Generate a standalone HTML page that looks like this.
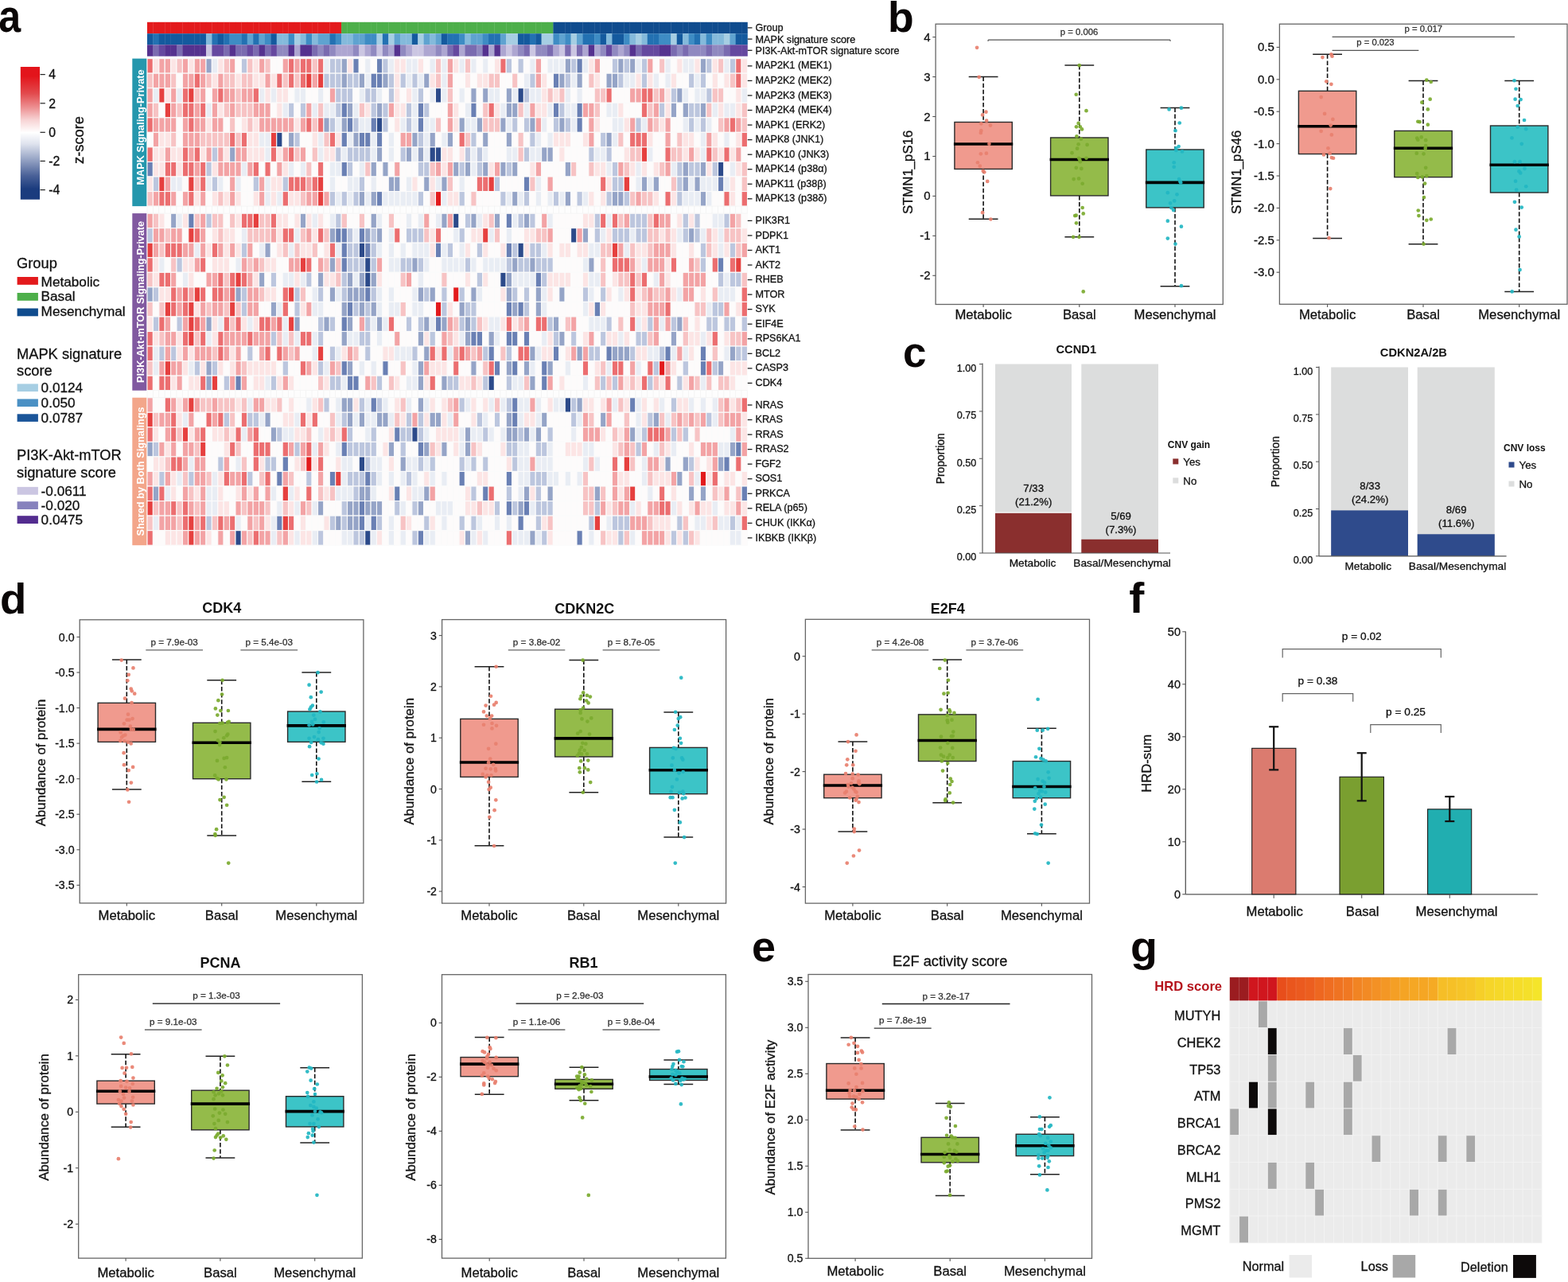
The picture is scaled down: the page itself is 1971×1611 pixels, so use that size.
<!DOCTYPE html>
<html><head><meta charset="utf-8"><title>Figure</title>
<style>html,body{margin:0;padding:0;background:#fff;width:1971px;height:1611px;overflow:hidden}
svg{display:block;font-family:'Liberation Sans', Arial, sans-serif}
.hm rect{width:7.4px;height:18.55px;stroke:#fbfbfb;stroke-width:1.1px}
.hg rect{width:7.4px;height:9px;fill:#fdfdfd;stroke:#f3f3f3;stroke-width:0.7px}</style></head>
<body><svg width="1971" height="1611" viewBox="0 0 1971 1611">
<rect x="0" y="0" width="1971" height="1611" fill="#ffffff"/>
<text x="0" y="0" font-size="57" font-weight="bold" fill="#0a0606" transform="translate(-1.8 40.2) scale(0.88 1)">a</text>
<text x="1116" y="40.2" font-size="53.5" text-anchor="start" font-weight="bold" fill="#0a0606">b</text>
<text x="1135" y="461.2" font-size="53" text-anchor="start" font-weight="bold" fill="#0a0606">c</text>
<text x="0" y="0" font-size="53" font-weight="bold" fill="#0a0606" transform="translate(0 770.6) scale(1.03 1)">d</text>
<text x="945" y="1208.2" font-size="54" text-anchor="start" font-weight="bold" fill="#0a0606">e</text>
<text x="0" y="0" font-size="53" font-weight="bold" fill="#0a0606" transform="translate(1419.2 770) scale(1.08 1)">f</text>
<text x="0" y="0" font-size="54" font-weight="bold" fill="#0a0606" transform="translate(1421 1208) scale(1.03 1)">g</text>
<rect x="185" y="27.8" width="7.7" height="14.4" fill="#e31a1c"/>
<rect x="192.4" y="27.8" width="7.7" height="14.4" fill="#e31a1c"/>
<rect x="199.79" y="27.8" width="7.7" height="14.4" fill="#e31a1c"/>
<rect x="207.19" y="27.8" width="7.7" height="14.4" fill="#e31a1c"/>
<rect x="214.59" y="27.8" width="7.7" height="14.4" fill="#e31a1c"/>
<rect x="221.99" y="27.8" width="7.7" height="14.4" fill="#e31a1c"/>
<rect x="229.38" y="27.8" width="7.7" height="14.4" fill="#e31a1c"/>
<rect x="236.78" y="27.8" width="7.7" height="14.4" fill="#e31a1c"/>
<rect x="244.18" y="27.8" width="7.7" height="14.4" fill="#e31a1c"/>
<rect x="251.57" y="27.8" width="7.7" height="14.4" fill="#e31a1c"/>
<rect x="258.97" y="27.8" width="7.7" height="14.4" fill="#e31a1c"/>
<rect x="266.37" y="27.8" width="7.7" height="14.4" fill="#e31a1c"/>
<rect x="273.76" y="27.8" width="7.7" height="14.4" fill="#e31a1c"/>
<rect x="281.16" y="27.8" width="7.7" height="14.4" fill="#e31a1c"/>
<rect x="288.56" y="27.8" width="7.7" height="14.4" fill="#e31a1c"/>
<rect x="295.96" y="27.8" width="7.7" height="14.4" fill="#e31a1c"/>
<rect x="303.35" y="27.8" width="7.7" height="14.4" fill="#e31a1c"/>
<rect x="310.75" y="27.8" width="7.7" height="14.4" fill="#e31a1c"/>
<rect x="318.15" y="27.8" width="7.7" height="14.4" fill="#e31a1c"/>
<rect x="325.54" y="27.8" width="7.7" height="14.4" fill="#e31a1c"/>
<rect x="332.94" y="27.8" width="7.7" height="14.4" fill="#e31a1c"/>
<rect x="340.34" y="27.8" width="7.7" height="14.4" fill="#e31a1c"/>
<rect x="347.74" y="27.8" width="7.7" height="14.4" fill="#e31a1c"/>
<rect x="355.13" y="27.8" width="7.7" height="14.4" fill="#e31a1c"/>
<rect x="362.53" y="27.8" width="7.7" height="14.4" fill="#e31a1c"/>
<rect x="369.93" y="27.8" width="7.7" height="14.4" fill="#e31a1c"/>
<rect x="377.32" y="27.8" width="7.7" height="14.4" fill="#e31a1c"/>
<rect x="384.72" y="27.8" width="7.7" height="14.4" fill="#e31a1c"/>
<rect x="392.12" y="27.8" width="7.7" height="14.4" fill="#e31a1c"/>
<rect x="399.51" y="27.8" width="7.7" height="14.4" fill="#e31a1c"/>
<rect x="406.91" y="27.8" width="7.7" height="14.4" fill="#e31a1c"/>
<rect x="414.31" y="27.8" width="7.7" height="14.4" fill="#e31a1c"/>
<rect x="421.71" y="27.8" width="7.7" height="14.4" fill="#e31a1c"/>
<rect x="429.1" y="27.8" width="7.7" height="14.4" fill="#4daf4a"/>
<rect x="436.5" y="27.8" width="7.7" height="14.4" fill="#4daf4a"/>
<rect x="443.9" y="27.8" width="7.7" height="14.4" fill="#4daf4a"/>
<rect x="451.29" y="27.8" width="7.7" height="14.4" fill="#4daf4a"/>
<rect x="458.69" y="27.8" width="7.7" height="14.4" fill="#4daf4a"/>
<rect x="466.09" y="27.8" width="7.7" height="14.4" fill="#4daf4a"/>
<rect x="473.49" y="27.8" width="7.7" height="14.4" fill="#4daf4a"/>
<rect x="480.88" y="27.8" width="7.7" height="14.4" fill="#4daf4a"/>
<rect x="488.28" y="27.8" width="7.7" height="14.4" fill="#4daf4a"/>
<rect x="495.68" y="27.8" width="7.7" height="14.4" fill="#4daf4a"/>
<rect x="503.07" y="27.8" width="7.7" height="14.4" fill="#4daf4a"/>
<rect x="510.47" y="27.8" width="7.7" height="14.4" fill="#4daf4a"/>
<rect x="517.87" y="27.8" width="7.7" height="14.4" fill="#4daf4a"/>
<rect x="525.26" y="27.8" width="7.7" height="14.4" fill="#4daf4a"/>
<rect x="532.66" y="27.8" width="7.7" height="14.4" fill="#4daf4a"/>
<rect x="540.06" y="27.8" width="7.7" height="14.4" fill="#4daf4a"/>
<rect x="547.46" y="27.8" width="7.7" height="14.4" fill="#4daf4a"/>
<rect x="554.85" y="27.8" width="7.7" height="14.4" fill="#4daf4a"/>
<rect x="562.25" y="27.8" width="7.7" height="14.4" fill="#4daf4a"/>
<rect x="569.65" y="27.8" width="7.7" height="14.4" fill="#4daf4a"/>
<rect x="577.04" y="27.8" width="7.7" height="14.4" fill="#4daf4a"/>
<rect x="584.44" y="27.8" width="7.7" height="14.4" fill="#4daf4a"/>
<rect x="591.84" y="27.8" width="7.7" height="14.4" fill="#4daf4a"/>
<rect x="599.24" y="27.8" width="7.7" height="14.4" fill="#4daf4a"/>
<rect x="606.63" y="27.8" width="7.7" height="14.4" fill="#4daf4a"/>
<rect x="614.03" y="27.8" width="7.7" height="14.4" fill="#4daf4a"/>
<rect x="621.43" y="27.8" width="7.7" height="14.4" fill="#4daf4a"/>
<rect x="628.82" y="27.8" width="7.7" height="14.4" fill="#4daf4a"/>
<rect x="636.22" y="27.8" width="7.7" height="14.4" fill="#4daf4a"/>
<rect x="643.62" y="27.8" width="7.7" height="14.4" fill="#4daf4a"/>
<rect x="651.01" y="27.8" width="7.7" height="14.4" fill="#4daf4a"/>
<rect x="658.41" y="27.8" width="7.7" height="14.4" fill="#4daf4a"/>
<rect x="665.81" y="27.8" width="7.7" height="14.4" fill="#4daf4a"/>
<rect x="673.21" y="27.8" width="7.7" height="14.4" fill="#4daf4a"/>
<rect x="680.6" y="27.8" width="7.7" height="14.4" fill="#4daf4a"/>
<rect x="688" y="27.8" width="7.7" height="14.4" fill="#4daf4a"/>
<rect x="695.4" y="27.8" width="7.7" height="14.4" fill="#104c8e"/>
<rect x="702.79" y="27.8" width="7.7" height="14.4" fill="#104c8e"/>
<rect x="710.19" y="27.8" width="7.7" height="14.4" fill="#104c8e"/>
<rect x="717.59" y="27.8" width="7.7" height="14.4" fill="#104c8e"/>
<rect x="724.99" y="27.8" width="7.7" height="14.4" fill="#104c8e"/>
<rect x="732.38" y="27.8" width="7.7" height="14.4" fill="#104c8e"/>
<rect x="739.78" y="27.8" width="7.7" height="14.4" fill="#104c8e"/>
<rect x="747.18" y="27.8" width="7.7" height="14.4" fill="#104c8e"/>
<rect x="754.57" y="27.8" width="7.7" height="14.4" fill="#104c8e"/>
<rect x="761.97" y="27.8" width="7.7" height="14.4" fill="#104c8e"/>
<rect x="769.37" y="27.8" width="7.7" height="14.4" fill="#104c8e"/>
<rect x="776.76" y="27.8" width="7.7" height="14.4" fill="#104c8e"/>
<rect x="784.16" y="27.8" width="7.7" height="14.4" fill="#104c8e"/>
<rect x="791.56" y="27.8" width="7.7" height="14.4" fill="#104c8e"/>
<rect x="798.96" y="27.8" width="7.7" height="14.4" fill="#104c8e"/>
<rect x="806.35" y="27.8" width="7.7" height="14.4" fill="#104c8e"/>
<rect x="813.75" y="27.8" width="7.7" height="14.4" fill="#104c8e"/>
<rect x="821.15" y="27.8" width="7.7" height="14.4" fill="#104c8e"/>
<rect x="828.54" y="27.8" width="7.7" height="14.4" fill="#104c8e"/>
<rect x="835.94" y="27.8" width="7.7" height="14.4" fill="#104c8e"/>
<rect x="843.34" y="27.8" width="7.7" height="14.4" fill="#104c8e"/>
<rect x="850.74" y="27.8" width="7.7" height="14.4" fill="#104c8e"/>
<rect x="858.13" y="27.8" width="7.7" height="14.4" fill="#104c8e"/>
<rect x="865.53" y="27.8" width="7.7" height="14.4" fill="#104c8e"/>
<rect x="872.93" y="27.8" width="7.7" height="14.4" fill="#104c8e"/>
<rect x="880.32" y="27.8" width="7.7" height="14.4" fill="#104c8e"/>
<rect x="887.72" y="27.8" width="7.7" height="14.4" fill="#104c8e"/>
<rect x="895.12" y="27.8" width="7.7" height="14.4" fill="#104c8e"/>
<rect x="902.51" y="27.8" width="7.7" height="14.4" fill="#104c8e"/>
<rect x="909.91" y="27.8" width="7.7" height="14.4" fill="#104c8e"/>
<rect x="917.31" y="27.8" width="7.7" height="14.4" fill="#104c8e"/>
<rect x="924.71" y="27.8" width="7.7" height="14.4" fill="#104c8e"/>
<rect x="932.1" y="27.8" width="7.7" height="14.4" fill="#104c8e"/>
<rect x="185" y="42.2" width="7.7" height="14.1" fill="#145a9e"/>
<rect x="192.4" y="42.2" width="7.7" height="14.1" fill="#2371b2"/>
<rect x="199.79" y="42.2" width="7.7" height="14.1" fill="#145a9e"/>
<rect x="207.19" y="42.2" width="7.7" height="14.1" fill="#145a9e"/>
<rect x="214.59" y="42.2" width="7.7" height="14.1" fill="#145a9e"/>
<rect x="221.99" y="42.2" width="7.7" height="14.1" fill="#145a9e"/>
<rect x="229.38" y="42.2" width="7.7" height="14.1" fill="#145a9e"/>
<rect x="236.78" y="42.2" width="7.7" height="14.1" fill="#145a9e"/>
<rect x="244.18" y="42.2" width="7.7" height="14.1" fill="#145a9e"/>
<rect x="251.57" y="42.2" width="7.7" height="14.1" fill="#145a9e"/>
<rect x="258.97" y="42.2" width="7.7" height="14.1" fill="#84badb"/>
<rect x="266.37" y="42.2" width="7.7" height="14.1" fill="#2371b2"/>
<rect x="273.76" y="42.2" width="7.7" height="14.1" fill="#145a9e"/>
<rect x="281.16" y="42.2" width="7.7" height="14.1" fill="#2371b2"/>
<rect x="288.56" y="42.2" width="7.7" height="14.1" fill="#3e8cc4"/>
<rect x="295.96" y="42.2" width="7.7" height="14.1" fill="#3e8cc4"/>
<rect x="303.35" y="42.2" width="7.7" height="14.1" fill="#2371b2"/>
<rect x="310.75" y="42.2" width="7.7" height="14.1" fill="#5fa3d0"/>
<rect x="318.15" y="42.2" width="7.7" height="14.1" fill="#2371b2"/>
<rect x="325.54" y="42.2" width="7.7" height="14.1" fill="#5fa3d0"/>
<rect x="332.94" y="42.2" width="7.7" height="14.1" fill="#3e8cc4"/>
<rect x="340.34" y="42.2" width="7.7" height="14.1" fill="#145a9e"/>
<rect x="347.74" y="42.2" width="7.7" height="14.1" fill="#84badb"/>
<rect x="355.13" y="42.2" width="7.7" height="14.1" fill="#84badb"/>
<rect x="362.53" y="42.2" width="7.7" height="14.1" fill="#3e8cc4"/>
<rect x="369.93" y="42.2" width="7.7" height="14.1" fill="#a6cee3"/>
<rect x="377.32" y="42.2" width="7.7" height="14.1" fill="#84badb"/>
<rect x="384.72" y="42.2" width="7.7" height="14.1" fill="#3e8cc4"/>
<rect x="392.12" y="42.2" width="7.7" height="14.1" fill="#84badb"/>
<rect x="399.51" y="42.2" width="7.7" height="14.1" fill="#5fa3d0"/>
<rect x="406.91" y="42.2" width="7.7" height="14.1" fill="#5fa3d0"/>
<rect x="414.31" y="42.2" width="7.7" height="14.1" fill="#2371b2"/>
<rect x="421.71" y="42.2" width="7.7" height="14.1" fill="#3e8cc4"/>
<rect x="429.1" y="42.2" width="7.7" height="14.1" fill="#84badb"/>
<rect x="436.5" y="42.2" width="7.7" height="14.1" fill="#84badb"/>
<rect x="443.9" y="42.2" width="7.7" height="14.1" fill="#5fa3d0"/>
<rect x="451.29" y="42.2" width="7.7" height="14.1" fill="#5fa3d0"/>
<rect x="458.69" y="42.2" width="7.7" height="14.1" fill="#3e8cc4"/>
<rect x="466.09" y="42.2" width="7.7" height="14.1" fill="#3e8cc4"/>
<rect x="473.49" y="42.2" width="7.7" height="14.1" fill="#a6cee3"/>
<rect x="480.88" y="42.2" width="7.7" height="14.1" fill="#2371b2"/>
<rect x="488.28" y="42.2" width="7.7" height="14.1" fill="#a6cee3"/>
<rect x="495.68" y="42.2" width="7.7" height="14.1" fill="#5fa3d0"/>
<rect x="503.07" y="42.2" width="7.7" height="14.1" fill="#84badb"/>
<rect x="510.47" y="42.2" width="7.7" height="14.1" fill="#84badb"/>
<rect x="517.87" y="42.2" width="7.7" height="14.1" fill="#145a9e"/>
<rect x="525.26" y="42.2" width="7.7" height="14.1" fill="#a6cee3"/>
<rect x="532.66" y="42.2" width="7.7" height="14.1" fill="#5fa3d0"/>
<rect x="540.06" y="42.2" width="7.7" height="14.1" fill="#84badb"/>
<rect x="547.46" y="42.2" width="7.7" height="14.1" fill="#5fa3d0"/>
<rect x="554.85" y="42.2" width="7.7" height="14.1" fill="#145a9e"/>
<rect x="562.25" y="42.2" width="7.7" height="14.1" fill="#2371b2"/>
<rect x="569.65" y="42.2" width="7.7" height="14.1" fill="#2371b2"/>
<rect x="577.04" y="42.2" width="7.7" height="14.1" fill="#3e8cc4"/>
<rect x="584.44" y="42.2" width="7.7" height="14.1" fill="#84badb"/>
<rect x="591.84" y="42.2" width="7.7" height="14.1" fill="#5fa3d0"/>
<rect x="599.24" y="42.2" width="7.7" height="14.1" fill="#5fa3d0"/>
<rect x="606.63" y="42.2" width="7.7" height="14.1" fill="#3e8cc4"/>
<rect x="614.03" y="42.2" width="7.7" height="14.1" fill="#2371b2"/>
<rect x="621.43" y="42.2" width="7.7" height="14.1" fill="#2371b2"/>
<rect x="628.82" y="42.2" width="7.7" height="14.1" fill="#5fa3d0"/>
<rect x="636.22" y="42.2" width="7.7" height="14.1" fill="#a6cee3"/>
<rect x="643.62" y="42.2" width="7.7" height="14.1" fill="#a6cee3"/>
<rect x="651.01" y="42.2" width="7.7" height="14.1" fill="#145a9e"/>
<rect x="658.41" y="42.2" width="7.7" height="14.1" fill="#145a9e"/>
<rect x="665.81" y="42.2" width="7.7" height="14.1" fill="#2371b2"/>
<rect x="673.21" y="42.2" width="7.7" height="14.1" fill="#145a9e"/>
<rect x="680.6" y="42.2" width="7.7" height="14.1" fill="#a6cee3"/>
<rect x="688" y="42.2" width="7.7" height="14.1" fill="#a6cee3"/>
<rect x="695.4" y="42.2" width="7.7" height="14.1" fill="#3e8cc4"/>
<rect x="702.79" y="42.2" width="7.7" height="14.1" fill="#5fa3d0"/>
<rect x="710.19" y="42.2" width="7.7" height="14.1" fill="#3e8cc4"/>
<rect x="717.59" y="42.2" width="7.7" height="14.1" fill="#a6cee3"/>
<rect x="724.99" y="42.2" width="7.7" height="14.1" fill="#5fa3d0"/>
<rect x="732.38" y="42.2" width="7.7" height="14.1" fill="#2371b2"/>
<rect x="739.78" y="42.2" width="7.7" height="14.1" fill="#2371b2"/>
<rect x="747.18" y="42.2" width="7.7" height="14.1" fill="#3e8cc4"/>
<rect x="754.57" y="42.2" width="7.7" height="14.1" fill="#145a9e"/>
<rect x="761.97" y="42.2" width="7.7" height="14.1" fill="#84badb"/>
<rect x="769.37" y="42.2" width="7.7" height="14.1" fill="#145a9e"/>
<rect x="776.76" y="42.2" width="7.7" height="14.1" fill="#145a9e"/>
<rect x="784.16" y="42.2" width="7.7" height="14.1" fill="#3e8cc4"/>
<rect x="791.56" y="42.2" width="7.7" height="14.1" fill="#84badb"/>
<rect x="798.96" y="42.2" width="7.7" height="14.1" fill="#a6cee3"/>
<rect x="806.35" y="42.2" width="7.7" height="14.1" fill="#84badb"/>
<rect x="813.75" y="42.2" width="7.7" height="14.1" fill="#2371b2"/>
<rect x="821.15" y="42.2" width="7.7" height="14.1" fill="#2371b2"/>
<rect x="828.54" y="42.2" width="7.7" height="14.1" fill="#3e8cc4"/>
<rect x="835.94" y="42.2" width="7.7" height="14.1" fill="#3e8cc4"/>
<rect x="843.34" y="42.2" width="7.7" height="14.1" fill="#a6cee3"/>
<rect x="850.74" y="42.2" width="7.7" height="14.1" fill="#145a9e"/>
<rect x="858.13" y="42.2" width="7.7" height="14.1" fill="#84badb"/>
<rect x="865.53" y="42.2" width="7.7" height="14.1" fill="#3e8cc4"/>
<rect x="872.93" y="42.2" width="7.7" height="14.1" fill="#2371b2"/>
<rect x="880.32" y="42.2" width="7.7" height="14.1" fill="#84badb"/>
<rect x="887.72" y="42.2" width="7.7" height="14.1" fill="#3e8cc4"/>
<rect x="895.12" y="42.2" width="7.7" height="14.1" fill="#84badb"/>
<rect x="902.51" y="42.2" width="7.7" height="14.1" fill="#84badb"/>
<rect x="909.91" y="42.2" width="7.7" height="14.1" fill="#a6cee3"/>
<rect x="917.31" y="42.2" width="7.7" height="14.1" fill="#5fa3d0"/>
<rect x="924.71" y="42.2" width="7.7" height="14.1" fill="#145a9e"/>
<rect x="932.1" y="42.2" width="7.7" height="14.1" fill="#145a9e"/>
<rect x="185" y="56.3" width="7.7" height="14.4" fill="#55328f"/>
<rect x="192.4" y="56.3" width="7.7" height="14.4" fill="#7a6bb0"/>
<rect x="199.79" y="56.3" width="7.7" height="14.4" fill="#65489f"/>
<rect x="207.19" y="56.3" width="7.7" height="14.4" fill="#55328f"/>
<rect x="214.59" y="56.3" width="7.7" height="14.4" fill="#55328f"/>
<rect x="221.99" y="56.3" width="7.7" height="14.4" fill="#7a6bb0"/>
<rect x="229.38" y="56.3" width="7.7" height="14.4" fill="#55328f"/>
<rect x="236.78" y="56.3" width="7.7" height="14.4" fill="#55328f"/>
<rect x="244.18" y="56.3" width="7.7" height="14.4" fill="#55328f"/>
<rect x="251.57" y="56.3" width="7.7" height="14.4" fill="#55328f"/>
<rect x="258.97" y="56.3" width="7.7" height="14.4" fill="#cbc6e2"/>
<rect x="266.37" y="56.3" width="7.7" height="14.4" fill="#65489f"/>
<rect x="273.76" y="56.3" width="7.7" height="14.4" fill="#65489f"/>
<rect x="281.16" y="56.3" width="7.7" height="14.4" fill="#7a6bb0"/>
<rect x="288.56" y="56.3" width="7.7" height="14.4" fill="#55328f"/>
<rect x="295.96" y="56.3" width="7.7" height="14.4" fill="#7a6bb0"/>
<rect x="303.35" y="56.3" width="7.7" height="14.4" fill="#7a6bb0"/>
<rect x="310.75" y="56.3" width="7.7" height="14.4" fill="#65489f"/>
<rect x="318.15" y="56.3" width="7.7" height="14.4" fill="#7a6bb0"/>
<rect x="325.54" y="56.3" width="7.7" height="14.4" fill="#55328f"/>
<rect x="332.94" y="56.3" width="7.7" height="14.4" fill="#7a6bb0"/>
<rect x="340.34" y="56.3" width="7.7" height="14.4" fill="#65489f"/>
<rect x="347.74" y="56.3" width="7.7" height="14.4" fill="#9089c0"/>
<rect x="355.13" y="56.3" width="7.7" height="14.4" fill="#9089c0"/>
<rect x="362.53" y="56.3" width="7.7" height="14.4" fill="#55328f"/>
<rect x="369.93" y="56.3" width="7.7" height="14.4" fill="#ada6d1"/>
<rect x="377.32" y="56.3" width="7.7" height="14.4" fill="#55328f"/>
<rect x="384.72" y="56.3" width="7.7" height="14.4" fill="#55328f"/>
<rect x="392.12" y="56.3" width="7.7" height="14.4" fill="#7a6bb0"/>
<rect x="399.51" y="56.3" width="7.7" height="14.4" fill="#9089c0"/>
<rect x="406.91" y="56.3" width="7.7" height="14.4" fill="#7a6bb0"/>
<rect x="414.31" y="56.3" width="7.7" height="14.4" fill="#9089c0"/>
<rect x="421.71" y="56.3" width="7.7" height="14.4" fill="#ada6d1"/>
<rect x="429.1" y="56.3" width="7.7" height="14.4" fill="#ada6d1"/>
<rect x="436.5" y="56.3" width="7.7" height="14.4" fill="#ada6d1"/>
<rect x="443.9" y="56.3" width="7.7" height="14.4" fill="#9089c0"/>
<rect x="451.29" y="56.3" width="7.7" height="14.4" fill="#cbc6e2"/>
<rect x="458.69" y="56.3" width="7.7" height="14.4" fill="#ada6d1"/>
<rect x="466.09" y="56.3" width="7.7" height="14.4" fill="#9089c0"/>
<rect x="473.49" y="56.3" width="7.7" height="14.4" fill="#cbc6e2"/>
<rect x="480.88" y="56.3" width="7.7" height="14.4" fill="#9089c0"/>
<rect x="488.28" y="56.3" width="7.7" height="14.4" fill="#ada6d1"/>
<rect x="495.68" y="56.3" width="7.7" height="14.4" fill="#55328f"/>
<rect x="503.07" y="56.3" width="7.7" height="14.4" fill="#9089c0"/>
<rect x="510.47" y="56.3" width="7.7" height="14.4" fill="#ada6d1"/>
<rect x="517.87" y="56.3" width="7.7" height="14.4" fill="#cbc6e2"/>
<rect x="525.26" y="56.3" width="7.7" height="14.4" fill="#cbc6e2"/>
<rect x="532.66" y="56.3" width="7.7" height="14.4" fill="#ada6d1"/>
<rect x="540.06" y="56.3" width="7.7" height="14.4" fill="#ada6d1"/>
<rect x="547.46" y="56.3" width="7.7" height="14.4" fill="#9089c0"/>
<rect x="554.85" y="56.3" width="7.7" height="14.4" fill="#ada6d1"/>
<rect x="562.25" y="56.3" width="7.7" height="14.4" fill="#7a6bb0"/>
<rect x="569.65" y="56.3" width="7.7" height="14.4" fill="#65489f"/>
<rect x="577.04" y="56.3" width="7.7" height="14.4" fill="#ada6d1"/>
<rect x="584.44" y="56.3" width="7.7" height="14.4" fill="#7a6bb0"/>
<rect x="591.84" y="56.3" width="7.7" height="14.4" fill="#7a6bb0"/>
<rect x="599.24" y="56.3" width="7.7" height="14.4" fill="#9089c0"/>
<rect x="606.63" y="56.3" width="7.7" height="14.4" fill="#55328f"/>
<rect x="614.03" y="56.3" width="7.7" height="14.4" fill="#ada6d1"/>
<rect x="621.43" y="56.3" width="7.7" height="14.4" fill="#55328f"/>
<rect x="628.82" y="56.3" width="7.7" height="14.4" fill="#ada6d1"/>
<rect x="636.22" y="56.3" width="7.7" height="14.4" fill="#cbc6e2"/>
<rect x="643.62" y="56.3" width="7.7" height="14.4" fill="#ada6d1"/>
<rect x="651.01" y="56.3" width="7.7" height="14.4" fill="#9089c0"/>
<rect x="658.41" y="56.3" width="7.7" height="14.4" fill="#7a6bb0"/>
<rect x="665.81" y="56.3" width="7.7" height="14.4" fill="#cbc6e2"/>
<rect x="673.21" y="56.3" width="7.7" height="14.4" fill="#9089c0"/>
<rect x="680.6" y="56.3" width="7.7" height="14.4" fill="#9089c0"/>
<rect x="688" y="56.3" width="7.7" height="14.4" fill="#7a6bb0"/>
<rect x="695.4" y="56.3" width="7.7" height="14.4" fill="#ada6d1"/>
<rect x="702.79" y="56.3" width="7.7" height="14.4" fill="#cbc6e2"/>
<rect x="710.19" y="56.3" width="7.7" height="14.4" fill="#7a6bb0"/>
<rect x="717.59" y="56.3" width="7.7" height="14.4" fill="#cbc6e2"/>
<rect x="724.99" y="56.3" width="7.7" height="14.4" fill="#7a6bb0"/>
<rect x="732.38" y="56.3" width="7.7" height="14.4" fill="#ada6d1"/>
<rect x="739.78" y="56.3" width="7.7" height="14.4" fill="#55328f"/>
<rect x="747.18" y="56.3" width="7.7" height="14.4" fill="#ada6d1"/>
<rect x="754.57" y="56.3" width="7.7" height="14.4" fill="#9089c0"/>
<rect x="761.97" y="56.3" width="7.7" height="14.4" fill="#65489f"/>
<rect x="769.37" y="56.3" width="7.7" height="14.4" fill="#9089c0"/>
<rect x="776.76" y="56.3" width="7.7" height="14.4" fill="#ada6d1"/>
<rect x="784.16" y="56.3" width="7.7" height="14.4" fill="#9089c0"/>
<rect x="791.56" y="56.3" width="7.7" height="14.4" fill="#55328f"/>
<rect x="798.96" y="56.3" width="7.7" height="14.4" fill="#7a6bb0"/>
<rect x="806.35" y="56.3" width="7.7" height="14.4" fill="#65489f"/>
<rect x="813.75" y="56.3" width="7.7" height="14.4" fill="#65489f"/>
<rect x="821.15" y="56.3" width="7.7" height="14.4" fill="#65489f"/>
<rect x="828.54" y="56.3" width="7.7" height="14.4" fill="#55328f"/>
<rect x="835.94" y="56.3" width="7.7" height="14.4" fill="#55328f"/>
<rect x="843.34" y="56.3" width="7.7" height="14.4" fill="#7a6bb0"/>
<rect x="850.74" y="56.3" width="7.7" height="14.4" fill="#9089c0"/>
<rect x="858.13" y="56.3" width="7.7" height="14.4" fill="#7a6bb0"/>
<rect x="865.53" y="56.3" width="7.7" height="14.4" fill="#9089c0"/>
<rect x="872.93" y="56.3" width="7.7" height="14.4" fill="#9089c0"/>
<rect x="880.32" y="56.3" width="7.7" height="14.4" fill="#9089c0"/>
<rect x="887.72" y="56.3" width="7.7" height="14.4" fill="#7a6bb0"/>
<rect x="895.12" y="56.3" width="7.7" height="14.4" fill="#9089c0"/>
<rect x="902.51" y="56.3" width="7.7" height="14.4" fill="#9089c0"/>
<rect x="909.91" y="56.3" width="7.7" height="14.4" fill="#7a6bb0"/>
<rect x="917.31" y="56.3" width="7.7" height="14.4" fill="#65489f"/>
<rect x="924.71" y="56.3" width="7.7" height="14.4" fill="#65489f"/>
<rect x="932.1" y="56.3" width="7.7" height="14.4" fill="#65489f"/>
<g class="hm">
<g transform="translate(0 73.6)">
<rect x="185" fill="#ec6e70"/><rect x="192.4" fill="#fce5e5"/><rect x="199.79" fill="#f3a3a5"/><rect x="207.19" fill="#f3a3a5"/><rect x="214.59" fill="#fce5e5"/><rect x="221.99" fill="#f7c3c4"/><rect x="229.38" fill="#f3a3a5"/><rect x="236.78" fill="#fce5e5"/><rect x="244.18" fill="#f3a3a5"/><rect x="251.57" fill="#f3a3a5"/><rect x="258.97" fill="#95a4c7"/><rect x="266.37" fill="#e9edf4"/><rect x="273.76" fill="#fce5e5"/><rect x="281.16" fill="#f7c3c4"/><rect x="288.56" fill="#f3a3a5"/><rect x="295.96" fill="#fdfbfb"/><rect x="303.35" fill="#bcc6de"/><rect x="310.75" fill="#f7c3c4"/><rect x="318.15" fill="#fce5e5"/><rect x="325.54" fill="#f3a3a5"/><rect x="332.94" fill="#f7c3c4"/><rect x="340.34" fill="#fdfbfb"/><rect x="347.74" fill="#fdfbfb"/><rect x="355.13" fill="#f3a3a5"/><rect x="362.53" fill="#ec6e70"/><rect x="369.93" fill="#f3a3a5"/><rect x="377.32" fill="#ec6e70"/><rect x="384.72" fill="#ec6e70"/><rect x="392.12" fill="#f7c3c4"/><rect x="399.51" fill="#ec6e70"/><rect x="406.91" fill="#e9edf4"/><rect x="414.31" fill="#bcc6de"/><rect x="421.71" fill="#bcc6de"/><rect x="429.1" fill="#95a4c7"/><rect x="436.5" fill="#fce5e5"/><rect x="443.9" fill="#6a80b4"/><rect x="451.29" fill="#fdfbfb"/><rect x="458.69" fill="#e9edf4"/><rect x="466.09" fill="#fdfbfb"/><rect x="473.49" fill="#6a80b4"/><rect x="480.88" fill="#bcc6de"/><rect x="488.28" fill="#e9edf4"/><rect x="495.68" fill="#fce5e5"/><rect x="503.07" fill="#fce5e5"/><rect x="510.47" fill="#e9edf4"/><rect x="517.87" fill="#e9edf4"/><rect x="525.26" fill="#fce5e5"/><rect x="532.66" fill="#fdfbfb"/><rect x="540.06" fill="#e9edf4"/><rect x="547.46" fill="#f7c3c4"/><rect x="554.85" fill="#e9edf4"/><rect x="562.25" fill="#f3a3a5"/><rect x="569.65" fill="#fce5e5"/><rect x="577.04" fill="#e9edf4"/><rect x="584.44" fill="#f7c3c4"/><rect x="591.84" fill="#e9edf4"/><rect x="599.24" fill="#fdfbfb"/><rect x="606.63" fill="#e9edf4"/><rect x="614.03" fill="#fdfbfb"/><rect x="621.43" fill="#fce5e5"/><rect x="628.82" fill="#ec6e70"/><rect x="636.22" fill="#bcc6de"/><rect x="643.62" fill="#fdfbfb"/><rect x="651.01" fill="#bcc6de"/><rect x="658.41" fill="#fdfbfb"/><rect x="665.81" fill="#e9edf4"/><rect x="673.21" fill="#f3a3a5"/><rect x="680.6" fill="#fdfbfb"/><rect x="688" fill="#e9edf4"/><rect x="695.4" fill="#e9edf4"/><rect x="702.79" fill="#e9edf4"/><rect x="710.19" fill="#95a4c7"/><rect x="717.59" fill="#bcc6de"/><rect x="724.99" fill="#6a80b4"/><rect x="732.38" fill="#e9edf4"/><rect x="739.78" fill="#fce5e5"/><rect x="747.18" fill="#f3a3a5"/><rect x="754.57" fill="#fdfbfb"/><rect x="761.97" fill="#fdfbfb"/><rect x="769.37" fill="#bcc6de"/><rect x="776.76" fill="#95a4c7"/><rect x="784.16" fill="#bcc6de"/><rect x="791.56" fill="#95a4c7"/><rect x="798.96" fill="#e9edf4"/><rect x="806.35" fill="#bcc6de"/><rect x="813.75" fill="#f3a3a5"/><rect x="821.15" fill="#fdfbfb"/><rect x="828.54" fill="#f7c3c4"/><rect x="835.94" fill="#e9edf4"/><rect x="843.34" fill="#fdfbfb"/><rect x="850.74" fill="#fce5e5"/><rect x="858.13" fill="#e9edf4"/><rect x="865.53" fill="#e9edf4"/><rect x="872.93" fill="#fce5e5"/><rect x="880.32" fill="#95a4c7"/><rect x="887.72" fill="#bcc6de"/><rect x="895.12" fill="#fce5e5"/><rect x="902.51" fill="#f7c3c4"/><rect x="909.91" fill="#e9edf4"/><rect x="917.31" fill="#bcc6de"/><rect x="924.71" fill="#ec6e70"/><rect x="932.1" fill="#fce5e5"/>
</g>
<g transform="translate(0 92.15)">
<rect x="185" fill="#f7c3c4"/><rect x="192.4" fill="#f3a3a5"/><rect x="199.79" fill="#f3a3a5"/><rect x="207.19" fill="#f3a3a5"/><rect x="214.59" fill="#f7c3c4"/><rect x="221.99" fill="#fdfbfb"/><rect x="229.38" fill="#f3a3a5"/><rect x="236.78" fill="#f3a3a5"/><rect x="244.18" fill="#ec6e70"/><rect x="251.57" fill="#f3a3a5"/><rect x="258.97" fill="#f7c3c4"/><rect x="266.37" fill="#fce5e5"/><rect x="273.76" fill="#f3a3a5"/><rect x="281.16" fill="#f7c3c4"/><rect x="288.56" fill="#f7c3c4"/><rect x="295.96" fill="#fce5e5"/><rect x="303.35" fill="#f7c3c4"/><rect x="310.75" fill="#f7c3c4"/><rect x="318.15" fill="#fce5e5"/><rect x="325.54" fill="#fce5e5"/><rect x="332.94" fill="#f3a3a5"/><rect x="340.34" fill="#fce5e5"/><rect x="347.74" fill="#ec6e70"/><rect x="355.13" fill="#f7c3c4"/><rect x="362.53" fill="#ec6e70"/><rect x="369.93" fill="#f7c3c4"/><rect x="377.32" fill="#ec6e70"/><rect x="384.72" fill="#e6403f"/><rect x="392.12" fill="#f3a3a5"/><rect x="399.51" fill="#e6403f"/><rect x="406.91" fill="#bcc6de"/><rect x="414.31" fill="#bcc6de"/><rect x="421.71" fill="#bcc6de"/><rect x="429.1" fill="#95a4c7"/><rect x="436.5" fill="#bcc6de"/><rect x="443.9" fill="#bcc6de"/><rect x="451.29" fill="#95a4c7"/><rect x="458.69" fill="#e9edf4"/><rect x="466.09" fill="#6a80b4"/><rect x="473.49" fill="#6a80b4"/><rect x="480.88" fill="#95a4c7"/><rect x="488.28" fill="#bcc6de"/><rect x="495.68" fill="#fce5e5"/><rect x="503.07" fill="#bcc6de"/><rect x="510.47" fill="#e9edf4"/><rect x="517.87" fill="#bcc6de"/><rect x="525.26" fill="#e9edf4"/><rect x="532.66" fill="#95a4c7"/><rect x="540.06" fill="#fce5e5"/><rect x="547.46" fill="#f7c3c4"/><rect x="554.85" fill="#e9edf4"/><rect x="562.25" fill="#f3a3a5"/><rect x="569.65" fill="#fdfbfb"/><rect x="577.04" fill="#fdfbfb"/><rect x="584.44" fill="#fce5e5"/><rect x="591.84" fill="#fdfbfb"/><rect x="599.24" fill="#fce5e5"/><rect x="606.63" fill="#fce5e5"/><rect x="614.03" fill="#f7c3c4"/><rect x="621.43" fill="#f7c3c4"/><rect x="628.82" fill="#fdfbfb"/><rect x="636.22" fill="#fdfbfb"/><rect x="643.62" fill="#f7c3c4"/><rect x="651.01" fill="#fdfbfb"/><rect x="658.41" fill="#e9edf4"/><rect x="665.81" fill="#bcc6de"/><rect x="673.21" fill="#f3a3a5"/><rect x="680.6" fill="#fce5e5"/><rect x="688" fill="#fdfbfb"/><rect x="695.4" fill="#6a80b4"/><rect x="702.79" fill="#95a4c7"/><rect x="710.19" fill="#bcc6de"/><rect x="717.59" fill="#e9edf4"/><rect x="724.99" fill="#95a4c7"/><rect x="732.38" fill="#fdfbfb"/><rect x="739.78" fill="#f7c3c4"/><rect x="747.18" fill="#fce5e5"/><rect x="754.57" fill="#fdfbfb"/><rect x="761.97" fill="#95a4c7"/><rect x="769.37" fill="#95a4c7"/><rect x="776.76" fill="#bcc6de"/><rect x="784.16" fill="#e9edf4"/><rect x="791.56" fill="#e9edf4"/><rect x="798.96" fill="#fce5e5"/><rect x="806.35" fill="#bcc6de"/><rect x="813.75" fill="#fce5e5"/><rect x="821.15" fill="#e9edf4"/><rect x="828.54" fill="#fdfbfb"/><rect x="835.94" fill="#e9edf4"/><rect x="843.34" fill="#fce5e5"/><rect x="850.74" fill="#fdfbfb"/><rect x="858.13" fill="#fdfbfb"/><rect x="865.53" fill="#bcc6de"/><rect x="872.93" fill="#e9edf4"/><rect x="880.32" fill="#bcc6de"/><rect x="887.72" fill="#fdfbfb"/><rect x="895.12" fill="#fce5e5"/><rect x="902.51" fill="#fdfbfb"/><rect x="909.91" fill="#fce5e5"/><rect x="917.31" fill="#f7c3c4"/><rect x="924.71" fill="#ec6e70"/><rect x="932.1" fill="#fce5e5"/>
</g>
<g transform="translate(0 110.7)">
<rect x="185" fill="#f3a3a5"/><rect x="192.4" fill="#e9edf4"/><rect x="199.79" fill="#e6403f"/><rect x="207.19" fill="#fce5e5"/><rect x="214.59" fill="#f3a3a5"/><rect x="221.99" fill="#e9edf4"/><rect x="229.38" fill="#ec6e70"/><rect x="236.78" fill="#e6403f"/><rect x="244.18" fill="#f7c3c4"/><rect x="251.57" fill="#f3a3a5"/><rect x="258.97" fill="#fdfbfb"/><rect x="266.37" fill="#f3a3a5"/><rect x="273.76" fill="#ec6e70"/><rect x="281.16" fill="#f3a3a5"/><rect x="288.56" fill="#f3a3a5"/><rect x="295.96" fill="#f7c3c4"/><rect x="303.35" fill="#f3a3a5"/><rect x="310.75" fill="#f3a3a5"/><rect x="318.15" fill="#ec6e70"/><rect x="325.54" fill="#e9edf4"/><rect x="332.94" fill="#fce5e5"/><rect x="340.34" fill="#e9edf4"/><rect x="347.74" fill="#fce5e5"/><rect x="355.13" fill="#fce5e5"/><rect x="362.53" fill="#fdfbfb"/><rect x="369.93" fill="#e9edf4"/><rect x="377.32" fill="#e9edf4"/><rect x="384.72" fill="#fdfbfb"/><rect x="392.12" fill="#fdfbfb"/><rect x="399.51" fill="#e9edf4"/><rect x="406.91" fill="#fdfbfb"/><rect x="414.31" fill="#f3a3a5"/><rect x="421.71" fill="#bcc6de"/><rect x="429.1" fill="#bcc6de"/><rect x="436.5" fill="#bcc6de"/><rect x="443.9" fill="#fdfbfb"/><rect x="451.29" fill="#e9edf4"/><rect x="458.69" fill="#bcc6de"/><rect x="466.09" fill="#bcc6de"/><rect x="473.49" fill="#e9edf4"/><rect x="480.88" fill="#fdfbfb"/><rect x="488.28" fill="#bcc6de"/><rect x="495.68" fill="#fce5e5"/><rect x="503.07" fill="#fdfbfb"/><rect x="510.47" fill="#fce5e5"/><rect x="517.87" fill="#e9edf4"/><rect x="525.26" fill="#bcc6de"/><rect x="532.66" fill="#fdfbfb"/><rect x="540.06" fill="#e9edf4"/><rect x="547.46" fill="#2c4a8a"/><rect x="554.85" fill="#e9edf4"/><rect x="562.25" fill="#f7c3c4"/><rect x="569.65" fill="#fdfbfb"/><rect x="577.04" fill="#e9edf4"/><rect x="584.44" fill="#fdfbfb"/><rect x="591.84" fill="#95a4c7"/><rect x="599.24" fill="#fdfbfb"/><rect x="606.63" fill="#95a4c7"/><rect x="614.03" fill="#e9edf4"/><rect x="621.43" fill="#e9edf4"/><rect x="628.82" fill="#fdfbfb"/><rect x="636.22" fill="#95a4c7"/><rect x="643.62" fill="#e9edf4"/><rect x="651.01" fill="#2c4a8a"/><rect x="658.41" fill="#bcc6de"/><rect x="665.81" fill="#e9edf4"/><rect x="673.21" fill="#e9edf4"/><rect x="680.6" fill="#fce5e5"/><rect x="688" fill="#f7c3c4"/><rect x="695.4" fill="#fce5e5"/><rect x="702.79" fill="#f7c3c4"/><rect x="710.19" fill="#e9edf4"/><rect x="717.59" fill="#fdfbfb"/><rect x="724.99" fill="#e9edf4"/><rect x="732.38" fill="#fdfbfb"/><rect x="739.78" fill="#fdfbfb"/><rect x="747.18" fill="#f7c3c4"/><rect x="754.57" fill="#f7c3c4"/><rect x="761.97" fill="#ec6e70"/><rect x="769.37" fill="#fdfbfb"/><rect x="776.76" fill="#fdfbfb"/><rect x="784.16" fill="#fdfbfb"/><rect x="791.56" fill="#f3a3a5"/><rect x="798.96" fill="#f3a3a5"/><rect x="806.35" fill="#ec6e70"/><rect x="813.75" fill="#ec6e70"/><rect x="821.15" fill="#f7c3c4"/><rect x="828.54" fill="#f3a3a5"/><rect x="835.94" fill="#fce5e5"/><rect x="843.34" fill="#bcc6de"/><rect x="850.74" fill="#95a4c7"/><rect x="858.13" fill="#e9edf4"/><rect x="865.53" fill="#fdfbfb"/><rect x="872.93" fill="#e9edf4"/><rect x="880.32" fill="#e9edf4"/><rect x="887.72" fill="#bcc6de"/><rect x="895.12" fill="#f7c3c4"/><rect x="902.51" fill="#f7c3c4"/><rect x="909.91" fill="#fdfbfb"/><rect x="917.31" fill="#fdfbfb"/><rect x="924.71" fill="#fce5e5"/><rect x="932.1" fill="#e9edf4"/>
</g>
<g transform="translate(0 129.25)">
<rect x="185" fill="#f3a3a5"/><rect x="192.4" fill="#f7c3c4"/><rect x="199.79" fill="#fdfbfb"/><rect x="207.19" fill="#e6403f"/><rect x="214.59" fill="#f3a3a5"/><rect x="221.99" fill="#f7c3c4"/><rect x="229.38" fill="#ec6e70"/><rect x="236.78" fill="#ec6e70"/><rect x="244.18" fill="#f3a3a5"/><rect x="251.57" fill="#ec6e70"/><rect x="258.97" fill="#e9edf4"/><rect x="266.37" fill="#f3a3a5"/><rect x="273.76" fill="#fce5e5"/><rect x="281.16" fill="#f7c3c4"/><rect x="288.56" fill="#f3a3a5"/><rect x="295.96" fill="#f7c3c4"/><rect x="303.35" fill="#f7c3c4"/><rect x="310.75" fill="#f7c3c4"/><rect x="318.15" fill="#f3a3a5"/><rect x="325.54" fill="#f3a3a5"/><rect x="332.94" fill="#f3a3a5"/><rect x="340.34" fill="#fdfbfb"/><rect x="347.74" fill="#fce5e5"/><rect x="355.13" fill="#e9edf4"/><rect x="362.53" fill="#bcc6de"/><rect x="369.93" fill="#fdfbfb"/><rect x="377.32" fill="#bcc6de"/><rect x="384.72" fill="#f3a3a5"/><rect x="392.12" fill="#e9edf4"/><rect x="399.51" fill="#f7c3c4"/><rect x="406.91" fill="#e9edf4"/><rect x="414.31" fill="#e9edf4"/><rect x="421.71" fill="#bcc6de"/><rect x="429.1" fill="#6a80b4"/><rect x="436.5" fill="#95a4c7"/><rect x="443.9" fill="#e9edf4"/><rect x="451.29" fill="#f7c3c4"/><rect x="458.69" fill="#fce5e5"/><rect x="466.09" fill="#bcc6de"/><rect x="473.49" fill="#95a4c7"/><rect x="480.88" fill="#bcc6de"/><rect x="488.28" fill="#f3a3a5"/><rect x="495.68" fill="#fce5e5"/><rect x="503.07" fill="#fce5e5"/><rect x="510.47" fill="#bcc6de"/><rect x="517.87" fill="#e9edf4"/><rect x="525.26" fill="#6a80b4"/><rect x="532.66" fill="#bcc6de"/><rect x="540.06" fill="#fdfbfb"/><rect x="547.46" fill="#fdfbfb"/><rect x="554.85" fill="#fdfbfb"/><rect x="562.25" fill="#f3a3a5"/><rect x="569.65" fill="#fce5e5"/><rect x="577.04" fill="#fdfbfb"/><rect x="584.44" fill="#e9edf4"/><rect x="591.84" fill="#6a80b4"/><rect x="599.24" fill="#fdfbfb"/><rect x="606.63" fill="#f7c3c4"/><rect x="614.03" fill="#ec6e70"/><rect x="621.43" fill="#fce5e5"/><rect x="628.82" fill="#e9edf4"/><rect x="636.22" fill="#95a4c7"/><rect x="643.62" fill="#95a4c7"/><rect x="651.01" fill="#f7c3c4"/><rect x="658.41" fill="#e9edf4"/><rect x="665.81" fill="#f3a3a5"/><rect x="673.21" fill="#fce5e5"/><rect x="680.6" fill="#fce5e5"/><rect x="688" fill="#e9edf4"/><rect x="695.4" fill="#6a80b4"/><rect x="702.79" fill="#bcc6de"/><rect x="710.19" fill="#e9edf4"/><rect x="717.59" fill="#e9edf4"/><rect x="724.99" fill="#6a80b4"/><rect x="732.38" fill="#f3a3a5"/><rect x="739.78" fill="#f3a3a5"/><rect x="747.18" fill="#f7c3c4"/><rect x="754.57" fill="#fdfbfb"/><rect x="761.97" fill="#e9edf4"/><rect x="769.37" fill="#e9edf4"/><rect x="776.76" fill="#fce5e5"/><rect x="784.16" fill="#fdfbfb"/><rect x="791.56" fill="#fdfbfb"/><rect x="798.96" fill="#fdfbfb"/><rect x="806.35" fill="#ec6e70"/><rect x="813.75" fill="#f7c3c4"/><rect x="821.15" fill="#f3a3a5"/><rect x="828.54" fill="#bcc6de"/><rect x="835.94" fill="#fce5e5"/><rect x="843.34" fill="#95a4c7"/><rect x="850.74" fill="#fdfbfb"/><rect x="858.13" fill="#95a4c7"/><rect x="865.53" fill="#bcc6de"/><rect x="872.93" fill="#bcc6de"/><rect x="880.32" fill="#95a4c7"/><rect x="887.72" fill="#f7c3c4"/><rect x="895.12" fill="#e9edf4"/><rect x="902.51" fill="#fce5e5"/><rect x="909.91" fill="#e9edf4"/><rect x="917.31" fill="#e9edf4"/><rect x="924.71" fill="#fce5e5"/><rect x="932.1" fill="#f7c3c4"/>
</g>
<g transform="translate(0 147.8)">
<rect x="185" fill="#ec6e70"/><rect x="192.4" fill="#f3a3a5"/><rect x="199.79" fill="#f3a3a5"/><rect x="207.19" fill="#f3a3a5"/><rect x="214.59" fill="#f3a3a5"/><rect x="221.99" fill="#fdfbfb"/><rect x="229.38" fill="#f3a3a5"/><rect x="236.78" fill="#ec6e70"/><rect x="244.18" fill="#f3a3a5"/><rect x="251.57" fill="#f3a3a5"/><rect x="258.97" fill="#fce5e5"/><rect x="266.37" fill="#f3a3a5"/><rect x="273.76" fill="#f3a3a5"/><rect x="281.16" fill="#fdfbfb"/><rect x="288.56" fill="#f7c3c4"/><rect x="295.96" fill="#fdfbfb"/><rect x="303.35" fill="#fce5e5"/><rect x="310.75" fill="#f7c3c4"/><rect x="318.15" fill="#fce5e5"/><rect x="325.54" fill="#f3a3a5"/><rect x="332.94" fill="#f3a3a5"/><rect x="340.34" fill="#f3a3a5"/><rect x="347.74" fill="#f3a3a5"/><rect x="355.13" fill="#f3a3a5"/><rect x="362.53" fill="#f3a3a5"/><rect x="369.93" fill="#fce5e5"/><rect x="377.32" fill="#f3a3a5"/><rect x="384.72" fill="#ec6e70"/><rect x="392.12" fill="#f7c3c4"/><rect x="399.51" fill="#ec6e70"/><rect x="406.91" fill="#95a4c7"/><rect x="414.31" fill="#bcc6de"/><rect x="421.71" fill="#e9edf4"/><rect x="429.1" fill="#95a4c7"/><rect x="436.5" fill="#6a80b4"/><rect x="443.9" fill="#bcc6de"/><rect x="451.29" fill="#e9edf4"/><rect x="458.69" fill="#e9edf4"/><rect x="466.09" fill="#6a80b4"/><rect x="473.49" fill="#2c4a8a"/><rect x="480.88" fill="#bcc6de"/><rect x="488.28" fill="#fdfbfb"/><rect x="495.68" fill="#fce5e5"/><rect x="503.07" fill="#e9edf4"/><rect x="510.47" fill="#bcc6de"/><rect x="517.87" fill="#e9edf4"/><rect x="525.26" fill="#6a80b4"/><rect x="532.66" fill="#e9edf4"/><rect x="540.06" fill="#e9edf4"/><rect x="547.46" fill="#f7c3c4"/><rect x="554.85" fill="#fdfbfb"/><rect x="562.25" fill="#f3a3a5"/><rect x="569.65" fill="#fce5e5"/><rect x="577.04" fill="#95a4c7"/><rect x="584.44" fill="#e9edf4"/><rect x="591.84" fill="#e9edf4"/><rect x="599.24" fill="#95a4c7"/><rect x="606.63" fill="#f7c3c4"/><rect x="614.03" fill="#f7c3c4"/><rect x="621.43" fill="#f7c3c4"/><rect x="628.82" fill="#95a4c7"/><rect x="636.22" fill="#e9edf4"/><rect x="643.62" fill="#bcc6de"/><rect x="651.01" fill="#fdfbfb"/><rect x="658.41" fill="#bcc6de"/><rect x="665.81" fill="#95a4c7"/><rect x="673.21" fill="#f3a3a5"/><rect x="680.6" fill="#e9edf4"/><rect x="688" fill="#fdfbfb"/><rect x="695.4" fill="#bcc6de"/><rect x="702.79" fill="#95a4c7"/><rect x="710.19" fill="#bcc6de"/><rect x="717.59" fill="#e9edf4"/><rect x="724.99" fill="#6a80b4"/><rect x="732.38" fill="#fdfbfb"/><rect x="739.78" fill="#f3a3a5"/><rect x="747.18" fill="#fce5e5"/><rect x="754.57" fill="#fdfbfb"/><rect x="761.97" fill="#fdfbfb"/><rect x="769.37" fill="#e9edf4"/><rect x="776.76" fill="#e9edf4"/><rect x="784.16" fill="#fce5e5"/><rect x="791.56" fill="#f3a3a5"/><rect x="798.96" fill="#bcc6de"/><rect x="806.35" fill="#e9edf4"/><rect x="813.75" fill="#f3a3a5"/><rect x="821.15" fill="#f7c3c4"/><rect x="828.54" fill="#fce5e5"/><rect x="835.94" fill="#f3a3a5"/><rect x="843.34" fill="#fdfbfb"/><rect x="850.74" fill="#fdfbfb"/><rect x="858.13" fill="#e9edf4"/><rect x="865.53" fill="#bcc6de"/><rect x="872.93" fill="#e9edf4"/><rect x="880.32" fill="#bcc6de"/><rect x="887.72" fill="#e9edf4"/><rect x="895.12" fill="#fdfbfb"/><rect x="902.51" fill="#f7c3c4"/><rect x="909.91" fill="#f3a3a5"/><rect x="917.31" fill="#ec6e70"/><rect x="924.71" fill="#f3a3a5"/><rect x="932.1" fill="#f7c3c4"/>
</g>
<g transform="translate(0 166.35)">
<rect x="185" fill="#fdfbfb"/><rect x="192.4" fill="#f3a3a5"/><rect x="199.79" fill="#fce5e5"/><rect x="207.19" fill="#fce5e5"/><rect x="214.59" fill="#f7c3c4"/><rect x="221.99" fill="#fdfbfb"/><rect x="229.38" fill="#f3a3a5"/><rect x="236.78" fill="#f3a3a5"/><rect x="244.18" fill="#f3a3a5"/><rect x="251.57" fill="#f7c3c4"/><rect x="258.97" fill="#f7c3c4"/><rect x="266.37" fill="#f7c3c4"/><rect x="273.76" fill="#f7c3c4"/><rect x="281.16" fill="#f7c3c4"/><rect x="288.56" fill="#ec6e70"/><rect x="295.96" fill="#f7c3c4"/><rect x="303.35" fill="#ec6e70"/><rect x="310.75" fill="#fce5e5"/><rect x="318.15" fill="#fce5e5"/><rect x="325.54" fill="#e9edf4"/><rect x="332.94" fill="#e9edf4"/><rect x="340.34" fill="#e6403f"/><rect x="347.74" fill="#2c4a8a"/><rect x="355.13" fill="#fdfbfb"/><rect x="362.53" fill="#95a4c7"/><rect x="369.93" fill="#bcc6de"/><rect x="377.32" fill="#fdfbfb"/><rect x="384.72" fill="#fdfbfb"/><rect x="392.12" fill="#fce5e5"/><rect x="399.51" fill="#e9edf4"/><rect x="406.91" fill="#f7c3c4"/><rect x="414.31" fill="#ec6e70"/><rect x="421.71" fill="#fce5e5"/><rect x="429.1" fill="#6a80b4"/><rect x="436.5" fill="#e9edf4"/><rect x="443.9" fill="#95a4c7"/><rect x="451.29" fill="#6a80b4"/><rect x="458.69" fill="#6a80b4"/><rect x="466.09" fill="#e9edf4"/><rect x="473.49" fill="#6a80b4"/><rect x="480.88" fill="#fdfbfb"/><rect x="488.28" fill="#e9edf4"/><rect x="495.68" fill="#fdfbfb"/><rect x="503.07" fill="#f3a3a5"/><rect x="510.47" fill="#f3a3a5"/><rect x="517.87" fill="#95a4c7"/><rect x="525.26" fill="#bcc6de"/><rect x="532.66" fill="#e9edf4"/><rect x="540.06" fill="#95a4c7"/><rect x="547.46" fill="#fdfbfb"/><rect x="554.85" fill="#e9edf4"/><rect x="562.25" fill="#95a4c7"/><rect x="569.65" fill="#fdfbfb"/><rect x="577.04" fill="#ec6e70"/><rect x="584.44" fill="#f7c3c4"/><rect x="591.84" fill="#bcc6de"/><rect x="599.24" fill="#fdfbfb"/><rect x="606.63" fill="#95a4c7"/><rect x="614.03" fill="#fdfbfb"/><rect x="621.43" fill="#fdfbfb"/><rect x="628.82" fill="#fdfbfb"/><rect x="636.22" fill="#95a4c7"/><rect x="643.62" fill="#fdfbfb"/><rect x="651.01" fill="#f7c3c4"/><rect x="658.41" fill="#fdfbfb"/><rect x="665.81" fill="#bcc6de"/><rect x="673.21" fill="#e9edf4"/><rect x="680.6" fill="#fdfbfb"/><rect x="688" fill="#e9edf4"/><rect x="695.4" fill="#fce5e5"/><rect x="702.79" fill="#fce5e5"/><rect x="710.19" fill="#fce5e5"/><rect x="717.59" fill="#fdfbfb"/><rect x="724.99" fill="#fdfbfb"/><rect x="732.38" fill="#fce5e5"/><rect x="739.78" fill="#f3a3a5"/><rect x="747.18" fill="#fdfbfb"/><rect x="754.57" fill="#bcc6de"/><rect x="761.97" fill="#95a4c7"/><rect x="769.37" fill="#e9edf4"/><rect x="776.76" fill="#f7c3c4"/><rect x="784.16" fill="#fdfbfb"/><rect x="791.56" fill="#ec6e70"/><rect x="798.96" fill="#ec6e70"/><rect x="806.35" fill="#ec6e70"/><rect x="813.75" fill="#fce5e5"/><rect x="821.15" fill="#fdfbfb"/><rect x="828.54" fill="#fdfbfb"/><rect x="835.94" fill="#f3a3a5"/><rect x="843.34" fill="#fdfbfb"/><rect x="850.74" fill="#f7c3c4"/><rect x="858.13" fill="#fce5e5"/><rect x="865.53" fill="#fce5e5"/><rect x="872.93" fill="#fdfbfb"/><rect x="880.32" fill="#e9edf4"/><rect x="887.72" fill="#f3a3a5"/><rect x="895.12" fill="#fce5e5"/><rect x="902.51" fill="#fdfbfb"/><rect x="909.91" fill="#e9edf4"/><rect x="917.31" fill="#fdfbfb"/><rect x="924.71" fill="#fce5e5"/><rect x="932.1" fill="#ec6e70"/>
</g>
<g transform="translate(0 184.9)">
<rect x="185" fill="#ec6e70"/><rect x="192.4" fill="#fce5e5"/><rect x="199.79" fill="#fce5e5"/><rect x="207.19" fill="#f3a3a5"/><rect x="214.59" fill="#fce5e5"/><rect x="221.99" fill="#fce5e5"/><rect x="229.38" fill="#ec6e70"/><rect x="236.78" fill="#f3a3a5"/><rect x="244.18" fill="#ec6e70"/><rect x="251.57" fill="#fce5e5"/><rect x="258.97" fill="#f3a3a5"/><rect x="266.37" fill="#bcc6de"/><rect x="273.76" fill="#f3a3a5"/><rect x="281.16" fill="#fce5e5"/><rect x="288.56" fill="#95a4c7"/><rect x="295.96" fill="#f3a3a5"/><rect x="303.35" fill="#f3a3a5"/><rect x="310.75" fill="#fce5e5"/><rect x="318.15" fill="#fce5e5"/><rect x="325.54" fill="#fce5e5"/><rect x="332.94" fill="#e9edf4"/><rect x="340.34" fill="#ec6e70"/><rect x="347.74" fill="#fce5e5"/><rect x="355.13" fill="#f3a3a5"/><rect x="362.53" fill="#ec6e70"/><rect x="369.93" fill="#f7c3c4"/><rect x="377.32" fill="#f3a3a5"/><rect x="384.72" fill="#fdfbfb"/><rect x="392.12" fill="#f7c3c4"/><rect x="399.51" fill="#e9edf4"/><rect x="406.91" fill="#fce5e5"/><rect x="414.31" fill="#fce5e5"/><rect x="421.71" fill="#bcc6de"/><rect x="429.1" fill="#e9edf4"/><rect x="436.5" fill="#bcc6de"/><rect x="443.9" fill="#bcc6de"/><rect x="451.29" fill="#bcc6de"/><rect x="458.69" fill="#bcc6de"/><rect x="466.09" fill="#e9edf4"/><rect x="473.49" fill="#95a4c7"/><rect x="480.88" fill="#fdfbfb"/><rect x="488.28" fill="#e9edf4"/><rect x="495.68" fill="#fdfbfb"/><rect x="503.07" fill="#bcc6de"/><rect x="510.47" fill="#95a4c7"/><rect x="517.87" fill="#e9edf4"/><rect x="525.26" fill="#95a4c7"/><rect x="532.66" fill="#e9edf4"/><rect x="540.06" fill="#2c4a8a"/><rect x="547.46" fill="#2c4a8a"/><rect x="554.85" fill="#fce5e5"/><rect x="562.25" fill="#fce5e5"/><rect x="569.65" fill="#fdfbfb"/><rect x="577.04" fill="#fce5e5"/><rect x="584.44" fill="#bcc6de"/><rect x="591.84" fill="#e9edf4"/><rect x="599.24" fill="#bcc6de"/><rect x="606.63" fill="#e9edf4"/><rect x="614.03" fill="#fdfbfb"/><rect x="621.43" fill="#fdfbfb"/><rect x="628.82" fill="#fdfbfb"/><rect x="636.22" fill="#e9edf4"/><rect x="643.62" fill="#e9edf4"/><rect x="651.01" fill="#f7c3c4"/><rect x="658.41" fill="#bcc6de"/><rect x="665.81" fill="#e9edf4"/><rect x="673.21" fill="#e9edf4"/><rect x="680.6" fill="#95a4c7"/><rect x="688" fill="#95a4c7"/><rect x="695.4" fill="#fdfbfb"/><rect x="702.79" fill="#fce5e5"/><rect x="710.19" fill="#fdfbfb"/><rect x="717.59" fill="#fdfbfb"/><rect x="724.99" fill="#fdfbfb"/><rect x="732.38" fill="#fdfbfb"/><rect x="739.78" fill="#bcc6de"/><rect x="747.18" fill="#e9edf4"/><rect x="754.57" fill="#e9edf4"/><rect x="761.97" fill="#bcc6de"/><rect x="769.37" fill="#fdfbfb"/><rect x="776.76" fill="#fdfbfb"/><rect x="784.16" fill="#fce5e5"/><rect x="791.56" fill="#f7c3c4"/><rect x="798.96" fill="#f7c3c4"/><rect x="806.35" fill="#e6403f"/><rect x="813.75" fill="#e9edf4"/><rect x="821.15" fill="#fdfbfb"/><rect x="828.54" fill="#fdfbfb"/><rect x="835.94" fill="#ec6e70"/><rect x="843.34" fill="#f7c3c4"/><rect x="850.74" fill="#f7c3c4"/><rect x="858.13" fill="#fce5e5"/><rect x="865.53" fill="#f3a3a5"/><rect x="872.93" fill="#fce5e5"/><rect x="880.32" fill="#e9edf4"/><rect x="887.72" fill="#ec6e70"/><rect x="895.12" fill="#f7c3c4"/><rect x="902.51" fill="#fce5e5"/><rect x="909.91" fill="#ec6e70"/><rect x="917.31" fill="#fce5e5"/><rect x="924.71" fill="#f3a3a5"/><rect x="932.1" fill="#fdfbfb"/>
</g>
<g transform="translate(0 203.45)">
<rect x="185" fill="#6a80b4"/><rect x="192.4" fill="#fce5e5"/><rect x="199.79" fill="#fce5e5"/><rect x="207.19" fill="#ec6e70"/><rect x="214.59" fill="#ec6e70"/><rect x="221.99" fill="#fce5e5"/><rect x="229.38" fill="#ec6e70"/><rect x="236.78" fill="#ec6e70"/><rect x="244.18" fill="#f3a3a5"/><rect x="251.57" fill="#ec6e70"/><rect x="258.97" fill="#bcc6de"/><rect x="266.37" fill="#fce5e5"/><rect x="273.76" fill="#f3a3a5"/><rect x="281.16" fill="#f3a3a5"/><rect x="288.56" fill="#f3a3a5"/><rect x="295.96" fill="#f3a3a5"/><rect x="303.35" fill="#e9edf4"/><rect x="310.75" fill="#f3a3a5"/><rect x="318.15" fill="#ec6e70"/><rect x="325.54" fill="#fdfbfb"/><rect x="332.94" fill="#ec6e70"/><rect x="340.34" fill="#fdfbfb"/><rect x="347.74" fill="#f3a3a5"/><rect x="355.13" fill="#fce5e5"/><rect x="362.53" fill="#e9edf4"/><rect x="369.93" fill="#fdfbfb"/><rect x="377.32" fill="#e9edf4"/><rect x="384.72" fill="#f7c3c4"/><rect x="392.12" fill="#fdfbfb"/><rect x="399.51" fill="#ec6e70"/><rect x="406.91" fill="#fdfbfb"/><rect x="414.31" fill="#e9edf4"/><rect x="421.71" fill="#e9edf4"/><rect x="429.1" fill="#6a80b4"/><rect x="436.5" fill="#bcc6de"/><rect x="443.9" fill="#fdfbfb"/><rect x="451.29" fill="#e9edf4"/><rect x="458.69" fill="#f7c3c4"/><rect x="466.09" fill="#95a4c7"/><rect x="473.49" fill="#fdfbfb"/><rect x="480.88" fill="#95a4c7"/><rect x="488.28" fill="#fdfbfb"/><rect x="495.68" fill="#f3a3a5"/><rect x="503.07" fill="#fdfbfb"/><rect x="510.47" fill="#fdfbfb"/><rect x="517.87" fill="#fdfbfb"/><rect x="525.26" fill="#bcc6de"/><rect x="532.66" fill="#bcc6de"/><rect x="540.06" fill="#f7c3c4"/><rect x="547.46" fill="#f3a3a5"/><rect x="554.85" fill="#fce5e5"/><rect x="562.25" fill="#f3a3a5"/><rect x="569.65" fill="#95a4c7"/><rect x="577.04" fill="#bcc6de"/><rect x="584.44" fill="#95a4c7"/><rect x="591.84" fill="#e9edf4"/><rect x="599.24" fill="#bcc6de"/><rect x="606.63" fill="#95a4c7"/><rect x="614.03" fill="#fce5e5"/><rect x="621.43" fill="#f3a3a5"/><rect x="628.82" fill="#95a4c7"/><rect x="636.22" fill="#bcc6de"/><rect x="643.62" fill="#95a4c7"/><rect x="651.01" fill="#fdfbfb"/><rect x="658.41" fill="#fdfbfb"/><rect x="665.81" fill="#fce5e5"/><rect x="673.21" fill="#f3a3a5"/><rect x="680.6" fill="#fdfbfb"/><rect x="688" fill="#fdfbfb"/><rect x="695.4" fill="#fdfbfb"/><rect x="702.79" fill="#fdfbfb"/><rect x="710.19" fill="#95a4c7"/><rect x="717.59" fill="#f7c3c4"/><rect x="724.99" fill="#fdfbfb"/><rect x="732.38" fill="#fdfbfb"/><rect x="739.78" fill="#f7c3c4"/><rect x="747.18" fill="#fce5e5"/><rect x="754.57" fill="#fce5e5"/><rect x="761.97" fill="#e9edf4"/><rect x="769.37" fill="#bcc6de"/><rect x="776.76" fill="#f3a3a5"/><rect x="784.16" fill="#f7c3c4"/><rect x="791.56" fill="#fce5e5"/><rect x="798.96" fill="#e9edf4"/><rect x="806.35" fill="#fce5e5"/><rect x="813.75" fill="#fdfbfb"/><rect x="821.15" fill="#fce5e5"/><rect x="828.54" fill="#f7c3c4"/><rect x="835.94" fill="#f3a3a5"/><rect x="843.34" fill="#e9edf4"/><rect x="850.74" fill="#bcc6de"/><rect x="858.13" fill="#95a4c7"/><rect x="865.53" fill="#bcc6de"/><rect x="872.93" fill="#bcc6de"/><rect x="880.32" fill="#95a4c7"/><rect x="887.72" fill="#fce5e5"/><rect x="895.12" fill="#bcc6de"/><rect x="902.51" fill="#2c4a8a"/><rect x="909.91" fill="#fdfbfb"/><rect x="917.31" fill="#e9edf4"/><rect x="924.71" fill="#fce5e5"/><rect x="932.1" fill="#f7c3c4"/>
</g>
<g transform="translate(0 222)">
<rect x="185" fill="#fce5e5"/><rect x="192.4" fill="#bcc6de"/><rect x="199.79" fill="#e6403f"/><rect x="207.19" fill="#f3a3a5"/><rect x="214.59" fill="#e9edf4"/><rect x="221.99" fill="#e9edf4"/><rect x="229.38" fill="#fdfbfb"/><rect x="236.78" fill="#e6403f"/><rect x="244.18" fill="#f7c3c4"/><rect x="251.57" fill="#ec6e70"/><rect x="258.97" fill="#e9edf4"/><rect x="266.37" fill="#bcc6de"/><rect x="273.76" fill="#e9edf4"/><rect x="281.16" fill="#fdfbfb"/><rect x="288.56" fill="#f3a3a5"/><rect x="295.96" fill="#e9edf4"/><rect x="303.35" fill="#fdfbfb"/><rect x="310.75" fill="#fdfbfb"/><rect x="318.15" fill="#bcc6de"/><rect x="325.54" fill="#f3a3a5"/><rect x="332.94" fill="#e9edf4"/><rect x="340.34" fill="#fce5e5"/><rect x="347.74" fill="#fce5e5"/><rect x="355.13" fill="#bcc6de"/><rect x="362.53" fill="#ec6e70"/><rect x="369.93" fill="#ec6e70"/><rect x="377.32" fill="#ec6e70"/><rect x="384.72" fill="#f3a3a5"/><rect x="392.12" fill="#ec6e70"/><rect x="399.51" fill="#e6403f"/><rect x="406.91" fill="#fdfbfb"/><rect x="414.31" fill="#e9edf4"/><rect x="421.71" fill="#fdfbfb"/><rect x="429.1" fill="#fdfbfb"/><rect x="436.5" fill="#e9edf4"/><rect x="443.9" fill="#e9edf4"/><rect x="451.29" fill="#bcc6de"/><rect x="458.69" fill="#fdfbfb"/><rect x="466.09" fill="#e9edf4"/><rect x="473.49" fill="#fdfbfb"/><rect x="480.88" fill="#fdfbfb"/><rect x="488.28" fill="#95a4c7"/><rect x="495.68" fill="#95a4c7"/><rect x="503.07" fill="#fdfbfb"/><rect x="510.47" fill="#e9edf4"/><rect x="517.87" fill="#fce5e5"/><rect x="525.26" fill="#fdfbfb"/><rect x="532.66" fill="#95a4c7"/><rect x="540.06" fill="#fce5e5"/><rect x="547.46" fill="#e9edf4"/><rect x="554.85" fill="#95a4c7"/><rect x="562.25" fill="#f7c3c4"/><rect x="569.65" fill="#fdfbfb"/><rect x="577.04" fill="#e9edf4"/><rect x="584.44" fill="#fdfbfb"/><rect x="591.84" fill="#fdfbfb"/><rect x="599.24" fill="#ec6e70"/><rect x="606.63" fill="#ec6e70"/><rect x="614.03" fill="#e6403f"/><rect x="621.43" fill="#bcc6de"/><rect x="628.82" fill="#fdfbfb"/><rect x="636.22" fill="#fdfbfb"/><rect x="643.62" fill="#fdfbfb"/><rect x="651.01" fill="#fdfbfb"/><rect x="658.41" fill="#6a80b4"/><rect x="665.81" fill="#f7c3c4"/><rect x="673.21" fill="#e9edf4"/><rect x="680.6" fill="#fdfbfb"/><rect x="688" fill="#f3a3a5"/><rect x="695.4" fill="#fdfbfb"/><rect x="702.79" fill="#fdfbfb"/><rect x="710.19" fill="#fdfbfb"/><rect x="717.59" fill="#fdfbfb"/><rect x="724.99" fill="#fdfbfb"/><rect x="732.38" fill="#fdfbfb"/><rect x="739.78" fill="#fdfbfb"/><rect x="747.18" fill="#fdfbfb"/><rect x="754.57" fill="#ec6e70"/><rect x="761.97" fill="#fce5e5"/><rect x="769.37" fill="#bcc6de"/><rect x="776.76" fill="#bcc6de"/><rect x="784.16" fill="#e6403f"/><rect x="791.56" fill="#fdfbfb"/><rect x="798.96" fill="#e9edf4"/><rect x="806.35" fill="#95a4c7"/><rect x="813.75" fill="#e9edf4"/><rect x="821.15" fill="#95a4c7"/><rect x="828.54" fill="#fdfbfb"/><rect x="835.94" fill="#fdfbfb"/><rect x="843.34" fill="#f7c3c4"/><rect x="850.74" fill="#bcc6de"/><rect x="858.13" fill="#95a4c7"/><rect x="865.53" fill="#e9edf4"/><rect x="872.93" fill="#95a4c7"/><rect x="880.32" fill="#e9edf4"/><rect x="887.72" fill="#e9edf4"/><rect x="895.12" fill="#e9edf4"/><rect x="902.51" fill="#6a80b4"/><rect x="909.91" fill="#e9edf4"/><rect x="917.31" fill="#fce5e5"/><rect x="924.71" fill="#fdfbfb"/><rect x="932.1" fill="#f7c3c4"/>
</g>
<g transform="translate(0 240.55)">
<rect x="185" fill="#f7c3c4"/><rect x="192.4" fill="#f3a3a5"/><rect x="199.79" fill="#ec6e70"/><rect x="207.19" fill="#ec6e70"/><rect x="214.59" fill="#f3a3a5"/><rect x="221.99" fill="#fdfbfb"/><rect x="229.38" fill="#f3a3a5"/><rect x="236.78" fill="#ec6e70"/><rect x="244.18" fill="#fce5e5"/><rect x="251.57" fill="#f3a3a5"/><rect x="258.97" fill="#fdfbfb"/><rect x="266.37" fill="#fce5e5"/><rect x="273.76" fill="#f7c3c4"/><rect x="281.16" fill="#fce5e5"/><rect x="288.56" fill="#f3a3a5"/><rect x="295.96" fill="#fce5e5"/><rect x="303.35" fill="#fdfbfb"/><rect x="310.75" fill="#fdfbfb"/><rect x="318.15" fill="#fce5e5"/><rect x="325.54" fill="#f3a3a5"/><rect x="332.94" fill="#e9edf4"/><rect x="340.34" fill="#fce5e5"/><rect x="347.74" fill="#e9edf4"/><rect x="355.13" fill="#ec6e70"/><rect x="362.53" fill="#fce5e5"/><rect x="369.93" fill="#fce5e5"/><rect x="377.32" fill="#f7c3c4"/><rect x="384.72" fill="#f3a3a5"/><rect x="392.12" fill="#f3a3a5"/><rect x="399.51" fill="#e6403f"/><rect x="406.91" fill="#f3a3a5"/><rect x="414.31" fill="#bcc6de"/><rect x="421.71" fill="#e9edf4"/><rect x="429.1" fill="#bcc6de"/><rect x="436.5" fill="#e9edf4"/><rect x="443.9" fill="#bcc6de"/><rect x="451.29" fill="#95a4c7"/><rect x="458.69" fill="#e9edf4"/><rect x="466.09" fill="#95a4c7"/><rect x="473.49" fill="#6a80b4"/><rect x="480.88" fill="#e9edf4"/><rect x="488.28" fill="#e9edf4"/><rect x="495.68" fill="#e9edf4"/><rect x="503.07" fill="#e9edf4"/><rect x="510.47" fill="#e9edf4"/><rect x="517.87" fill="#e9edf4"/><rect x="525.26" fill="#bcc6de"/><rect x="532.66" fill="#fdfbfb"/><rect x="540.06" fill="#f7c3c4"/><rect x="547.46" fill="#e31a1c"/><rect x="554.85" fill="#e9edf4"/><rect x="562.25" fill="#fce5e5"/><rect x="569.65" fill="#fce5e5"/><rect x="577.04" fill="#bcc6de"/><rect x="584.44" fill="#fdfbfb"/><rect x="591.84" fill="#f7c3c4"/><rect x="599.24" fill="#fdfbfb"/><rect x="606.63" fill="#fdfbfb"/><rect x="614.03" fill="#fdfbfb"/><rect x="621.43" fill="#fdfbfb"/><rect x="628.82" fill="#bcc6de"/><rect x="636.22" fill="#e9edf4"/><rect x="643.62" fill="#95a4c7"/><rect x="651.01" fill="#e9edf4"/><rect x="658.41" fill="#bcc6de"/><rect x="665.81" fill="#fdfbfb"/><rect x="673.21" fill="#e9edf4"/><rect x="680.6" fill="#fdfbfb"/><rect x="688" fill="#e9edf4"/><rect x="695.4" fill="#bcc6de"/><rect x="702.79" fill="#e9edf4"/><rect x="710.19" fill="#95a4c7"/><rect x="717.59" fill="#fdfbfb"/><rect x="724.99" fill="#bcc6de"/><rect x="732.38" fill="#e9edf4"/><rect x="739.78" fill="#fce5e5"/><rect x="747.18" fill="#fdfbfb"/><rect x="754.57" fill="#fce5e5"/><rect x="761.97" fill="#bcc6de"/><rect x="769.37" fill="#95a4c7"/><rect x="776.76" fill="#95a4c7"/><rect x="784.16" fill="#bcc6de"/><rect x="791.56" fill="#f7c3c4"/><rect x="798.96" fill="#f3a3a5"/><rect x="806.35" fill="#f7c3c4"/><rect x="813.75" fill="#f7c3c4"/><rect x="821.15" fill="#fce5e5"/><rect x="828.54" fill="#fdfbfb"/><rect x="835.94" fill="#ec6e70"/><rect x="843.34" fill="#fce5e5"/><rect x="850.74" fill="#bcc6de"/><rect x="858.13" fill="#e9edf4"/><rect x="865.53" fill="#e9edf4"/><rect x="872.93" fill="#e9edf4"/><rect x="880.32" fill="#95a4c7"/><rect x="887.72" fill="#e9edf4"/><rect x="895.12" fill="#fdfbfb"/><rect x="902.51" fill="#fdfbfb"/><rect x="909.91" fill="#ec6e70"/><rect x="917.31" fill="#fce5e5"/><rect x="924.71" fill="#fdfbfb"/><rect x="932.1" fill="#ec6e70"/>
</g>
<g transform="translate(0 268.1)">
<rect x="185" fill="#f3a3a5"/><rect x="192.4" fill="#f7c3c4"/><rect x="199.79" fill="#fce5e5"/><rect x="207.19" fill="#fdfbfb"/><rect x="214.59" fill="#95a4c7"/><rect x="221.99" fill="#e9edf4"/><rect x="229.38" fill="#fce5e5"/><rect x="236.78" fill="#6a80b4"/><rect x="244.18" fill="#f7c3c4"/><rect x="251.57" fill="#f3a3a5"/><rect x="258.97" fill="#bcc6de"/><rect x="266.37" fill="#f7c3c4"/><rect x="273.76" fill="#f7c3c4"/><rect x="281.16" fill="#fdfbfb"/><rect x="288.56" fill="#f7c3c4"/><rect x="295.96" fill="#fce5e5"/><rect x="303.35" fill="#ec6e70"/><rect x="310.75" fill="#ec6e70"/><rect x="318.15" fill="#e6403f"/><rect x="325.54" fill="#f7c3c4"/><rect x="332.94" fill="#f7c3c4"/><rect x="340.34" fill="#ec6e70"/><rect x="347.74" fill="#fce5e5"/><rect x="355.13" fill="#fce5e5"/><rect x="362.53" fill="#fdfbfb"/><rect x="369.93" fill="#fce5e5"/><rect x="377.32" fill="#95a4c7"/><rect x="384.72" fill="#fce5e5"/><rect x="392.12" fill="#e9edf4"/><rect x="399.51" fill="#fce5e5"/><rect x="406.91" fill="#fdfbfb"/><rect x="414.31" fill="#e9edf4"/><rect x="421.71" fill="#bcc6de"/><rect x="429.1" fill="#f7c3c4"/><rect x="436.5" fill="#fdfbfb"/><rect x="443.9" fill="#fdfbfb"/><rect x="451.29" fill="#f7c3c4"/><rect x="458.69" fill="#fdfbfb"/><rect x="466.09" fill="#95a4c7"/><rect x="473.49" fill="#e9edf4"/><rect x="480.88" fill="#fdfbfb"/><rect x="488.28" fill="#f7c3c4"/><rect x="495.68" fill="#fdfbfb"/><rect x="503.07" fill="#fdfbfb"/><rect x="510.47" fill="#e9edf4"/><rect x="517.87" fill="#fdfbfb"/><rect x="525.26" fill="#e9edf4"/><rect x="532.66" fill="#f3a3a5"/><rect x="540.06" fill="#fdfbfb"/><rect x="547.46" fill="#e9edf4"/><rect x="554.85" fill="#95a4c7"/><rect x="562.25" fill="#f3a3a5"/><rect x="569.65" fill="#2c4a8a"/><rect x="577.04" fill="#fdfbfb"/><rect x="584.44" fill="#bcc6de"/><rect x="591.84" fill="#95a4c7"/><rect x="599.24" fill="#e9edf4"/><rect x="606.63" fill="#fce5e5"/><rect x="614.03" fill="#f7c3c4"/><rect x="621.43" fill="#95a4c7"/><rect x="628.82" fill="#fdfbfb"/><rect x="636.22" fill="#6a80b4"/><rect x="643.62" fill="#e9edf4"/><rect x="651.01" fill="#bcc6de"/><rect x="658.41" fill="#95a4c7"/><rect x="665.81" fill="#bcc6de"/><rect x="673.21" fill="#fdfbfb"/><rect x="680.6" fill="#f3a3a5"/><rect x="688" fill="#e9edf4"/><rect x="695.4" fill="#fdfbfb"/><rect x="702.79" fill="#fdfbfb"/><rect x="710.19" fill="#fdfbfb"/><rect x="717.59" fill="#fdfbfb"/><rect x="724.99" fill="#fdfbfb"/><rect x="732.38" fill="#fce5e5"/><rect x="739.78" fill="#fce5e5"/><rect x="747.18" fill="#bcc6de"/><rect x="754.57" fill="#ec6e70"/><rect x="761.97" fill="#e9edf4"/><rect x="769.37" fill="#ec6e70"/><rect x="776.76" fill="#f7c3c4"/><rect x="784.16" fill="#f3a3a5"/><rect x="791.56" fill="#bcc6de"/><rect x="798.96" fill="#bcc6de"/><rect x="806.35" fill="#bcc6de"/><rect x="813.75" fill="#f7c3c4"/><rect x="821.15" fill="#ec6e70"/><rect x="828.54" fill="#f3a3a5"/><rect x="835.94" fill="#f3a3a5"/><rect x="843.34" fill="#fdfbfb"/><rect x="850.74" fill="#fce5e5"/><rect x="858.13" fill="#bcc6de"/><rect x="865.53" fill="#fce5e5"/><rect x="872.93" fill="#bcc6de"/><rect x="880.32" fill="#fdfbfb"/><rect x="887.72" fill="#fdfbfb"/><rect x="895.12" fill="#e9edf4"/><rect x="902.51" fill="#e9edf4"/><rect x="909.91" fill="#bcc6de"/><rect x="917.31" fill="#f3a3a5"/><rect x="924.71" fill="#f7c3c4"/><rect x="932.1" fill="#fdfbfb"/>
</g>
<g transform="translate(0 286.65)">
<rect x="185" fill="#bcc6de"/><rect x="192.4" fill="#f3a3a5"/><rect x="199.79" fill="#f3a3a5"/><rect x="207.19" fill="#f7c3c4"/><rect x="214.59" fill="#f3a3a5"/><rect x="221.99" fill="#f3a3a5"/><rect x="229.38" fill="#fdfbfb"/><rect x="236.78" fill="#e6403f"/><rect x="244.18" fill="#ec6e70"/><rect x="251.57" fill="#f3a3a5"/><rect x="258.97" fill="#fdfbfb"/><rect x="266.37" fill="#fce5e5"/><rect x="273.76" fill="#f7c3c4"/><rect x="281.16" fill="#fce5e5"/><rect x="288.56" fill="#fce5e5"/><rect x="295.96" fill="#fdfbfb"/><rect x="303.35" fill="#e9edf4"/><rect x="310.75" fill="#f7c3c4"/><rect x="318.15" fill="#f7c3c4"/><rect x="325.54" fill="#f7c3c4"/><rect x="332.94" fill="#f7c3c4"/><rect x="340.34" fill="#f3a3a5"/><rect x="347.74" fill="#fce5e5"/><rect x="355.13" fill="#ec6e70"/><rect x="362.53" fill="#ec6e70"/><rect x="369.93" fill="#e9edf4"/><rect x="377.32" fill="#f7c3c4"/><rect x="384.72" fill="#f3a3a5"/><rect x="392.12" fill="#fce5e5"/><rect x="399.51" fill="#ec6e70"/><rect x="406.91" fill="#f7c3c4"/><rect x="414.31" fill="#95a4c7"/><rect x="421.71" fill="#6a80b4"/><rect x="429.1" fill="#6a80b4"/><rect x="436.5" fill="#bcc6de"/><rect x="443.9" fill="#e9edf4"/><rect x="451.29" fill="#6a80b4"/><rect x="458.69" fill="#95a4c7"/><rect x="466.09" fill="#bcc6de"/><rect x="473.49" fill="#95a4c7"/><rect x="480.88" fill="#fdfbfb"/><rect x="488.28" fill="#e9edf4"/><rect x="495.68" fill="#ec6e70"/><rect x="503.07" fill="#fdfbfb"/><rect x="510.47" fill="#bcc6de"/><rect x="517.87" fill="#bcc6de"/><rect x="525.26" fill="#bcc6de"/><rect x="532.66" fill="#f7c3c4"/><rect x="540.06" fill="#fce5e5"/><rect x="547.46" fill="#ec6e70"/><rect x="554.85" fill="#fdfbfb"/><rect x="562.25" fill="#fdfbfb"/><rect x="569.65" fill="#e9edf4"/><rect x="577.04" fill="#bcc6de"/><rect x="584.44" fill="#fdfbfb"/><rect x="591.84" fill="#fce5e5"/><rect x="599.24" fill="#fce5e5"/><rect x="606.63" fill="#e6403f"/><rect x="614.03" fill="#e9edf4"/><rect x="621.43" fill="#f7c3c4"/><rect x="628.82" fill="#fdfbfb"/><rect x="636.22" fill="#e9edf4"/><rect x="643.62" fill="#fdfbfb"/><rect x="651.01" fill="#fdfbfb"/><rect x="658.41" fill="#fce5e5"/><rect x="665.81" fill="#fce5e5"/><rect x="673.21" fill="#f7c3c4"/><rect x="680.6" fill="#f7c3c4"/><rect x="688" fill="#f3a3a5"/><rect x="695.4" fill="#fdfbfb"/><rect x="702.79" fill="#fdfbfb"/><rect x="710.19" fill="#fdfbfb"/><rect x="717.59" fill="#2c4a8a"/><rect x="724.99" fill="#f3a3a5"/><rect x="732.38" fill="#95a4c7"/><rect x="739.78" fill="#fdfbfb"/><rect x="747.18" fill="#bcc6de"/><rect x="754.57" fill="#e9edf4"/><rect x="761.97" fill="#fce5e5"/><rect x="769.37" fill="#bcc6de"/><rect x="776.76" fill="#bcc6de"/><rect x="784.16" fill="#bcc6de"/><rect x="791.56" fill="#e9edf4"/><rect x="798.96" fill="#bcc6de"/><rect x="806.35" fill="#bcc6de"/><rect x="813.75" fill="#f7c3c4"/><rect x="821.15" fill="#f7c3c4"/><rect x="828.54" fill="#fce5e5"/><rect x="835.94" fill="#f7c3c4"/><rect x="843.34" fill="#fce5e5"/><rect x="850.74" fill="#e9edf4"/><rect x="858.13" fill="#bcc6de"/><rect x="865.53" fill="#95a4c7"/><rect x="872.93" fill="#bcc6de"/><rect x="880.32" fill="#e9edf4"/><rect x="887.72" fill="#f7c3c4"/><rect x="895.12" fill="#fce5e5"/><rect x="902.51" fill="#e9edf4"/><rect x="909.91" fill="#f7c3c4"/><rect x="917.31" fill="#f7c3c4"/><rect x="924.71" fill="#f7c3c4"/><rect x="932.1" fill="#fce5e5"/>
</g>
<g transform="translate(0 305.2)">
<rect x="185" fill="#e6403f"/><rect x="192.4" fill="#f3a3a5"/><rect x="199.79" fill="#f7c3c4"/><rect x="207.19" fill="#ec6e70"/><rect x="214.59" fill="#ec6e70"/><rect x="221.99" fill="#ec6e70"/><rect x="229.38" fill="#f3a3a5"/><rect x="236.78" fill="#f3a3a5"/><rect x="244.18" fill="#e9edf4"/><rect x="251.57" fill="#f3a3a5"/><rect x="258.97" fill="#fce5e5"/><rect x="266.37" fill="#ec6e70"/><rect x="273.76" fill="#f3a3a5"/><rect x="281.16" fill="#fce5e5"/><rect x="288.56" fill="#f3a3a5"/><rect x="295.96" fill="#fce5e5"/><rect x="303.35" fill="#bcc6de"/><rect x="310.75" fill="#f3a3a5"/><rect x="318.15" fill="#fdfbfb"/><rect x="325.54" fill="#e9edf4"/><rect x="332.94" fill="#95a4c7"/><rect x="340.34" fill="#fdfbfb"/><rect x="347.74" fill="#fce5e5"/><rect x="355.13" fill="#f7c3c4"/><rect x="362.53" fill="#e9edf4"/><rect x="369.93" fill="#f7c3c4"/><rect x="377.32" fill="#fce5e5"/><rect x="384.72" fill="#fce5e5"/><rect x="392.12" fill="#f7c3c4"/><rect x="399.51" fill="#fdfbfb"/><rect x="406.91" fill="#fce5e5"/><rect x="414.31" fill="#ec6e70"/><rect x="421.71" fill="#e9edf4"/><rect x="429.1" fill="#6a80b4"/><rect x="436.5" fill="#bcc6de"/><rect x="443.9" fill="#bcc6de"/><rect x="451.29" fill="#2c4a8a"/><rect x="458.69" fill="#6a80b4"/><rect x="466.09" fill="#bcc6de"/><rect x="473.49" fill="#e9edf4"/><rect x="480.88" fill="#fdfbfb"/><rect x="488.28" fill="#e9edf4"/><rect x="495.68" fill="#fdfbfb"/><rect x="503.07" fill="#e9edf4"/><rect x="510.47" fill="#fdfbfb"/><rect x="517.87" fill="#e9edf4"/><rect x="525.26" fill="#e9edf4"/><rect x="532.66" fill="#e9edf4"/><rect x="540.06" fill="#fce5e5"/><rect x="547.46" fill="#6a80b4"/><rect x="554.85" fill="#e9edf4"/><rect x="562.25" fill="#bcc6de"/><rect x="569.65" fill="#fdfbfb"/><rect x="577.04" fill="#e9edf4"/><rect x="584.44" fill="#fce5e5"/><rect x="591.84" fill="#fdfbfb"/><rect x="599.24" fill="#bcc6de"/><rect x="606.63" fill="#fce5e5"/><rect x="614.03" fill="#fdfbfb"/><rect x="621.43" fill="#fdfbfb"/><rect x="628.82" fill="#fce5e5"/><rect x="636.22" fill="#6a80b4"/><rect x="643.62" fill="#bcc6de"/><rect x="651.01" fill="#2c4a8a"/><rect x="658.41" fill="#fce5e5"/><rect x="665.81" fill="#bcc6de"/><rect x="673.21" fill="#bcc6de"/><rect x="680.6" fill="#e9edf4"/><rect x="688" fill="#fce5e5"/><rect x="695.4" fill="#fdfbfb"/><rect x="702.79" fill="#fce5e5"/><rect x="710.19" fill="#fce5e5"/><rect x="717.59" fill="#fdfbfb"/><rect x="724.99" fill="#fce5e5"/><rect x="732.38" fill="#fce5e5"/><rect x="739.78" fill="#e9edf4"/><rect x="747.18" fill="#e9edf4"/><rect x="754.57" fill="#f7c3c4"/><rect x="761.97" fill="#f7c3c4"/><rect x="769.37" fill="#e6403f"/><rect x="776.76" fill="#f3a3a5"/><rect x="784.16" fill="#e9edf4"/><rect x="791.56" fill="#f7c3c4"/><rect x="798.96" fill="#fce5e5"/><rect x="806.35" fill="#fce5e5"/><rect x="813.75" fill="#f7c3c4"/><rect x="821.15" fill="#f3a3a5"/><rect x="828.54" fill="#f3a3a5"/><rect x="835.94" fill="#f3a3a5"/><rect x="843.34" fill="#fce5e5"/><rect x="850.74" fill="#fdfbfb"/><rect x="858.13" fill="#fdfbfb"/><rect x="865.53" fill="#fce5e5"/><rect x="872.93" fill="#fdfbfb"/><rect x="880.32" fill="#bcc6de"/><rect x="887.72" fill="#f7c3c4"/><rect x="895.12" fill="#fce5e5"/><rect x="902.51" fill="#e9edf4"/><rect x="909.91" fill="#fce5e5"/><rect x="917.31" fill="#bcc6de"/><rect x="924.71" fill="#f7c3c4"/><rect x="932.1" fill="#f3a3a5"/>
</g>
<g transform="translate(0 323.75)">
<rect x="185" fill="#ec6e70"/><rect x="192.4" fill="#fce5e5"/><rect x="199.79" fill="#e9edf4"/><rect x="207.19" fill="#fdfbfb"/><rect x="214.59" fill="#f7c3c4"/><rect x="221.99" fill="#bcc6de"/><rect x="229.38" fill="#fce5e5"/><rect x="236.78" fill="#fce5e5"/><rect x="244.18" fill="#f3a3a5"/><rect x="251.57" fill="#ec6e70"/><rect x="258.97" fill="#fdfbfb"/><rect x="266.37" fill="#fce5e5"/><rect x="273.76" fill="#fce5e5"/><rect x="281.16" fill="#fce5e5"/><rect x="288.56" fill="#fdfbfb"/><rect x="295.96" fill="#e9edf4"/><rect x="303.35" fill="#f3a3a5"/><rect x="310.75" fill="#f7c3c4"/><rect x="318.15" fill="#f3a3a5"/><rect x="325.54" fill="#f7c3c4"/><rect x="332.94" fill="#fce5e5"/><rect x="340.34" fill="#fce5e5"/><rect x="347.74" fill="#fdfbfb"/><rect x="355.13" fill="#fdfbfb"/><rect x="362.53" fill="#f3a3a5"/><rect x="369.93" fill="#f3a3a5"/><rect x="377.32" fill="#e6403f"/><rect x="384.72" fill="#ec6e70"/><rect x="392.12" fill="#fdfbfb"/><rect x="399.51" fill="#f3a3a5"/><rect x="406.91" fill="#f7c3c4"/><rect x="414.31" fill="#95a4c7"/><rect x="421.71" fill="#f7c3c4"/><rect x="429.1" fill="#6a80b4"/><rect x="436.5" fill="#bcc6de"/><rect x="443.9" fill="#bcc6de"/><rect x="451.29" fill="#bcc6de"/><rect x="458.69" fill="#2c4a8a"/><rect x="466.09" fill="#bcc6de"/><rect x="473.49" fill="#f3a3a5"/><rect x="480.88" fill="#fdfbfb"/><rect x="488.28" fill="#e9edf4"/><rect x="495.68" fill="#e9edf4"/><rect x="503.07" fill="#bcc6de"/><rect x="510.47" fill="#bcc6de"/><rect x="517.87" fill="#95a4c7"/><rect x="525.26" fill="#bcc6de"/><rect x="532.66" fill="#e9edf4"/><rect x="540.06" fill="#fdfbfb"/><rect x="547.46" fill="#fdfbfb"/><rect x="554.85" fill="#e9edf4"/><rect x="562.25" fill="#e9edf4"/><rect x="569.65" fill="#e9edf4"/><rect x="577.04" fill="#e9edf4"/><rect x="584.44" fill="#bcc6de"/><rect x="591.84" fill="#e9edf4"/><rect x="599.24" fill="#fdfbfb"/><rect x="606.63" fill="#e9edf4"/><rect x="614.03" fill="#e9edf4"/><rect x="621.43" fill="#e9edf4"/><rect x="628.82" fill="#e9edf4"/><rect x="636.22" fill="#bcc6de"/><rect x="643.62" fill="#95a4c7"/><rect x="651.01" fill="#bcc6de"/><rect x="658.41" fill="#bcc6de"/><rect x="665.81" fill="#95a4c7"/><rect x="673.21" fill="#bcc6de"/><rect x="680.6" fill="#bcc6de"/><rect x="688" fill="#bcc6de"/><rect x="695.4" fill="#fdfbfb"/><rect x="702.79" fill="#fdfbfb"/><rect x="710.19" fill="#fdfbfb"/><rect x="717.59" fill="#fdfbfb"/><rect x="724.99" fill="#fdfbfb"/><rect x="732.38" fill="#e9edf4"/><rect x="739.78" fill="#95a4c7"/><rect x="747.18" fill="#fdfbfb"/><rect x="754.57" fill="#f7c3c4"/><rect x="761.97" fill="#fdfbfb"/><rect x="769.37" fill="#ec6e70"/><rect x="776.76" fill="#ec6e70"/><rect x="784.16" fill="#ec6e70"/><rect x="791.56" fill="#f3a3a5"/><rect x="798.96" fill="#fce5e5"/><rect x="806.35" fill="#e9edf4"/><rect x="813.75" fill="#f3a3a5"/><rect x="821.15" fill="#f3a3a5"/><rect x="828.54" fill="#f3a3a5"/><rect x="835.94" fill="#fce5e5"/><rect x="843.34" fill="#ec6e70"/><rect x="850.74" fill="#fdfbfb"/><rect x="858.13" fill="#fdfbfb"/><rect x="865.53" fill="#f3a3a5"/><rect x="872.93" fill="#f7c3c4"/><rect x="880.32" fill="#bcc6de"/><rect x="887.72" fill="#fdfbfb"/><rect x="895.12" fill="#ec6e70"/><rect x="902.51" fill="#6a80b4"/><rect x="909.91" fill="#fdfbfb"/><rect x="917.31" fill="#ec6e70"/><rect x="924.71" fill="#e6403f"/><rect x="932.1" fill="#fdfbfb"/>
</g>
<g transform="translate(0 342.3)">
<rect x="185" fill="#f7c3c4"/><rect x="192.4" fill="#fce5e5"/><rect x="199.79" fill="#ec6e70"/><rect x="207.19" fill="#ec6e70"/><rect x="214.59" fill="#f3a3a5"/><rect x="221.99" fill="#fdfbfb"/><rect x="229.38" fill="#e9edf4"/><rect x="236.78" fill="#fce5e5"/><rect x="244.18" fill="#fdfbfb"/><rect x="251.57" fill="#fdfbfb"/><rect x="258.97" fill="#f3a3a5"/><rect x="266.37" fill="#f3a3a5"/><rect x="273.76" fill="#ec6e70"/><rect x="281.16" fill="#f7c3c4"/><rect x="288.56" fill="#ec6e70"/><rect x="295.96" fill="#e6403f"/><rect x="303.35" fill="#ec6e70"/><rect x="310.75" fill="#f3a3a5"/><rect x="318.15" fill="#fce5e5"/><rect x="325.54" fill="#95a4c7"/><rect x="332.94" fill="#fdfbfb"/><rect x="340.34" fill="#bcc6de"/><rect x="347.74" fill="#fdfbfb"/><rect x="355.13" fill="#e9edf4"/><rect x="362.53" fill="#e9edf4"/><rect x="369.93" fill="#fce5e5"/><rect x="377.32" fill="#e9edf4"/><rect x="384.72" fill="#bcc6de"/><rect x="392.12" fill="#fdfbfb"/><rect x="399.51" fill="#95a4c7"/><rect x="406.91" fill="#fce5e5"/><rect x="414.31" fill="#fce5e5"/><rect x="421.71" fill="#f7c3c4"/><rect x="429.1" fill="#bcc6de"/><rect x="436.5" fill="#95a4c7"/><rect x="443.9" fill="#e9edf4"/><rect x="451.29" fill="#95a4c7"/><rect x="458.69" fill="#2c4a8a"/><rect x="466.09" fill="#95a4c7"/><rect x="473.49" fill="#fce5e5"/><rect x="480.88" fill="#fdfbfb"/><rect x="488.28" fill="#fdfbfb"/><rect x="495.68" fill="#fdfbfb"/><rect x="503.07" fill="#f7c3c4"/><rect x="510.47" fill="#f3a3a5"/><rect x="517.87" fill="#fdfbfb"/><rect x="525.26" fill="#e9edf4"/><rect x="532.66" fill="#fdfbfb"/><rect x="540.06" fill="#fdfbfb"/><rect x="547.46" fill="#fdfbfb"/><rect x="554.85" fill="#f7c3c4"/><rect x="562.25" fill="#fdfbfb"/><rect x="569.65" fill="#fdfbfb"/><rect x="577.04" fill="#fdfbfb"/><rect x="584.44" fill="#fce5e5"/><rect x="591.84" fill="#fdfbfb"/><rect x="599.24" fill="#bcc6de"/><rect x="606.63" fill="#fce5e5"/><rect x="614.03" fill="#fdfbfb"/><rect x="621.43" fill="#fdfbfb"/><rect x="628.82" fill="#2c4a8a"/><rect x="636.22" fill="#95a4c7"/><rect x="643.62" fill="#e9edf4"/><rect x="651.01" fill="#e9edf4"/><rect x="658.41" fill="#e9edf4"/><rect x="665.81" fill="#e9edf4"/><rect x="673.21" fill="#6a80b4"/><rect x="680.6" fill="#bcc6de"/><rect x="688" fill="#fce5e5"/><rect x="695.4" fill="#fce5e5"/><rect x="702.79" fill="#fce5e5"/><rect x="710.19" fill="#fce5e5"/><rect x="717.59" fill="#fdfbfb"/><rect x="724.99" fill="#fdfbfb"/><rect x="732.38" fill="#fce5e5"/><rect x="739.78" fill="#e9edf4"/><rect x="747.18" fill="#e9edf4"/><rect x="754.57" fill="#f7c3c4"/><rect x="761.97" fill="#fdfbfb"/><rect x="769.37" fill="#fce5e5"/><rect x="776.76" fill="#f7c3c4"/><rect x="784.16" fill="#f7c3c4"/><rect x="791.56" fill="#ec6e70"/><rect x="798.96" fill="#f7c3c4"/><rect x="806.35" fill="#ec6e70"/><rect x="813.75" fill="#fdfbfb"/><rect x="821.15" fill="#e9edf4"/><rect x="828.54" fill="#f3a3a5"/><rect x="835.94" fill="#fce5e5"/><rect x="843.34" fill="#fdfbfb"/><rect x="850.74" fill="#fdfbfb"/><rect x="858.13" fill="#f3a3a5"/><rect x="865.53" fill="#f3a3a5"/><rect x="872.93" fill="#f3a3a5"/><rect x="880.32" fill="#f3a3a5"/><rect x="887.72" fill="#fdfbfb"/><rect x="895.12" fill="#fdfbfb"/><rect x="902.51" fill="#bcc6de"/><rect x="909.91" fill="#e9edf4"/><rect x="917.31" fill="#bcc6de"/><rect x="924.71" fill="#bcc6de"/><rect x="932.1" fill="#f7c3c4"/>
</g>
<g transform="translate(0 360.85)">
<rect x="185" fill="#95a4c7"/><rect x="192.4" fill="#bcc6de"/><rect x="199.79" fill="#fce5e5"/><rect x="207.19" fill="#fce5e5"/><rect x="214.59" fill="#ec6e70"/><rect x="221.99" fill="#f3a3a5"/><rect x="229.38" fill="#ec6e70"/><rect x="236.78" fill="#f3a3a5"/><rect x="244.18" fill="#e6403f"/><rect x="251.57" fill="#ec6e70"/><rect x="258.97" fill="#fdfbfb"/><rect x="266.37" fill="#ec6e70"/><rect x="273.76" fill="#ec6e70"/><rect x="281.16" fill="#f3a3a5"/><rect x="288.56" fill="#ec6e70"/><rect x="295.96" fill="#95a4c7"/><rect x="303.35" fill="#bcc6de"/><rect x="310.75" fill="#f3a3a5"/><rect x="318.15" fill="#f3a3a5"/><rect x="325.54" fill="#f7c3c4"/><rect x="332.94" fill="#fce5e5"/><rect x="340.34" fill="#fce5e5"/><rect x="347.74" fill="#fdfbfb"/><rect x="355.13" fill="#ec6e70"/><rect x="362.53" fill="#e6403f"/><rect x="369.93" fill="#bcc6de"/><rect x="377.32" fill="#f7c3c4"/><rect x="384.72" fill="#fdfbfb"/><rect x="392.12" fill="#e9edf4"/><rect x="399.51" fill="#bcc6de"/><rect x="406.91" fill="#fdfbfb"/><rect x="414.31" fill="#95a4c7"/><rect x="421.71" fill="#e9edf4"/><rect x="429.1" fill="#bcc6de"/><rect x="436.5" fill="#95a4c7"/><rect x="443.9" fill="#95a4c7"/><rect x="451.29" fill="#95a4c7"/><rect x="458.69" fill="#6a80b4"/><rect x="466.09" fill="#bcc6de"/><rect x="473.49" fill="#e9edf4"/><rect x="480.88" fill="#fdfbfb"/><rect x="488.28" fill="#e9edf4"/><rect x="495.68" fill="#fdfbfb"/><rect x="503.07" fill="#fdfbfb"/><rect x="510.47" fill="#fdfbfb"/><rect x="517.87" fill="#e9edf4"/><rect x="525.26" fill="#95a4c7"/><rect x="532.66" fill="#bcc6de"/><rect x="540.06" fill="#95a4c7"/><rect x="547.46" fill="#fdfbfb"/><rect x="554.85" fill="#bcc6de"/><rect x="562.25" fill="#fdfbfb"/><rect x="569.65" fill="#e31a1c"/><rect x="577.04" fill="#bcc6de"/><rect x="584.44" fill="#fdfbfb"/><rect x="591.84" fill="#95a4c7"/><rect x="599.24" fill="#e9edf4"/><rect x="606.63" fill="#fdfbfb"/><rect x="614.03" fill="#fdfbfb"/><rect x="621.43" fill="#fdfbfb"/><rect x="628.82" fill="#fce5e5"/><rect x="636.22" fill="#95a4c7"/><rect x="643.62" fill="#bcc6de"/><rect x="651.01" fill="#fdfbfb"/><rect x="658.41" fill="#bcc6de"/><rect x="665.81" fill="#fdfbfb"/><rect x="673.21" fill="#95a4c7"/><rect x="680.6" fill="#e9edf4"/><rect x="688" fill="#fce5e5"/><rect x="695.4" fill="#fdfbfb"/><rect x="702.79" fill="#95a4c7"/><rect x="710.19" fill="#fdfbfb"/><rect x="717.59" fill="#fdfbfb"/><rect x="724.99" fill="#fdfbfb"/><rect x="732.38" fill="#bcc6de"/><rect x="739.78" fill="#e9edf4"/><rect x="747.18" fill="#fdfbfb"/><rect x="754.57" fill="#bcc6de"/><rect x="761.97" fill="#fce5e5"/><rect x="769.37" fill="#fdfbfb"/><rect x="776.76" fill="#e9edf4"/><rect x="784.16" fill="#fce5e5"/><rect x="791.56" fill="#ec6e70"/><rect x="798.96" fill="#fce5e5"/><rect x="806.35" fill="#f7c3c4"/><rect x="813.75" fill="#f3a3a5"/><rect x="821.15" fill="#f7c3c4"/><rect x="828.54" fill="#f7c3c4"/><rect x="835.94" fill="#f3a3a5"/><rect x="843.34" fill="#fce5e5"/><rect x="850.74" fill="#e9edf4"/><rect x="858.13" fill="#f3a3a5"/><rect x="865.53" fill="#f3a3a5"/><rect x="872.93" fill="#fdfbfb"/><rect x="880.32" fill="#fce5e5"/><rect x="887.72" fill="#fdfbfb"/><rect x="895.12" fill="#f7c3c4"/><rect x="902.51" fill="#e9edf4"/><rect x="909.91" fill="#e9edf4"/><rect x="917.31" fill="#e9edf4"/><rect x="924.71" fill="#fdfbfb"/><rect x="932.1" fill="#ec6e70"/>
</g>
<g transform="translate(0 379.4)">
<rect x="185" fill="#f7c3c4"/><rect x="192.4" fill="#fdfbfb"/><rect x="199.79" fill="#f7c3c4"/><rect x="207.19" fill="#e6403f"/><rect x="214.59" fill="#ec6e70"/><rect x="221.99" fill="#f3a3a5"/><rect x="229.38" fill="#ec6e70"/><rect x="236.78" fill="#e6403f"/><rect x="244.18" fill="#fce5e5"/><rect x="251.57" fill="#f3a3a5"/><rect x="258.97" fill="#f7c3c4"/><rect x="266.37" fill="#f3a3a5"/><rect x="273.76" fill="#f3a3a5"/><rect x="281.16" fill="#f7c3c4"/><rect x="288.56" fill="#e6403f"/><rect x="295.96" fill="#f7c3c4"/><rect x="303.35" fill="#bcc6de"/><rect x="310.75" fill="#f3a3a5"/><rect x="318.15" fill="#f3a3a5"/><rect x="325.54" fill="#fdfbfb"/><rect x="332.94" fill="#fdfbfb"/><rect x="340.34" fill="#95a4c7"/><rect x="347.74" fill="#e9edf4"/><rect x="355.13" fill="#ec6e70"/><rect x="362.53" fill="#fdfbfb"/><rect x="369.93" fill="#bcc6de"/><rect x="377.32" fill="#fce5e5"/><rect x="384.72" fill="#f3a3a5"/><rect x="392.12" fill="#e9edf4"/><rect x="399.51" fill="#e9edf4"/><rect x="406.91" fill="#fdfbfb"/><rect x="414.31" fill="#fdfbfb"/><rect x="421.71" fill="#fdfbfb"/><rect x="429.1" fill="#95a4c7"/><rect x="436.5" fill="#6a80b4"/><rect x="443.9" fill="#bcc6de"/><rect x="451.29" fill="#95a4c7"/><rect x="458.69" fill="#bcc6de"/><rect x="466.09" fill="#95a4c7"/><rect x="473.49" fill="#e9edf4"/><rect x="480.88" fill="#fdfbfb"/><rect x="488.28" fill="#e9edf4"/><rect x="495.68" fill="#e9edf4"/><rect x="503.07" fill="#f7c3c4"/><rect x="510.47" fill="#fdfbfb"/><rect x="517.87" fill="#e9edf4"/><rect x="525.26" fill="#e9edf4"/><rect x="532.66" fill="#fdfbfb"/><rect x="540.06" fill="#fdfbfb"/><rect x="547.46" fill="#e31a1c"/><rect x="554.85" fill="#bcc6de"/><rect x="562.25" fill="#fce5e5"/><rect x="569.65" fill="#fdfbfb"/><rect x="577.04" fill="#95a4c7"/><rect x="584.44" fill="#bcc6de"/><rect x="591.84" fill="#bcc6de"/><rect x="599.24" fill="#fdfbfb"/><rect x="606.63" fill="#fdfbfb"/><rect x="614.03" fill="#fdfbfb"/><rect x="621.43" fill="#fdfbfb"/><rect x="628.82" fill="#fdfbfb"/><rect x="636.22" fill="#6a80b4"/><rect x="643.62" fill="#95a4c7"/><rect x="651.01" fill="#6a80b4"/><rect x="658.41" fill="#bcc6de"/><rect x="665.81" fill="#fdfbfb"/><rect x="673.21" fill="#95a4c7"/><rect x="680.6" fill="#e9edf4"/><rect x="688" fill="#fdfbfb"/><rect x="695.4" fill="#fdfbfb"/><rect x="702.79" fill="#fdfbfb"/><rect x="710.19" fill="#fdfbfb"/><rect x="717.59" fill="#fdfbfb"/><rect x="724.99" fill="#fdfbfb"/><rect x="732.38" fill="#e9edf4"/><rect x="739.78" fill="#fce5e5"/><rect x="747.18" fill="#6a80b4"/><rect x="754.57" fill="#fce5e5"/><rect x="761.97" fill="#fdfbfb"/><rect x="769.37" fill="#fdfbfb"/><rect x="776.76" fill="#fdfbfb"/><rect x="784.16" fill="#fdfbfb"/><rect x="791.56" fill="#f7c3c4"/><rect x="798.96" fill="#fce5e5"/><rect x="806.35" fill="#fce5e5"/><rect x="813.75" fill="#f3a3a5"/><rect x="821.15" fill="#f3a3a5"/><rect x="828.54" fill="#f3a3a5"/><rect x="835.94" fill="#ec6e70"/><rect x="843.34" fill="#fdfbfb"/><rect x="850.74" fill="#fdfbfb"/><rect x="858.13" fill="#fdfbfb"/><rect x="865.53" fill="#fdfbfb"/><rect x="872.93" fill="#f7c3c4"/><rect x="880.32" fill="#f7c3c4"/><rect x="887.72" fill="#e9edf4"/><rect x="895.12" fill="#bcc6de"/><rect x="902.51" fill="#bcc6de"/><rect x="909.91" fill="#f3a3a5"/><rect x="917.31" fill="#fdfbfb"/><rect x="924.71" fill="#fce5e5"/><rect x="932.1" fill="#ec6e70"/>
</g>
<g transform="translate(0 397.95)">
<rect x="185" fill="#fce5e5"/><rect x="192.4" fill="#bcc6de"/><rect x="199.79" fill="#ec6e70"/><rect x="207.19" fill="#f3a3a5"/><rect x="214.59" fill="#fdfbfb"/><rect x="221.99" fill="#bcc6de"/><rect x="229.38" fill="#f3a3a5"/><rect x="236.78" fill="#e6403f"/><rect x="244.18" fill="#ec6e70"/><rect x="251.57" fill="#f3a3a5"/><rect x="258.97" fill="#95a4c7"/><rect x="266.37" fill="#fce5e5"/><rect x="273.76" fill="#e9edf4"/><rect x="281.16" fill="#ec6e70"/><rect x="288.56" fill="#f7c3c4"/><rect x="295.96" fill="#ec6e70"/><rect x="303.35" fill="#fce5e5"/><rect x="310.75" fill="#e9edf4"/><rect x="318.15" fill="#fce5e5"/><rect x="325.54" fill="#ec6e70"/><rect x="332.94" fill="#ec6e70"/><rect x="340.34" fill="#f3a3a5"/><rect x="347.74" fill="#ec6e70"/><rect x="355.13" fill="#e9edf4"/><rect x="362.53" fill="#e6403f"/><rect x="369.93" fill="#95a4c7"/><rect x="377.32" fill="#fdfbfb"/><rect x="384.72" fill="#fdfbfb"/><rect x="392.12" fill="#fdfbfb"/><rect x="399.51" fill="#bcc6de"/><rect x="406.91" fill="#95a4c7"/><rect x="414.31" fill="#bcc6de"/><rect x="421.71" fill="#fdfbfb"/><rect x="429.1" fill="#6a80b4"/><rect x="436.5" fill="#95a4c7"/><rect x="443.9" fill="#fdfbfb"/><rect x="451.29" fill="#f3a3a5"/><rect x="458.69" fill="#bcc6de"/><rect x="466.09" fill="#e9edf4"/><rect x="473.49" fill="#95a4c7"/><rect x="480.88" fill="#e9edf4"/><rect x="488.28" fill="#ec6e70"/><rect x="495.68" fill="#fdfbfb"/><rect x="503.07" fill="#fdfbfb"/><rect x="510.47" fill="#bcc6de"/><rect x="517.87" fill="#fdfbfb"/><rect x="525.26" fill="#bcc6de"/><rect x="532.66" fill="#95a4c7"/><rect x="540.06" fill="#e9edf4"/><rect x="547.46" fill="#6a80b4"/><rect x="554.85" fill="#95a4c7"/><rect x="562.25" fill="#f3a3a5"/><rect x="569.65" fill="#f7c3c4"/><rect x="577.04" fill="#bcc6de"/><rect x="584.44" fill="#95a4c7"/><rect x="591.84" fill="#bcc6de"/><rect x="599.24" fill="#f7c3c4"/><rect x="606.63" fill="#fce5e5"/><rect x="614.03" fill="#e9edf4"/><rect x="621.43" fill="#e9edf4"/><rect x="628.82" fill="#fce5e5"/><rect x="636.22" fill="#ec6e70"/><rect x="643.62" fill="#fce5e5"/><rect x="651.01" fill="#f7c3c4"/><rect x="658.41" fill="#f3a3a5"/><rect x="665.81" fill="#fdfbfb"/><rect x="673.21" fill="#ec6e70"/><rect x="680.6" fill="#ec6e70"/><rect x="688" fill="#bcc6de"/><rect x="695.4" fill="#95a4c7"/><rect x="702.79" fill="#fdfbfb"/><rect x="710.19" fill="#f7c3c4"/><rect x="717.59" fill="#f3a3a5"/><rect x="724.99" fill="#fdfbfb"/><rect x="732.38" fill="#fdfbfb"/><rect x="739.78" fill="#e9edf4"/><rect x="747.18" fill="#e9edf4"/><rect x="754.57" fill="#e9edf4"/><rect x="761.97" fill="#bcc6de"/><rect x="769.37" fill="#fdfbfb"/><rect x="776.76" fill="#f7c3c4"/><rect x="784.16" fill="#fdfbfb"/><rect x="791.56" fill="#ec6e70"/><rect x="798.96" fill="#e9edf4"/><rect x="806.35" fill="#fce5e5"/><rect x="813.75" fill="#bcc6de"/><rect x="821.15" fill="#f3a3a5"/><rect x="828.54" fill="#e9edf4"/><rect x="835.94" fill="#f3a3a5"/><rect x="843.34" fill="#bcc6de"/><rect x="850.74" fill="#95a4c7"/><rect x="858.13" fill="#f7c3c4"/><rect x="865.53" fill="#fdfbfb"/><rect x="872.93" fill="#fce5e5"/><rect x="880.32" fill="#fdfbfb"/><rect x="887.72" fill="#bcc6de"/><rect x="895.12" fill="#bcc6de"/><rect x="902.51" fill="#fdfbfb"/><rect x="909.91" fill="#bcc6de"/><rect x="917.31" fill="#bcc6de"/><rect x="924.71" fill="#fdfbfb"/><rect x="932.1" fill="#bcc6de"/>
</g>
<g transform="translate(0 416.5)">
<rect x="185" fill="#ec6e70"/><rect x="192.4" fill="#fce5e5"/><rect x="199.79" fill="#f7c3c4"/><rect x="207.19" fill="#f3a3a5"/><rect x="214.59" fill="#f3a3a5"/><rect x="221.99" fill="#fce5e5"/><rect x="229.38" fill="#ec6e70"/><rect x="236.78" fill="#e6403f"/><rect x="244.18" fill="#f7c3c4"/><rect x="251.57" fill="#ec6e70"/><rect x="258.97" fill="#e9edf4"/><rect x="266.37" fill="#fce5e5"/><rect x="273.76" fill="#ec6e70"/><rect x="281.16" fill="#f3a3a5"/><rect x="288.56" fill="#f3a3a5"/><rect x="295.96" fill="#f3a3a5"/><rect x="303.35" fill="#f3a3a5"/><rect x="310.75" fill="#ec6e70"/><rect x="318.15" fill="#f3a3a5"/><rect x="325.54" fill="#f3a3a5"/><rect x="332.94" fill="#f3a3a5"/><rect x="340.34" fill="#bcc6de"/><rect x="347.74" fill="#f7c3c4"/><rect x="355.13" fill="#e9edf4"/><rect x="362.53" fill="#f7c3c4"/><rect x="369.93" fill="#e9edf4"/><rect x="377.32" fill="#ec6e70"/><rect x="384.72" fill="#ec6e70"/><rect x="392.12" fill="#e9edf4"/><rect x="399.51" fill="#bcc6de"/><rect x="406.91" fill="#fdfbfb"/><rect x="414.31" fill="#fdfbfb"/><rect x="421.71" fill="#fdfbfb"/><rect x="429.1" fill="#95a4c7"/><rect x="436.5" fill="#e9edf4"/><rect x="443.9" fill="#e9edf4"/><rect x="451.29" fill="#bcc6de"/><rect x="458.69" fill="#bcc6de"/><rect x="466.09" fill="#fdfbfb"/><rect x="473.49" fill="#e9edf4"/><rect x="480.88" fill="#fdfbfb"/><rect x="488.28" fill="#fdfbfb"/><rect x="495.68" fill="#f3a3a5"/><rect x="503.07" fill="#fdfbfb"/><rect x="510.47" fill="#fdfbfb"/><rect x="517.87" fill="#fdfbfb"/><rect x="525.26" fill="#95a4c7"/><rect x="532.66" fill="#fce5e5"/><rect x="540.06" fill="#bcc6de"/><rect x="547.46" fill="#fdfbfb"/><rect x="554.85" fill="#f3a3a5"/><rect x="562.25" fill="#f7c3c4"/><rect x="569.65" fill="#fce5e5"/><rect x="577.04" fill="#e9edf4"/><rect x="584.44" fill="#95a4c7"/><rect x="591.84" fill="#6a80b4"/><rect x="599.24" fill="#6a80b4"/><rect x="606.63" fill="#fdfbfb"/><rect x="614.03" fill="#95a4c7"/><rect x="621.43" fill="#e9edf4"/><rect x="628.82" fill="#fdfbfb"/><rect x="636.22" fill="#6a80b4"/><rect x="643.62" fill="#6a80b4"/><rect x="651.01" fill="#fdfbfb"/><rect x="658.41" fill="#6a80b4"/><rect x="665.81" fill="#fdfbfb"/><rect x="673.21" fill="#fdfbfb"/><rect x="680.6" fill="#e9edf4"/><rect x="688" fill="#fce5e5"/><rect x="695.4" fill="#bcc6de"/><rect x="702.79" fill="#95a4c7"/><rect x="710.19" fill="#fdfbfb"/><rect x="717.59" fill="#bcc6de"/><rect x="724.99" fill="#fdfbfb"/><rect x="732.38" fill="#fce5e5"/><rect x="739.78" fill="#f3a3a5"/><rect x="747.18" fill="#fdfbfb"/><rect x="754.57" fill="#bcc6de"/><rect x="761.97" fill="#fce5e5"/><rect x="769.37" fill="#fce5e5"/><rect x="776.76" fill="#e9edf4"/><rect x="784.16" fill="#fce5e5"/><rect x="791.56" fill="#fdfbfb"/><rect x="798.96" fill="#bcc6de"/><rect x="806.35" fill="#bcc6de"/><rect x="813.75" fill="#f7c3c4"/><rect x="821.15" fill="#f3a3a5"/><rect x="828.54" fill="#fdfbfb"/><rect x="835.94" fill="#fdfbfb"/><rect x="843.34" fill="#95a4c7"/><rect x="850.74" fill="#fdfbfb"/><rect x="858.13" fill="#f7c3c4"/><rect x="865.53" fill="#fce5e5"/><rect x="872.93" fill="#fce5e5"/><rect x="880.32" fill="#e9edf4"/><rect x="887.72" fill="#fce5e5"/><rect x="895.12" fill="#ec6e70"/><rect x="902.51" fill="#fdfbfb"/><rect x="909.91" fill="#fce5e5"/><rect x="917.31" fill="#f7c3c4"/><rect x="924.71" fill="#f7c3c4"/><rect x="932.1" fill="#f3a3a5"/>
</g>
<g transform="translate(0 435.05)">
<rect x="185" fill="#ec6e70"/><rect x="192.4" fill="#e9edf4"/><rect x="199.79" fill="#bcc6de"/><rect x="207.19" fill="#f3a3a5"/><rect x="214.59" fill="#bcc6de"/><rect x="221.99" fill="#fce5e5"/><rect x="229.38" fill="#f3a3a5"/><rect x="236.78" fill="#fce5e5"/><rect x="244.18" fill="#f3a3a5"/><rect x="251.57" fill="#f3a3a5"/><rect x="258.97" fill="#f3a3a5"/><rect x="266.37" fill="#f7c3c4"/><rect x="273.76" fill="#ec6e70"/><rect x="281.16" fill="#f3a3a5"/><rect x="288.56" fill="#fce5e5"/><rect x="295.96" fill="#f3a3a5"/><rect x="303.35" fill="#fdfbfb"/><rect x="310.75" fill="#bcc6de"/><rect x="318.15" fill="#fdfbfb"/><rect x="325.54" fill="#f3a3a5"/><rect x="332.94" fill="#ec6e70"/><rect x="340.34" fill="#fdfbfb"/><rect x="347.74" fill="#ec6e70"/><rect x="355.13" fill="#f3a3a5"/><rect x="362.53" fill="#f7c3c4"/><rect x="369.93" fill="#f3a3a5"/><rect x="377.32" fill="#fdfbfb"/><rect x="384.72" fill="#fdfbfb"/><rect x="392.12" fill="#e9edf4"/><rect x="399.51" fill="#e6403f"/><rect x="406.91" fill="#fdfbfb"/><rect x="414.31" fill="#bcc6de"/><rect x="421.71" fill="#e9edf4"/><rect x="429.1" fill="#fce5e5"/><rect x="436.5" fill="#f3a3a5"/><rect x="443.9" fill="#f7c3c4"/><rect x="451.29" fill="#fdfbfb"/><rect x="458.69" fill="#bcc6de"/><rect x="466.09" fill="#fdfbfb"/><rect x="473.49" fill="#fdfbfb"/><rect x="480.88" fill="#fce5e5"/><rect x="488.28" fill="#fce5e5"/><rect x="495.68" fill="#e9edf4"/><rect x="503.07" fill="#e9edf4"/><rect x="510.47" fill="#e9edf4"/><rect x="517.87" fill="#bcc6de"/><rect x="525.26" fill="#fdfbfb"/><rect x="532.66" fill="#95a4c7"/><rect x="540.06" fill="#ec6e70"/><rect x="547.46" fill="#fce5e5"/><rect x="554.85" fill="#ec6e70"/><rect x="562.25" fill="#e9edf4"/><rect x="569.65" fill="#f3a3a5"/><rect x="577.04" fill="#ec6e70"/><rect x="584.44" fill="#f3a3a5"/><rect x="591.84" fill="#f7c3c4"/><rect x="599.24" fill="#f3a3a5"/><rect x="606.63" fill="#bcc6de"/><rect x="614.03" fill="#6a80b4"/><rect x="621.43" fill="#fdfbfb"/><rect x="628.82" fill="#f7c3c4"/><rect x="636.22" fill="#bcc6de"/><rect x="643.62" fill="#fdfbfb"/><rect x="651.01" fill="#ec6e70"/><rect x="658.41" fill="#ec6e70"/><rect x="665.81" fill="#95a4c7"/><rect x="673.21" fill="#e9edf4"/><rect x="680.6" fill="#fce5e5"/><rect x="688" fill="#fce5e5"/><rect x="695.4" fill="#6a80b4"/><rect x="702.79" fill="#fdfbfb"/><rect x="710.19" fill="#fce5e5"/><rect x="717.59" fill="#f3a3a5"/><rect x="724.99" fill="#95a4c7"/><rect x="732.38" fill="#f3a3a5"/><rect x="739.78" fill="#bcc6de"/><rect x="747.18" fill="#bcc6de"/><rect x="754.57" fill="#fdfbfb"/><rect x="761.97" fill="#6a80b4"/><rect x="769.37" fill="#95a4c7"/><rect x="776.76" fill="#95a4c7"/><rect x="784.16" fill="#95a4c7"/><rect x="791.56" fill="#bcc6de"/><rect x="798.96" fill="#fce5e5"/><rect x="806.35" fill="#fce5e5"/><rect x="813.75" fill="#e9edf4"/><rect x="821.15" fill="#e9edf4"/><rect x="828.54" fill="#bcc6de"/><rect x="835.94" fill="#6a80b4"/><rect x="843.34" fill="#e9edf4"/><rect x="850.74" fill="#f3a3a5"/><rect x="858.13" fill="#e9edf4"/><rect x="865.53" fill="#fce5e5"/><rect x="872.93" fill="#fdfbfb"/><rect x="880.32" fill="#6a80b4"/><rect x="887.72" fill="#fdfbfb"/><rect x="895.12" fill="#f7c3c4"/><rect x="902.51" fill="#fdfbfb"/><rect x="909.91" fill="#e9edf4"/><rect x="917.31" fill="#95a4c7"/><rect x="924.71" fill="#bcc6de"/><rect x="932.1" fill="#bcc6de"/>
</g>
<g transform="translate(0 453.6)">
<rect x="185" fill="#f7c3c4"/><rect x="192.4" fill="#e9edf4"/><rect x="199.79" fill="#f3a3a5"/><rect x="207.19" fill="#e6403f"/><rect x="214.59" fill="#f3a3a5"/><rect x="221.99" fill="#f3a3a5"/><rect x="229.38" fill="#fce5e5"/><rect x="236.78" fill="#e9edf4"/><rect x="244.18" fill="#bcc6de"/><rect x="251.57" fill="#fce5e5"/><rect x="258.97" fill="#95a4c7"/><rect x="266.37" fill="#bcc6de"/><rect x="273.76" fill="#fce5e5"/><rect x="281.16" fill="#fdfbfb"/><rect x="288.56" fill="#fce5e5"/><rect x="295.96" fill="#f3a3a5"/><rect x="303.35" fill="#f7c3c4"/><rect x="310.75" fill="#fce5e5"/><rect x="318.15" fill="#fce5e5"/><rect x="325.54" fill="#fce5e5"/><rect x="332.94" fill="#fce5e5"/><rect x="340.34" fill="#fce5e5"/><rect x="347.74" fill="#fdfbfb"/><rect x="355.13" fill="#bcc6de"/><rect x="362.53" fill="#fdfbfb"/><rect x="369.93" fill="#fdfbfb"/><rect x="377.32" fill="#ec6e70"/><rect x="384.72" fill="#f3a3a5"/><rect x="392.12" fill="#fce5e5"/><rect x="399.51" fill="#bcc6de"/><rect x="406.91" fill="#e9edf4"/><rect x="414.31" fill="#f3a3a5"/><rect x="421.71" fill="#f7c3c4"/><rect x="429.1" fill="#6a80b4"/><rect x="436.5" fill="#95a4c7"/><rect x="443.9" fill="#fdfbfb"/><rect x="451.29" fill="#e9edf4"/><rect x="458.69" fill="#fdfbfb"/><rect x="466.09" fill="#e9edf4"/><rect x="473.49" fill="#fdfbfb"/><rect x="480.88" fill="#6a80b4"/><rect x="488.28" fill="#fdfbfb"/><rect x="495.68" fill="#fdfbfb"/><rect x="503.07" fill="#f7c3c4"/><rect x="510.47" fill="#fdfbfb"/><rect x="517.87" fill="#e9edf4"/><rect x="525.26" fill="#95a4c7"/><rect x="532.66" fill="#f3a3a5"/><rect x="540.06" fill="#fce5e5"/><rect x="547.46" fill="#fce5e5"/><rect x="554.85" fill="#fce5e5"/><rect x="562.25" fill="#fdfbfb"/><rect x="569.65" fill="#ec6e70"/><rect x="577.04" fill="#fdfbfb"/><rect x="584.44" fill="#fdfbfb"/><rect x="591.84" fill="#95a4c7"/><rect x="599.24" fill="#fdfbfb"/><rect x="606.63" fill="#f7c3c4"/><rect x="614.03" fill="#ec6e70"/><rect x="621.43" fill="#6a80b4"/><rect x="628.82" fill="#fdfbfb"/><rect x="636.22" fill="#95a4c7"/><rect x="643.62" fill="#6a80b4"/><rect x="651.01" fill="#fdfbfb"/><rect x="658.41" fill="#95a4c7"/><rect x="665.81" fill="#e9edf4"/><rect x="673.21" fill="#fdfbfb"/><rect x="680.6" fill="#6a80b4"/><rect x="688" fill="#95a4c7"/><rect x="695.4" fill="#fdfbfb"/><rect x="702.79" fill="#fdfbfb"/><rect x="710.19" fill="#e9edf4"/><rect x="717.59" fill="#fdfbfb"/><rect x="724.99" fill="#fdfbfb"/><rect x="732.38" fill="#ec6e70"/><rect x="739.78" fill="#fdfbfb"/><rect x="747.18" fill="#fce5e5"/><rect x="754.57" fill="#f7c3c4"/><rect x="761.97" fill="#e9edf4"/><rect x="769.37" fill="#ec6e70"/><rect x="776.76" fill="#ec6e70"/><rect x="784.16" fill="#fdfbfb"/><rect x="791.56" fill="#f3a3a5"/><rect x="798.96" fill="#e9edf4"/><rect x="806.35" fill="#fdfbfb"/><rect x="813.75" fill="#ec6e70"/><rect x="821.15" fill="#bcc6de"/><rect x="828.54" fill="#e31a1c"/><rect x="835.94" fill="#f3a3a5"/><rect x="843.34" fill="#fce5e5"/><rect x="850.74" fill="#fdfbfb"/><rect x="858.13" fill="#bcc6de"/><rect x="865.53" fill="#fdfbfb"/><rect x="872.93" fill="#fdfbfb"/><rect x="880.32" fill="#6a80b4"/><rect x="887.72" fill="#ec6e70"/><rect x="895.12" fill="#bcc6de"/><rect x="902.51" fill="#95a4c7"/><rect x="909.91" fill="#fdfbfb"/><rect x="917.31" fill="#fce5e5"/><rect x="924.71" fill="#fce5e5"/><rect x="932.1" fill="#fce5e5"/>
</g>
<g transform="translate(0 472.15)">
<rect x="185" fill="#ec6e70"/><rect x="192.4" fill="#fdfbfb"/><rect x="199.79" fill="#ec6e70"/><rect x="207.19" fill="#ec6e70"/><rect x="214.59" fill="#fce5e5"/><rect x="221.99" fill="#f3a3a5"/><rect x="229.38" fill="#fdfbfb"/><rect x="236.78" fill="#fce5e5"/><rect x="244.18" fill="#fce5e5"/><rect x="251.57" fill="#ec6e70"/><rect x="258.97" fill="#95a4c7"/><rect x="266.37" fill="#e6403f"/><rect x="273.76" fill="#fdfbfb"/><rect x="281.16" fill="#bcc6de"/><rect x="288.56" fill="#f3a3a5"/><rect x="295.96" fill="#6a80b4"/><rect x="303.35" fill="#f3a3a5"/><rect x="310.75" fill="#fdfbfb"/><rect x="318.15" fill="#fce5e5"/><rect x="325.54" fill="#fce5e5"/><rect x="332.94" fill="#e9edf4"/><rect x="340.34" fill="#bcc6de"/><rect x="347.74" fill="#fce5e5"/><rect x="355.13" fill="#f3a3a5"/><rect x="362.53" fill="#fce5e5"/><rect x="369.93" fill="#fdfbfb"/><rect x="377.32" fill="#fdfbfb"/><rect x="384.72" fill="#fdfbfb"/><rect x="392.12" fill="#fdfbfb"/><rect x="399.51" fill="#f7c3c4"/><rect x="406.91" fill="#fce5e5"/><rect x="414.31" fill="#bcc6de"/><rect x="421.71" fill="#bcc6de"/><rect x="429.1" fill="#e9edf4"/><rect x="436.5" fill="#6a80b4"/><rect x="443.9" fill="#6a80b4"/><rect x="451.29" fill="#fdfbfb"/><rect x="458.69" fill="#f3a3a5"/><rect x="466.09" fill="#f7c3c4"/><rect x="473.49" fill="#bcc6de"/><rect x="480.88" fill="#fdfbfb"/><rect x="488.28" fill="#f7c3c4"/><rect x="495.68" fill="#fce5e5"/><rect x="503.07" fill="#fdfbfb"/><rect x="510.47" fill="#e9edf4"/><rect x="517.87" fill="#e9edf4"/><rect x="525.26" fill="#95a4c7"/><rect x="532.66" fill="#fce5e5"/><rect x="540.06" fill="#ec6e70"/><rect x="547.46" fill="#fdfbfb"/><rect x="554.85" fill="#95a4c7"/><rect x="562.25" fill="#bcc6de"/><rect x="569.65" fill="#bcc6de"/><rect x="577.04" fill="#fce5e5"/><rect x="584.44" fill="#fce5e5"/><rect x="591.84" fill="#f7c3c4"/><rect x="599.24" fill="#fce5e5"/><rect x="606.63" fill="#bcc6de"/><rect x="614.03" fill="#2c4a8a"/><rect x="621.43" fill="#fdfbfb"/><rect x="628.82" fill="#fdfbfb"/><rect x="636.22" fill="#bcc6de"/><rect x="643.62" fill="#e9edf4"/><rect x="651.01" fill="#e9edf4"/><rect x="658.41" fill="#f7c3c4"/><rect x="665.81" fill="#95a4c7"/><rect x="673.21" fill="#fdfbfb"/><rect x="680.6" fill="#6a80b4"/><rect x="688" fill="#f3a3a5"/><rect x="695.4" fill="#fdfbfb"/><rect x="702.79" fill="#fce5e5"/><rect x="710.19" fill="#fdfbfb"/><rect x="717.59" fill="#fdfbfb"/><rect x="724.99" fill="#fdfbfb"/><rect x="732.38" fill="#e9edf4"/><rect x="739.78" fill="#fdfbfb"/><rect x="747.18" fill="#f7c3c4"/><rect x="754.57" fill="#bcc6de"/><rect x="761.97" fill="#f7c3c4"/><rect x="769.37" fill="#bcc6de"/><rect x="776.76" fill="#f3a3a5"/><rect x="784.16" fill="#fce5e5"/><rect x="791.56" fill="#f7c3c4"/><rect x="798.96" fill="#fce5e5"/><rect x="806.35" fill="#ec6e70"/><rect x="813.75" fill="#bcc6de"/><rect x="821.15" fill="#f7c3c4"/><rect x="828.54" fill="#fce5e5"/><rect x="835.94" fill="#ec6e70"/><rect x="843.34" fill="#fdfbfb"/><rect x="850.74" fill="#bcc6de"/><rect x="858.13" fill="#fce5e5"/><rect x="865.53" fill="#f3a3a5"/><rect x="872.93" fill="#f7c3c4"/><rect x="880.32" fill="#e9edf4"/><rect x="887.72" fill="#f7c3c4"/><rect x="895.12" fill="#fdfbfb"/><rect x="902.51" fill="#f7c3c4"/><rect x="909.91" fill="#f7c3c4"/><rect x="917.31" fill="#fce5e5"/><rect x="924.71" fill="#fdfbfb"/><rect x="932.1" fill="#fdfbfb"/>
</g>
<g transform="translate(0 499.7)">
<rect x="185" fill="#f3a3a5"/><rect x="192.4" fill="#fdfbfb"/><rect x="199.79" fill="#fdfbfb"/><rect x="207.19" fill="#ec6e70"/><rect x="214.59" fill="#f3a3a5"/><rect x="221.99" fill="#fce5e5"/><rect x="229.38" fill="#f3a3a5"/><rect x="236.78" fill="#e6403f"/><rect x="244.18" fill="#f3a3a5"/><rect x="251.57" fill="#f7c3c4"/><rect x="258.97" fill="#f7c3c4"/><rect x="266.37" fill="#f3a3a5"/><rect x="273.76" fill="#f7c3c4"/><rect x="281.16" fill="#f7c3c4"/><rect x="288.56" fill="#f7c3c4"/><rect x="295.96" fill="#fce5e5"/><rect x="303.35" fill="#f7c3c4"/><rect x="310.75" fill="#e9edf4"/><rect x="318.15" fill="#f3a3a5"/><rect x="325.54" fill="#f3a3a5"/><rect x="332.94" fill="#fce5e5"/><rect x="340.34" fill="#fce5e5"/><rect x="347.74" fill="#f7c3c4"/><rect x="355.13" fill="#fdfbfb"/><rect x="362.53" fill="#fce5e5"/><rect x="369.93" fill="#fdfbfb"/><rect x="377.32" fill="#fdfbfb"/><rect x="384.72" fill="#e9edf4"/><rect x="392.12" fill="#fce5e5"/><rect x="399.51" fill="#f7c3c4"/><rect x="406.91" fill="#bcc6de"/><rect x="414.31" fill="#fdfbfb"/><rect x="421.71" fill="#e9edf4"/><rect x="429.1" fill="#95a4c7"/><rect x="436.5" fill="#95a4c7"/><rect x="443.9" fill="#fce5e5"/><rect x="451.29" fill="#bcc6de"/><rect x="458.69" fill="#e9edf4"/><rect x="466.09" fill="#6a80b4"/><rect x="473.49" fill="#bcc6de"/><rect x="480.88" fill="#e9edf4"/><rect x="488.28" fill="#fdfbfb"/><rect x="495.68" fill="#fce5e5"/><rect x="503.07" fill="#f7c3c4"/><rect x="510.47" fill="#e9edf4"/><rect x="517.87" fill="#fdfbfb"/><rect x="525.26" fill="#95a4c7"/><rect x="532.66" fill="#e9edf4"/><rect x="540.06" fill="#fce5e5"/><rect x="547.46" fill="#fdfbfb"/><rect x="554.85" fill="#fce5e5"/><rect x="562.25" fill="#f7c3c4"/><rect x="569.65" fill="#f3a3a5"/><rect x="577.04" fill="#bcc6de"/><rect x="584.44" fill="#e9edf4"/><rect x="591.84" fill="#fce5e5"/><rect x="599.24" fill="#fdfbfb"/><rect x="606.63" fill="#fce5e5"/><rect x="614.03" fill="#e9edf4"/><rect x="621.43" fill="#f7c3c4"/><rect x="628.82" fill="#e9edf4"/><rect x="636.22" fill="#bcc6de"/><rect x="643.62" fill="#6a80b4"/><rect x="651.01" fill="#e9edf4"/><rect x="658.41" fill="#e9edf4"/><rect x="665.81" fill="#f3a3a5"/><rect x="673.21" fill="#e9edf4"/><rect x="680.6" fill="#fdfbfb"/><rect x="688" fill="#fce5e5"/><rect x="695.4" fill="#e9edf4"/><rect x="702.79" fill="#e9edf4"/><rect x="710.19" fill="#2c4a8a"/><rect x="717.59" fill="#bcc6de"/><rect x="724.99" fill="#95a4c7"/><rect x="732.38" fill="#fce5e5"/><rect x="739.78" fill="#fce5e5"/><rect x="747.18" fill="#fdfbfb"/><rect x="754.57" fill="#fce5e5"/><rect x="761.97" fill="#f3a3a5"/><rect x="769.37" fill="#e9edf4"/><rect x="776.76" fill="#f7c3c4"/><rect x="784.16" fill="#fce5e5"/><rect x="791.56" fill="#6a80b4"/><rect x="798.96" fill="#e9edf4"/><rect x="806.35" fill="#fce5e5"/><rect x="813.75" fill="#fdfbfb"/><rect x="821.15" fill="#fce5e5"/><rect x="828.54" fill="#e9edf4"/><rect x="835.94" fill="#fdfbfb"/><rect x="843.34" fill="#bcc6de"/><rect x="850.74" fill="#fce5e5"/><rect x="858.13" fill="#fce5e5"/><rect x="865.53" fill="#e9edf4"/><rect x="872.93" fill="#fdfbfb"/><rect x="880.32" fill="#e9edf4"/><rect x="887.72" fill="#fdfbfb"/><rect x="895.12" fill="#e9edf4"/><rect x="902.51" fill="#f7c3c4"/><rect x="909.91" fill="#f3a3a5"/><rect x="917.31" fill="#fce5e5"/><rect x="924.71" fill="#f7c3c4"/><rect x="932.1" fill="#ec6e70"/>
</g>
<g transform="translate(0 518.25)">
<rect x="185" fill="#e6403f"/><rect x="192.4" fill="#f7c3c4"/><rect x="199.79" fill="#f3a3a5"/><rect x="207.19" fill="#f3a3a5"/><rect x="214.59" fill="#ec6e70"/><rect x="221.99" fill="#fce5e5"/><rect x="229.38" fill="#e9edf4"/><rect x="236.78" fill="#f3a3a5"/><rect x="244.18" fill="#fdfbfb"/><rect x="251.57" fill="#fdfbfb"/><rect x="258.97" fill="#ec6e70"/><rect x="266.37" fill="#f3a3a5"/><rect x="273.76" fill="#ec6e70"/><rect x="281.16" fill="#bcc6de"/><rect x="288.56" fill="#f7c3c4"/><rect x="295.96" fill="#fdfbfb"/><rect x="303.35" fill="#ec6e70"/><rect x="310.75" fill="#bcc6de"/><rect x="318.15" fill="#bcc6de"/><rect x="325.54" fill="#e9edf4"/><rect x="332.94" fill="#95a4c7"/><rect x="340.34" fill="#fdfbfb"/><rect x="347.74" fill="#fdfbfb"/><rect x="355.13" fill="#fce5e5"/><rect x="362.53" fill="#fce5e5"/><rect x="369.93" fill="#e9edf4"/><rect x="377.32" fill="#ec6e70"/><rect x="384.72" fill="#fce5e5"/><rect x="392.12" fill="#ec6e70"/><rect x="399.51" fill="#fdfbfb"/><rect x="406.91" fill="#fdfbfb"/><rect x="414.31" fill="#f7c3c4"/><rect x="421.71" fill="#e9edf4"/><rect x="429.1" fill="#bcc6de"/><rect x="436.5" fill="#95a4c7"/><rect x="443.9" fill="#e9edf4"/><rect x="451.29" fill="#95a4c7"/><rect x="458.69" fill="#e9edf4"/><rect x="466.09" fill="#e9edf4"/><rect x="473.49" fill="#95a4c7"/><rect x="480.88" fill="#95a4c7"/><rect x="488.28" fill="#e9edf4"/><rect x="495.68" fill="#f7c3c4"/><rect x="503.07" fill="#fce5e5"/><rect x="510.47" fill="#bcc6de"/><rect x="517.87" fill="#f3a3a5"/><rect x="525.26" fill="#bcc6de"/><rect x="532.66" fill="#fce5e5"/><rect x="540.06" fill="#95a4c7"/><rect x="547.46" fill="#95a4c7"/><rect x="554.85" fill="#fce5e5"/><rect x="562.25" fill="#e9edf4"/><rect x="569.65" fill="#f3a3a5"/><rect x="577.04" fill="#fdfbfb"/><rect x="584.44" fill="#fdfbfb"/><rect x="591.84" fill="#fce5e5"/><rect x="599.24" fill="#bcc6de"/><rect x="606.63" fill="#e9edf4"/><rect x="614.03" fill="#fdfbfb"/><rect x="621.43" fill="#bcc6de"/><rect x="628.82" fill="#fdfbfb"/><rect x="636.22" fill="#95a4c7"/><rect x="643.62" fill="#6a80b4"/><rect x="651.01" fill="#e9edf4"/><rect x="658.41" fill="#fce5e5"/><rect x="665.81" fill="#fce5e5"/><rect x="673.21" fill="#e9edf4"/><rect x="680.6" fill="#95a4c7"/><rect x="688" fill="#fdfbfb"/><rect x="695.4" fill="#fdfbfb"/><rect x="702.79" fill="#fdfbfb"/><rect x="710.19" fill="#fdfbfb"/><rect x="717.59" fill="#bcc6de"/><rect x="724.99" fill="#e9edf4"/><rect x="732.38" fill="#f3a3a5"/><rect x="739.78" fill="#f7c3c4"/><rect x="747.18" fill="#fdfbfb"/><rect x="754.57" fill="#95a4c7"/><rect x="761.97" fill="#f3a3a5"/><rect x="769.37" fill="#fdfbfb"/><rect x="776.76" fill="#fdfbfb"/><rect x="784.16" fill="#f7c3c4"/><rect x="791.56" fill="#fdfbfb"/><rect x="798.96" fill="#e9edf4"/><rect x="806.35" fill="#fce5e5"/><rect x="813.75" fill="#bcc6de"/><rect x="821.15" fill="#95a4c7"/><rect x="828.54" fill="#f7c3c4"/><rect x="835.94" fill="#e9edf4"/><rect x="843.34" fill="#f7c3c4"/><rect x="850.74" fill="#f3a3a5"/><rect x="858.13" fill="#f7c3c4"/><rect x="865.53" fill="#f3a3a5"/><rect x="872.93" fill="#f7c3c4"/><rect x="880.32" fill="#f3a3a5"/><rect x="887.72" fill="#bcc6de"/><rect x="895.12" fill="#e9edf4"/><rect x="902.51" fill="#f7c3c4"/><rect x="909.91" fill="#f3a3a5"/><rect x="917.31" fill="#f3a3a5"/><rect x="924.71" fill="#f3a3a5"/><rect x="932.1" fill="#fce5e5"/>
</g>
<g transform="translate(0 536.8)">
<rect x="185" fill="#ec6e70"/><rect x="192.4" fill="#fce5e5"/><rect x="199.79" fill="#fdfbfb"/><rect x="207.19" fill="#f3a3a5"/><rect x="214.59" fill="#ec6e70"/><rect x="221.99" fill="#f7c3c4"/><rect x="229.38" fill="#e6403f"/><rect x="236.78" fill="#fce5e5"/><rect x="244.18" fill="#f3a3a5"/><rect x="251.57" fill="#ec6e70"/><rect x="258.97" fill="#fdfbfb"/><rect x="266.37" fill="#fce5e5"/><rect x="273.76" fill="#fce5e5"/><rect x="281.16" fill="#f7c3c4"/><rect x="288.56" fill="#fce5e5"/><rect x="295.96" fill="#ec6e70"/><rect x="303.35" fill="#e9edf4"/><rect x="310.75" fill="#f3a3a5"/><rect x="318.15" fill="#ec6e70"/><rect x="325.54" fill="#fdfbfb"/><rect x="332.94" fill="#fdfbfb"/><rect x="340.34" fill="#95a4c7"/><rect x="347.74" fill="#bcc6de"/><rect x="355.13" fill="#e9edf4"/><rect x="362.53" fill="#e9edf4"/><rect x="369.93" fill="#fce5e5"/><rect x="377.32" fill="#fce5e5"/><rect x="384.72" fill="#f7c3c4"/><rect x="392.12" fill="#fdfbfb"/><rect x="399.51" fill="#e9edf4"/><rect x="406.91" fill="#fce5e5"/><rect x="414.31" fill="#f7c3c4"/><rect x="421.71" fill="#fce5e5"/><rect x="429.1" fill="#ec6e70"/><rect x="436.5" fill="#bcc6de"/><rect x="443.9" fill="#fdfbfb"/><rect x="451.29" fill="#fdfbfb"/><rect x="458.69" fill="#e9edf4"/><rect x="466.09" fill="#bcc6de"/><rect x="473.49" fill="#fdfbfb"/><rect x="480.88" fill="#fdfbfb"/><rect x="488.28" fill="#fce5e5"/><rect x="495.68" fill="#6a80b4"/><rect x="503.07" fill="#bcc6de"/><rect x="510.47" fill="#bcc6de"/><rect x="517.87" fill="#2c4a8a"/><rect x="525.26" fill="#bcc6de"/><rect x="532.66" fill="#e9edf4"/><rect x="540.06" fill="#fdfbfb"/><rect x="547.46" fill="#fce5e5"/><rect x="554.85" fill="#fce5e5"/><rect x="562.25" fill="#fce5e5"/><rect x="569.65" fill="#fce5e5"/><rect x="577.04" fill="#e9edf4"/><rect x="584.44" fill="#95a4c7"/><rect x="591.84" fill="#e9edf4"/><rect x="599.24" fill="#e9edf4"/><rect x="606.63" fill="#bcc6de"/><rect x="614.03" fill="#e9edf4"/><rect x="621.43" fill="#fdfbfb"/><rect x="628.82" fill="#e9edf4"/><rect x="636.22" fill="#95a4c7"/><rect x="643.62" fill="#95a4c7"/><rect x="651.01" fill="#bcc6de"/><rect x="658.41" fill="#95a4c7"/><rect x="665.81" fill="#e9edf4"/><rect x="673.21" fill="#95a4c7"/><rect x="680.6" fill="#fdfbfb"/><rect x="688" fill="#bcc6de"/><rect x="695.4" fill="#fdfbfb"/><rect x="702.79" fill="#fdfbfb"/><rect x="710.19" fill="#fdfbfb"/><rect x="717.59" fill="#e9edf4"/><rect x="724.99" fill="#fdfbfb"/><rect x="732.38" fill="#f3a3a5"/><rect x="739.78" fill="#f3a3a5"/><rect x="747.18" fill="#f3a3a5"/><rect x="754.57" fill="#fce5e5"/><rect x="761.97" fill="#fdfbfb"/><rect x="769.37" fill="#f7c3c4"/><rect x="776.76" fill="#fce5e5"/><rect x="784.16" fill="#f3a3a5"/><rect x="791.56" fill="#95a4c7"/><rect x="798.96" fill="#e9edf4"/><rect x="806.35" fill="#bcc6de"/><rect x="813.75" fill="#ec6e70"/><rect x="821.15" fill="#ec6e70"/><rect x="828.54" fill="#ec6e70"/><rect x="835.94" fill="#f3a3a5"/><rect x="843.34" fill="#bcc6de"/><rect x="850.74" fill="#f7c3c4"/><rect x="858.13" fill="#bcc6de"/><rect x="865.53" fill="#fdfbfb"/><rect x="872.93" fill="#f7c3c4"/><rect x="880.32" fill="#fdfbfb"/><rect x="887.72" fill="#fdfbfb"/><rect x="895.12" fill="#fdfbfb"/><rect x="902.51" fill="#fdfbfb"/><rect x="909.91" fill="#fdfbfb"/><rect x="917.31" fill="#e9edf4"/><rect x="924.71" fill="#f3a3a5"/><rect x="932.1" fill="#fce5e5"/>
</g>
<g transform="translate(0 555.35)">
<rect x="185" fill="#95a4c7"/><rect x="192.4" fill="#bcc6de"/><rect x="199.79" fill="#f3a3a5"/><rect x="207.19" fill="#fce5e5"/><rect x="214.59" fill="#f3a3a5"/><rect x="221.99" fill="#fdfbfb"/><rect x="229.38" fill="#f3a3a5"/><rect x="236.78" fill="#f3a3a5"/><rect x="244.18" fill="#f7c3c4"/><rect x="251.57" fill="#e6403f"/><rect x="258.97" fill="#fdfbfb"/><rect x="266.37" fill="#fdfbfb"/><rect x="273.76" fill="#fdfbfb"/><rect x="281.16" fill="#fce5e5"/><rect x="288.56" fill="#ec6e70"/><rect x="295.96" fill="#f7c3c4"/><rect x="303.35" fill="#fdfbfb"/><rect x="310.75" fill="#fdfbfb"/><rect x="318.15" fill="#ec6e70"/><rect x="325.54" fill="#ec6e70"/><rect x="332.94" fill="#ec6e70"/><rect x="340.34" fill="#fdfbfb"/><rect x="347.74" fill="#fdfbfb"/><rect x="355.13" fill="#ec6e70"/><rect x="362.53" fill="#f3a3a5"/><rect x="369.93" fill="#bcc6de"/><rect x="377.32" fill="#f3a3a5"/><rect x="384.72" fill="#ec6e70"/><rect x="392.12" fill="#e9edf4"/><rect x="399.51" fill="#f3a3a5"/><rect x="406.91" fill="#fce5e5"/><rect x="414.31" fill="#fdfbfb"/><rect x="421.71" fill="#e9edf4"/><rect x="429.1" fill="#6a80b4"/><rect x="436.5" fill="#bcc6de"/><rect x="443.9" fill="#bcc6de"/><rect x="451.29" fill="#bcc6de"/><rect x="458.69" fill="#bcc6de"/><rect x="466.09" fill="#bcc6de"/><rect x="473.49" fill="#fdfbfb"/><rect x="480.88" fill="#fce5e5"/><rect x="488.28" fill="#95a4c7"/><rect x="495.68" fill="#fdfbfb"/><rect x="503.07" fill="#bcc6de"/><rect x="510.47" fill="#fdfbfb"/><rect x="517.87" fill="#fdfbfb"/><rect x="525.26" fill="#6a80b4"/><rect x="532.66" fill="#95a4c7"/><rect x="540.06" fill="#f7c3c4"/><rect x="547.46" fill="#fce5e5"/><rect x="554.85" fill="#95a4c7"/><rect x="562.25" fill="#fdfbfb"/><rect x="569.65" fill="#fce5e5"/><rect x="577.04" fill="#e9edf4"/><rect x="584.44" fill="#95a4c7"/><rect x="591.84" fill="#f7c3c4"/><rect x="599.24" fill="#fce5e5"/><rect x="606.63" fill="#fdfbfb"/><rect x="614.03" fill="#fdfbfb"/><rect x="621.43" fill="#fdfbfb"/><rect x="628.82" fill="#fce5e5"/><rect x="636.22" fill="#bcc6de"/><rect x="643.62" fill="#bcc6de"/><rect x="651.01" fill="#e9edf4"/><rect x="658.41" fill="#e9edf4"/><rect x="665.81" fill="#fdfbfb"/><rect x="673.21" fill="#bcc6de"/><rect x="680.6" fill="#bcc6de"/><rect x="688" fill="#e9edf4"/><rect x="695.4" fill="#fdfbfb"/><rect x="702.79" fill="#fdfbfb"/><rect x="710.19" fill="#fce5e5"/><rect x="717.59" fill="#fce5e5"/><rect x="724.99" fill="#fce5e5"/><rect x="732.38" fill="#e9edf4"/><rect x="739.78" fill="#e9edf4"/><rect x="747.18" fill="#fdfbfb"/><rect x="754.57" fill="#fdfbfb"/><rect x="761.97" fill="#fdfbfb"/><rect x="769.37" fill="#fce5e5"/><rect x="776.76" fill="#f7c3c4"/><rect x="784.16" fill="#f3a3a5"/><rect x="791.56" fill="#f7c3c4"/><rect x="798.96" fill="#bcc6de"/><rect x="806.35" fill="#f3a3a5"/><rect x="813.75" fill="#fdfbfb"/><rect x="821.15" fill="#e9edf4"/><rect x="828.54" fill="#f7c3c4"/><rect x="835.94" fill="#fce5e5"/><rect x="843.34" fill="#e9edf4"/><rect x="850.74" fill="#fdfbfb"/><rect x="858.13" fill="#fdfbfb"/><rect x="865.53" fill="#fce5e5"/><rect x="872.93" fill="#fdfbfb"/><rect x="880.32" fill="#f3a3a5"/><rect x="887.72" fill="#f3a3a5"/><rect x="895.12" fill="#f3a3a5"/><rect x="902.51" fill="#e9edf4"/><rect x="909.91" fill="#e9edf4"/><rect x="917.31" fill="#95a4c7"/><rect x="924.71" fill="#6a80b4"/><rect x="932.1" fill="#f3a3a5"/>
</g>
<g transform="translate(0 573.9)">
<rect x="185" fill="#fdfbfb"/><rect x="192.4" fill="#fce5e5"/><rect x="199.79" fill="#fce5e5"/><rect x="207.19" fill="#f7c3c4"/><rect x="214.59" fill="#ec6e70"/><rect x="221.99" fill="#ec6e70"/><rect x="229.38" fill="#f3a3a5"/><rect x="236.78" fill="#e9edf4"/><rect x="244.18" fill="#f3a3a5"/><rect x="251.57" fill="#f3a3a5"/><rect x="258.97" fill="#fdfbfb"/><rect x="266.37" fill="#fdfbfb"/><rect x="273.76" fill="#bcc6de"/><rect x="281.16" fill="#f3a3a5"/><rect x="288.56" fill="#fdfbfb"/><rect x="295.96" fill="#e9edf4"/><rect x="303.35" fill="#f7c3c4"/><rect x="310.75" fill="#fdfbfb"/><rect x="318.15" fill="#ec6e70"/><rect x="325.54" fill="#fce5e5"/><rect x="332.94" fill="#bcc6de"/><rect x="340.34" fill="#bcc6de"/><rect x="347.74" fill="#fdfbfb"/><rect x="355.13" fill="#6a80b4"/><rect x="362.53" fill="#fdfbfb"/><rect x="369.93" fill="#fce5e5"/><rect x="377.32" fill="#f7c3c4"/><rect x="384.72" fill="#e31a1c"/><rect x="392.12" fill="#fce5e5"/><rect x="399.51" fill="#ec6e70"/><rect x="406.91" fill="#fdfbfb"/><rect x="414.31" fill="#fdfbfb"/><rect x="421.71" fill="#fce5e5"/><rect x="429.1" fill="#e9edf4"/><rect x="436.5" fill="#e9edf4"/><rect x="443.9" fill="#fdfbfb"/><rect x="451.29" fill="#2c4a8a"/><rect x="458.69" fill="#bcc6de"/><rect x="466.09" fill="#e9edf4"/><rect x="473.49" fill="#e9edf4"/><rect x="480.88" fill="#fdfbfb"/><rect x="488.28" fill="#fce5e5"/><rect x="495.68" fill="#fdfbfb"/><rect x="503.07" fill="#95a4c7"/><rect x="510.47" fill="#e9edf4"/><rect x="517.87" fill="#e9edf4"/><rect x="525.26" fill="#bcc6de"/><rect x="532.66" fill="#e9edf4"/><rect x="540.06" fill="#bcc6de"/><rect x="547.46" fill="#fdfbfb"/><rect x="554.85" fill="#fdfbfb"/><rect x="562.25" fill="#fdfbfb"/><rect x="569.65" fill="#fdfbfb"/><rect x="577.04" fill="#bcc6de"/><rect x="584.44" fill="#e9edf4"/><rect x="591.84" fill="#bcc6de"/><rect x="599.24" fill="#fdfbfb"/><rect x="606.63" fill="#bcc6de"/><rect x="614.03" fill="#fdfbfb"/><rect x="621.43" fill="#fdfbfb"/><rect x="628.82" fill="#fdfbfb"/><rect x="636.22" fill="#fce5e5"/><rect x="643.62" fill="#bcc6de"/><rect x="651.01" fill="#e9edf4"/><rect x="658.41" fill="#e9edf4"/><rect x="665.81" fill="#f3a3a5"/><rect x="673.21" fill="#e9edf4"/><rect x="680.6" fill="#e9edf4"/><rect x="688" fill="#e9edf4"/><rect x="695.4" fill="#fdfbfb"/><rect x="702.79" fill="#fdfbfb"/><rect x="710.19" fill="#fdfbfb"/><rect x="717.59" fill="#fdfbfb"/><rect x="724.99" fill="#fdfbfb"/><rect x="732.38" fill="#e9edf4"/><rect x="739.78" fill="#f7c3c4"/><rect x="747.18" fill="#e9edf4"/><rect x="754.57" fill="#fdfbfb"/><rect x="761.97" fill="#fdfbfb"/><rect x="769.37" fill="#ec6e70"/><rect x="776.76" fill="#fdfbfb"/><rect x="784.16" fill="#e6403f"/><rect x="791.56" fill="#f7c3c4"/><rect x="798.96" fill="#fdfbfb"/><rect x="806.35" fill="#e9edf4"/><rect x="813.75" fill="#f3a3a5"/><rect x="821.15" fill="#f3a3a5"/><rect x="828.54" fill="#fce5e5"/><rect x="835.94" fill="#95a4c7"/><rect x="843.34" fill="#fdfbfb"/><rect x="850.74" fill="#fdfbfb"/><rect x="858.13" fill="#95a4c7"/><rect x="865.53" fill="#bcc6de"/><rect x="872.93" fill="#fce5e5"/><rect x="880.32" fill="#fdfbfb"/><rect x="887.72" fill="#fce5e5"/><rect x="895.12" fill="#f3a3a5"/><rect x="902.51" fill="#95a4c7"/><rect x="909.91" fill="#6a80b4"/><rect x="917.31" fill="#fdfbfb"/><rect x="924.71" fill="#ec6e70"/><rect x="932.1" fill="#fdfbfb"/>
</g>
<g transform="translate(0 592.45)">
<rect x="185" fill="#f3a3a5"/><rect x="192.4" fill="#fce5e5"/><rect x="199.79" fill="#bcc6de"/><rect x="207.19" fill="#f3a3a5"/><rect x="214.59" fill="#fce5e5"/><rect x="221.99" fill="#e9edf4"/><rect x="229.38" fill="#f7c3c4"/><rect x="236.78" fill="#bcc6de"/><rect x="244.18" fill="#f3a3a5"/><rect x="251.57" fill="#f3a3a5"/><rect x="258.97" fill="#f7c3c4"/><rect x="266.37" fill="#e9edf4"/><rect x="273.76" fill="#fce5e5"/><rect x="281.16" fill="#ec6e70"/><rect x="288.56" fill="#f3a3a5"/><rect x="295.96" fill="#f3a3a5"/><rect x="303.35" fill="#ec6e70"/><rect x="310.75" fill="#bcc6de"/><rect x="318.15" fill="#fdfbfb"/><rect x="325.54" fill="#f7c3c4"/><rect x="332.94" fill="#ec6e70"/><rect x="340.34" fill="#fdfbfb"/><rect x="347.74" fill="#6a80b4"/><rect x="355.13" fill="#f3a3a5"/><rect x="362.53" fill="#f7c3c4"/><rect x="369.93" fill="#fdfbfb"/><rect x="377.32" fill="#fdfbfb"/><rect x="384.72" fill="#bcc6de"/><rect x="392.12" fill="#fdfbfb"/><rect x="399.51" fill="#f3a3a5"/><rect x="406.91" fill="#fdfbfb"/><rect x="414.31" fill="#6a80b4"/><rect x="421.71" fill="#e6403f"/><rect x="429.1" fill="#e9edf4"/><rect x="436.5" fill="#bcc6de"/><rect x="443.9" fill="#bcc6de"/><rect x="451.29" fill="#bcc6de"/><rect x="458.69" fill="#6a80b4"/><rect x="466.09" fill="#bcc6de"/><rect x="473.49" fill="#e9edf4"/><rect x="480.88" fill="#fdfbfb"/><rect x="488.28" fill="#e9edf4"/><rect x="495.68" fill="#fdfbfb"/><rect x="503.07" fill="#e9edf4"/><rect x="510.47" fill="#bcc6de"/><rect x="517.87" fill="#e9edf4"/><rect x="525.26" fill="#fdfbfb"/><rect x="532.66" fill="#fce5e5"/><rect x="540.06" fill="#e9edf4"/><rect x="547.46" fill="#fdfbfb"/><rect x="554.85" fill="#e9edf4"/><rect x="562.25" fill="#fdfbfb"/><rect x="569.65" fill="#fdfbfb"/><rect x="577.04" fill="#6a80b4"/><rect x="584.44" fill="#fdfbfb"/><rect x="591.84" fill="#fdfbfb"/><rect x="599.24" fill="#fce5e5"/><rect x="606.63" fill="#fce5e5"/><rect x="614.03" fill="#fdfbfb"/><rect x="621.43" fill="#fdfbfb"/><rect x="628.82" fill="#fdfbfb"/><rect x="636.22" fill="#6a80b4"/><rect x="643.62" fill="#fdfbfb"/><rect x="651.01" fill="#e9edf4"/><rect x="658.41" fill="#e9edf4"/><rect x="665.81" fill="#bcc6de"/><rect x="673.21" fill="#bcc6de"/><rect x="680.6" fill="#bcc6de"/><rect x="688" fill="#e9edf4"/><rect x="695.4" fill="#e9edf4"/><rect x="702.79" fill="#fdfbfb"/><rect x="710.19" fill="#e9edf4"/><rect x="717.59" fill="#fdfbfb"/><rect x="724.99" fill="#e9edf4"/><rect x="732.38" fill="#f7c3c4"/><rect x="739.78" fill="#fdfbfb"/><rect x="747.18" fill="#fdfbfb"/><rect x="754.57" fill="#fdfbfb"/><rect x="761.97" fill="#fdfbfb"/><rect x="769.37" fill="#f3a3a5"/><rect x="776.76" fill="#fce5e5"/><rect x="784.16" fill="#fce5e5"/><rect x="791.56" fill="#fdfbfb"/><rect x="798.96" fill="#fdfbfb"/><rect x="806.35" fill="#e9edf4"/><rect x="813.75" fill="#f7c3c4"/><rect x="821.15" fill="#fce5e5"/><rect x="828.54" fill="#fce5e5"/><rect x="835.94" fill="#fce5e5"/><rect x="843.34" fill="#f3a3a5"/><rect x="850.74" fill="#95a4c7"/><rect x="858.13" fill="#fdfbfb"/><rect x="865.53" fill="#f7c3c4"/><rect x="872.93" fill="#e9edf4"/><rect x="880.32" fill="#e31a1c"/><rect x="887.72" fill="#fce5e5"/><rect x="895.12" fill="#ec6e70"/><rect x="902.51" fill="#fdfbfb"/><rect x="909.91" fill="#fce5e5"/><rect x="917.31" fill="#fce5e5"/><rect x="924.71" fill="#fdfbfb"/><rect x="932.1" fill="#fce5e5"/>
</g>
<g transform="translate(0 611)">
<rect x="185" fill="#ec6e70"/><rect x="192.4" fill="#95a4c7"/><rect x="199.79" fill="#ec6e70"/><rect x="207.19" fill="#e9edf4"/><rect x="214.59" fill="#fce5e5"/><rect x="221.99" fill="#fdfbfb"/><rect x="229.38" fill="#f3a3a5"/><rect x="236.78" fill="#f7c3c4"/><rect x="244.18" fill="#fce5e5"/><rect x="251.57" fill="#f3a3a5"/><rect x="258.97" fill="#e9edf4"/><rect x="266.37" fill="#e9edf4"/><rect x="273.76" fill="#fce5e5"/><rect x="281.16" fill="#fdfbfb"/><rect x="288.56" fill="#fdfbfb"/><rect x="295.96" fill="#fce5e5"/><rect x="303.35" fill="#f3a3a5"/><rect x="310.75" fill="#fce5e5"/><rect x="318.15" fill="#f3a3a5"/><rect x="325.54" fill="#fdfbfb"/><rect x="332.94" fill="#f3a3a5"/><rect x="340.34" fill="#e9edf4"/><rect x="347.74" fill="#fdfbfb"/><rect x="355.13" fill="#e6403f"/><rect x="362.53" fill="#e9edf4"/><rect x="369.93" fill="#fce5e5"/><rect x="377.32" fill="#fdfbfb"/><rect x="384.72" fill="#ec6e70"/><rect x="392.12" fill="#fdfbfb"/><rect x="399.51" fill="#f7c3c4"/><rect x="406.91" fill="#fce5e5"/><rect x="414.31" fill="#f7c3c4"/><rect x="421.71" fill="#e9edf4"/><rect x="429.1" fill="#e9edf4"/><rect x="436.5" fill="#e9edf4"/><rect x="443.9" fill="#bcc6de"/><rect x="451.29" fill="#95a4c7"/><rect x="458.69" fill="#95a4c7"/><rect x="466.09" fill="#e9edf4"/><rect x="473.49" fill="#fdfbfb"/><rect x="480.88" fill="#fdfbfb"/><rect x="488.28" fill="#fce5e5"/><rect x="495.68" fill="#6a80b4"/><rect x="503.07" fill="#fdfbfb"/><rect x="510.47" fill="#fce5e5"/><rect x="517.87" fill="#e9edf4"/><rect x="525.26" fill="#e9edf4"/><rect x="532.66" fill="#95a4c7"/><rect x="540.06" fill="#f3a3a5"/><rect x="547.46" fill="#fdfbfb"/><rect x="554.85" fill="#fdfbfb"/><rect x="562.25" fill="#fdfbfb"/><rect x="569.65" fill="#fdfbfb"/><rect x="577.04" fill="#fdfbfb"/><rect x="584.44" fill="#fce5e5"/><rect x="591.84" fill="#bcc6de"/><rect x="599.24" fill="#fdfbfb"/><rect x="606.63" fill="#6a80b4"/><rect x="614.03" fill="#ec6e70"/><rect x="621.43" fill="#fdfbfb"/><rect x="628.82" fill="#fdfbfb"/><rect x="636.22" fill="#bcc6de"/><rect x="643.62" fill="#fdfbfb"/><rect x="651.01" fill="#e9edf4"/><rect x="658.41" fill="#95a4c7"/><rect x="665.81" fill="#fce5e5"/><rect x="673.21" fill="#bcc6de"/><rect x="680.6" fill="#fdfbfb"/><rect x="688" fill="#95a4c7"/><rect x="695.4" fill="#fdfbfb"/><rect x="702.79" fill="#fdfbfb"/><rect x="710.19" fill="#fdfbfb"/><rect x="717.59" fill="#fdfbfb"/><rect x="724.99" fill="#fdfbfb"/><rect x="732.38" fill="#f7c3c4"/><rect x="739.78" fill="#f7c3c4"/><rect x="747.18" fill="#95a4c7"/><rect x="754.57" fill="#f7c3c4"/><rect x="761.97" fill="#fdfbfb"/><rect x="769.37" fill="#f3a3a5"/><rect x="776.76" fill="#fce5e5"/><rect x="784.16" fill="#f3a3a5"/><rect x="791.56" fill="#e6403f"/><rect x="798.96" fill="#fdfbfb"/><rect x="806.35" fill="#fdfbfb"/><rect x="813.75" fill="#e9edf4"/><rect x="821.15" fill="#fdfbfb"/><rect x="828.54" fill="#ec6e70"/><rect x="835.94" fill="#fdfbfb"/><rect x="843.34" fill="#fce5e5"/><rect x="850.74" fill="#fdfbfb"/><rect x="858.13" fill="#fdfbfb"/><rect x="865.53" fill="#95a4c7"/><rect x="872.93" fill="#fdfbfb"/><rect x="880.32" fill="#95a4c7"/><rect x="887.72" fill="#fdfbfb"/><rect x="895.12" fill="#f7c3c4"/><rect x="902.51" fill="#fce5e5"/><rect x="909.91" fill="#f3a3a5"/><rect x="917.31" fill="#fdfbfb"/><rect x="924.71" fill="#f7c3c4"/><rect x="932.1" fill="#6a80b4"/>
</g>
<g transform="translate(0 629.55)">
<rect x="185" fill="#e6403f"/><rect x="192.4" fill="#f7c3c4"/><rect x="199.79" fill="#f3a3a5"/><rect x="207.19" fill="#f3a3a5"/><rect x="214.59" fill="#ec6e70"/><rect x="221.99" fill="#f7c3c4"/><rect x="229.38" fill="#ec6e70"/><rect x="236.78" fill="#f3a3a5"/><rect x="244.18" fill="#f7c3c4"/><rect x="251.57" fill="#f3a3a5"/><rect x="258.97" fill="#e9edf4"/><rect x="266.37" fill="#e9edf4"/><rect x="273.76" fill="#fce5e5"/><rect x="281.16" fill="#fce5e5"/><rect x="288.56" fill="#fdfbfb"/><rect x="295.96" fill="#f3a3a5"/><rect x="303.35" fill="#f7c3c4"/><rect x="310.75" fill="#f3a3a5"/><rect x="318.15" fill="#f3a3a5"/><rect x="325.54" fill="#f3a3a5"/><rect x="332.94" fill="#f7c3c4"/><rect x="340.34" fill="#fdfbfb"/><rect x="347.74" fill="#e9edf4"/><rect x="355.13" fill="#f7c3c4"/><rect x="362.53" fill="#fce5e5"/><rect x="369.93" fill="#e9edf4"/><rect x="377.32" fill="#f3a3a5"/><rect x="384.72" fill="#f7c3c4"/><rect x="392.12" fill="#e9edf4"/><rect x="399.51" fill="#95a4c7"/><rect x="406.91" fill="#fdfbfb"/><rect x="414.31" fill="#fdfbfb"/><rect x="421.71" fill="#fdfbfb"/><rect x="429.1" fill="#bcc6de"/><rect x="436.5" fill="#95a4c7"/><rect x="443.9" fill="#95a4c7"/><rect x="451.29" fill="#6a80b4"/><rect x="458.69" fill="#95a4c7"/><rect x="466.09" fill="#95a4c7"/><rect x="473.49" fill="#95a4c7"/><rect x="480.88" fill="#fdfbfb"/><rect x="488.28" fill="#fdfbfb"/><rect x="495.68" fill="#bcc6de"/><rect x="503.07" fill="#e9edf4"/><rect x="510.47" fill="#fdfbfb"/><rect x="517.87" fill="#bcc6de"/><rect x="525.26" fill="#95a4c7"/><rect x="532.66" fill="#fdfbfb"/><rect x="540.06" fill="#fdfbfb"/><rect x="547.46" fill="#e9edf4"/><rect x="554.85" fill="#e9edf4"/><rect x="562.25" fill="#e9edf4"/><rect x="569.65" fill="#fdfbfb"/><rect x="577.04" fill="#fdfbfb"/><rect x="584.44" fill="#fce5e5"/><rect x="591.84" fill="#fce5e5"/><rect x="599.24" fill="#f7c3c4"/><rect x="606.63" fill="#fce5e5"/><rect x="614.03" fill="#fce5e5"/><rect x="621.43" fill="#bcc6de"/><rect x="628.82" fill="#fdfbfb"/><rect x="636.22" fill="#6a80b4"/><rect x="643.62" fill="#bcc6de"/><rect x="651.01" fill="#95a4c7"/><rect x="658.41" fill="#6a80b4"/><rect x="665.81" fill="#e9edf4"/><rect x="673.21" fill="#bcc6de"/><rect x="680.6" fill="#bcc6de"/><rect x="688" fill="#bcc6de"/><rect x="695.4" fill="#fdfbfb"/><rect x="702.79" fill="#fdfbfb"/><rect x="710.19" fill="#fdfbfb"/><rect x="717.59" fill="#fdfbfb"/><rect x="724.99" fill="#fdfbfb"/><rect x="732.38" fill="#f7c3c4"/><rect x="739.78" fill="#f7c3c4"/><rect x="747.18" fill="#bcc6de"/><rect x="754.57" fill="#f3a3a5"/><rect x="761.97" fill="#fce5e5"/><rect x="769.37" fill="#f7c3c4"/><rect x="776.76" fill="#f3a3a5"/><rect x="784.16" fill="#f3a3a5"/><rect x="791.56" fill="#e9edf4"/><rect x="798.96" fill="#fce5e5"/><rect x="806.35" fill="#fdfbfb"/><rect x="813.75" fill="#f3a3a5"/><rect x="821.15" fill="#f3a3a5"/><rect x="828.54" fill="#ec6e70"/><rect x="835.94" fill="#ec6e70"/><rect x="843.34" fill="#e9edf4"/><rect x="850.74" fill="#fce5e5"/><rect x="858.13" fill="#fdfbfb"/><rect x="865.53" fill="#fce5e5"/><rect x="872.93" fill="#f3a3a5"/><rect x="880.32" fill="#fce5e5"/><rect x="887.72" fill="#fce5e5"/><rect x="895.12" fill="#e9edf4"/><rect x="902.51" fill="#fdfbfb"/><rect x="909.91" fill="#fce5e5"/><rect x="917.31" fill="#fce5e5"/><rect x="924.71" fill="#f3a3a5"/><rect x="932.1" fill="#fce5e5"/>
</g>
<g transform="translate(0 648.1)">
<rect x="185" fill="#f7c3c4"/><rect x="192.4" fill="#e9edf4"/><rect x="199.79" fill="#f3a3a5"/><rect x="207.19" fill="#f3a3a5"/><rect x="214.59" fill="#f3a3a5"/><rect x="221.99" fill="#f7c3c4"/><rect x="229.38" fill="#ec6e70"/><rect x="236.78" fill="#e6403f"/><rect x="244.18" fill="#f3a3a5"/><rect x="251.57" fill="#ec6e70"/><rect x="258.97" fill="#bcc6de"/><rect x="266.37" fill="#f7c3c4"/><rect x="273.76" fill="#ec6e70"/><rect x="281.16" fill="#f3a3a5"/><rect x="288.56" fill="#ec6e70"/><rect x="295.96" fill="#e9edf4"/><rect x="303.35" fill="#fdfbfb"/><rect x="310.75" fill="#f3a3a5"/><rect x="318.15" fill="#f7c3c4"/><rect x="325.54" fill="#f3a3a5"/><rect x="332.94" fill="#fce5e5"/><rect x="340.34" fill="#e9edf4"/><rect x="347.74" fill="#6a80b4"/><rect x="355.13" fill="#e6403f"/><rect x="362.53" fill="#ec6e70"/><rect x="369.93" fill="#fdfbfb"/><rect x="377.32" fill="#fce5e5"/><rect x="384.72" fill="#fdfbfb"/><rect x="392.12" fill="#fdfbfb"/><rect x="399.51" fill="#fdfbfb"/><rect x="406.91" fill="#fce5e5"/><rect x="414.31" fill="#bcc6de"/><rect x="421.71" fill="#95a4c7"/><rect x="429.1" fill="#bcc6de"/><rect x="436.5" fill="#95a4c7"/><rect x="443.9" fill="#95a4c7"/><rect x="451.29" fill="#6a80b4"/><rect x="458.69" fill="#e9edf4"/><rect x="466.09" fill="#6a80b4"/><rect x="473.49" fill="#bcc6de"/><rect x="480.88" fill="#fdfbfb"/><rect x="488.28" fill="#e9edf4"/><rect x="495.68" fill="#fdfbfb"/><rect x="503.07" fill="#f7c3c4"/><rect x="510.47" fill="#fce5e5"/><rect x="517.87" fill="#fdfbfb"/><rect x="525.26" fill="#fdfbfb"/><rect x="532.66" fill="#bcc6de"/><rect x="540.06" fill="#fce5e5"/><rect x="547.46" fill="#fdfbfb"/><rect x="554.85" fill="#e9edf4"/><rect x="562.25" fill="#fdfbfb"/><rect x="569.65" fill="#fdfbfb"/><rect x="577.04" fill="#bcc6de"/><rect x="584.44" fill="#fdfbfb"/><rect x="591.84" fill="#bcc6de"/><rect x="599.24" fill="#e9edf4"/><rect x="606.63" fill="#fdfbfb"/><rect x="614.03" fill="#fdfbfb"/><rect x="621.43" fill="#e9edf4"/><rect x="628.82" fill="#fdfbfb"/><rect x="636.22" fill="#e9edf4"/><rect x="643.62" fill="#fdfbfb"/><rect x="651.01" fill="#6a80b4"/><rect x="658.41" fill="#fdfbfb"/><rect x="665.81" fill="#fdfbfb"/><rect x="673.21" fill="#bcc6de"/><rect x="680.6" fill="#fce5e5"/><rect x="688" fill="#f7c3c4"/><rect x="695.4" fill="#fdfbfb"/><rect x="702.79" fill="#fdfbfb"/><rect x="710.19" fill="#fdfbfb"/><rect x="717.59" fill="#fdfbfb"/><rect x="724.99" fill="#fdfbfb"/><rect x="732.38" fill="#fdfbfb"/><rect x="739.78" fill="#bcc6de"/><rect x="747.18" fill="#e6403f"/><rect x="754.57" fill="#fdfbfb"/><rect x="761.97" fill="#e9edf4"/><rect x="769.37" fill="#bcc6de"/><rect x="776.76" fill="#bcc6de"/><rect x="784.16" fill="#bcc6de"/><rect x="791.56" fill="#f3a3a5"/><rect x="798.96" fill="#f3a3a5"/><rect x="806.35" fill="#f3a3a5"/><rect x="813.75" fill="#f7c3c4"/><rect x="821.15" fill="#fce5e5"/><rect x="828.54" fill="#fce5e5"/><rect x="835.94" fill="#fce5e5"/><rect x="843.34" fill="#fdfbfb"/><rect x="850.74" fill="#bcc6de"/><rect x="858.13" fill="#f7c3c4"/><rect x="865.53" fill="#fdfbfb"/><rect x="872.93" fill="#e9edf4"/><rect x="880.32" fill="#e9edf4"/><rect x="887.72" fill="#fce5e5"/><rect x="895.12" fill="#f7c3c4"/><rect x="902.51" fill="#e9edf4"/><rect x="909.91" fill="#e9edf4"/><rect x="917.31" fill="#bcc6de"/><rect x="924.71" fill="#e9edf4"/><rect x="932.1" fill="#ec6e70"/>
</g>
<g transform="translate(0 666.65)">
<rect x="185" fill="#ec6e70"/><rect x="192.4" fill="#fdfbfb"/><rect x="199.79" fill="#fdfbfb"/><rect x="207.19" fill="#fce5e5"/><rect x="214.59" fill="#fce5e5"/><rect x="221.99" fill="#fce5e5"/><rect x="229.38" fill="#f3a3a5"/><rect x="236.78" fill="#e6403f"/><rect x="244.18" fill="#f3a3a5"/><rect x="251.57" fill="#f3a3a5"/><rect x="258.97" fill="#fce5e5"/><rect x="266.37" fill="#fdfbfb"/><rect x="273.76" fill="#f3a3a5"/><rect x="281.16" fill="#fdfbfb"/><rect x="288.56" fill="#f3a3a5"/><rect x="295.96" fill="#2c4a8a"/><rect x="303.35" fill="#f3a3a5"/><rect x="310.75" fill="#f7c3c4"/><rect x="318.15" fill="#ec6e70"/><rect x="325.54" fill="#f3a3a5"/><rect x="332.94" fill="#f3a3a5"/><rect x="340.34" fill="#e9edf4"/><rect x="347.74" fill="#f7c3c4"/><rect x="355.13" fill="#f3a3a5"/><rect x="362.53" fill="#fce5e5"/><rect x="369.93" fill="#e9edf4"/><rect x="377.32" fill="#fce5e5"/><rect x="384.72" fill="#fce5e5"/><rect x="392.12" fill="#e9edf4"/><rect x="399.51" fill="#bcc6de"/><rect x="406.91" fill="#fdfbfb"/><rect x="414.31" fill="#fdfbfb"/><rect x="421.71" fill="#fdfbfb"/><rect x="429.1" fill="#e9edf4"/><rect x="436.5" fill="#e9edf4"/><rect x="443.9" fill="#bcc6de"/><rect x="451.29" fill="#bcc6de"/><rect x="458.69" fill="#2c4a8a"/><rect x="466.09" fill="#e9edf4"/><rect x="473.49" fill="#fce5e5"/><rect x="480.88" fill="#fdfbfb"/><rect x="488.28" fill="#e9edf4"/><rect x="495.68" fill="#fdfbfb"/><rect x="503.07" fill="#e9edf4"/><rect x="510.47" fill="#fdfbfb"/><rect x="517.87" fill="#bcc6de"/><rect x="525.26" fill="#6a80b4"/><rect x="532.66" fill="#e9edf4"/><rect x="540.06" fill="#e9edf4"/><rect x="547.46" fill="#fdfbfb"/><rect x="554.85" fill="#fdfbfb"/><rect x="562.25" fill="#fdfbfb"/><rect x="569.65" fill="#fdfbfb"/><rect x="577.04" fill="#fce5e5"/><rect x="584.44" fill="#95a4c7"/><rect x="591.84" fill="#e9edf4"/><rect x="599.24" fill="#fce5e5"/><rect x="606.63" fill="#e9edf4"/><rect x="614.03" fill="#fdfbfb"/><rect x="621.43" fill="#fdfbfb"/><rect x="628.82" fill="#fdfbfb"/><rect x="636.22" fill="#ec6e70"/><rect x="643.62" fill="#e9edf4"/><rect x="651.01" fill="#e9edf4"/><rect x="658.41" fill="#e9edf4"/><rect x="665.81" fill="#95a4c7"/><rect x="673.21" fill="#e9edf4"/><rect x="680.6" fill="#bcc6de"/><rect x="688" fill="#fce5e5"/><rect x="695.4" fill="#fdfbfb"/><rect x="702.79" fill="#fdfbfb"/><rect x="710.19" fill="#fdfbfb"/><rect x="717.59" fill="#fdfbfb"/><rect x="724.99" fill="#6a80b4"/><rect x="732.38" fill="#fdfbfb"/><rect x="739.78" fill="#e9edf4"/><rect x="747.18" fill="#fdfbfb"/><rect x="754.57" fill="#f7c3c4"/><rect x="761.97" fill="#fce5e5"/><rect x="769.37" fill="#fce5e5"/><rect x="776.76" fill="#bcc6de"/><rect x="784.16" fill="#f7c3c4"/><rect x="791.56" fill="#e9edf4"/><rect x="798.96" fill="#fdfbfb"/><rect x="806.35" fill="#f3a3a5"/><rect x="813.75" fill="#f3a3a5"/><rect x="821.15" fill="#f3a3a5"/><rect x="828.54" fill="#f3a3a5"/><rect x="835.94" fill="#fce5e5"/><rect x="843.34" fill="#bcc6de"/><rect x="850.74" fill="#fce5e5"/><rect x="858.13" fill="#bcc6de"/><rect x="865.53" fill="#f7c3c4"/><rect x="872.93" fill="#fce5e5"/><rect x="880.32" fill="#fdfbfb"/><rect x="887.72" fill="#fdfbfb"/><rect x="895.12" fill="#fdfbfb"/><rect x="902.51" fill="#fdfbfb"/><rect x="909.91" fill="#fdfbfb"/><rect x="917.31" fill="#e9edf4"/><rect x="924.71" fill="#e9edf4"/><rect x="932.1" fill="#fdfbfb"/>
</g>
</g>
<g class="hg">
<g transform="translate(0 259.1)">
<rect x="185"/><rect x="192.4"/><rect x="199.79"/><rect x="207.19"/><rect x="214.59"/><rect x="221.99"/><rect x="229.38"/><rect x="236.78"/><rect x="244.18"/><rect x="251.57"/><rect x="258.97"/><rect x="266.37"/><rect x="273.76"/><rect x="281.16"/><rect x="288.56"/><rect x="295.96"/><rect x="303.35"/><rect x="310.75"/><rect x="318.15"/><rect x="325.54"/><rect x="332.94"/><rect x="340.34"/><rect x="347.74"/><rect x="355.13"/><rect x="362.53"/><rect x="369.93"/><rect x="377.32"/><rect x="384.72"/><rect x="392.12"/><rect x="399.51"/><rect x="406.91"/><rect x="414.31"/><rect x="421.71"/><rect x="429.1"/><rect x="436.5"/><rect x="443.9"/><rect x="451.29"/><rect x="458.69"/><rect x="466.09"/><rect x="473.49"/><rect x="480.88"/><rect x="488.28"/><rect x="495.68"/><rect x="503.07"/><rect x="510.47"/><rect x="517.87"/><rect x="525.26"/><rect x="532.66"/><rect x="540.06"/><rect x="547.46"/><rect x="554.85"/><rect x="562.25"/><rect x="569.65"/><rect x="577.04"/><rect x="584.44"/><rect x="591.84"/><rect x="599.24"/><rect x="606.63"/><rect x="614.03"/><rect x="621.43"/><rect x="628.82"/><rect x="636.22"/><rect x="643.62"/><rect x="651.01"/><rect x="658.41"/><rect x="665.81"/><rect x="673.21"/><rect x="680.6"/><rect x="688"/><rect x="695.4"/><rect x="702.79"/><rect x="710.19"/><rect x="717.59"/><rect x="724.99"/><rect x="732.38"/><rect x="739.78"/><rect x="747.18"/><rect x="754.57"/><rect x="761.97"/><rect x="769.37"/><rect x="776.76"/><rect x="784.16"/><rect x="791.56"/><rect x="798.96"/><rect x="806.35"/><rect x="813.75"/><rect x="821.15"/><rect x="828.54"/><rect x="835.94"/><rect x="843.34"/><rect x="850.74"/><rect x="858.13"/><rect x="865.53"/><rect x="872.93"/><rect x="880.32"/><rect x="887.72"/><rect x="895.12"/><rect x="902.51"/><rect x="909.91"/><rect x="917.31"/><rect x="924.71"/><rect x="932.1"/>
</g>
<g transform="translate(0 490.7)">
<rect x="185"/><rect x="192.4"/><rect x="199.79"/><rect x="207.19"/><rect x="214.59"/><rect x="221.99"/><rect x="229.38"/><rect x="236.78"/><rect x="244.18"/><rect x="251.57"/><rect x="258.97"/><rect x="266.37"/><rect x="273.76"/><rect x="281.16"/><rect x="288.56"/><rect x="295.96"/><rect x="303.35"/><rect x="310.75"/><rect x="318.15"/><rect x="325.54"/><rect x="332.94"/><rect x="340.34"/><rect x="347.74"/><rect x="355.13"/><rect x="362.53"/><rect x="369.93"/><rect x="377.32"/><rect x="384.72"/><rect x="392.12"/><rect x="399.51"/><rect x="406.91"/><rect x="414.31"/><rect x="421.71"/><rect x="429.1"/><rect x="436.5"/><rect x="443.9"/><rect x="451.29"/><rect x="458.69"/><rect x="466.09"/><rect x="473.49"/><rect x="480.88"/><rect x="488.28"/><rect x="495.68"/><rect x="503.07"/><rect x="510.47"/><rect x="517.87"/><rect x="525.26"/><rect x="532.66"/><rect x="540.06"/><rect x="547.46"/><rect x="554.85"/><rect x="562.25"/><rect x="569.65"/><rect x="577.04"/><rect x="584.44"/><rect x="591.84"/><rect x="599.24"/><rect x="606.63"/><rect x="614.03"/><rect x="621.43"/><rect x="628.82"/><rect x="636.22"/><rect x="643.62"/><rect x="651.01"/><rect x="658.41"/><rect x="665.81"/><rect x="673.21"/><rect x="680.6"/><rect x="688"/><rect x="695.4"/><rect x="702.79"/><rect x="710.19"/><rect x="717.59"/><rect x="724.99"/><rect x="732.38"/><rect x="739.78"/><rect x="747.18"/><rect x="754.57"/><rect x="761.97"/><rect x="769.37"/><rect x="776.76"/><rect x="784.16"/><rect x="791.56"/><rect x="798.96"/><rect x="806.35"/><rect x="813.75"/><rect x="821.15"/><rect x="828.54"/><rect x="835.94"/><rect x="843.34"/><rect x="850.74"/><rect x="858.13"/><rect x="865.53"/><rect x="872.93"/><rect x="880.32"/><rect x="887.72"/><rect x="895.12"/><rect x="902.51"/><rect x="909.91"/><rect x="917.31"/><rect x="924.71"/><rect x="932.1"/>
</g>
</g>
<rect x="166.3" y="73.6" width="18" height="185.5" fill="#2597ad"/>
<rect x="166.3" y="268.1" width="18" height="222.6" fill="#8159a0"/>
<rect x="166.3" y="499.7" width="18" height="185.5" fill="#f3a68a"/>
<text x="181.2" y="160" font-size="12.75" text-anchor="middle" font-weight="bold" fill="#ffffff" transform="rotate(-90 181.2 160)">MAPK Signaling-Private</text>
<text x="181.2" y="379.4" font-size="12.75" text-anchor="middle" font-weight="bold" fill="#ffffff" transform="rotate(-90 181.2 379.4)">PI3K-Akt-mTOR Signaling-Private</text>
<text x="181.2" y="592.45" font-size="12.75" text-anchor="middle" font-weight="bold" fill="#ffffff" transform="rotate(-90 181.2 592.45)">Shared by Both Signalings</text>
<line x1="939.8" y1="82.88" x2="945.5" y2="82.88" stroke="#222" stroke-width="1.3"/>
<text x="949.5" y="86.47" font-size="12.65" text-anchor="start" fill="#111" stroke="#111" stroke-width="0.3">MAP2K1 (MEK1)</text>
<line x1="939.8" y1="101.42" x2="945.5" y2="101.42" stroke="#222" stroke-width="1.3"/>
<text x="949.5" y="105.02" font-size="12.65" text-anchor="start" fill="#111" stroke="#111" stroke-width="0.3">MAP2K2 (MEK2)</text>
<line x1="939.8" y1="119.97" x2="945.5" y2="119.97" stroke="#222" stroke-width="1.3"/>
<text x="949.5" y="123.57" font-size="12.65" text-anchor="start" fill="#111" stroke="#111" stroke-width="0.3">MAP2K3 (MEK3)</text>
<line x1="939.8" y1="138.52" x2="945.5" y2="138.52" stroke="#222" stroke-width="1.3"/>
<text x="949.5" y="142.12" font-size="12.65" text-anchor="start" fill="#111" stroke="#111" stroke-width="0.3">MAP2K4 (MEK4)</text>
<line x1="939.8" y1="157.07" x2="945.5" y2="157.07" stroke="#222" stroke-width="1.3"/>
<text x="949.5" y="160.67" font-size="12.65" text-anchor="start" fill="#111" stroke="#111" stroke-width="0.3">MAPK1 (ERK2)</text>
<line x1="939.8" y1="175.62" x2="945.5" y2="175.62" stroke="#222" stroke-width="1.3"/>
<text x="949.5" y="179.22" font-size="12.65" text-anchor="start" fill="#111" stroke="#111" stroke-width="0.3">MAPK8 (JNK1)</text>
<line x1="939.8" y1="194.18" x2="945.5" y2="194.18" stroke="#222" stroke-width="1.3"/>
<text x="949.5" y="197.78" font-size="12.65" text-anchor="start" fill="#111" stroke="#111" stroke-width="0.3">MAPK10 (JNK3)</text>
<line x1="939.8" y1="212.72" x2="945.5" y2="212.72" stroke="#222" stroke-width="1.3"/>
<text x="949.5" y="216.32" font-size="12.65" text-anchor="start" fill="#111" stroke="#111" stroke-width="0.3">MAPK14 (p38&#945;)</text>
<line x1="939.8" y1="231.28" x2="945.5" y2="231.28" stroke="#222" stroke-width="1.3"/>
<text x="949.5" y="234.88" font-size="12.65" text-anchor="start" fill="#111" stroke="#111" stroke-width="0.3">MAPK11 (p38&#946;)</text>
<line x1="939.8" y1="249.82" x2="945.5" y2="249.82" stroke="#222" stroke-width="1.3"/>
<text x="949.5" y="253.42" font-size="12.65" text-anchor="start" fill="#111" stroke="#111" stroke-width="0.3">MAPK13 (p38&#948;)</text>
<line x1="939.8" y1="277.38" x2="945.5" y2="277.38" stroke="#222" stroke-width="1.3"/>
<text x="949.5" y="280.98" font-size="12.65" text-anchor="start" fill="#111" stroke="#111" stroke-width="0.3">PIK3R1</text>
<line x1="939.8" y1="295.93" x2="945.5" y2="295.93" stroke="#222" stroke-width="1.3"/>
<text x="949.5" y="299.53" font-size="12.65" text-anchor="start" fill="#111" stroke="#111" stroke-width="0.3">PDPK1</text>
<line x1="939.8" y1="314.48" x2="945.5" y2="314.48" stroke="#222" stroke-width="1.3"/>
<text x="949.5" y="318.08" font-size="12.65" text-anchor="start" fill="#111" stroke="#111" stroke-width="0.3">AKT1</text>
<line x1="939.8" y1="333.03" x2="945.5" y2="333.03" stroke="#222" stroke-width="1.3"/>
<text x="949.5" y="336.63" font-size="12.65" text-anchor="start" fill="#111" stroke="#111" stroke-width="0.3">AKT2</text>
<line x1="939.8" y1="351.58" x2="945.5" y2="351.58" stroke="#222" stroke-width="1.3"/>
<text x="949.5" y="355.18" font-size="12.65" text-anchor="start" fill="#111" stroke="#111" stroke-width="0.3">RHEB</text>
<line x1="939.8" y1="370.12" x2="945.5" y2="370.12" stroke="#222" stroke-width="1.3"/>
<text x="949.5" y="373.73" font-size="12.65" text-anchor="start" fill="#111" stroke="#111" stroke-width="0.3">MTOR</text>
<line x1="939.8" y1="388.68" x2="945.5" y2="388.68" stroke="#222" stroke-width="1.3"/>
<text x="949.5" y="392.28" font-size="12.65" text-anchor="start" fill="#111" stroke="#111" stroke-width="0.3">SYK</text>
<line x1="939.8" y1="407.23" x2="945.5" y2="407.23" stroke="#222" stroke-width="1.3"/>
<text x="949.5" y="410.83" font-size="12.65" text-anchor="start" fill="#111" stroke="#111" stroke-width="0.3">EIF4E</text>
<line x1="939.8" y1="425.78" x2="945.5" y2="425.78" stroke="#222" stroke-width="1.3"/>
<text x="949.5" y="429.38" font-size="12.65" text-anchor="start" fill="#111" stroke="#111" stroke-width="0.3">RPS6KA1</text>
<line x1="939.8" y1="444.33" x2="945.5" y2="444.33" stroke="#222" stroke-width="1.3"/>
<text x="949.5" y="447.93" font-size="12.65" text-anchor="start" fill="#111" stroke="#111" stroke-width="0.3">BCL2</text>
<line x1="939.8" y1="462.88" x2="945.5" y2="462.88" stroke="#222" stroke-width="1.3"/>
<text x="949.5" y="466.48" font-size="12.65" text-anchor="start" fill="#111" stroke="#111" stroke-width="0.3">CASP3</text>
<line x1="939.8" y1="481.43" x2="945.5" y2="481.43" stroke="#222" stroke-width="1.3"/>
<text x="949.5" y="485.03" font-size="12.65" text-anchor="start" fill="#111" stroke="#111" stroke-width="0.3">CDK4</text>
<line x1="939.8" y1="508.97" x2="945.5" y2="508.97" stroke="#222" stroke-width="1.3"/>
<text x="949.5" y="512.57" font-size="12.65" text-anchor="start" fill="#111" stroke="#111" stroke-width="0.3">NRAS</text>
<line x1="939.8" y1="527.52" x2="945.5" y2="527.52" stroke="#222" stroke-width="1.3"/>
<text x="949.5" y="531.12" font-size="12.65" text-anchor="start" fill="#111" stroke="#111" stroke-width="0.3">KRAS</text>
<line x1="939.8" y1="546.08" x2="945.5" y2="546.08" stroke="#222" stroke-width="1.3"/>
<text x="949.5" y="549.68" font-size="12.65" text-anchor="start" fill="#111" stroke="#111" stroke-width="0.3">RRAS</text>
<line x1="939.8" y1="564.62" x2="945.5" y2="564.62" stroke="#222" stroke-width="1.3"/>
<text x="949.5" y="568.23" font-size="12.65" text-anchor="start" fill="#111" stroke="#111" stroke-width="0.3">RRAS2</text>
<line x1="939.8" y1="583.17" x2="945.5" y2="583.17" stroke="#222" stroke-width="1.3"/>
<text x="949.5" y="586.77" font-size="12.65" text-anchor="start" fill="#111" stroke="#111" stroke-width="0.3">FGF2</text>
<line x1="939.8" y1="601.73" x2="945.5" y2="601.73" stroke="#222" stroke-width="1.3"/>
<text x="949.5" y="605.33" font-size="12.65" text-anchor="start" fill="#111" stroke="#111" stroke-width="0.3">SOS1</text>
<line x1="939.8" y1="620.27" x2="945.5" y2="620.27" stroke="#222" stroke-width="1.3"/>
<text x="949.5" y="623.88" font-size="12.65" text-anchor="start" fill="#111" stroke="#111" stroke-width="0.3">PRKCA</text>
<line x1="939.8" y1="638.83" x2="945.5" y2="638.83" stroke="#222" stroke-width="1.3"/>
<text x="949.5" y="642.43" font-size="12.65" text-anchor="start" fill="#111" stroke="#111" stroke-width="0.3">RELA (p65)</text>
<line x1="939.8" y1="657.38" x2="945.5" y2="657.38" stroke="#222" stroke-width="1.3"/>
<text x="949.5" y="660.98" font-size="12.65" text-anchor="start" fill="#111" stroke="#111" stroke-width="0.3">CHUK (IKK&#945;)</text>
<line x1="939.8" y1="675.92" x2="945.5" y2="675.92" stroke="#222" stroke-width="1.3"/>
<text x="949.5" y="679.52" font-size="12.65" text-anchor="start" fill="#111" stroke="#111" stroke-width="0.3">IKBKB (IKK&#946;)</text>
<line x1="939.8" y1="34.9" x2="945.5" y2="34.9" stroke="#222" stroke-width="1.3"/>
<text x="949.5" y="39.4" font-size="12.65" text-anchor="start" fill="#111" stroke="#111" stroke-width="0.3">Group</text>
<line x1="939.8" y1="49.1" x2="945.5" y2="49.1" stroke="#222" stroke-width="1.3"/>
<text x="949.5" y="53.6" font-size="12.65" text-anchor="start" fill="#111" stroke="#111" stroke-width="0.3">MAPK signature score</text>
<line x1="939.8" y1="63.3" x2="945.5" y2="63.3" stroke="#222" stroke-width="1.3"/>
<text x="949.5" y="67.8" font-size="12.65" text-anchor="start" fill="#111" stroke="#111" stroke-width="0.3">PI3K-Akt-mTOR signature score</text>
<defs><linearGradient id="zg" x1="0" y1="0" x2="0" y2="1"><stop offset="0" stop-color="#e3141b"/><stop offset="0.07" stop-color="#e3141b"/><stop offset="0.2" stop-color="#e24a4d"/><stop offset="0.3" stop-color="#ec8c8e"/><stop offset="0.4" stop-color="#f7d3d4"/><stop offset="0.495" stop-color="#ffffff"/><stop offset="0.58" stop-color="#dfe3ee"/><stop offset="0.7" stop-color="#95a3c4"/><stop offset="0.82" stop-color="#4a6198"/><stop offset="0.92" stop-color="#1b3c7e"/><stop offset="1" stop-color="#1b3c7e"/></linearGradient></defs>
<rect x="25.8" y="84" width="24.2" height="166.7" fill="url(#zg)"/>
<line x1="50.5" y1="93.6" x2="56.8" y2="93.6" stroke="#222" stroke-width="1.2"/>
<text x="61.3" y="99.3" font-size="15.8" text-anchor="start" fill="#111" stroke="#111" stroke-width="0.3">4</text>
<line x1="50.5" y1="129.8" x2="56.8" y2="129.8" stroke="#222" stroke-width="1.2"/>
<text x="61.3" y="135.5" font-size="15.8" text-anchor="start" fill="#111" stroke="#111" stroke-width="0.3">2</text>
<line x1="50.5" y1="166.3" x2="56.8" y2="166.3" stroke="#222" stroke-width="1.2"/>
<text x="61.3" y="172" font-size="15.8" text-anchor="start" fill="#111" stroke="#111" stroke-width="0.3">0</text>
<line x1="50.5" y1="202.4" x2="56.8" y2="202.4" stroke="#222" stroke-width="1.2"/>
<text x="61.3" y="208.1" font-size="15.8" text-anchor="start" fill="#111" stroke="#111" stroke-width="0.3">-2</text>
<line x1="50.5" y1="238.6" x2="56.8" y2="238.6" stroke="#222" stroke-width="1.2"/>
<text x="61.3" y="244.3" font-size="15.8" text-anchor="start" fill="#111" stroke="#111" stroke-width="0.3">-4</text>
<text x="104.5" y="176" font-size="18.3" text-anchor="middle" fill="#111" stroke="#111" stroke-width="0.3" transform="rotate(-90 104.5 176)">z-score</text>
<text x="21" y="337.2" font-size="18.3" text-anchor="start" fill="#111" stroke="#111" stroke-width="0.3">Group</text>
<rect x="21.6" y="348" width="26.3" height="9.8" fill="#e31a1c"/>
<text x="51.6" y="359.6" font-size="17.2" text-anchor="start" fill="#111" stroke="#111" stroke-width="0.3">Metabolic</text>
<rect x="21.6" y="368" width="26.3" height="9.8" fill="#4daf4a"/>
<text x="51.6" y="377.9" font-size="17.2" text-anchor="start" fill="#111" stroke="#111" stroke-width="0.3">Basal</text>
<rect x="21.6" y="387.5" width="26.3" height="9.8" fill="#104c8e"/>
<text x="51.6" y="396.8" font-size="17.2" text-anchor="start" fill="#111" stroke="#111" stroke-width="0.3">Mesenchymal</text>
<text x="21" y="451.4" font-size="18.3" text-anchor="start" fill="#111" stroke="#111" stroke-width="0.3">MAPK signature</text>
<text x="21" y="472" font-size="18.3" text-anchor="start" fill="#111" stroke="#111" stroke-width="0.3">score</text>
<rect x="21.6" y="482.4" width="26.3" height="9.6" fill="#a6cee3"/>
<text x="51.6" y="492.6" font-size="17.2" text-anchor="start" fill="#111" stroke="#111" stroke-width="0.3">0.0124</text>
<rect x="21.6" y="501.4" width="26.3" height="9.6" fill="#4a90c4"/>
<text x="51.6" y="511.6" font-size="17.2" text-anchor="start" fill="#111" stroke="#111" stroke-width="0.3">0.050</text>
<rect x="21.6" y="520.3" width="26.3" height="9.6" fill="#1a5599"/>
<text x="51.6" y="530.5" font-size="17.2" text-anchor="start" fill="#111" stroke="#111" stroke-width="0.3">0.0787</text>
<text x="21" y="577.9" font-size="18.3" text-anchor="start" fill="#111" stroke="#111" stroke-width="0.3">PI3K-Akt-mTOR</text>
<text x="21" y="600.2" font-size="18.3" text-anchor="start" fill="#111" stroke="#111" stroke-width="0.3">signature score</text>
<rect x="21.6" y="611.9" width="26.3" height="9.8" fill="#cbc6e2"/>
<text x="51.6" y="622.5" font-size="17.2" text-anchor="start" fill="#111" stroke="#111" stroke-width="0.3">-0.0611</text>
<rect x="21.6" y="630.2" width="26.3" height="9.8" fill="#8782bd"/>
<text x="51.6" y="640.8" font-size="17.2" text-anchor="start" fill="#111" stroke="#111" stroke-width="0.3">-0.020</text>
<rect x="21.6" y="648.2" width="26.3" height="9.8" fill="#532c8f"/>
<text x="51.6" y="658.8" font-size="17.2" text-anchor="start" fill="#111" stroke="#111" stroke-width="0.3">0.0475</text>
<rect x="1176.1" y="30.2" width="361.2" height="352.3" fill="none" stroke="#666" stroke-width="1.3"/>
<line x1="1172.3" y1="46.6" x2="1176.1" y2="46.6" stroke="#555" stroke-width="1.1"/>
<text x="1169.5" y="51.6" font-size="15.0" text-anchor="end" fill="#111" stroke="#111" stroke-width="0.3">4</text>
<line x1="1172.3" y1="96.55" x2="1176.1" y2="96.55" stroke="#555" stroke-width="1.1"/>
<text x="1169.5" y="101.55" font-size="15.0" text-anchor="end" fill="#111" stroke="#111" stroke-width="0.3">3</text>
<line x1="1172.3" y1="146.5" x2="1176.1" y2="146.5" stroke="#555" stroke-width="1.1"/>
<text x="1169.5" y="151.5" font-size="15.0" text-anchor="end" fill="#111" stroke="#111" stroke-width="0.3">2</text>
<line x1="1172.3" y1="196.45" x2="1176.1" y2="196.45" stroke="#555" stroke-width="1.1"/>
<text x="1169.5" y="201.45" font-size="15.0" text-anchor="end" fill="#111" stroke="#111" stroke-width="0.3">1</text>
<line x1="1172.3" y1="246.4" x2="1176.1" y2="246.4" stroke="#555" stroke-width="1.1"/>
<text x="1169.5" y="251.4" font-size="15.0" text-anchor="end" fill="#111" stroke="#111" stroke-width="0.3">0</text>
<line x1="1172.3" y1="296.35" x2="1176.1" y2="296.35" stroke="#555" stroke-width="1.1"/>
<text x="1169.5" y="301.35" font-size="15.0" text-anchor="end" fill="#111" stroke="#111" stroke-width="0.3">-1</text>
<line x1="1172.3" y1="346.3" x2="1176.1" y2="346.3" stroke="#555" stroke-width="1.1"/>
<text x="1169.5" y="351.3" font-size="15.0" text-anchor="end" fill="#111" stroke="#111" stroke-width="0.3">-2</text>
<line x1="1236.1" y1="382.5" x2="1236.1" y2="386.1" stroke="#555" stroke-width="1.1"/>
<text x="1236.1" y="401" font-size="16.7" text-anchor="middle" fill="#111" stroke="#111" stroke-width="0.3">Metabolic</text>
<line x1="1236.1" y1="96.55" x2="1236.1" y2="153.49" stroke="#111" stroke-width="1.6" stroke-dasharray="5.5,2.6"/>
<line x1="1236.1" y1="212.43" x2="1236.1" y2="275.37" stroke="#111" stroke-width="1.6" stroke-dasharray="5.5,2.6"/>
<line x1="1217.7" y1="96.55" x2="1254.5" y2="96.55" stroke="#222" stroke-width="1.5"/>
<line x1="1217.7" y1="275.37" x2="1254.5" y2="275.37" stroke="#222" stroke-width="1.5"/>
<rect x="1199.9" y="153.49" width="72.4" height="58.94" fill="#f09a8e" stroke="#2b2b2b" stroke-width="1.4"/>
<line x1="1356.8" y1="382.5" x2="1356.8" y2="386.1" stroke="#555" stroke-width="1.1"/>
<text x="1356.8" y="401" font-size="16.7" text-anchor="middle" fill="#111" stroke="#111" stroke-width="0.3">Basal</text>
<line x1="1356.8" y1="82.06" x2="1356.8" y2="172.97" stroke="#111" stroke-width="1.6" stroke-dasharray="5.5,2.6"/>
<line x1="1356.8" y1="245.9" x2="1356.8" y2="297.85" stroke="#111" stroke-width="1.6" stroke-dasharray="5.5,2.6"/>
<line x1="1338.4" y1="82.06" x2="1375.2" y2="82.06" stroke="#222" stroke-width="1.5"/>
<line x1="1338.4" y1="297.85" x2="1375.2" y2="297.85" stroke="#222" stroke-width="1.5"/>
<rect x="1320.6" y="172.97" width="72.4" height="72.93" fill="#94bb4a" stroke="#2b2b2b" stroke-width="1.4"/>
<line x1="1477" y1="382.5" x2="1477" y2="386.1" stroke="#555" stroke-width="1.1"/>
<text x="1477" y="401" font-size="16.7" text-anchor="middle" fill="#111" stroke="#111" stroke-width="0.3">Mesenchymal</text>
<line x1="1477" y1="135.51" x2="1477" y2="187.96" stroke="#111" stroke-width="1.6" stroke-dasharray="5.5,2.6"/>
<line x1="1477" y1="260.89" x2="1477" y2="359.79" stroke="#111" stroke-width="1.6" stroke-dasharray="5.5,2.6"/>
<line x1="1458.6" y1="135.51" x2="1495.4" y2="135.51" stroke="#222" stroke-width="1.5"/>
<line x1="1458.6" y1="359.79" x2="1495.4" y2="359.79" stroke="#222" stroke-width="1.5"/>
<rect x="1440.8" y="187.96" width="72.4" height="72.93" fill="#3cc4c7" stroke="#2b2b2b" stroke-width="1.4"/>
<line x1="1198.9" y1="180.97" x2="1273.3" y2="180.97" stroke="#000" stroke-width="3.6"/>
<line x1="1319.6" y1="200.45" x2="1394" y2="200.45" stroke="#000" stroke-width="3.6"/>
<line x1="1439.8" y1="229.42" x2="1514.2" y2="229.42" stroke="#000" stroke-width="3.6"/>
<circle cx="1228.05" cy="59.81" r="2.35" fill="#e8806f" fill-opacity="0.92"/><circle cx="1230.68" cy="96.85" r="2.35" fill="#e8806f" fill-opacity="0.92"/><circle cx="1239.45" cy="140.68" r="2.35" fill="#e8806f" fill-opacity="0.92"/><circle cx="1235.07" cy="144.41" r="2.35" fill="#e8806f" fill-opacity="0.92"/><circle cx="1240.11" cy="151.64" r="2.35" fill="#e8806f" fill-opacity="0.92"/><circle cx="1233.32" cy="155.37" r="2.35" fill="#e8806f" fill-opacity="0.92"/><circle cx="1244.93" cy="157.56" r="2.35" fill="#e8806f" fill-opacity="0.92"/><circle cx="1233.32" cy="164.14" r="2.35" fill="#e8806f" fill-opacity="0.92"/><circle cx="1232.88" cy="166.99" r="2.35" fill="#e8806f" fill-opacity="0.92"/><circle cx="1243.4" cy="180.79" r="2.35" fill="#e8806f" fill-opacity="0.92"/><circle cx="1232.88" cy="193.29" r="2.35" fill="#e8806f" fill-opacity="0.92"/><circle cx="1239.89" cy="192.63" r="2.35" fill="#e8806f" fill-opacity="0.92"/><circle cx="1228.93" cy="204.25" r="2.35" fill="#e8806f" fill-opacity="0.92"/><circle cx="1231.78" cy="208.63" r="2.35" fill="#e8806f" fill-opacity="0.92"/><circle cx="1235.73" cy="214.77" r="2.35" fill="#e8806f" fill-opacity="0.92"/><circle cx="1237.26" cy="216.3" r="2.35" fill="#e8806f" fill-opacity="0.92"/><circle cx="1241.21" cy="227.92" r="2.35" fill="#e8806f" fill-opacity="0.92"/><circle cx="1235.07" cy="267.15" r="2.35" fill="#e8806f" fill-opacity="0.92"/><circle cx="1245.37" cy="275.48" r="2.35" fill="#e8806f" fill-opacity="0.92"/>
<circle cx="1356.71" cy="82.16" r="2.35" fill="#7baa2f" fill-opacity="0.92"/><circle cx="1352.77" cy="118.77" r="2.35" fill="#7baa2f" fill-opacity="0.92"/><circle cx="1365.48" cy="139.15" r="2.35" fill="#7baa2f" fill-opacity="0.92"/><circle cx="1355.62" cy="154.93" r="2.35" fill="#7baa2f" fill-opacity="0.92"/><circle cx="1352.99" cy="159.32" r="2.35" fill="#7baa2f" fill-opacity="0.92"/><circle cx="1357.81" cy="159.32" r="2.35" fill="#7baa2f" fill-opacity="0.92"/><circle cx="1360" cy="162.38" r="2.35" fill="#7baa2f" fill-opacity="0.92"/><circle cx="1353.42" cy="171.37" r="2.35" fill="#7baa2f" fill-opacity="0.92"/><circle cx="1358.9" cy="174.66" r="2.35" fill="#7baa2f" fill-opacity="0.92"/><circle cx="1355.62" cy="181.23" r="2.35" fill="#7baa2f" fill-opacity="0.92"/><circle cx="1366.58" cy="181.89" r="2.35" fill="#7baa2f" fill-opacity="0.92"/><circle cx="1354.08" cy="186.71" r="2.35" fill="#7baa2f" fill-opacity="0.92"/><circle cx="1347.51" cy="192.19" r="2.35" fill="#7baa2f" fill-opacity="0.92"/><circle cx="1356.05" cy="198.77" r="2.35" fill="#7baa2f" fill-opacity="0.92"/><circle cx="1357.37" cy="200.96" r="2.35" fill="#7baa2f" fill-opacity="0.92"/><circle cx="1365.48" cy="198.77" r="2.35" fill="#7baa2f" fill-opacity="0.92"/><circle cx="1357.81" cy="203.15" r="2.35" fill="#7baa2f" fill-opacity="0.92"/><circle cx="1352.77" cy="210.82" r="2.35" fill="#7baa2f" fill-opacity="0.92"/><circle cx="1359.34" cy="211.92" r="2.35" fill="#7baa2f" fill-opacity="0.92"/><circle cx="1349.7" cy="225.07" r="2.35" fill="#7baa2f" fill-opacity="0.92"/><circle cx="1356.05" cy="224.41" r="2.35" fill="#7baa2f" fill-opacity="0.92"/><circle cx="1360.66" cy="230.77" r="2.35" fill="#7baa2f" fill-opacity="0.92"/><circle cx="1360.66" cy="261.01" r="2.35" fill="#7baa2f" fill-opacity="0.92"/><circle cx="1351.23" cy="271.1" r="2.35" fill="#7baa2f" fill-opacity="0.92"/><circle cx="1352.77" cy="270.66" r="2.35" fill="#7baa2f" fill-opacity="0.92"/><circle cx="1361.75" cy="268.47" r="2.35" fill="#7baa2f" fill-opacity="0.92"/><circle cx="1352.99" cy="280.3" r="2.35" fill="#7baa2f" fill-opacity="0.92"/><circle cx="1349.04" cy="297.84" r="2.35" fill="#7baa2f" fill-opacity="0.92"/><circle cx="1356.49" cy="297.84" r="2.35" fill="#7baa2f" fill-opacity="0.92"/><circle cx="1361.75" cy="366.44" r="2.35" fill="#7baa2f" fill-opacity="0.92"/>
<circle cx="1469.59" cy="137.4" r="2.35" fill="#22b6c2" fill-opacity="0.92"/><circle cx="1484.93" cy="135.64" r="2.35" fill="#22b6c2" fill-opacity="0.92"/><circle cx="1482.74" cy="154.49" r="2.35" fill="#22b6c2" fill-opacity="0.92"/><circle cx="1477.48" cy="164.14" r="2.35" fill="#22b6c2" fill-opacity="0.92"/><circle cx="1481.64" cy="184.08" r="2.35" fill="#22b6c2" fill-opacity="0.92"/><circle cx="1478.36" cy="186.05" r="2.35" fill="#22b6c2" fill-opacity="0.92"/><circle cx="1478.36" cy="188.9" r="2.35" fill="#22b6c2" fill-opacity="0.92"/><circle cx="1486.03" cy="190.44" r="2.35" fill="#22b6c2" fill-opacity="0.92"/><circle cx="1475.73" cy="204.25" r="2.35" fill="#22b6c2" fill-opacity="0.92"/><circle cx="1475.73" cy="209.73" r="2.35" fill="#22b6c2" fill-opacity="0.92"/><circle cx="1482.08" cy="225.07" r="2.35" fill="#22b6c2" fill-opacity="0.92"/><circle cx="1484.27" cy="229.45" r="2.35" fill="#22b6c2" fill-opacity="0.92"/><circle cx="1483.4" cy="228.36" r="2.35" fill="#22b6c2" fill-opacity="0.92"/><circle cx="1467.84" cy="242.16" r="2.35" fill="#22b6c2" fill-opacity="0.92"/><circle cx="1479.45" cy="244.36" r="2.35" fill="#22b6c2" fill-opacity="0.92"/><circle cx="1476.16" cy="252.47" r="2.35" fill="#22b6c2" fill-opacity="0.92"/><circle cx="1471.12" cy="255.32" r="2.35" fill="#22b6c2" fill-opacity="0.92"/><circle cx="1472.44" cy="261.23" r="2.35" fill="#22b6c2" fill-opacity="0.92"/><circle cx="1475.07" cy="264.08" r="2.35" fill="#22b6c2" fill-opacity="0.92"/><circle cx="1467.84" cy="277.67" r="2.35" fill="#22b6c2" fill-opacity="0.92"/><circle cx="1484.93" cy="284.68" r="2.35" fill="#22b6c2" fill-opacity="0.92"/><circle cx="1467.84" cy="299.59" r="2.35" fill="#22b6c2" fill-opacity="0.92"/><circle cx="1477.48" cy="306.6" r="2.35" fill="#22b6c2" fill-opacity="0.92"/><circle cx="1484.93" cy="359.21" r="2.35" fill="#22b6c2" fill-opacity="0.92"/>
<line x1="1242.1" y1="50.1" x2="1471" y2="50.1" stroke="#555" stroke-width="1.3"/>
<line x1="1242.1" y1="50.1" x2="1242.1" y2="52.1" stroke="#555" stroke-width="1.1"/>
<line x1="1471" y1="50.1" x2="1471" y2="52.1" stroke="#555" stroke-width="1.1"/>
<text x="1356.55" y="44.1" font-size="11.3" text-anchor="middle" fill="#333" stroke="#333" stroke-width="0.3">p = 0.006</text>
<text x="1147.5" y="216.4" font-size="16.8" text-anchor="middle" fill="#111" stroke="#111" stroke-width="0.3" transform="rotate(-90 1147.5 216.4)">STMN1_pS16</text>
<rect x="1608.4" y="30.2" width="361.6" height="352.1" fill="none" stroke="#666" stroke-width="1.3"/>
<line x1="1604.6" y1="59.4" x2="1608.4" y2="59.4" stroke="#555" stroke-width="1.1"/>
<text x="1601.8" y="64.4" font-size="15.0" text-anchor="end" fill="#111" stroke="#111" stroke-width="0.3">0.5</text>
<line x1="1604.6" y1="99.8" x2="1608.4" y2="99.8" stroke="#555" stroke-width="1.1"/>
<text x="1601.8" y="104.8" font-size="15.0" text-anchor="end" fill="#111" stroke="#111" stroke-width="0.3">0.0</text>
<line x1="1604.6" y1="140.2" x2="1608.4" y2="140.2" stroke="#555" stroke-width="1.1"/>
<text x="1601.8" y="145.2" font-size="15.0" text-anchor="end" fill="#111" stroke="#111" stroke-width="0.3">-0.5</text>
<line x1="1604.6" y1="180.6" x2="1608.4" y2="180.6" stroke="#555" stroke-width="1.1"/>
<text x="1601.8" y="185.6" font-size="15.0" text-anchor="end" fill="#111" stroke="#111" stroke-width="0.3">-1.0</text>
<line x1="1604.6" y1="221" x2="1608.4" y2="221" stroke="#555" stroke-width="1.1"/>
<text x="1601.8" y="226" font-size="15.0" text-anchor="end" fill="#111" stroke="#111" stroke-width="0.3">-1.5</text>
<line x1="1604.6" y1="261.4" x2="1608.4" y2="261.4" stroke="#555" stroke-width="1.1"/>
<text x="1601.8" y="266.4" font-size="15.0" text-anchor="end" fill="#111" stroke="#111" stroke-width="0.3">-2.0</text>
<line x1="1604.6" y1="301.8" x2="1608.4" y2="301.8" stroke="#555" stroke-width="1.1"/>
<text x="1601.8" y="306.8" font-size="15.0" text-anchor="end" fill="#111" stroke="#111" stroke-width="0.3">-2.5</text>
<line x1="1604.6" y1="342.2" x2="1608.4" y2="342.2" stroke="#555" stroke-width="1.1"/>
<text x="1601.8" y="347.2" font-size="15.0" text-anchor="end" fill="#111" stroke="#111" stroke-width="0.3">-3.0</text>
<line x1="1668.6" y1="382.3" x2="1668.6" y2="385.9" stroke="#555" stroke-width="1.1"/>
<text x="1668.6" y="401" font-size="16.7" text-anchor="middle" fill="#111" stroke="#111" stroke-width="0.3">Metabolic</text>
<line x1="1668.6" y1="68.29" x2="1668.6" y2="114.34" stroke="#111" stroke-width="1.6" stroke-dasharray="5.5,2.6"/>
<line x1="1668.6" y1="193.53" x2="1668.6" y2="299.38" stroke="#111" stroke-width="1.6" stroke-dasharray="5.5,2.6"/>
<line x1="1650.2" y1="68.29" x2="1687" y2="68.29" stroke="#222" stroke-width="1.5"/>
<line x1="1650.2" y1="299.38" x2="1687" y2="299.38" stroke="#222" stroke-width="1.5"/>
<rect x="1632.4" y="114.34" width="72.4" height="79.18" fill="#f09a8e" stroke="#2b2b2b" stroke-width="1.4"/>
<line x1="1789" y1="382.3" x2="1789" y2="385.9" stroke="#555" stroke-width="1.1"/>
<text x="1789" y="401" font-size="16.7" text-anchor="middle" fill="#111" stroke="#111" stroke-width="0.3">Basal</text>
<line x1="1789" y1="101.42" x2="1789" y2="164.44" stroke="#111" stroke-width="1.6" stroke-dasharray="5.5,2.6"/>
<line x1="1789" y1="222.62" x2="1789" y2="306.65" stroke="#111" stroke-width="1.6" stroke-dasharray="5.5,2.6"/>
<line x1="1770.6" y1="101.42" x2="1807.4" y2="101.42" stroke="#222" stroke-width="1.5"/>
<line x1="1770.6" y1="306.65" x2="1807.4" y2="306.65" stroke="#222" stroke-width="1.5"/>
<rect x="1752.8" y="164.44" width="72.4" height="58.18" fill="#94bb4a" stroke="#2b2b2b" stroke-width="1.4"/>
<line x1="1909.7" y1="382.3" x2="1909.7" y2="385.9" stroke="#555" stroke-width="1.1"/>
<text x="1909.7" y="401" font-size="16.7" text-anchor="middle" fill="#111" stroke="#111" stroke-width="0.3">Mesenchymal</text>
<line x1="1909.7" y1="101.42" x2="1909.7" y2="157.98" stroke="#111" stroke-width="1.6" stroke-dasharray="5.5,2.6"/>
<line x1="1909.7" y1="242.01" x2="1909.7" y2="366.44" stroke="#111" stroke-width="1.6" stroke-dasharray="5.5,2.6"/>
<line x1="1891.3" y1="101.42" x2="1928.1" y2="101.42" stroke="#222" stroke-width="1.5"/>
<line x1="1891.3" y1="366.44" x2="1928.1" y2="366.44" stroke="#222" stroke-width="1.5"/>
<rect x="1873.5" y="157.98" width="72.4" height="84.03" fill="#3cc4c7" stroke="#2b2b2b" stroke-width="1.4"/>
<line x1="1631.4" y1="158.78" x2="1705.8" y2="158.78" stroke="#000" stroke-width="3.6"/>
<line x1="1751.8" y1="186.26" x2="1826.2" y2="186.26" stroke="#000" stroke-width="3.6"/>
<line x1="1872.5" y1="207.26" x2="1946.9" y2="207.26" stroke="#000" stroke-width="3.6"/>
<circle cx="1662.44" cy="72.08" r="2.35" fill="#e8806f" fill-opacity="0.92"/><circle cx="1673.4" cy="68.36" r="2.35" fill="#e8806f" fill-opacity="0.92"/><circle cx="1674.49" cy="70.77" r="2.35" fill="#e8806f" fill-opacity="0.92"/><circle cx="1667.26" cy="102.33" r="2.35" fill="#e8806f" fill-opacity="0.92"/><circle cx="1673.4" cy="105.84" r="2.35" fill="#e8806f" fill-opacity="0.92"/><circle cx="1660.68" cy="122.05" r="2.35" fill="#e8806f" fill-opacity="0.92"/><circle cx="1665.07" cy="142.88" r="2.35" fill="#e8806f" fill-opacity="0.92"/><circle cx="1675.37" cy="149.89" r="2.35" fill="#e8806f" fill-opacity="0.92"/><circle cx="1672.74" cy="157.56" r="2.35" fill="#e8806f" fill-opacity="0.92"/><circle cx="1660.68" cy="164.79" r="2.35" fill="#e8806f" fill-opacity="0.92"/><circle cx="1673.84" cy="169.4" r="2.35" fill="#e8806f" fill-opacity="0.92"/><circle cx="1669.45" cy="186.27" r="2.35" fill="#e8806f" fill-opacity="0.92"/><circle cx="1671.64" cy="192.63" r="2.35" fill="#e8806f" fill-opacity="0.92"/><circle cx="1663.97" cy="194.38" r="2.35" fill="#e8806f" fill-opacity="0.92"/><circle cx="1673.84" cy="198.11" r="2.35" fill="#e8806f" fill-opacity="0.92"/><circle cx="1676.03" cy="198.77" r="2.35" fill="#e8806f" fill-opacity="0.92"/><circle cx="1672.3" cy="237.12" r="2.35" fill="#e8806f" fill-opacity="0.92"/><circle cx="1670.55" cy="299.15" r="2.35" fill="#e8806f" fill-opacity="0.92"/>
<circle cx="1793.29" cy="100.58" r="2.35" fill="#7baa2f" fill-opacity="0.92"/><circle cx="1798.77" cy="102.99" r="2.35" fill="#7baa2f" fill-opacity="0.92"/><circle cx="1797.67" cy="124.68" r="2.35" fill="#7baa2f" fill-opacity="0.92"/><circle cx="1787.37" cy="128.63" r="2.35" fill="#7baa2f" fill-opacity="0.92"/><circle cx="1794.82" cy="137.4" r="2.35" fill="#7baa2f" fill-opacity="0.92"/><circle cx="1782.33" cy="152.74" r="2.35" fill="#7baa2f" fill-opacity="0.92"/><circle cx="1784.52" cy="153.18" r="2.35" fill="#7baa2f" fill-opacity="0.92"/><circle cx="1794.82" cy="156.68" r="2.35" fill="#7baa2f" fill-opacity="0.92"/><circle cx="1781.23" cy="173.56" r="2.35" fill="#7baa2f" fill-opacity="0.92"/><circle cx="1782.33" cy="175.75" r="2.35" fill="#7baa2f" fill-opacity="0.92"/><circle cx="1786.71" cy="172.47" r="2.35" fill="#7baa2f" fill-opacity="0.92"/><circle cx="1792.19" cy="176.19" r="2.35" fill="#7baa2f" fill-opacity="0.92"/><circle cx="1792.19" cy="182.99" r="2.35" fill="#7baa2f" fill-opacity="0.92"/><circle cx="1791.75" cy="186.27" r="2.35" fill="#7baa2f" fill-opacity="0.92"/><circle cx="1780.79" cy="192.63" r="2.35" fill="#7baa2f" fill-opacity="0.92"/><circle cx="1789.56" cy="193.29" r="2.35" fill="#7baa2f" fill-opacity="0.92"/><circle cx="1792.19" cy="210.82" r="2.35" fill="#7baa2f" fill-opacity="0.92"/><circle cx="1781.23" cy="218.05" r="2.35" fill="#7baa2f" fill-opacity="0.92"/><circle cx="1782.33" cy="222.88" r="2.35" fill="#7baa2f" fill-opacity="0.92"/><circle cx="1793.29" cy="221.12" r="2.35" fill="#7baa2f" fill-opacity="0.92"/><circle cx="1787.81" cy="222.44" r="2.35" fill="#7baa2f" fill-opacity="0.92"/><circle cx="1791.1" cy="230.55" r="2.35" fill="#7baa2f" fill-opacity="0.92"/><circle cx="1790" cy="248.08" r="2.35" fill="#7baa2f" fill-opacity="0.92"/><circle cx="1782.77" cy="264.52" r="2.35" fill="#7baa2f" fill-opacity="0.92"/><circle cx="1783.42" cy="271.1" r="2.35" fill="#7baa2f" fill-opacity="0.92"/><circle cx="1793.29" cy="276.79" r="2.35" fill="#7baa2f" fill-opacity="0.92"/><circle cx="1798.77" cy="275.48" r="2.35" fill="#7baa2f" fill-opacity="0.92"/><circle cx="1789.56" cy="306.6" r="2.35" fill="#7baa2f" fill-opacity="0.92"/>
<circle cx="1903.53" cy="101.23" r="2.35" fill="#22b6c2" fill-opacity="0.92"/><circle cx="1905.51" cy="111.75" r="2.35" fill="#22b6c2" fill-opacity="0.92"/><circle cx="1904.63" cy="124.68" r="2.35" fill="#22b6c2" fill-opacity="0.92"/><circle cx="1911.64" cy="125.12" r="2.35" fill="#22b6c2" fill-opacity="0.92"/><circle cx="1907.7" cy="133.01" r="2.35" fill="#22b6c2" fill-opacity="0.92"/><circle cx="1916.03" cy="150.99" r="2.35" fill="#22b6c2" fill-opacity="0.92"/><circle cx="1907.7" cy="159.75" r="2.35" fill="#22b6c2" fill-opacity="0.92"/><circle cx="1918.22" cy="162.16" r="2.35" fill="#22b6c2" fill-opacity="0.92"/><circle cx="1900.47" cy="173.34" r="2.35" fill="#22b6c2" fill-opacity="0.92"/><circle cx="1912.74" cy="180.79" r="2.35" fill="#22b6c2" fill-opacity="0.92"/><circle cx="1903.97" cy="203.15" r="2.35" fill="#22b6c2" fill-opacity="0.92"/><circle cx="1910.55" cy="203.15" r="2.35" fill="#22b6c2" fill-opacity="0.92"/><circle cx="1916.47" cy="211.92" r="2.35" fill="#22b6c2" fill-opacity="0.92"/><circle cx="1909.45" cy="215.21" r="2.35" fill="#22b6c2" fill-opacity="0.92"/><circle cx="1911.21" cy="217.4" r="2.35" fill="#22b6c2" fill-opacity="0.92"/><circle cx="1905.07" cy="227.7" r="2.35" fill="#22b6c2" fill-opacity="0.92"/><circle cx="1918.22" cy="234.27" r="2.35" fill="#22b6c2" fill-opacity="0.92"/><circle cx="1906.16" cy="238.66" r="2.35" fill="#22b6c2" fill-opacity="0.92"/><circle cx="1903.97" cy="253.78" r="2.35" fill="#22b6c2" fill-opacity="0.92"/><circle cx="1912.74" cy="260.58" r="2.35" fill="#22b6c2" fill-opacity="0.92"/><circle cx="1905.51" cy="288.63" r="2.35" fill="#22b6c2" fill-opacity="0.92"/><circle cx="1909.67" cy="297.4" r="2.35" fill="#22b6c2" fill-opacity="0.92"/><circle cx="1910.55" cy="339.04" r="2.35" fill="#22b6c2" fill-opacity="0.92"/><circle cx="1900.68" cy="366.44" r="2.35" fill="#22b6c2" fill-opacity="0.92"/>
<line x1="1674.6" y1="63.3" x2="1783.3" y2="63.3" stroke="#555" stroke-width="1.3"/>
<text x="1728.95" y="57.3" font-size="11.3" text-anchor="middle" fill="#333" stroke="#333" stroke-width="0.3">p = 0.023</text>
<line x1="1674.6" y1="46.4" x2="1904" y2="46.4" stroke="#555" stroke-width="1.3"/>
<text x="1789.3" y="40.4" font-size="11.3" text-anchor="middle" fill="#333" stroke="#333" stroke-width="0.3">p = 0.017</text>
<text x="1560.5" y="216.4" font-size="16.8" text-anchor="middle" fill="#111" stroke="#111" stroke-width="0.3" transform="rotate(-90 1560.5 216.4)">STMN1_pS46</text>
<rect x="100.2" y="778.8" width="356.7" height="356.1" fill="none" stroke="#666" stroke-width="1.3"/>
<line x1="96.4" y1="800.5" x2="100.2" y2="800.5" stroke="#555" stroke-width="1.1"/>
<text x="93.6" y="805.5" font-size="14.2" text-anchor="end" fill="#111" stroke="#111" stroke-width="0.3">0.0</text>
<line x1="96.4" y1="845.05" x2="100.2" y2="845.05" stroke="#555" stroke-width="1.1"/>
<text x="93.6" y="850.05" font-size="14.2" text-anchor="end" fill="#111" stroke="#111" stroke-width="0.3">-0.5</text>
<line x1="96.4" y1="889.6" x2="100.2" y2="889.6" stroke="#555" stroke-width="1.1"/>
<text x="93.6" y="894.6" font-size="14.2" text-anchor="end" fill="#111" stroke="#111" stroke-width="0.3">-1.0</text>
<line x1="96.4" y1="934.15" x2="100.2" y2="934.15" stroke="#555" stroke-width="1.1"/>
<text x="93.6" y="939.15" font-size="14.2" text-anchor="end" fill="#111" stroke="#111" stroke-width="0.3">-1.5</text>
<line x1="96.4" y1="978.7" x2="100.2" y2="978.7" stroke="#555" stroke-width="1.1"/>
<text x="93.6" y="983.7" font-size="14.2" text-anchor="end" fill="#111" stroke="#111" stroke-width="0.3">-2.0</text>
<line x1="96.4" y1="1023.25" x2="100.2" y2="1023.25" stroke="#555" stroke-width="1.1"/>
<text x="93.6" y="1028.25" font-size="14.2" text-anchor="end" fill="#111" stroke="#111" stroke-width="0.3">-2.5</text>
<line x1="96.4" y1="1067.8" x2="100.2" y2="1067.8" stroke="#555" stroke-width="1.1"/>
<text x="93.6" y="1072.8" font-size="14.2" text-anchor="end" fill="#111" stroke="#111" stroke-width="0.3">-3.0</text>
<line x1="96.4" y1="1112.35" x2="100.2" y2="1112.35" stroke="#555" stroke-width="1.1"/>
<text x="93.6" y="1117.35" font-size="14.2" text-anchor="end" fill="#111" stroke="#111" stroke-width="0.3">-3.5</text>
<line x1="159.3" y1="1134.9" x2="159.3" y2="1138.5" stroke="#555" stroke-width="1.1"/>
<text x="159.3" y="1155.5" font-size="16.7" text-anchor="middle" fill="#111" stroke="#111" stroke-width="0.3">Metabolic</text>
<line x1="159.3" y1="829.01" x2="159.3" y2="883.36" stroke="#111" stroke-width="1.6" stroke-dasharray="5.5,2.6"/>
<line x1="159.3" y1="932.37" x2="159.3" y2="992.06" stroke="#111" stroke-width="1.6" stroke-dasharray="5.5,2.6"/>
<line x1="140.9" y1="829.01" x2="177.7" y2="829.01" stroke="#222" stroke-width="1.5"/>
<line x1="140.9" y1="992.06" x2="177.7" y2="992.06" stroke="#222" stroke-width="1.5"/>
<rect x="123.1" y="883.36" width="72.4" height="49" fill="#f09a8e" stroke="#2b2b2b" stroke-width="1.4"/>
<line x1="278.7" y1="1134.9" x2="278.7" y2="1138.5" stroke="#555" stroke-width="1.1"/>
<text x="278.7" y="1155.5" font-size="16.7" text-anchor="middle" fill="#111" stroke="#111" stroke-width="0.3">Basal</text>
<line x1="278.7" y1="854.85" x2="278.7" y2="908.31" stroke="#111" stroke-width="1.6" stroke-dasharray="5.5,2.6"/>
<line x1="278.7" y1="978.7" x2="278.7" y2="1049.98" stroke="#111" stroke-width="1.6" stroke-dasharray="5.5,2.6"/>
<line x1="260.3" y1="854.85" x2="297.1" y2="854.85" stroke="#222" stroke-width="1.5"/>
<line x1="260.3" y1="1049.98" x2="297.1" y2="1049.98" stroke="#222" stroke-width="1.5"/>
<rect x="242.5" y="908.31" width="72.4" height="70.39" fill="#94bb4a" stroke="#2b2b2b" stroke-width="1.4"/>
<line x1="397.8" y1="1134.9" x2="397.8" y2="1138.5" stroke="#555" stroke-width="1.1"/>
<text x="397.8" y="1155.5" font-size="16.7" text-anchor="middle" fill="#111" stroke="#111" stroke-width="0.3">Mesenchymal</text>
<line x1="397.8" y1="845.05" x2="397.8" y2="894.05" stroke="#111" stroke-width="1.6" stroke-dasharray="5.5,2.6"/>
<line x1="397.8" y1="932.37" x2="397.8" y2="982.26" stroke="#111" stroke-width="1.6" stroke-dasharray="5.5,2.6"/>
<line x1="379.4" y1="845.05" x2="416.2" y2="845.05" stroke="#222" stroke-width="1.5"/>
<line x1="379.4" y1="982.26" x2="416.2" y2="982.26" stroke="#222" stroke-width="1.5"/>
<rect x="361.6" y="894.05" width="72.4" height="38.31" fill="#3cc4c7" stroke="#2b2b2b" stroke-width="1.4"/>
<line x1="122.1" y1="916.33" x2="196.5" y2="916.33" stroke="#000" stroke-width="3.6"/>
<line x1="241.5" y1="933.26" x2="315.9" y2="933.26" stroke="#000" stroke-width="3.6"/>
<line x1="360.6" y1="911.88" x2="435" y2="911.88" stroke="#000" stroke-width="3.6"/>
<circle cx="152.68" cy="829.56" r="2.35" fill="#e8806f" fill-opacity="0.92"/><circle cx="167.45" cy="839.47" r="2.35" fill="#e8806f" fill-opacity="0.92"/><circle cx="161.72" cy="847.81" r="2.35" fill="#e8806f" fill-opacity="0.92"/><circle cx="160.33" cy="855.29" r="2.35" fill="#e8806f" fill-opacity="0.92"/><circle cx="164.67" cy="865.54" r="2.35" fill="#e8806f" fill-opacity="0.92"/><circle cx="165.72" cy="868.32" r="2.35" fill="#e8806f" fill-opacity="0.92"/><circle cx="169.19" cy="871.63" r="2.35" fill="#e8806f" fill-opacity="0.92"/><circle cx="157.02" cy="877.71" r="2.35" fill="#e8806f" fill-opacity="0.92"/><circle cx="165.54" cy="883.1" r="2.35" fill="#e8806f" fill-opacity="0.92"/><circle cx="161.02" cy="897.7" r="2.35" fill="#e8806f" fill-opacity="0.92"/><circle cx="166.58" cy="903.09" r="2.35" fill="#e8806f" fill-opacity="0.92"/><circle cx="159.63" cy="904.65" r="2.35" fill="#e8806f" fill-opacity="0.92"/><circle cx="162.41" cy="904.65" r="2.35" fill="#e8806f" fill-opacity="0.92"/><circle cx="155.98" cy="909.34" r="2.35" fill="#e8806f" fill-opacity="0.92"/><circle cx="163.8" cy="912.65" r="2.35" fill="#e8806f" fill-opacity="0.92"/><circle cx="164.85" cy="916.65" r="2.35" fill="#e8806f" fill-opacity="0.92"/><circle cx="167.8" cy="916.65" r="2.35" fill="#e8806f" fill-opacity="0.92"/><circle cx="151.64" cy="920.47" r="2.35" fill="#e8806f" fill-opacity="0.92"/><circle cx="157.37" cy="923.6" r="2.35" fill="#e8806f" fill-opacity="0.92"/><circle cx="154.76" cy="924.64" r="2.35" fill="#e8806f" fill-opacity="0.92"/><circle cx="153.03" cy="926.38" r="2.35" fill="#e8806f" fill-opacity="0.92"/><circle cx="151.29" cy="930.9" r="2.35" fill="#e8806f" fill-opacity="0.92"/><circle cx="156.5" cy="931.25" r="2.35" fill="#e8806f" fill-opacity="0.92"/><circle cx="160.85" cy="932.64" r="2.35" fill="#e8806f" fill-opacity="0.92"/><circle cx="164.67" cy="934.38" r="2.35" fill="#e8806f" fill-opacity="0.92"/><circle cx="155.63" cy="946.2" r="2.35" fill="#e8806f" fill-opacity="0.92"/><circle cx="155.98" cy="961.14" r="2.35" fill="#e8806f" fill-opacity="0.92"/><circle cx="167.11" cy="963.92" r="2.35" fill="#e8806f" fill-opacity="0.92"/><circle cx="161.72" cy="968.1" r="2.35" fill="#e8806f" fill-opacity="0.92"/><circle cx="164.85" cy="983.57" r="2.35" fill="#e8806f" fill-opacity="0.92"/><circle cx="160.33" cy="992.43" r="2.35" fill="#e8806f" fill-opacity="0.92"/><circle cx="162.07" cy="1007.73" r="2.35" fill="#e8806f" fill-opacity="0.92"/>
<circle cx="279.57" cy="854.76" r="2.35" fill="#7baa2f" fill-opacity="0.92"/><circle cx="279.05" cy="872.49" r="2.35" fill="#7baa2f" fill-opacity="0.92"/><circle cx="274.35" cy="880.14" r="2.35" fill="#7baa2f" fill-opacity="0.92"/><circle cx="270.88" cy="890.4" r="2.35" fill="#7baa2f" fill-opacity="0.92"/><circle cx="277.31" cy="893.01" r="2.35" fill="#7baa2f" fill-opacity="0.92"/><circle cx="286.87" cy="893.01" r="2.35" fill="#7baa2f" fill-opacity="0.92"/><circle cx="273.31" cy="898.57" r="2.35" fill="#7baa2f" fill-opacity="0.92"/><circle cx="276.44" cy="909" r="2.35" fill="#7baa2f" fill-opacity="0.92"/><circle cx="279.57" cy="908.65" r="2.35" fill="#7baa2f" fill-opacity="0.92"/><circle cx="286" cy="907.78" r="2.35" fill="#7baa2f" fill-opacity="0.92"/><circle cx="287.74" cy="906.91" r="2.35" fill="#7baa2f" fill-opacity="0.92"/><circle cx="270.53" cy="919.08" r="2.35" fill="#7baa2f" fill-opacity="0.92"/><circle cx="286.35" cy="922.56" r="2.35" fill="#7baa2f" fill-opacity="0.92"/><circle cx="285.13" cy="924.29" r="2.35" fill="#7baa2f" fill-opacity="0.92"/><circle cx="281.31" cy="927.25" r="2.35" fill="#7baa2f" fill-opacity="0.92"/><circle cx="273.83" cy="930.38" r="2.35" fill="#7baa2f" fill-opacity="0.92"/><circle cx="276.44" cy="932.98" r="2.35" fill="#7baa2f" fill-opacity="0.92"/><circle cx="276.09" cy="936.11" r="2.35" fill="#7baa2f" fill-opacity="0.92"/><circle cx="281.65" cy="952.97" r="2.35" fill="#7baa2f" fill-opacity="0.92"/><circle cx="285.13" cy="952.1" r="2.35" fill="#7baa2f" fill-opacity="0.92"/><circle cx="272.96" cy="955.93" r="2.35" fill="#7baa2f" fill-opacity="0.92"/><circle cx="282.87" cy="964.27" r="2.35" fill="#7baa2f" fill-opacity="0.92"/><circle cx="270.18" cy="974.35" r="2.35" fill="#7baa2f" fill-opacity="0.92"/><circle cx="272.96" cy="978.18" r="2.35" fill="#7baa2f" fill-opacity="0.92"/><circle cx="274.7" cy="979.4" r="2.35" fill="#7baa2f" fill-opacity="0.92"/><circle cx="284.44" cy="979.4" r="2.35" fill="#7baa2f" fill-opacity="0.92"/><circle cx="281.65" cy="1001.82" r="2.35" fill="#7baa2f" fill-opacity="0.92"/><circle cx="276.44" cy="1005.12" r="2.35" fill="#7baa2f" fill-opacity="0.92"/><circle cx="285.13" cy="1011.73" r="2.35" fill="#7baa2f" fill-opacity="0.92"/><circle cx="272.09" cy="1042.14" r="2.35" fill="#7baa2f" fill-opacity="0.92"/><circle cx="270.36" cy="1048.05" r="2.35" fill="#7baa2f" fill-opacity="0.92"/><circle cx="270.7" cy="1049.79" r="2.35" fill="#7baa2f" fill-opacity="0.92"/><circle cx="287.22" cy="1084.56" r="2.35" fill="#7baa2f" fill-opacity="0.92"/>
<circle cx="399.51" cy="845.2" r="2.35" fill="#22b6c2" fill-opacity="0.92"/><circle cx="388.56" cy="860.67" r="2.35" fill="#22b6c2" fill-opacity="0.92"/><circle cx="403.68" cy="869.54" r="2.35" fill="#22b6c2" fill-opacity="0.92"/><circle cx="390.82" cy="876.14" r="2.35" fill="#22b6c2" fill-opacity="0.92"/><circle cx="392.9" cy="886.57" r="2.35" fill="#22b6c2" fill-opacity="0.92"/><circle cx="390.82" cy="888.66" r="2.35" fill="#22b6c2" fill-opacity="0.92"/><circle cx="389.42" cy="891.27" r="2.35" fill="#22b6c2" fill-opacity="0.92"/><circle cx="402.46" cy="894.4" r="2.35" fill="#22b6c2" fill-opacity="0.92"/><circle cx="394.29" cy="898.57" r="2.35" fill="#22b6c2" fill-opacity="0.92"/><circle cx="396.03" cy="903.96" r="2.35" fill="#22b6c2" fill-opacity="0.92"/><circle cx="392.03" cy="906.91" r="2.35" fill="#22b6c2" fill-opacity="0.92"/><circle cx="406.81" cy="907.26" r="2.35" fill="#22b6c2" fill-opacity="0.92"/><circle cx="388.56" cy="911.26" r="2.35" fill="#22b6c2" fill-opacity="0.92"/><circle cx="393.25" cy="910.39" r="2.35" fill="#22b6c2" fill-opacity="0.92"/><circle cx="401.59" cy="915.25" r="2.35" fill="#22b6c2" fill-opacity="0.92"/><circle cx="400.72" cy="920.12" r="2.35" fill="#22b6c2" fill-opacity="0.92"/><circle cx="394.99" cy="926.03" r="2.35" fill="#22b6c2" fill-opacity="0.92"/><circle cx="388.56" cy="927.77" r="2.35" fill="#22b6c2" fill-opacity="0.92"/><circle cx="399.85" cy="929.16" r="2.35" fill="#22b6c2" fill-opacity="0.92"/><circle cx="406.46" cy="927.77" r="2.35" fill="#22b6c2" fill-opacity="0.92"/><circle cx="391.16" cy="932.98" r="2.35" fill="#22b6c2" fill-opacity="0.92"/><circle cx="406.46" cy="934.72" r="2.35" fill="#22b6c2" fill-opacity="0.92"/><circle cx="403.68" cy="933.33" r="2.35" fill="#22b6c2" fill-opacity="0.92"/><circle cx="389.08" cy="938.2" r="2.35" fill="#22b6c2" fill-opacity="0.92"/><circle cx="400.55" cy="953.5" r="2.35" fill="#22b6c2" fill-opacity="0.92"/><circle cx="392.21" cy="974.01" r="2.35" fill="#22b6c2" fill-opacity="0.92"/><circle cx="398.46" cy="972.27" r="2.35" fill="#22b6c2" fill-opacity="0.92"/><circle cx="404.03" cy="979.92" r="2.35" fill="#22b6c2" fill-opacity="0.92"/><circle cx="398.12" cy="982.52" r="2.35" fill="#22b6c2" fill-opacity="0.92"/>
<line x1="183.3" y1="816.8" x2="255" y2="816.8" stroke="#666" stroke-width="1.3"/>
<text x="219.15" y="810.8" font-size="11.7" text-anchor="middle" fill="#333" stroke="#333" stroke-width="0.3">p = 7.9e-03</text>
<line x1="302.4" y1="816.8" x2="374.1" y2="816.8" stroke="#666" stroke-width="1.3"/>
<text x="338.25" y="810.8" font-size="11.7" text-anchor="middle" fill="#333" stroke="#333" stroke-width="0.3">p = 5.4e-03</text>
<text x="278.7" y="770" font-size="18" text-anchor="middle" font-weight="bold" fill="#111">CDK4</text>
<text x="57.2" y="958.4" font-size="16.8" text-anchor="middle" fill="#111" stroke="#111" stroke-width="0.3" transform="rotate(-90 57.2 958.4)">Abundance of protein</text>
<rect x="555.6" y="778.6" width="357" height="356.5" fill="none" stroke="#666" stroke-width="1.3"/>
<line x1="551.8" y1="798.6" x2="555.6" y2="798.6" stroke="#555" stroke-width="1.1"/>
<text x="549" y="803.6" font-size="14.2" text-anchor="end" fill="#111" stroke="#111" stroke-width="0.3">3</text>
<line x1="551.8" y1="862.9" x2="555.6" y2="862.9" stroke="#555" stroke-width="1.1"/>
<text x="549" y="867.9" font-size="14.2" text-anchor="end" fill="#111" stroke="#111" stroke-width="0.3">2</text>
<line x1="551.8" y1="927.2" x2="555.6" y2="927.2" stroke="#555" stroke-width="1.1"/>
<text x="549" y="932.2" font-size="14.2" text-anchor="end" fill="#111" stroke="#111" stroke-width="0.3">1</text>
<line x1="551.8" y1="991.5" x2="555.6" y2="991.5" stroke="#555" stroke-width="1.1"/>
<text x="549" y="996.5" font-size="14.2" text-anchor="end" fill="#111" stroke="#111" stroke-width="0.3">0</text>
<line x1="551.8" y1="1055.8" x2="555.6" y2="1055.8" stroke="#555" stroke-width="1.1"/>
<text x="549" y="1060.8" font-size="14.2" text-anchor="end" fill="#111" stroke="#111" stroke-width="0.3">-1</text>
<line x1="551.8" y1="1120.1" x2="555.6" y2="1120.1" stroke="#555" stroke-width="1.1"/>
<text x="549" y="1125.1" font-size="14.2" text-anchor="end" fill="#111" stroke="#111" stroke-width="0.3">-2</text>
<line x1="615" y1="1135.1" x2="615" y2="1138.7" stroke="#555" stroke-width="1.1"/>
<text x="615" y="1155.5" font-size="16.7" text-anchor="middle" fill="#111" stroke="#111" stroke-width="0.3">Metabolic</text>
<line x1="615" y1="837.82" x2="615" y2="903.41" stroke="#111" stroke-width="1.6" stroke-dasharray="5.5,2.6"/>
<line x1="615" y1="976.39" x2="615" y2="1062.87" stroke="#111" stroke-width="1.6" stroke-dasharray="5.5,2.6"/>
<line x1="596.6" y1="837.82" x2="633.4" y2="837.82" stroke="#222" stroke-width="1.5"/>
<line x1="596.6" y1="1062.87" x2="633.4" y2="1062.87" stroke="#222" stroke-width="1.5"/>
<rect x="578.8" y="903.41" width="72.4" height="72.98" fill="#f09a8e" stroke="#2b2b2b" stroke-width="1.4"/>
<line x1="733.8" y1="1135.1" x2="733.8" y2="1138.7" stroke="#555" stroke-width="1.1"/>
<text x="733.8" y="1155.5" font-size="16.7" text-anchor="middle" fill="#111" stroke="#111" stroke-width="0.3">Basal</text>
<line x1="733.8" y1="829.46" x2="733.8" y2="891.19" stroke="#111" stroke-width="1.6" stroke-dasharray="5.5,2.6"/>
<line x1="733.8" y1="950.99" x2="733.8" y2="995.68" stroke="#111" stroke-width="1.6" stroke-dasharray="5.5,2.6"/>
<line x1="715.4" y1="829.46" x2="752.2" y2="829.46" stroke="#222" stroke-width="1.5"/>
<line x1="715.4" y1="995.68" x2="752.2" y2="995.68" stroke="#222" stroke-width="1.5"/>
<rect x="697.6" y="891.19" width="72.4" height="59.8" fill="#94bb4a" stroke="#2b2b2b" stroke-width="1.4"/>
<line x1="852.8" y1="1135.1" x2="852.8" y2="1138.7" stroke="#555" stroke-width="1.1"/>
<text x="852.8" y="1155.5" font-size="16.7" text-anchor="middle" fill="#111" stroke="#111" stroke-width="0.3">Mesenchymal</text>
<line x1="852.8" y1="895.05" x2="852.8" y2="939.42" stroke="#111" stroke-width="1.6" stroke-dasharray="5.5,2.6"/>
<line x1="852.8" y1="997.67" x2="852.8" y2="1051.94" stroke="#111" stroke-width="1.6" stroke-dasharray="5.5,2.6"/>
<line x1="834.4" y1="895.05" x2="871.2" y2="895.05" stroke="#222" stroke-width="1.5"/>
<line x1="834.4" y1="1051.94" x2="871.2" y2="1051.94" stroke="#222" stroke-width="1.5"/>
<rect x="816.6" y="939.42" width="72.4" height="58.26" fill="#3cc4c7" stroke="#2b2b2b" stroke-width="1.4"/>
<line x1="577.8" y1="958.06" x2="652.2" y2="958.06" stroke="#000" stroke-width="3.6"/>
<line x1="696.6" y1="927.84" x2="771" y2="927.84" stroke="#000" stroke-width="3.6"/>
<line x1="815.6" y1="967.71" x2="890" y2="967.71" stroke="#000" stroke-width="3.6"/>
<circle cx="623.67" cy="837.73" r="2.35" fill="#e8806f" fill-opacity="0.92"/><circle cx="617.07" cy="874.75" r="2.35" fill="#e8806f" fill-opacity="0.92"/><circle cx="623.67" cy="882.92" r="2.35" fill="#e8806f" fill-opacity="0.92"/><circle cx="621.06" cy="885.7" r="2.35" fill="#e8806f" fill-opacity="0.92"/><circle cx="610.63" cy="886.57" r="2.35" fill="#e8806f" fill-opacity="0.92"/><circle cx="608.03" cy="894.4" r="2.35" fill="#e8806f" fill-opacity="0.92"/><circle cx="611.85" cy="899.61" r="2.35" fill="#e8806f" fill-opacity="0.92"/><circle cx="618.11" cy="899.61" r="2.35" fill="#e8806f" fill-opacity="0.92"/><circle cx="615.85" cy="902.57" r="2.35" fill="#e8806f" fill-opacity="0.92"/><circle cx="608.03" cy="910.74" r="2.35" fill="#e8806f" fill-opacity="0.92"/><circle cx="618.46" cy="909" r="2.35" fill="#e8806f" fill-opacity="0.92"/><circle cx="624.02" cy="911.78" r="2.35" fill="#e8806f" fill-opacity="0.92"/><circle cx="618.46" cy="915.43" r="2.35" fill="#e8806f" fill-opacity="0.92"/><circle cx="623.32" cy="934.72" r="2.35" fill="#e8806f" fill-opacity="0.92"/><circle cx="614.11" cy="940.81" r="2.35" fill="#e8806f" fill-opacity="0.92"/><circle cx="616.2" cy="953.5" r="2.35" fill="#e8806f" fill-opacity="0.92"/><circle cx="614.11" cy="958.19" r="2.35" fill="#e8806f" fill-opacity="0.92"/><circle cx="620.19" cy="960.8" r="2.35" fill="#e8806f" fill-opacity="0.92"/><circle cx="610.63" cy="965.66" r="2.35" fill="#e8806f" fill-opacity="0.92"/><circle cx="616.72" cy="966.36" r="2.35" fill="#e8806f" fill-opacity="0.92"/><circle cx="622.8" cy="966.01" r="2.35" fill="#e8806f" fill-opacity="0.92"/><circle cx="623.15" cy="968.62" r="2.35" fill="#e8806f" fill-opacity="0.92"/><circle cx="606.81" cy="972.96" r="2.35" fill="#e8806f" fill-opacity="0.92"/><circle cx="612.37" cy="974.35" r="2.35" fill="#e8806f" fill-opacity="0.92"/><circle cx="617.59" cy="974.35" r="2.35" fill="#e8806f" fill-opacity="0.92"/><circle cx="610.63" cy="976.44" r="2.35" fill="#e8806f" fill-opacity="0.92"/><circle cx="614.11" cy="982.7" r="2.35" fill="#e8806f" fill-opacity="0.92"/><circle cx="616.72" cy="989.65" r="2.35" fill="#e8806f" fill-opacity="0.92"/><circle cx="614.63" cy="992.08" r="2.35" fill="#e8806f" fill-opacity="0.92"/><circle cx="623.32" cy="1005.29" r="2.35" fill="#e8806f" fill-opacity="0.92"/><circle cx="621.58" cy="1018.16" r="2.35" fill="#e8806f" fill-opacity="0.92"/><circle cx="615.33" cy="1026.85" r="2.35" fill="#e8806f" fill-opacity="0.92"/><circle cx="621.06" cy="1063" r="2.35" fill="#e8806f" fill-opacity="0.92"/>
<circle cx="732.66" cy="829.56" r="2.35" fill="#7baa2f" fill-opacity="0.92"/><circle cx="733.18" cy="870.41" r="2.35" fill="#7baa2f" fill-opacity="0.92"/><circle cx="730.57" cy="874.75" r="2.35" fill="#7baa2f" fill-opacity="0.92"/><circle cx="737.87" cy="873.88" r="2.35" fill="#7baa2f" fill-opacity="0.92"/><circle cx="741.87" cy="875.62" r="2.35" fill="#7baa2f" fill-opacity="0.92"/><circle cx="729.35" cy="878.23" r="2.35" fill="#7baa2f" fill-opacity="0.92"/><circle cx="737.18" cy="880.49" r="2.35" fill="#7baa2f" fill-opacity="0.92"/><circle cx="739.61" cy="883.45" r="2.35" fill="#7baa2f" fill-opacity="0.92"/><circle cx="733.18" cy="889.53" r="2.35" fill="#7baa2f" fill-opacity="0.92"/><circle cx="729.7" cy="892.14" r="2.35" fill="#7baa2f" fill-opacity="0.92"/><circle cx="729.7" cy="895.96" r="2.35" fill="#7baa2f" fill-opacity="0.92"/><circle cx="731.44" cy="903.43" r="2.35" fill="#7baa2f" fill-opacity="0.92"/><circle cx="743.26" cy="902.39" r="2.35" fill="#7baa2f" fill-opacity="0.92"/><circle cx="738.39" cy="906.56" r="2.35" fill="#7baa2f" fill-opacity="0.92"/><circle cx="729.7" cy="919.08" r="2.35" fill="#7baa2f" fill-opacity="0.92"/><circle cx="726.23" cy="921.69" r="2.35" fill="#7baa2f" fill-opacity="0.92"/><circle cx="741" cy="922.56" r="2.35" fill="#7baa2f" fill-opacity="0.92"/><circle cx="732.31" cy="933.85" r="2.35" fill="#7baa2f" fill-opacity="0.92"/><circle cx="736.31" cy="934.72" r="2.35" fill="#7baa2f" fill-opacity="0.92"/><circle cx="730.92" cy="939.07" r="2.35" fill="#7baa2f" fill-opacity="0.92"/><circle cx="728.83" cy="942.54" r="2.35" fill="#7baa2f" fill-opacity="0.92"/><circle cx="734.57" cy="942.89" r="2.35" fill="#7baa2f" fill-opacity="0.92"/><circle cx="727.96" cy="946.54" r="2.35" fill="#7baa2f" fill-opacity="0.92"/><circle cx="731.09" cy="947.41" r="2.35" fill="#7baa2f" fill-opacity="0.92"/><circle cx="737.87" cy="947.24" r="2.35" fill="#7baa2f" fill-opacity="0.92"/><circle cx="725.88" cy="949.5" r="2.35" fill="#7baa2f" fill-opacity="0.92"/><circle cx="730.22" cy="956.45" r="2.35" fill="#7baa2f" fill-opacity="0.92"/><circle cx="739.26" cy="955.58" r="2.35" fill="#7baa2f" fill-opacity="0.92"/><circle cx="728.31" cy="965.14" r="2.35" fill="#7baa2f" fill-opacity="0.92"/><circle cx="734.92" cy="965.14" r="2.35" fill="#7baa2f" fill-opacity="0.92"/><circle cx="739.26" cy="967.4" r="2.35" fill="#7baa2f" fill-opacity="0.92"/><circle cx="728.83" cy="970.36" r="2.35" fill="#7baa2f" fill-opacity="0.92"/><circle cx="742.22" cy="983.05" r="2.35" fill="#7baa2f" fill-opacity="0.92"/><circle cx="732.83" cy="995.73" r="2.35" fill="#7baa2f" fill-opacity="0.92"/>
<circle cx="856.24" cy="851.64" r="2.35" fill="#22b6c2" fill-opacity="0.92"/><circle cx="849.12" cy="894.74" r="2.35" fill="#22b6c2" fill-opacity="0.92"/><circle cx="855.2" cy="901.18" r="2.35" fill="#22b6c2" fill-opacity="0.92"/><circle cx="852.77" cy="903.09" r="2.35" fill="#22b6c2" fill-opacity="0.92"/><circle cx="851.73" cy="911.6" r="2.35" fill="#22b6c2" fill-opacity="0.92"/><circle cx="847.9" cy="916.99" r="2.35" fill="#22b6c2" fill-opacity="0.92"/><circle cx="854.85" cy="927.77" r="2.35" fill="#22b6c2" fill-opacity="0.92"/><circle cx="856.07" cy="933.85" r="2.35" fill="#22b6c2" fill-opacity="0.92"/><circle cx="847.03" cy="939.94" r="2.35" fill="#22b6c2" fill-opacity="0.92"/><circle cx="849.64" cy="940.81" r="2.35" fill="#22b6c2" fill-opacity="0.92"/><circle cx="845.82" cy="952.45" r="2.35" fill="#22b6c2" fill-opacity="0.92"/><circle cx="857.11" cy="952.45" r="2.35" fill="#22b6c2" fill-opacity="0.92"/><circle cx="858.33" cy="954.71" r="2.35" fill="#22b6c2" fill-opacity="0.92"/><circle cx="844.42" cy="961.67" r="2.35" fill="#22b6c2" fill-opacity="0.92"/><circle cx="847.9" cy="967.75" r="2.35" fill="#22b6c2" fill-opacity="0.92"/><circle cx="858.68" cy="969.83" r="2.35" fill="#22b6c2" fill-opacity="0.92"/><circle cx="853.46" cy="971.57" r="2.35" fill="#22b6c2" fill-opacity="0.92"/><circle cx="850.86" cy="979.4" r="2.35" fill="#22b6c2" fill-opacity="0.92"/><circle cx="844.95" cy="988.96" r="2.35" fill="#22b6c2" fill-opacity="0.92"/><circle cx="843.56" cy="994.69" r="2.35" fill="#22b6c2" fill-opacity="0.92"/><circle cx="858.33" cy="994.69" r="2.35" fill="#22b6c2" fill-opacity="0.92"/><circle cx="853.98" cy="995.91" r="2.35" fill="#22b6c2" fill-opacity="0.92"/><circle cx="859.2" cy="997.3" r="2.35" fill="#22b6c2" fill-opacity="0.92"/><circle cx="842.69" cy="1002.17" r="2.35" fill="#22b6c2" fill-opacity="0.92"/><circle cx="845.47" cy="1002.17" r="2.35" fill="#22b6c2" fill-opacity="0.92"/><circle cx="857.64" cy="1003.38" r="2.35" fill="#22b6c2" fill-opacity="0.92"/><circle cx="861.46" cy="1002.51" r="2.35" fill="#22b6c2" fill-opacity="0.92"/><circle cx="847.9" cy="1017.81" r="2.35" fill="#22b6c2" fill-opacity="0.92"/><circle cx="854.85" cy="1033.45" r="2.35" fill="#22b6c2" fill-opacity="0.92"/><circle cx="860.07" cy="1052.05" r="2.35" fill="#22b6c2" fill-opacity="0.92"/><circle cx="848.77" cy="1084.56" r="2.35" fill="#22b6c2" fill-opacity="0.92"/>
<line x1="638.8" y1="816.9" x2="710.3" y2="816.9" stroke="#666" stroke-width="1.3"/>
<text x="674.55" y="810.9" font-size="11.7" text-anchor="middle" fill="#333" stroke="#333" stroke-width="0.3">p = 3.8e-02</text>
<line x1="757.6" y1="816.9" x2="829.4" y2="816.9" stroke="#666" stroke-width="1.3"/>
<text x="793.5" y="810.9" font-size="11.7" text-anchor="middle" fill="#333" stroke="#333" stroke-width="0.3">p = 8.7e-05</text>
<text x="734.7" y="770.5" font-size="18" text-anchor="middle" font-weight="bold" fill="#111">CDKN2C</text>
<text x="520.3" y="956.8" font-size="16.8" text-anchor="middle" fill="#111" stroke="#111" stroke-width="0.3" transform="rotate(-90 520.3 956.8)">Abundance of protein</text>
<rect x="1012.4" y="778.3" width="357.1" height="356.8" fill="none" stroke="#666" stroke-width="1.3"/>
<line x1="1008.6" y1="824.7" x2="1012.4" y2="824.7" stroke="#555" stroke-width="1.1"/>
<text x="1005.8" y="829.7" font-size="14.2" text-anchor="end" fill="#111" stroke="#111" stroke-width="0.3">0</text>
<line x1="1008.6" y1="897.15" x2="1012.4" y2="897.15" stroke="#555" stroke-width="1.1"/>
<text x="1005.8" y="902.15" font-size="14.2" text-anchor="end" fill="#111" stroke="#111" stroke-width="0.3">-1</text>
<line x1="1008.6" y1="969.6" x2="1012.4" y2="969.6" stroke="#555" stroke-width="1.1"/>
<text x="1005.8" y="974.6" font-size="14.2" text-anchor="end" fill="#111" stroke="#111" stroke-width="0.3">-2</text>
<line x1="1008.6" y1="1042.05" x2="1012.4" y2="1042.05" stroke="#555" stroke-width="1.1"/>
<text x="1005.8" y="1047.05" font-size="14.2" text-anchor="end" fill="#111" stroke="#111" stroke-width="0.3">-3</text>
<line x1="1008.6" y1="1114.5" x2="1012.4" y2="1114.5" stroke="#555" stroke-width="1.1"/>
<text x="1005.8" y="1119.5" font-size="14.2" text-anchor="end" fill="#111" stroke="#111" stroke-width="0.3">-4</text>
<line x1="1071.9" y1="1135.1" x2="1071.9" y2="1138.7" stroke="#555" stroke-width="1.1"/>
<text x="1071.9" y="1155.5" font-size="16.7" text-anchor="middle" fill="#111" stroke="#111" stroke-width="0.3">Metabolic</text>
<line x1="1071.9" y1="931.93" x2="1071.9" y2="973.22" stroke="#111" stroke-width="1.6" stroke-dasharray="5.5,2.6"/>
<line x1="1071.9" y1="1002.71" x2="1071.9" y2="1044.95" stroke="#111" stroke-width="1.6" stroke-dasharray="5.5,2.6"/>
<line x1="1053.5" y1="931.93" x2="1090.3" y2="931.93" stroke="#222" stroke-width="1.5"/>
<line x1="1053.5" y1="1044.95" x2="1090.3" y2="1044.95" stroke="#222" stroke-width="1.5"/>
<rect x="1035.7" y="973.22" width="72.4" height="29.49" fill="#f09a8e" stroke="#2b2b2b" stroke-width="1.4"/>
<line x1="1190.7" y1="1135.1" x2="1190.7" y2="1138.7" stroke="#555" stroke-width="1.1"/>
<text x="1190.7" y="1155.5" font-size="16.7" text-anchor="middle" fill="#111" stroke="#111" stroke-width="0.3">Basal</text>
<line x1="1190.7" y1="829.05" x2="1190.7" y2="897.87" stroke="#111" stroke-width="1.6" stroke-dasharray="5.5,2.6"/>
<line x1="1190.7" y1="956.56" x2="1190.7" y2="1008.72" stroke="#111" stroke-width="1.6" stroke-dasharray="5.5,2.6"/>
<line x1="1172.3" y1="829.05" x2="1209.1" y2="829.05" stroke="#222" stroke-width="1.5"/>
<line x1="1172.3" y1="1008.72" x2="1209.1" y2="1008.72" stroke="#222" stroke-width="1.5"/>
<rect x="1154.5" y="897.87" width="72.4" height="58.68" fill="#94bb4a" stroke="#2b2b2b" stroke-width="1.4"/>
<line x1="1309.4" y1="1135.1" x2="1309.4" y2="1138.7" stroke="#555" stroke-width="1.1"/>
<text x="1309.4" y="1155.5" font-size="16.7" text-anchor="middle" fill="#111" stroke="#111" stroke-width="0.3">Mesenchymal</text>
<line x1="1309.4" y1="915.26" x2="1309.4" y2="956.56" stroke="#111" stroke-width="1.6" stroke-dasharray="5.5,2.6"/>
<line x1="1309.4" y1="1002.71" x2="1309.4" y2="1047.85" stroke="#111" stroke-width="1.6" stroke-dasharray="5.5,2.6"/>
<line x1="1291" y1="915.26" x2="1327.8" y2="915.26" stroke="#222" stroke-width="1.5"/>
<line x1="1291" y1="1047.85" x2="1327.8" y2="1047.85" stroke="#222" stroke-width="1.5"/>
<rect x="1273.2" y="956.56" width="72.4" height="46.15" fill="#3cc4c7" stroke="#2b2b2b" stroke-width="1.4"/>
<line x1="1034.7" y1="986.99" x2="1109.1" y2="986.99" stroke="#000" stroke-width="3.6"/>
<line x1="1153.5" y1="930.48" x2="1227.9" y2="930.48" stroke="#000" stroke-width="3.6"/>
<line x1="1272.2" y1="988.44" x2="1346.6" y2="988.44" stroke="#000" stroke-width="3.6"/>
<circle cx="1076.58" cy="923.42" r="2.35" fill="#e8806f" fill-opacity="0.92"/><circle cx="1065.98" cy="932.12" r="2.35" fill="#e8806f" fill-opacity="0.92"/><circle cx="1075.54" cy="943.76" r="2.35" fill="#e8806f" fill-opacity="0.92"/><circle cx="1065.29" cy="954.36" r="2.35" fill="#e8806f" fill-opacity="0.92"/><circle cx="1064.24" cy="961.32" r="2.35" fill="#e8806f" fill-opacity="0.92"/><circle cx="1072.24" cy="961.32" r="2.35" fill="#e8806f" fill-opacity="0.92"/><circle cx="1063.03" cy="972.09" r="2.35" fill="#e8806f" fill-opacity="0.92"/><circle cx="1071.72" cy="972.62" r="2.35" fill="#e8806f" fill-opacity="0.92"/><circle cx="1078.67" cy="973.49" r="2.35" fill="#e8806f" fill-opacity="0.92"/><circle cx="1071.72" cy="978.18" r="2.35" fill="#e8806f" fill-opacity="0.92"/><circle cx="1079.54" cy="981.31" r="2.35" fill="#e8806f" fill-opacity="0.92"/><circle cx="1079.19" cy="983.39" r="2.35" fill="#e8806f" fill-opacity="0.92"/><circle cx="1065.98" cy="986" r="2.35" fill="#e8806f" fill-opacity="0.92"/><circle cx="1069.98" cy="984.26" r="2.35" fill="#e8806f" fill-opacity="0.92"/><circle cx="1080.41" cy="985.13" r="2.35" fill="#e8806f" fill-opacity="0.92"/><circle cx="1066.5" cy="988.61" r="2.35" fill="#e8806f" fill-opacity="0.92"/><circle cx="1071.37" cy="989.48" r="2.35" fill="#e8806f" fill-opacity="0.92"/><circle cx="1073.46" cy="991.74" r="2.35" fill="#e8806f" fill-opacity="0.92"/><circle cx="1063.9" cy="994.69" r="2.35" fill="#e8806f" fill-opacity="0.92"/><circle cx="1062.16" cy="996.43" r="2.35" fill="#e8806f" fill-opacity="0.92"/><circle cx="1075.19" cy="994.69" r="2.35" fill="#e8806f" fill-opacity="0.92"/><circle cx="1076.58" cy="995.56" r="2.35" fill="#e8806f" fill-opacity="0.92"/><circle cx="1077.8" cy="1000.78" r="2.35" fill="#e8806f" fill-opacity="0.92"/><circle cx="1068.24" cy="1002.51" r="2.35" fill="#e8806f" fill-opacity="0.92"/><circle cx="1076.58" cy="1004.25" r="2.35" fill="#e8806f" fill-opacity="0.92"/><circle cx="1075.54" cy="1005.64" r="2.35" fill="#e8806f" fill-opacity="0.92"/><circle cx="1079.54" cy="1008.08" r="2.35" fill="#e8806f" fill-opacity="0.92"/><circle cx="1073.8" cy="1041.62" r="2.35" fill="#e8806f" fill-opacity="0.92"/><circle cx="1073.8" cy="1045.1" r="2.35" fill="#e8806f" fill-opacity="0.92"/><circle cx="1080.06" cy="1068.57" r="2.35" fill="#e8806f" fill-opacity="0.92"/><circle cx="1072.93" cy="1075.52" r="2.35" fill="#e8806f" fill-opacity="0.92"/><circle cx="1064.76" cy="1084.56" r="2.35" fill="#e8806f" fill-opacity="0.92"/>
<circle cx="1187.83" cy="829.56" r="2.35" fill="#7baa2f" fill-opacity="0.92"/><circle cx="1181.23" cy="839.99" r="2.35" fill="#7baa2f" fill-opacity="0.92"/><circle cx="1192" cy="854.76" r="2.35" fill="#7baa2f" fill-opacity="0.92"/><circle cx="1186.44" cy="871.63" r="2.35" fill="#7baa2f" fill-opacity="0.92"/><circle cx="1191.65" cy="870.76" r="2.35" fill="#7baa2f" fill-opacity="0.92"/><circle cx="1182.62" cy="891.79" r="2.35" fill="#7baa2f" fill-opacity="0.92"/><circle cx="1193.39" cy="892.14" r="2.35" fill="#7baa2f" fill-opacity="0.92"/><circle cx="1194.26" cy="894.4" r="2.35" fill="#7baa2f" fill-opacity="0.92"/><circle cx="1199.48" cy="895.96" r="2.35" fill="#7baa2f" fill-opacity="0.92"/><circle cx="1190.79" cy="899.09" r="2.35" fill="#7baa2f" fill-opacity="0.92"/><circle cx="1190.79" cy="905.17" r="2.35" fill="#7baa2f" fill-opacity="0.92"/><circle cx="1191.31" cy="907.78" r="2.35" fill="#7baa2f" fill-opacity="0.92"/><circle cx="1196.52" cy="904.65" r="2.35" fill="#7baa2f" fill-opacity="0.92"/><circle cx="1198.26" cy="919.6" r="2.35" fill="#7baa2f" fill-opacity="0.92"/><circle cx="1182.96" cy="925.68" r="2.35" fill="#7baa2f" fill-opacity="0.92"/><circle cx="1196" cy="925.16" r="2.35" fill="#7baa2f" fill-opacity="0.92"/><circle cx="1197.74" cy="924.81" r="2.35" fill="#7baa2f" fill-opacity="0.92"/><circle cx="1191.31" cy="933.85" r="2.35" fill="#7baa2f" fill-opacity="0.92"/><circle cx="1182.09" cy="939.59" r="2.35" fill="#7baa2f" fill-opacity="0.92"/><circle cx="1197.22" cy="939.94" r="2.35" fill="#7baa2f" fill-opacity="0.92"/><circle cx="1182.96" cy="948.63" r="2.35" fill="#7baa2f" fill-opacity="0.92"/><circle cx="1186.09" cy="950.71" r="2.35" fill="#7baa2f" fill-opacity="0.92"/><circle cx="1193.74" cy="948.63" r="2.35" fill="#7baa2f" fill-opacity="0.92"/><circle cx="1191.31" cy="952.1" r="2.35" fill="#7baa2f" fill-opacity="0.92"/><circle cx="1197.74" cy="952.1" r="2.35" fill="#7baa2f" fill-opacity="0.92"/><circle cx="1183.83" cy="956.45" r="2.35" fill="#7baa2f" fill-opacity="0.92"/><circle cx="1191.31" cy="959.06" r="2.35" fill="#7baa2f" fill-opacity="0.92"/><circle cx="1185.05" cy="968.62" r="2.35" fill="#7baa2f" fill-opacity="0.92"/><circle cx="1194.78" cy="978.53" r="2.35" fill="#7baa2f" fill-opacity="0.92"/><circle cx="1196.52" cy="982" r="2.35" fill="#7baa2f" fill-opacity="0.92"/><circle cx="1194.26" cy="986" r="2.35" fill="#7baa2f" fill-opacity="0.92"/><circle cx="1193.74" cy="996.43" r="2.35" fill="#7baa2f" fill-opacity="0.92"/><circle cx="1188.53" cy="1004.25" r="2.35" fill="#7baa2f" fill-opacity="0.92"/><circle cx="1188.18" cy="1005.99" r="2.35" fill="#7baa2f" fill-opacity="0.92"/><circle cx="1198.09" cy="1008.6" r="2.35" fill="#7baa2f" fill-opacity="0.92"/>
<circle cx="1304.64" cy="878.75" r="2.35" fill="#22b6c2" fill-opacity="0.92"/><circle cx="1303.77" cy="917.69" r="2.35" fill="#22b6c2" fill-opacity="0.92"/><circle cx="1310.72" cy="917.69" r="2.35" fill="#22b6c2" fill-opacity="0.92"/><circle cx="1317.15" cy="915.78" r="2.35" fill="#22b6c2" fill-opacity="0.92"/><circle cx="1306.38" cy="940.81" r="2.35" fill="#22b6c2" fill-opacity="0.92"/><circle cx="1302.03" cy="951.24" r="2.35" fill="#22b6c2" fill-opacity="0.92"/><circle cx="1308.46" cy="953.15" r="2.35" fill="#22b6c2" fill-opacity="0.92"/><circle cx="1311.59" cy="954.71" r="2.35" fill="#22b6c2" fill-opacity="0.92"/><circle cx="1314.72" cy="956.45" r="2.35" fill="#22b6c2" fill-opacity="0.92"/><circle cx="1317.68" cy="970.36" r="2.35" fill="#22b6c2" fill-opacity="0.92"/><circle cx="1318.55" cy="977.83" r="2.35" fill="#22b6c2" fill-opacity="0.92"/><circle cx="1304.64" cy="979.05" r="2.35" fill="#22b6c2" fill-opacity="0.92"/><circle cx="1310.72" cy="981.65" r="2.35" fill="#22b6c2" fill-opacity="0.92"/><circle cx="1312.98" cy="983.39" r="2.35" fill="#22b6c2" fill-opacity="0.92"/><circle cx="1301.16" cy="990" r="2.35" fill="#22b6c2" fill-opacity="0.92"/><circle cx="1312.46" cy="988.61" r="2.35" fill="#22b6c2" fill-opacity="0.92"/><circle cx="1307.25" cy="993.82" r="2.35" fill="#22b6c2" fill-opacity="0.92"/><circle cx="1309.85" cy="994.34" r="2.35" fill="#22b6c2" fill-opacity="0.92"/><circle cx="1314.2" cy="995.56" r="2.35" fill="#22b6c2" fill-opacity="0.92"/><circle cx="1305.51" cy="997.3" r="2.35" fill="#22b6c2" fill-opacity="0.92"/><circle cx="1308.12" cy="1001.64" r="2.35" fill="#22b6c2" fill-opacity="0.92"/><circle cx="1302.9" cy="1003.38" r="2.35" fill="#22b6c2" fill-opacity="0.92"/><circle cx="1300.82" cy="1006.86" r="2.35" fill="#22b6c2" fill-opacity="0.92"/><circle cx="1313.68" cy="1010.68" r="2.35" fill="#22b6c2" fill-opacity="0.92"/><circle cx="1300.29" cy="1016.59" r="2.35" fill="#22b6c2" fill-opacity="0.92"/><circle cx="1308.98" cy="1036.58" r="2.35" fill="#22b6c2" fill-opacity="0.92"/><circle cx="1301.16" cy="1047.36" r="2.35" fill="#22b6c2" fill-opacity="0.92"/><circle cx="1303.77" cy="1048.05" r="2.35" fill="#22b6c2" fill-opacity="0.92"/><circle cx="1317.68" cy="1084.56" r="2.35" fill="#22b6c2" fill-opacity="0.92"/>
<line x1="1095.7" y1="816.9" x2="1167.2" y2="816.9" stroke="#666" stroke-width="1.3"/>
<text x="1131.45" y="810.9" font-size="11.7" text-anchor="middle" fill="#333" stroke="#333" stroke-width="0.3">p = 4.2e-08</text>
<line x1="1214.4" y1="816.9" x2="1286.2" y2="816.9" stroke="#666" stroke-width="1.3"/>
<text x="1250.3" y="810.9" font-size="11.7" text-anchor="middle" fill="#333" stroke="#333" stroke-width="0.3">p = 3.7e-06</text>
<text x="1191.2" y="770.5" font-size="18" text-anchor="middle" font-weight="bold" fill="#111">E2F4</text>
<text x="972.1" y="956.8" font-size="16.8" text-anchor="middle" fill="#111" stroke="#111" stroke-width="0.3" transform="rotate(-90 972.1 956.8)">Abundance of protein</text>
<rect x="98.7" y="1224.7" width="356.7" height="356.4" fill="none" stroke="#666" stroke-width="1.3"/>
<line x1="94.9" y1="1256.4" x2="98.7" y2="1256.4" stroke="#555" stroke-width="1.1"/>
<text x="92.1" y="1261.4" font-size="14.2" text-anchor="end" fill="#111" stroke="#111" stroke-width="0.3">2</text>
<line x1="94.9" y1="1326.85" x2="98.7" y2="1326.85" stroke="#555" stroke-width="1.1"/>
<text x="92.1" y="1331.85" font-size="14.2" text-anchor="end" fill="#111" stroke="#111" stroke-width="0.3">1</text>
<line x1="94.9" y1="1397.3" x2="98.7" y2="1397.3" stroke="#555" stroke-width="1.1"/>
<text x="92.1" y="1402.3" font-size="14.2" text-anchor="end" fill="#111" stroke="#111" stroke-width="0.3">0</text>
<line x1="94.9" y1="1467.75" x2="98.7" y2="1467.75" stroke="#555" stroke-width="1.1"/>
<text x="92.1" y="1472.75" font-size="14.2" text-anchor="end" fill="#111" stroke="#111" stroke-width="0.3">-1</text>
<line x1="94.9" y1="1538.2" x2="98.7" y2="1538.2" stroke="#555" stroke-width="1.1"/>
<text x="92.1" y="1543.2" font-size="14.2" text-anchor="end" fill="#111" stroke="#111" stroke-width="0.3">-2</text>
<line x1="158.1" y1="1581.1" x2="158.1" y2="1584.7" stroke="#555" stroke-width="1.1"/>
<text x="158.1" y="1605.4" font-size="16.7" text-anchor="middle" fill="#111" stroke="#111" stroke-width="0.3">Metabolic</text>
<line x1="158.1" y1="1324.74" x2="158.1" y2="1358.2" stroke="#111" stroke-width="1.6" stroke-dasharray="5.5,2.6"/>
<line x1="158.1" y1="1387.08" x2="158.1" y2="1416.32" stroke="#111" stroke-width="1.6" stroke-dasharray="5.5,2.6"/>
<line x1="139.7" y1="1324.74" x2="176.5" y2="1324.74" stroke="#222" stroke-width="1.5"/>
<line x1="139.7" y1="1416.32" x2="176.5" y2="1416.32" stroke="#222" stroke-width="1.5"/>
<rect x="121.9" y="1358.2" width="72.4" height="28.88" fill="#f09a8e" stroke="#2b2b2b" stroke-width="1.4"/>
<line x1="276.9" y1="1581.1" x2="276.9" y2="1584.7" stroke="#555" stroke-width="1.1"/>
<text x="276.9" y="1605.4" font-size="16.7" text-anchor="middle" fill="#111" stroke="#111" stroke-width="0.3">Basal</text>
<line x1="276.9" y1="1327.2" x2="276.9" y2="1370.18" stroke="#111" stroke-width="1.6" stroke-dasharray="5.5,2.6"/>
<line x1="276.9" y1="1419.84" x2="276.9" y2="1455.07" stroke="#111" stroke-width="1.6" stroke-dasharray="5.5,2.6"/>
<line x1="258.5" y1="1327.2" x2="295.3" y2="1327.2" stroke="#222" stroke-width="1.5"/>
<line x1="258.5" y1="1455.07" x2="295.3" y2="1455.07" stroke="#222" stroke-width="1.5"/>
<rect x="240.7" y="1370.18" width="72.4" height="49.67" fill="#94bb4a" stroke="#2b2b2b" stroke-width="1.4"/>
<line x1="395.7" y1="1581.1" x2="395.7" y2="1584.7" stroke="#555" stroke-width="1.1"/>
<text x="395.7" y="1605.4" font-size="16.7" text-anchor="middle" fill="#111" stroke="#111" stroke-width="0.3">Mesenchymal</text>
<line x1="395.7" y1="1341.64" x2="395.7" y2="1377.71" stroke="#111" stroke-width="1.6" stroke-dasharray="5.5,2.6"/>
<line x1="395.7" y1="1415.97" x2="395.7" y2="1436.05" stroke="#111" stroke-width="1.6" stroke-dasharray="5.5,2.6"/>
<line x1="377.3" y1="1341.64" x2="414.1" y2="1341.64" stroke="#222" stroke-width="1.5"/>
<line x1="377.3" y1="1436.05" x2="414.1" y2="1436.05" stroke="#222" stroke-width="1.5"/>
<rect x="359.5" y="1377.71" width="72.4" height="38.25" fill="#3cc4c7" stroke="#2b2b2b" stroke-width="1.4"/>
<line x1="120.9" y1="1371.23" x2="195.3" y2="1371.23" stroke="#000" stroke-width="3.6"/>
<line x1="239.7" y1="1387.08" x2="314.1" y2="1387.08" stroke="#000" stroke-width="3.6"/>
<line x1="358.5" y1="1396.6" x2="432.9" y2="1396.6" stroke="#000" stroke-width="3.6"/>
<circle cx="152.15" cy="1303.57" r="2.35" fill="#e8806f" fill-opacity="0.92"/><circle cx="155.72" cy="1310.88" r="2.35" fill="#e8806f" fill-opacity="0.92"/><circle cx="164.97" cy="1324.35" r="2.35" fill="#e8806f" fill-opacity="0.92"/><circle cx="153.61" cy="1341.89" r="2.35" fill="#e8806f" fill-opacity="0.92"/><circle cx="158.97" cy="1341.73" r="2.35" fill="#e8806f" fill-opacity="0.92"/><circle cx="166.27" cy="1340.92" r="2.35" fill="#e8806f" fill-opacity="0.92"/><circle cx="156.53" cy="1348.71" r="2.35" fill="#e8806f" fill-opacity="0.92"/><circle cx="167.41" cy="1354.55" r="2.35" fill="#e8806f" fill-opacity="0.92"/><circle cx="151.66" cy="1358.13" r="2.35" fill="#e8806f" fill-opacity="0.92"/><circle cx="159.45" cy="1358.78" r="2.35" fill="#e8806f" fill-opacity="0.92"/><circle cx="166.76" cy="1362.02" r="2.35" fill="#e8806f" fill-opacity="0.92"/><circle cx="152.15" cy="1364.95" r="2.35" fill="#e8806f" fill-opacity="0.92"/><circle cx="158.16" cy="1366.57" r="2.35" fill="#e8806f" fill-opacity="0.92"/><circle cx="163.03" cy="1367.38" r="2.35" fill="#e8806f" fill-opacity="0.92"/><circle cx="150.85" cy="1371.44" r="2.35" fill="#e8806f" fill-opacity="0.92"/><circle cx="162.54" cy="1371.44" r="2.35" fill="#e8806f" fill-opacity="0.92"/><circle cx="154.91" cy="1375.01" r="2.35" fill="#e8806f" fill-opacity="0.92"/><circle cx="156.04" cy="1379.56" r="2.35" fill="#e8806f" fill-opacity="0.92"/><circle cx="167.09" cy="1378.75" r="2.35" fill="#e8806f" fill-opacity="0.92"/><circle cx="148.9" cy="1381.99" r="2.35" fill="#e8806f" fill-opacity="0.92"/><circle cx="152.47" cy="1383.62" r="2.35" fill="#e8806f" fill-opacity="0.92"/><circle cx="165.95" cy="1383.62" r="2.35" fill="#e8806f" fill-opacity="0.92"/><circle cx="150.04" cy="1386.86" r="2.35" fill="#e8806f" fill-opacity="0.92"/><circle cx="152.47" cy="1390.11" r="2.35" fill="#e8806f" fill-opacity="0.92"/><circle cx="167.41" cy="1388.49" r="2.35" fill="#e8806f" fill-opacity="0.92"/><circle cx="155.72" cy="1393.85" r="2.35" fill="#e8806f" fill-opacity="0.92"/><circle cx="158.16" cy="1399.85" r="2.35" fill="#e8806f" fill-opacity="0.92"/><circle cx="164.65" cy="1410.08" r="2.35" fill="#e8806f" fill-opacity="0.92"/><circle cx="164.16" cy="1416.58" r="2.35" fill="#e8806f" fill-opacity="0.92"/><circle cx="148.9" cy="1456.19" r="2.35" fill="#e8806f" fill-opacity="0.92"/>
<circle cx="282.36" cy="1327.28" r="2.35" fill="#7baa2f" fill-opacity="0.92"/><circle cx="285.94" cy="1338.48" r="2.35" fill="#7baa2f" fill-opacity="0.92"/><circle cx="274.25" cy="1347.9" r="2.35" fill="#7baa2f" fill-opacity="0.92"/><circle cx="279.6" cy="1351.31" r="2.35" fill="#7baa2f" fill-opacity="0.92"/><circle cx="278.3" cy="1358.45" r="2.35" fill="#7baa2f" fill-opacity="0.92"/><circle cx="283.18" cy="1361.21" r="2.35" fill="#7baa2f" fill-opacity="0.92"/><circle cx="279.93" cy="1366.24" r="2.35" fill="#7baa2f" fill-opacity="0.92"/><circle cx="272.62" cy="1367.87" r="2.35" fill="#7baa2f" fill-opacity="0.92"/><circle cx="278.3" cy="1371.44" r="2.35" fill="#7baa2f" fill-opacity="0.92"/><circle cx="268.56" cy="1372.25" r="2.35" fill="#7baa2f" fill-opacity="0.92"/><circle cx="275.06" cy="1374.36" r="2.35" fill="#7baa2f" fill-opacity="0.92"/><circle cx="270.67" cy="1376.31" r="2.35" fill="#7baa2f" fill-opacity="0.92"/><circle cx="279.93" cy="1376.31" r="2.35" fill="#7baa2f" fill-opacity="0.92"/><circle cx="268.56" cy="1381.18" r="2.35" fill="#7baa2f" fill-opacity="0.92"/><circle cx="270.19" cy="1393.52" r="2.35" fill="#7baa2f" fill-opacity="0.92"/><circle cx="280.42" cy="1394.5" r="2.35" fill="#7baa2f" fill-opacity="0.92"/><circle cx="275.87" cy="1398.55" r="2.35" fill="#7baa2f" fill-opacity="0.92"/><circle cx="283.18" cy="1399.85" r="2.35" fill="#7baa2f" fill-opacity="0.92"/><circle cx="267.75" cy="1402.29" r="2.35" fill="#7baa2f" fill-opacity="0.92"/><circle cx="274.73" cy="1407.97" r="2.35" fill="#7baa2f" fill-opacity="0.92"/><circle cx="285.94" cy="1410.08" r="2.35" fill="#7baa2f" fill-opacity="0.92"/><circle cx="269.37" cy="1412.03" r="2.35" fill="#7baa2f" fill-opacity="0.92"/><circle cx="271" cy="1418.2" r="2.35" fill="#7baa2f" fill-opacity="0.92"/><circle cx="274.25" cy="1424.7" r="2.35" fill="#7baa2f" fill-opacity="0.92"/><circle cx="272.62" cy="1426.64" r="2.35" fill="#7baa2f" fill-opacity="0.92"/><circle cx="271" cy="1429.08" r="2.35" fill="#7baa2f" fill-opacity="0.92"/><circle cx="277.17" cy="1429.57" r="2.35" fill="#7baa2f" fill-opacity="0.92"/><circle cx="280.74" cy="1427.46" r="2.35" fill="#7baa2f" fill-opacity="0.92"/><circle cx="284.31" cy="1431.84" r="2.35" fill="#7baa2f" fill-opacity="0.92"/><circle cx="269.7" cy="1445.48" r="2.35" fill="#7baa2f" fill-opacity="0.92"/><circle cx="268.56" cy="1455.54" r="2.35" fill="#7baa2f" fill-opacity="0.92"/>
<circle cx="388.71" cy="1341.57" r="2.35" fill="#22b6c2" fill-opacity="0.92"/><circle cx="391.15" cy="1342.54" r="2.35" fill="#22b6c2" fill-opacity="0.92"/><circle cx="386.28" cy="1346.6" r="2.35" fill="#22b6c2" fill-opacity="0.92"/><circle cx="390.66" cy="1357.64" r="2.35" fill="#22b6c2" fill-opacity="0.92"/><circle cx="398.78" cy="1362.51" r="2.35" fill="#22b6c2" fill-opacity="0.92"/><circle cx="395.21" cy="1368.19" r="2.35" fill="#22b6c2" fill-opacity="0.92"/><circle cx="386.28" cy="1373.06" r="2.35" fill="#22b6c2" fill-opacity="0.92"/><circle cx="396.02" cy="1375.01" r="2.35" fill="#22b6c2" fill-opacity="0.92"/><circle cx="387.09" cy="1377.93" r="2.35" fill="#22b6c2" fill-opacity="0.92"/><circle cx="394.4" cy="1384.43" r="2.35" fill="#22b6c2" fill-opacity="0.92"/><circle cx="390.34" cy="1388.98" r="2.35" fill="#22b6c2" fill-opacity="0.92"/><circle cx="394.4" cy="1390.92" r="2.35" fill="#22b6c2" fill-opacity="0.92"/><circle cx="397.64" cy="1392.55" r="2.35" fill="#22b6c2" fill-opacity="0.92"/><circle cx="396.02" cy="1396.61" r="2.35" fill="#22b6c2" fill-opacity="0.92"/><circle cx="402.51" cy="1397.42" r="2.35" fill="#22b6c2" fill-opacity="0.92"/><circle cx="404.14" cy="1398.23" r="2.35" fill="#22b6c2" fill-opacity="0.92"/><circle cx="392.45" cy="1401.48" r="2.35" fill="#22b6c2" fill-opacity="0.92"/><circle cx="399.59" cy="1406.35" r="2.35" fill="#22b6c2" fill-opacity="0.92"/><circle cx="389.52" cy="1412.03" r="2.35" fill="#22b6c2" fill-opacity="0.92"/><circle cx="394.4" cy="1412.03" r="2.35" fill="#22b6c2" fill-opacity="0.92"/><circle cx="400.89" cy="1416.09" r="2.35" fill="#22b6c2" fill-opacity="0.92"/><circle cx="393.1" cy="1418.53" r="2.35" fill="#22b6c2" fill-opacity="0.92"/><circle cx="393.58" cy="1421.45" r="2.35" fill="#22b6c2" fill-opacity="0.92"/><circle cx="387.9" cy="1424.21" r="2.35" fill="#22b6c2" fill-opacity="0.92"/><circle cx="392.77" cy="1426.64" r="2.35" fill="#22b6c2" fill-opacity="0.92"/><circle cx="386.76" cy="1429.08" r="2.35" fill="#22b6c2" fill-opacity="0.92"/><circle cx="394.4" cy="1435.57" r="2.35" fill="#22b6c2" fill-opacity="0.92"/><circle cx="398.45" cy="1501.82" r="2.35" fill="#22b6c2" fill-opacity="0.92"/>
<line x1="191.8" y1="1261.1" x2="352.1" y2="1261.1" stroke="#111" stroke-width="1.3"/>
<text x="271.95" y="1255.1" font-size="11.7" text-anchor="middle" fill="#333" stroke="#333" stroke-width="0.3">p = 1.3e-03</text>
<line x1="181.9" y1="1294" x2="253.6" y2="1294" stroke="#666" stroke-width="1.3"/>
<text x="217.75" y="1288" font-size="11.7" text-anchor="middle" fill="#333" stroke="#333" stroke-width="0.3">p = 9.1e-03</text>
<text x="276.9" y="1215.6" font-size="18" text-anchor="middle" font-weight="bold" fill="#111">PCNA</text>
<text x="60.6" y="1404" font-size="16.8" text-anchor="middle" fill="#111" stroke="#111" stroke-width="0.3" transform="rotate(-90 60.6 1404)">Abundance of protein</text>
<rect x="555.5" y="1224.7" width="356.9" height="356.4" fill="none" stroke="#666" stroke-width="1.3"/>
<line x1="551.7" y1="1285.4" x2="555.5" y2="1285.4" stroke="#555" stroke-width="1.1"/>
<text x="548.9" y="1290.4" font-size="14.2" text-anchor="end" fill="#111" stroke="#111" stroke-width="0.3">0</text>
<line x1="551.7" y1="1353.4" x2="555.5" y2="1353.4" stroke="#555" stroke-width="1.1"/>
<text x="548.9" y="1358.4" font-size="14.2" text-anchor="end" fill="#111" stroke="#111" stroke-width="0.3">-2</text>
<line x1="551.7" y1="1421.4" x2="555.5" y2="1421.4" stroke="#555" stroke-width="1.1"/>
<text x="548.9" y="1426.4" font-size="14.2" text-anchor="end" fill="#111" stroke="#111" stroke-width="0.3">-4</text>
<line x1="551.7" y1="1489.4" x2="555.5" y2="1489.4" stroke="#555" stroke-width="1.1"/>
<text x="548.9" y="1494.4" font-size="14.2" text-anchor="end" fill="#111" stroke="#111" stroke-width="0.3">-6</text>
<line x1="551.7" y1="1557.4" x2="555.5" y2="1557.4" stroke="#555" stroke-width="1.1"/>
<text x="548.9" y="1562.4" font-size="14.2" text-anchor="end" fill="#111" stroke="#111" stroke-width="0.3">-8</text>
<line x1="615.2" y1="1581.1" x2="615.2" y2="1584.7" stroke="#555" stroke-width="1.1"/>
<text x="615.2" y="1605.4" font-size="16.7" text-anchor="middle" fill="#111" stroke="#111" stroke-width="0.3">Metabolic</text>
<line x1="615.2" y1="1303.59" x2="615.2" y2="1328.58" stroke="#111" stroke-width="1.6" stroke-dasharray="5.5,2.6"/>
<line x1="615.2" y1="1352.72" x2="615.2" y2="1375.16" stroke="#111" stroke-width="1.6" stroke-dasharray="5.5,2.6"/>
<line x1="596.8" y1="1303.59" x2="633.6" y2="1303.59" stroke="#222" stroke-width="1.5"/>
<line x1="596.8" y1="1375.16" x2="633.6" y2="1375.16" stroke="#222" stroke-width="1.5"/>
<rect x="579" y="1328.58" width="72.4" height="24.14" fill="#f09a8e" stroke="#2b2b2b" stroke-width="1.4"/>
<line x1="734" y1="1581.1" x2="734" y2="1584.7" stroke="#555" stroke-width="1.1"/>
<text x="734" y="1605.4" font-size="16.7" text-anchor="middle" fill="#111" stroke="#111" stroke-width="0.3">Basal</text>
<line x1="734" y1="1341.16" x2="734" y2="1356.46" stroke="#111" stroke-width="1.6" stroke-dasharray="5.5,2.6"/>
<line x1="734" y1="1368.36" x2="734" y2="1382.64" stroke="#111" stroke-width="1.6" stroke-dasharray="5.5,2.6"/>
<line x1="715.6" y1="1341.16" x2="752.4" y2="1341.16" stroke="#222" stroke-width="1.5"/>
<line x1="715.6" y1="1382.64" x2="752.4" y2="1382.64" stroke="#222" stroke-width="1.5"/>
<rect x="697.8" y="1356.46" width="72.4" height="11.9" fill="#94bb4a" stroke="#2b2b2b" stroke-width="1.4"/>
<line x1="852.8" y1="1581.1" x2="852.8" y2="1584.7" stroke="#555" stroke-width="1.1"/>
<text x="852.8" y="1605.4" font-size="16.7" text-anchor="middle" fill="#111" stroke="#111" stroke-width="0.3">Mesenchymal</text>
<line x1="852.8" y1="1331.98" x2="852.8" y2="1343.54" stroke="#111" stroke-width="1.6" stroke-dasharray="5.5,2.6"/>
<line x1="852.8" y1="1357.48" x2="852.8" y2="1362.58" stroke="#111" stroke-width="1.6" stroke-dasharray="5.5,2.6"/>
<line x1="834.4" y1="1331.98" x2="871.2" y2="1331.98" stroke="#222" stroke-width="1.5"/>
<line x1="834.4" y1="1362.58" x2="871.2" y2="1362.58" stroke="#222" stroke-width="1.5"/>
<rect x="816.6" y="1343.54" width="72.4" height="13.94" fill="#3cc4c7" stroke="#2b2b2b" stroke-width="1.4"/>
<line x1="578" y1="1337.08" x2="652.4" y2="1337.08" stroke="#000" stroke-width="3.6"/>
<line x1="696.8" y1="1362.24" x2="771.2" y2="1362.24" stroke="#000" stroke-width="3.6"/>
<line x1="815.6" y1="1353.06" x2="890" y2="1353.06" stroke="#000" stroke-width="3.6"/>
<circle cx="612.34" cy="1303.8" r="2.35" fill="#e8806f" fill-opacity="0.92"/><circle cx="623.38" cy="1304.13" r="2.35" fill="#e8806f" fill-opacity="0.92"/><circle cx="615.59" cy="1315.98" r="2.35" fill="#e8806f" fill-opacity="0.92"/><circle cx="616.4" cy="1317.93" r="2.35" fill="#e8806f" fill-opacity="0.92"/><circle cx="606.66" cy="1321.17" r="2.35" fill="#e8806f" fill-opacity="0.92"/><circle cx="609.1" cy="1322.47" r="2.35" fill="#e8806f" fill-opacity="0.92"/><circle cx="613.97" cy="1324.91" r="2.35" fill="#e8806f" fill-opacity="0.92"/><circle cx="612.34" cy="1327.67" r="2.35" fill="#e8806f" fill-opacity="0.92"/><circle cx="612.02" cy="1329.78" r="2.35" fill="#e8806f" fill-opacity="0.92"/><circle cx="623.71" cy="1328.97" r="2.35" fill="#e8806f" fill-opacity="0.92"/><circle cx="606.66" cy="1333.03" r="2.35" fill="#e8806f" fill-opacity="0.92"/><circle cx="609.1" cy="1334.65" r="2.35" fill="#e8806f" fill-opacity="0.92"/><circle cx="615.59" cy="1334.65" r="2.35" fill="#e8806f" fill-opacity="0.92"/><circle cx="611.53" cy="1337.09" r="2.35" fill="#e8806f" fill-opacity="0.92"/><circle cx="613.97" cy="1338.71" r="2.35" fill="#e8806f" fill-opacity="0.92"/><circle cx="618.03" cy="1338.71" r="2.35" fill="#e8806f" fill-opacity="0.92"/><circle cx="613.16" cy="1341.63" r="2.35" fill="#e8806f" fill-opacity="0.92"/><circle cx="620.46" cy="1342.77" r="2.35" fill="#e8806f" fill-opacity="0.92"/><circle cx="623.71" cy="1345.2" r="2.35" fill="#e8806f" fill-opacity="0.92"/><circle cx="608.28" cy="1348.45" r="2.35" fill="#e8806f" fill-opacity="0.92"/><circle cx="605.85" cy="1351.7" r="2.35" fill="#e8806f" fill-opacity="0.92"/><circle cx="613.16" cy="1352.51" r="2.35" fill="#e8806f" fill-opacity="0.92"/><circle cx="614.78" cy="1354.95" r="2.35" fill="#e8806f" fill-opacity="0.92"/><circle cx="618.84" cy="1356.24" r="2.35" fill="#e8806f" fill-opacity="0.92"/><circle cx="622.9" cy="1359" r="2.35" fill="#e8806f" fill-opacity="0.92"/><circle cx="622.09" cy="1361.12" r="2.35" fill="#e8806f" fill-opacity="0.92"/><circle cx="608.28" cy="1361.44" r="2.35" fill="#e8806f" fill-opacity="0.92"/><circle cx="608.28" cy="1363.39" r="2.35" fill="#e8806f" fill-opacity="0.92"/><circle cx="605.85" cy="1374.92" r="2.35" fill="#e8806f" fill-opacity="0.92"/>
<circle cx="731.36" cy="1341.14" r="2.35" fill="#7baa2f" fill-opacity="0.92"/><circle cx="728.76" cy="1347.64" r="2.35" fill="#7baa2f" fill-opacity="0.92"/><circle cx="734.93" cy="1350.4" r="2.35" fill="#7baa2f" fill-opacity="0.92"/><circle cx="725.19" cy="1352.51" r="2.35" fill="#7baa2f" fill-opacity="0.92"/><circle cx="727.62" cy="1352.51" r="2.35" fill="#7baa2f" fill-opacity="0.92"/><circle cx="726.81" cy="1354.95" r="2.35" fill="#7baa2f" fill-opacity="0.92"/><circle cx="725.67" cy="1356.57" r="2.35" fill="#7baa2f" fill-opacity="0.92"/><circle cx="728.43" cy="1357.38" r="2.35" fill="#7baa2f" fill-opacity="0.92"/><circle cx="737.36" cy="1355.76" r="2.35" fill="#7baa2f" fill-opacity="0.92"/><circle cx="743.86" cy="1357.38" r="2.35" fill="#7baa2f" fill-opacity="0.92"/><circle cx="730.87" cy="1359" r="2.35" fill="#7baa2f" fill-opacity="0.92"/><circle cx="733.3" cy="1360.63" r="2.35" fill="#7baa2f" fill-opacity="0.92"/><circle cx="735.74" cy="1361.44" r="2.35" fill="#7baa2f" fill-opacity="0.92"/><circle cx="730.87" cy="1363.06" r="2.35" fill="#7baa2f" fill-opacity="0.92"/><circle cx="728.43" cy="1364.69" r="2.35" fill="#7baa2f" fill-opacity="0.92"/><circle cx="737.36" cy="1363.88" r="2.35" fill="#7baa2f" fill-opacity="0.92"/><circle cx="742.23" cy="1365.01" r="2.35" fill="#7baa2f" fill-opacity="0.92"/><circle cx="725.19" cy="1367.12" r="2.35" fill="#7baa2f" fill-opacity="0.92"/><circle cx="727.62" cy="1369.23" r="2.35" fill="#7baa2f" fill-opacity="0.92"/><circle cx="730.06" cy="1367.93" r="2.35" fill="#7baa2f" fill-opacity="0.92"/><circle cx="743.37" cy="1371.99" r="2.35" fill="#7baa2f" fill-opacity="0.92"/><circle cx="728.43" cy="1379.3" r="2.35" fill="#7baa2f" fill-opacity="0.92"/><circle cx="730.06" cy="1382.87" r="2.35" fill="#7baa2f" fill-opacity="0.92"/><circle cx="735.25" cy="1386.77" r="2.35" fill="#7baa2f" fill-opacity="0.92"/><circle cx="732.17" cy="1404.47" r="2.35" fill="#7baa2f" fill-opacity="0.92"/><circle cx="739.8" cy="1501.89" r="2.35" fill="#7baa2f" fill-opacity="0.92"/>
<circle cx="851.02" cy="1321.66" r="2.35" fill="#22b6c2" fill-opacity="0.92"/><circle cx="852.97" cy="1321.17" r="2.35" fill="#22b6c2" fill-opacity="0.92"/><circle cx="853.94" cy="1331.89" r="2.35" fill="#22b6c2" fill-opacity="0.92"/><circle cx="859.46" cy="1334.16" r="2.35" fill="#22b6c2" fill-opacity="0.92"/><circle cx="846.47" cy="1337.09" r="2.35" fill="#22b6c2" fill-opacity="0.92"/><circle cx="845.34" cy="1340.01" r="2.35" fill="#22b6c2" fill-opacity="0.92"/><circle cx="856.7" cy="1340.01" r="2.35" fill="#22b6c2" fill-opacity="0.92"/><circle cx="858.33" cy="1340.33" r="2.35" fill="#22b6c2" fill-opacity="0.92"/><circle cx="844.52" cy="1343.58" r="2.35" fill="#22b6c2" fill-opacity="0.92"/><circle cx="849.4" cy="1345.2" r="2.35" fill="#22b6c2" fill-opacity="0.92"/><circle cx="851.02" cy="1346.83" r="2.35" fill="#22b6c2" fill-opacity="0.92"/><circle cx="845.34" cy="1350.07" r="2.35" fill="#22b6c2" fill-opacity="0.92"/><circle cx="849.4" cy="1350.89" r="2.35" fill="#22b6c2" fill-opacity="0.92"/><circle cx="854.27" cy="1348.45" r="2.35" fill="#22b6c2" fill-opacity="0.92"/><circle cx="843.71" cy="1354.95" r="2.35" fill="#22b6c2" fill-opacity="0.92"/><circle cx="857.51" cy="1354.95" r="2.35" fill="#22b6c2" fill-opacity="0.92"/><circle cx="860.76" cy="1355.76" r="2.35" fill="#22b6c2" fill-opacity="0.92"/><circle cx="846.15" cy="1357.38" r="2.35" fill="#22b6c2" fill-opacity="0.92"/><circle cx="855.08" cy="1358.19" r="2.35" fill="#22b6c2" fill-opacity="0.92"/><circle cx="859.14" cy="1356.57" r="2.35" fill="#22b6c2" fill-opacity="0.92"/><circle cx="849.4" cy="1361.93" r="2.35" fill="#22b6c2" fill-opacity="0.92"/><circle cx="856.7" cy="1363.06" r="2.35" fill="#22b6c2" fill-opacity="0.92"/><circle cx="855.89" cy="1387.42" r="2.35" fill="#22b6c2" fill-opacity="0.92"/>
<line x1="648.6" y1="1261.1" x2="809.2" y2="1261.1" stroke="#111" stroke-width="1.3"/>
<text x="728.9" y="1255.1" font-size="11.7" text-anchor="middle" fill="#333" stroke="#333" stroke-width="0.3">p = 2.9e-03</text>
<line x1="638.7" y1="1294" x2="710.4" y2="1294" stroke="#666" stroke-width="1.3"/>
<text x="674.55" y="1288" font-size="11.7" text-anchor="middle" fill="#333" stroke="#333" stroke-width="0.3">p = 1.1e-06</text>
<line x1="757.5" y1="1294" x2="829.5" y2="1294" stroke="#666" stroke-width="1.3"/>
<text x="793.5" y="1288" font-size="11.7" text-anchor="middle" fill="#333" stroke="#333" stroke-width="0.3">p = 9.8e-04</text>
<text x="733.4" y="1215.6" font-size="18" text-anchor="middle" font-weight="bold" fill="#111">RB1</text>
<text x="522" y="1404" font-size="16.8" text-anchor="middle" fill="#111" stroke="#111" stroke-width="0.3" transform="rotate(-90 522 1404)">Abundance of protein</text>
<rect x="1016" y="1224.5" width="356.5" height="356.8" fill="none" stroke="#666" stroke-width="1.3"/>
<line x1="1012.2" y1="1233.3" x2="1016" y2="1233.3" stroke="#555" stroke-width="1.1"/>
<text x="1009.4" y="1238.3" font-size="14.2" text-anchor="end" fill="#111" stroke="#111" stroke-width="0.3">3.5</text>
<line x1="1012.2" y1="1291.3" x2="1016" y2="1291.3" stroke="#555" stroke-width="1.1"/>
<text x="1009.4" y="1296.3" font-size="14.2" text-anchor="end" fill="#111" stroke="#111" stroke-width="0.3">3.0</text>
<line x1="1012.2" y1="1349.3" x2="1016" y2="1349.3" stroke="#555" stroke-width="1.1"/>
<text x="1009.4" y="1354.3" font-size="14.2" text-anchor="end" fill="#111" stroke="#111" stroke-width="0.3">2.5</text>
<line x1="1012.2" y1="1407.3" x2="1016" y2="1407.3" stroke="#555" stroke-width="1.1"/>
<text x="1009.4" y="1412.3" font-size="14.2" text-anchor="end" fill="#111" stroke="#111" stroke-width="0.3">2.0</text>
<line x1="1012.2" y1="1465.3" x2="1016" y2="1465.3" stroke="#555" stroke-width="1.1"/>
<text x="1009.4" y="1470.3" font-size="14.2" text-anchor="end" fill="#111" stroke="#111" stroke-width="0.3">1.5</text>
<line x1="1012.2" y1="1523.3" x2="1016" y2="1523.3" stroke="#555" stroke-width="1.1"/>
<text x="1009.4" y="1528.3" font-size="14.2" text-anchor="end" fill="#111" stroke="#111" stroke-width="0.3">1.0</text>
<line x1="1012.2" y1="1581.3" x2="1016" y2="1581.3" stroke="#555" stroke-width="1.1"/>
<text x="1009.4" y="1586.3" font-size="14.2" text-anchor="end" fill="#111" stroke="#111" stroke-width="0.3">0.5</text>
<line x1="1075.1" y1="1581.3" x2="1075.1" y2="1584.9" stroke="#555" stroke-width="1.1"/>
<text x="1075.1" y="1602.6" font-size="16.7" text-anchor="middle" fill="#111" stroke="#111" stroke-width="0.3">Metabolic</text>
<line x1="1075.1" y1="1304.06" x2="1075.1" y2="1336.54" stroke="#111" stroke-width="1.6" stroke-dasharray="5.5,2.6"/>
<line x1="1075.1" y1="1381.08" x2="1075.1" y2="1420.06" stroke="#111" stroke-width="1.6" stroke-dasharray="5.5,2.6"/>
<line x1="1056.7" y1="1304.06" x2="1093.5" y2="1304.06" stroke="#222" stroke-width="1.5"/>
<line x1="1056.7" y1="1420.06" x2="1093.5" y2="1420.06" stroke="#222" stroke-width="1.5"/>
<rect x="1038.9" y="1336.54" width="72.4" height="44.54" fill="#f09a8e" stroke="#2b2b2b" stroke-width="1.4"/>
<line x1="1194.2" y1="1581.3" x2="1194.2" y2="1584.9" stroke="#555" stroke-width="1.1"/>
<text x="1194.2" y="1602.6" font-size="16.7" text-anchor="middle" fill="#111" stroke="#111" stroke-width="0.3">Basal</text>
<line x1="1194.2" y1="1386.42" x2="1194.2" y2="1429.34" stroke="#111" stroke-width="1.6" stroke-dasharray="5.5,2.6"/>
<line x1="1194.2" y1="1460.78" x2="1194.2" y2="1502.42" stroke="#111" stroke-width="1.6" stroke-dasharray="5.5,2.6"/>
<line x1="1175.8" y1="1386.42" x2="1212.6" y2="1386.42" stroke="#222" stroke-width="1.5"/>
<line x1="1175.8" y1="1502.42" x2="1212.6" y2="1502.42" stroke="#222" stroke-width="1.5"/>
<rect x="1158" y="1429.34" width="72.4" height="31.44" fill="#94bb4a" stroke="#2b2b2b" stroke-width="1.4"/>
<line x1="1313.4" y1="1581.3" x2="1313.4" y2="1584.9" stroke="#555" stroke-width="1.1"/>
<text x="1313.4" y="1602.6" font-size="16.7" text-anchor="middle" fill="#111" stroke="#111" stroke-width="0.3">Mesenchymal</text>
<line x1="1313.4" y1="1403.82" x2="1313.4" y2="1425.28" stroke="#111" stroke-width="1.6" stroke-dasharray="5.5,2.6"/>
<line x1="1313.4" y1="1452.54" x2="1313.4" y2="1475.74" stroke="#111" stroke-width="1.6" stroke-dasharray="5.5,2.6"/>
<line x1="1295" y1="1403.82" x2="1331.8" y2="1403.82" stroke="#222" stroke-width="1.5"/>
<line x1="1295" y1="1475.74" x2="1331.8" y2="1475.74" stroke="#222" stroke-width="1.5"/>
<rect x="1277.2" y="1425.28" width="72.4" height="27.26" fill="#3cc4c7" stroke="#2b2b2b" stroke-width="1.4"/>
<line x1="1037.9" y1="1370.18" x2="1112.3" y2="1370.18" stroke="#000" stroke-width="3.6"/>
<line x1="1157" y1="1450.45" x2="1231.4" y2="1450.45" stroke="#000" stroke-width="3.6"/>
<line x1="1276.2" y1="1439.78" x2="1350.6" y2="1439.78" stroke="#000" stroke-width="3.6"/>
<circle cx="1069.91" cy="1303.8" r="2.35" fill="#e8806f" fill-opacity="0.92"/><circle cx="1066.66" cy="1312.73" r="2.35" fill="#e8806f" fill-opacity="0.92"/><circle cx="1073.48" cy="1310.78" r="2.35" fill="#e8806f" fill-opacity="0.92"/><circle cx="1078.03" cy="1314.84" r="2.35" fill="#e8806f" fill-opacity="0.92"/><circle cx="1082.9" cy="1320.52" r="2.35" fill="#e8806f" fill-opacity="0.92"/><circle cx="1084.03" cy="1322.47" r="2.35" fill="#e8806f" fill-opacity="0.92"/><circle cx="1078.03" cy="1322.96" r="2.35" fill="#e8806f" fill-opacity="0.92"/><circle cx="1079.65" cy="1331.89" r="2.35" fill="#e8806f" fill-opacity="0.92"/><circle cx="1082.41" cy="1337.09" r="2.35" fill="#e8806f" fill-opacity="0.92"/><circle cx="1074.29" cy="1342.44" r="2.35" fill="#e8806f" fill-opacity="0.92"/><circle cx="1082.57" cy="1342.44" r="2.35" fill="#e8806f" fill-opacity="0.92"/><circle cx="1076.4" cy="1349.75" r="2.35" fill="#e8806f" fill-opacity="0.92"/><circle cx="1066.66" cy="1361.44" r="2.35" fill="#e8806f" fill-opacity="0.92"/><circle cx="1084.03" cy="1360.95" r="2.35" fill="#e8806f" fill-opacity="0.92"/><circle cx="1076.4" cy="1365.99" r="2.35" fill="#e8806f" fill-opacity="0.92"/><circle cx="1068.61" cy="1369.88" r="2.35" fill="#e8806f" fill-opacity="0.92"/><circle cx="1073.97" cy="1370.37" r="2.35" fill="#e8806f" fill-opacity="0.92"/><circle cx="1084.52" cy="1371.18" r="2.35" fill="#e8806f" fill-opacity="0.92"/><circle cx="1067.47" cy="1373.62" r="2.35" fill="#e8806f" fill-opacity="0.92"/><circle cx="1080.46" cy="1374.92" r="2.35" fill="#e8806f" fill-opacity="0.92"/><circle cx="1068.28" cy="1377.68" r="2.35" fill="#e8806f" fill-opacity="0.92"/><circle cx="1073.16" cy="1377.68" r="2.35" fill="#e8806f" fill-opacity="0.92"/><circle cx="1076.4" cy="1378.49" r="2.35" fill="#e8806f" fill-opacity="0.92"/><circle cx="1079.65" cy="1381.25" r="2.35" fill="#e8806f" fill-opacity="0.92"/><circle cx="1071.53" cy="1386.61" r="2.35" fill="#e8806f" fill-opacity="0.92"/><circle cx="1084.03" cy="1385.31" r="2.35" fill="#e8806f" fill-opacity="0.92"/><circle cx="1070.72" cy="1391.48" r="2.35" fill="#e8806f" fill-opacity="0.92"/><circle cx="1072.67" cy="1393.91" r="2.35" fill="#e8806f" fill-opacity="0.92"/><circle cx="1075.92" cy="1394.4" r="2.35" fill="#e8806f" fill-opacity="0.92"/><circle cx="1074.29" cy="1415.51" r="2.35" fill="#e8806f" fill-opacity="0.92"/><circle cx="1084.52" cy="1419.57" r="2.35" fill="#e8806f" fill-opacity="0.92"/>
<circle cx="1192.82" cy="1385.47" r="2.35" fill="#7baa2f" fill-opacity="0.92"/><circle cx="1192.17" cy="1389.85" r="2.35" fill="#7baa2f" fill-opacity="0.92"/><circle cx="1194.93" cy="1390.67" r="2.35" fill="#7baa2f" fill-opacity="0.92"/><circle cx="1189.57" cy="1404.79" r="2.35" fill="#7baa2f" fill-opacity="0.92"/><circle cx="1200.94" cy="1415.02" r="2.35" fill="#7baa2f" fill-opacity="0.92"/><circle cx="1190.06" cy="1426.87" r="2.35" fill="#7baa2f" fill-opacity="0.92"/><circle cx="1195.74" cy="1427.68" r="2.35" fill="#7baa2f" fill-opacity="0.92"/><circle cx="1197.36" cy="1429.31" r="2.35" fill="#7baa2f" fill-opacity="0.92"/><circle cx="1200.61" cy="1429.96" r="2.35" fill="#7baa2f" fill-opacity="0.92"/><circle cx="1192.01" cy="1437.43" r="2.35" fill="#7baa2f" fill-opacity="0.92"/><circle cx="1203.37" cy="1437.43" r="2.35" fill="#7baa2f" fill-opacity="0.92"/><circle cx="1193.79" cy="1444.73" r="2.35" fill="#7baa2f" fill-opacity="0.92"/><circle cx="1199.8" cy="1445.87" r="2.35" fill="#7baa2f" fill-opacity="0.92"/><circle cx="1202.23" cy="1447.49" r="2.35" fill="#7baa2f" fill-opacity="0.92"/><circle cx="1187.62" cy="1448.3" r="2.35" fill="#7baa2f" fill-opacity="0.92"/><circle cx="1193.3" cy="1452.04" r="2.35" fill="#7baa2f" fill-opacity="0.92"/><circle cx="1186.81" cy="1453.99" r="2.35" fill="#7baa2f" fill-opacity="0.92"/><circle cx="1194.12" cy="1454.8" r="2.35" fill="#7baa2f" fill-opacity="0.92"/><circle cx="1201.42" cy="1456.42" r="2.35" fill="#7baa2f" fill-opacity="0.92"/><circle cx="1203.86" cy="1458.86" r="2.35" fill="#7baa2f" fill-opacity="0.92"/><circle cx="1197.36" cy="1459.67" r="2.35" fill="#7baa2f" fill-opacity="0.92"/><circle cx="1186.81" cy="1461.29" r="2.35" fill="#7baa2f" fill-opacity="0.92"/><circle cx="1191.68" cy="1465.68" r="2.35" fill="#7baa2f" fill-opacity="0.92"/><circle cx="1194.12" cy="1464.54" r="2.35" fill="#7baa2f" fill-opacity="0.92"/><circle cx="1189.25" cy="1472.17" r="2.35" fill="#7baa2f" fill-opacity="0.92"/><circle cx="1190.87" cy="1471.52" r="2.35" fill="#7baa2f" fill-opacity="0.92"/><circle cx="1194.12" cy="1501.89" r="2.35" fill="#7baa2f" fill-opacity="0.92"/>
<circle cx="1319.46" cy="1379.3" r="2.35" fill="#22b6c2" fill-opacity="0.92"/><circle cx="1306.96" cy="1403.33" r="2.35" fill="#22b6c2" fill-opacity="0.92"/><circle cx="1320.76" cy="1414.21" r="2.35" fill="#22b6c2" fill-opacity="0.92"/><circle cx="1319.14" cy="1415.83" r="2.35" fill="#22b6c2" fill-opacity="0.92"/><circle cx="1309.4" cy="1419.08" r="2.35" fill="#22b6c2" fill-opacity="0.92"/><circle cx="1306.96" cy="1419.08" r="2.35" fill="#22b6c2" fill-opacity="0.92"/><circle cx="1306.15" cy="1425.09" r="2.35" fill="#22b6c2" fill-opacity="0.92"/><circle cx="1307.77" cy="1427.2" r="2.35" fill="#22b6c2" fill-opacity="0.92"/><circle cx="1317.19" cy="1429.96" r="2.35" fill="#22b6c2" fill-opacity="0.92"/><circle cx="1320.76" cy="1434.5" r="2.35" fill="#22b6c2" fill-opacity="0.92"/><circle cx="1314.27" cy="1436.94" r="2.35" fill="#22b6c2" fill-opacity="0.92"/><circle cx="1318.33" cy="1439.37" r="2.35" fill="#22b6c2" fill-opacity="0.92"/><circle cx="1320.76" cy="1442.3" r="2.35" fill="#22b6c2" fill-opacity="0.92"/><circle cx="1311.02" cy="1443.43" r="2.35" fill="#22b6c2" fill-opacity="0.92"/><circle cx="1315.08" cy="1445.87" r="2.35" fill="#22b6c2" fill-opacity="0.92"/><circle cx="1317.51" cy="1445.87" r="2.35" fill="#22b6c2" fill-opacity="0.92"/><circle cx="1312.64" cy="1448.3" r="2.35" fill="#22b6c2" fill-opacity="0.92"/><circle cx="1305.34" cy="1451.55" r="2.35" fill="#22b6c2" fill-opacity="0.92"/><circle cx="1317.19" cy="1452.36" r="2.35" fill="#22b6c2" fill-opacity="0.92"/><circle cx="1305.34" cy="1455.61" r="2.35" fill="#22b6c2" fill-opacity="0.92"/><circle cx="1310.21" cy="1455.61" r="2.35" fill="#22b6c2" fill-opacity="0.92"/><circle cx="1316.7" cy="1454.8" r="2.35" fill="#22b6c2" fill-opacity="0.92"/><circle cx="1318.81" cy="1459.35" r="2.35" fill="#22b6c2" fill-opacity="0.92"/><circle cx="1306.15" cy="1465.35" r="2.35" fill="#22b6c2" fill-opacity="0.92"/><circle cx="1317.51" cy="1466.98" r="2.35" fill="#22b6c2" fill-opacity="0.92"/><circle cx="1306.96" cy="1476.39" r="2.35" fill="#22b6c2" fill-opacity="0.92"/><circle cx="1316.38" cy="1495.39" r="2.35" fill="#22b6c2" fill-opacity="0.92"/>
<line x1="1108.8" y1="1261.5" x2="1269.5" y2="1261.5" stroke="#222" stroke-width="1.3"/>
<text x="1189.15" y="1255.5" font-size="11.7" text-anchor="middle" fill="#333" stroke="#333" stroke-width="0.3">p = 3.2e-17</text>
<line x1="1098.7" y1="1292.1" x2="1170.7" y2="1292.1" stroke="#333" stroke-width="1.3"/>
<text x="1134.7" y="1286.1" font-size="11.7" text-anchor="middle" fill="#333" stroke="#333" stroke-width="0.3">p = 7.8e-19</text>
<text x="1194.2" y="1214" font-size="18.3" text-anchor="middle" fill="#111" stroke="#111" stroke-width="0.3">E2F activity score</text>
<text x="974" y="1404" font-size="16.8" text-anchor="middle" fill="#111" stroke="#111" stroke-width="0.3" transform="rotate(-90 974 1404)">Abundance of E2F activity</text>
<rect x="1251" y="457.5" width="96" height="237.5" fill="#dcdddd"/>
<rect x="1251" y="644.65" width="96" height="50.35" fill="#8a2f2e"/>
<line x1="1251" y1="644.05" x2="1347" y2="644.05" stroke="#ffffff" stroke-width="1.0"/>
<text x="1299.2" y="618" font-size="13.2" text-anchor="middle" fill="#111" stroke="#111" stroke-width="0.3">7/33</text>
<text x="1299.2" y="635.2" font-size="13.2" text-anchor="middle" fill="#111" stroke="#111" stroke-width="0.3">(21.2%)</text>
<rect x="1359.3" y="457.5" width="96.7" height="237.5" fill="#dcdddd"/>
<rect x="1359.3" y="677.78" width="96.7" height="17.22" fill="#8a2f2e"/>
<text x="1409" y="653" font-size="13.2" text-anchor="middle" fill="#111" stroke="#111" stroke-width="0.3">5/69</text>
<text x="1409" y="670.2" font-size="13.2" text-anchor="middle" fill="#111" stroke="#111" stroke-width="0.3">(7.3%)</text>
<line x1="1235" y1="456.5" x2="1235" y2="695" stroke="#555" stroke-width="1.2"/>
<line x1="1235" y1="695" x2="1471" y2="695" stroke="#555" stroke-width="1.2"/>
<line x1="1231" y1="457.5" x2="1235" y2="457.5" stroke="#555" stroke-width="1"/>
<text x="1227.2" y="466.8" font-size="12.6" text-anchor="end" fill="#111" stroke="#111" stroke-width="0.3">1.00</text>
<line x1="1231" y1="516.88" x2="1235" y2="516.88" stroke="#555" stroke-width="1"/>
<text x="1227.2" y="526.17" font-size="12.6" text-anchor="end" fill="#111" stroke="#111" stroke-width="0.3">0.75</text>
<line x1="1231" y1="576.25" x2="1235" y2="576.25" stroke="#555" stroke-width="1"/>
<text x="1227.2" y="585.55" font-size="12.6" text-anchor="end" fill="#111" stroke="#111" stroke-width="0.3">0.50</text>
<line x1="1231" y1="635.62" x2="1235" y2="635.62" stroke="#555" stroke-width="1"/>
<text x="1227.2" y="644.92" font-size="12.6" text-anchor="end" fill="#111" stroke="#111" stroke-width="0.3">0.25</text>
<line x1="1231" y1="695" x2="1235" y2="695" stroke="#555" stroke-width="1"/>
<text x="1227.2" y="704.3" font-size="12.6" text-anchor="end" fill="#111" stroke="#111" stroke-width="0.3">0.00</text>
<text x="1352.8" y="444" font-size="14.7" text-anchor="middle" font-weight="bold" fill="#111">CCND1</text>
<text x="1186.5" y="576.25" font-size="13.9" text-anchor="middle" fill="#111" stroke="#111" stroke-width="0.3" transform="rotate(-90 1186.5 576.25)">Proportion</text>
<text x="1467.8" y="562.9" font-size="12.0" text-anchor="start" font-weight="bold" fill="#111">CNV gain</text>
<rect x="1474.3" y="576.4" width="7" height="7" fill="#8a2f2e"/>
<text x="1487.3" y="585.2" font-size="13.3" text-anchor="start" fill="#111" stroke="#111" stroke-width="0.3">Yes</text>
<rect x="1474.3" y="600.4" width="7" height="7" fill="#dcdddd"/>
<text x="1487.3" y="609.2" font-size="13.3" text-anchor="start" fill="#111" stroke="#111" stroke-width="0.3">No</text>
<text x="1298" y="712.4" font-size="13.7" text-anchor="middle" fill="#111" stroke="#111" stroke-width="0.3">Metabolic</text>
<text x="1410.6" y="712.4" font-size="13.7" text-anchor="middle" fill="#111" stroke="#111" stroke-width="0.3">Basal/Mesenchymal</text>
<rect x="1673.2" y="461.5" width="96.8" height="237.3" fill="#dcdddd"/>
<rect x="1673.2" y="641.37" width="96.8" height="57.43" fill="#2f4b8c"/>
<text x="1722.2" y="614.6" font-size="13.2" text-anchor="middle" fill="#111" stroke="#111" stroke-width="0.3">8/33</text>
<text x="1722.2" y="631.8" font-size="13.2" text-anchor="middle" fill="#111" stroke="#111" stroke-width="0.3">(24.2%)</text>
<rect x="1781.7" y="461.5" width="97.1" height="237.3" fill="#dcdddd"/>
<rect x="1781.7" y="671.27" width="97.1" height="27.53" fill="#2f4b8c"/>
<text x="1830.7" y="645.2" font-size="13.2" text-anchor="middle" fill="#111" stroke="#111" stroke-width="0.3">8/69</text>
<text x="1830.7" y="662.4" font-size="13.2" text-anchor="middle" fill="#111" stroke="#111" stroke-width="0.3">(11.6%)</text>
<line x1="1658" y1="460.5" x2="1658" y2="698.8" stroke="#555" stroke-width="1.2"/>
<line x1="1658" y1="698.8" x2="1893.6" y2="698.8" stroke="#555" stroke-width="1.2"/>
<line x1="1654" y1="461.5" x2="1658" y2="461.5" stroke="#555" stroke-width="1"/>
<text x="1650.2" y="470.8" font-size="12.6" text-anchor="end" fill="#111" stroke="#111" stroke-width="0.3">1.00</text>
<line x1="1654" y1="520.83" x2="1658" y2="520.83" stroke="#555" stroke-width="1"/>
<text x="1650.2" y="530.12" font-size="12.6" text-anchor="end" fill="#111" stroke="#111" stroke-width="0.3">0.75</text>
<line x1="1654" y1="580.15" x2="1658" y2="580.15" stroke="#555" stroke-width="1"/>
<text x="1650.2" y="589.45" font-size="12.6" text-anchor="end" fill="#111" stroke="#111" stroke-width="0.3">0.50</text>
<line x1="1654" y1="639.47" x2="1658" y2="639.47" stroke="#555" stroke-width="1"/>
<text x="1650.2" y="648.77" font-size="12.6" text-anchor="end" fill="#111" stroke="#111" stroke-width="0.3">0.25</text>
<line x1="1654" y1="698.8" x2="1658" y2="698.8" stroke="#555" stroke-width="1"/>
<text x="1650.2" y="708.1" font-size="12.6" text-anchor="end" fill="#111" stroke="#111" stroke-width="0.3">0.00</text>
<text x="1776.9" y="448" font-size="14.7" text-anchor="middle" font-weight="bold" fill="#111">CDKN2A/2B</text>
<text x="1608" y="580.15" font-size="13.9" text-anchor="middle" fill="#111" stroke="#111" stroke-width="0.3" transform="rotate(-90 1608 580.15)">Proportion</text>
<text x="1890" y="567" font-size="12.0" text-anchor="start" font-weight="bold" fill="#111">CNV loss</text>
<rect x="1896.5" y="580.5" width="7" height="7" fill="#2f4b8c"/>
<text x="1909.5" y="589.3" font-size="13.3" text-anchor="start" fill="#111" stroke="#111" stroke-width="0.3">Yes</text>
<rect x="1896.5" y="604.5" width="7" height="7" fill="#dcdddd"/>
<text x="1909.5" y="613.3" font-size="13.3" text-anchor="start" fill="#111" stroke="#111" stroke-width="0.3">No</text>
<text x="1719.7" y="716" font-size="13.7" text-anchor="middle" fill="#111" stroke="#111" stroke-width="0.3">Metabolic</text>
<text x="1832" y="716" font-size="13.7" text-anchor="middle" fill="#111" stroke="#111" stroke-width="0.3">Basal/Mesenchymal</text>
<line x1="1490.3" y1="793.5" x2="1490.3" y2="1123.8" stroke="#555" stroke-width="1.3"/>
<line x1="1490.3" y1="1123.8" x2="1932.9" y2="1123.8" stroke="#555" stroke-width="1.3"/>
<line x1="1486.3" y1="1123.8" x2="1490.3" y2="1123.8" stroke="#555" stroke-width="1.1"/>
<text x="1484" y="1129" font-size="14.5" text-anchor="end" fill="#111" stroke="#111" stroke-width="0.3">0</text>
<line x1="1486.3" y1="1057.8" x2="1490.3" y2="1057.8" stroke="#555" stroke-width="1.1"/>
<text x="1484" y="1063" font-size="14.5" text-anchor="end" fill="#111" stroke="#111" stroke-width="0.3">10</text>
<line x1="1486.3" y1="991.8" x2="1490.3" y2="991.8" stroke="#555" stroke-width="1.1"/>
<text x="1484" y="997" font-size="14.5" text-anchor="end" fill="#111" stroke="#111" stroke-width="0.3">20</text>
<line x1="1486.3" y1="925.8" x2="1490.3" y2="925.8" stroke="#555" stroke-width="1.1"/>
<text x="1484" y="931" font-size="14.5" text-anchor="end" fill="#111" stroke="#111" stroke-width="0.3">30</text>
<line x1="1486.3" y1="859.8" x2="1490.3" y2="859.8" stroke="#555" stroke-width="1.1"/>
<text x="1484" y="865" font-size="14.5" text-anchor="end" fill="#111" stroke="#111" stroke-width="0.3">40</text>
<line x1="1486.3" y1="793.8" x2="1490.3" y2="793.8" stroke="#555" stroke-width="1.1"/>
<text x="1484" y="799" font-size="14.5" text-anchor="end" fill="#111" stroke="#111" stroke-width="0.3">50</text>
<rect x="1573.7" y="940.32" width="55.2" height="183.48" fill="#db7b6f" stroke="#1a1a1a" stroke-width="1.1"/>
<line x1="1601.2" y1="913.26" x2="1601.2" y2="967.38" stroke="#111" stroke-width="2.2"/>
<line x1="1595.2" y1="913.26" x2="1607.2" y2="913.26" stroke="#111" stroke-width="2.2"/>
<line x1="1595.2" y1="967.38" x2="1607.2" y2="967.38" stroke="#111" stroke-width="2.2"/>
<line x1="1601.2" y1="1123.8" x2="1601.2" y2="1128.8" stroke="#555" stroke-width="1.1"/>
<text x="1602.2" y="1150.6" font-size="16.7" text-anchor="middle" fill="#111" stroke="#111" stroke-width="0.3">Metabolic</text>
<rect x="1684" y="976.29" width="55.4" height="147.51" fill="#7a9f30" stroke="#1a1a1a" stroke-width="1.1"/>
<line x1="1711.7" y1="946.26" x2="1711.7" y2="1006.32" stroke="#111" stroke-width="2.2"/>
<line x1="1705.7" y1="946.26" x2="1717.7" y2="946.26" stroke="#111" stroke-width="2.2"/>
<line x1="1705.7" y1="1006.32" x2="1717.7" y2="1006.32" stroke="#111" stroke-width="2.2"/>
<line x1="1711.7" y1="1123.8" x2="1711.7" y2="1128.8" stroke="#555" stroke-width="1.1"/>
<text x="1712.7" y="1150.6" font-size="16.7" text-anchor="middle" fill="#111" stroke="#111" stroke-width="0.3">Basal</text>
<rect x="1794.6" y="1016.88" width="55.1" height="106.92" fill="#21aeb0" stroke="#1a1a1a" stroke-width="1.1"/>
<line x1="1822.3" y1="1001.04" x2="1822.3" y2="1032.06" stroke="#111" stroke-width="2.2"/>
<line x1="1816.3" y1="1001.04" x2="1828.3" y2="1001.04" stroke="#111" stroke-width="2.2"/>
<line x1="1816.3" y1="1032.06" x2="1828.3" y2="1032.06" stroke="#111" stroke-width="2.2"/>
<line x1="1822.3" y1="1123.8" x2="1822.3" y2="1128.8" stroke="#555" stroke-width="1.1"/>
<text x="1831.1" y="1150.6" font-size="16.7" text-anchor="middle" fill="#111" stroke="#111" stroke-width="0.3">Mesenchymal</text>
<polyline points="1612.2,826.4 1612.2,815.6 1811.3,815.6 1811.3,826.4" fill="none" stroke="#666" stroke-width="1.2"/>
<text x="1711.75" y="804.3" font-size="13.7" text-anchor="middle" fill="#111" stroke="#111" stroke-width="0.3">p = 0.02</text>
<polyline points="1612.2,881.8 1612.2,871.7 1700.7,871.7 1700.7,881.8" fill="none" stroke="#666" stroke-width="1.2"/>
<text x="1656.45" y="860.4" font-size="13.7" text-anchor="middle" fill="#111" stroke="#111" stroke-width="0.3">p = 0.38</text>
<polyline points="1722.8,921.1 1722.8,910.7 1811.3,910.7 1811.3,921.1" fill="none" stroke="#666" stroke-width="1.2"/>
<text x="1767.05" y="899.4" font-size="13.7" text-anchor="middle" fill="#111" stroke="#111" stroke-width="0.3">p = 0.25</text>
<text x="1447.5" y="959.3" font-size="16.6" text-anchor="middle" fill="#111" stroke="#111" stroke-width="0.3" transform="rotate(-90 1447.5 959.3)">HRD-sum</text>
<rect x="1545.8" y="1228.1" width="12.08" height="29.8" fill="#9b1c20"/>
<rect x="1557.68" y="1228.1" width="12.08" height="29.8" fill="#9b1c20"/>
<rect x="1569.57" y="1228.1" width="12.08" height="29.8" fill="#d0161e"/>
<rect x="1581.45" y="1228.1" width="12.08" height="29.8" fill="#d0161e"/>
<rect x="1593.34" y="1228.1" width="12.08" height="29.8" fill="#d0161e"/>
<rect x="1605.22" y="1228.1" width="12.08" height="29.8" fill="#e84e1b"/>
<rect x="1617.11" y="1228.1" width="12.08" height="29.8" fill="#ea561d"/>
<rect x="1628.99" y="1228.1" width="12.08" height="29.8" fill="#eb5a1f"/>
<rect x="1640.88" y="1228.1" width="12.08" height="29.8" fill="#ec5e1f"/>
<rect x="1652.76" y="1228.1" width="12.08" height="29.8" fill="#ee6720"/>
<rect x="1664.65" y="1228.1" width="12.08" height="29.8" fill="#ef6d21"/>
<rect x="1676.53" y="1228.1" width="12.08" height="29.8" fill="#ef7322"/>
<rect x="1688.42" y="1228.1" width="12.08" height="29.8" fill="#f07822"/>
<rect x="1700.3" y="1228.1" width="12.08" height="29.8" fill="#f18423"/>
<rect x="1712.19" y="1228.1" width="12.08" height="29.8" fill="#f28a24"/>
<rect x="1724.07" y="1228.1" width="12.08" height="29.8" fill="#f39125"/>
<rect x="1735.96" y="1228.1" width="12.08" height="29.8" fill="#f39725"/>
<rect x="1747.84" y="1228.1" width="12.08" height="29.8" fill="#f49f25"/>
<rect x="1759.73" y="1228.1" width="12.08" height="29.8" fill="#f5a424"/>
<rect x="1771.61" y="1228.1" width="12.08" height="29.8" fill="#f5a724"/>
<rect x="1783.5" y="1228.1" width="12.08" height="29.8" fill="#f5a624"/>
<rect x="1795.38" y="1228.1" width="12.08" height="29.8" fill="#f5aa24"/>
<rect x="1807.27" y="1228.1" width="12.08" height="29.8" fill="#f6be27"/>
<rect x="1819.15" y="1228.1" width="12.08" height="29.8" fill="#f6c027"/>
<rect x="1831.04" y="1228.1" width="12.08" height="29.8" fill="#f6c428"/>
<rect x="1842.92" y="1228.1" width="12.08" height="29.8" fill="#f6c728"/>
<rect x="1854.81" y="1228.1" width="12.08" height="29.8" fill="#f6cf28"/>
<rect x="1866.69" y="1228.1" width="12.08" height="29.8" fill="#f6d529"/>
<rect x="1878.58" y="1228.1" width="12.08" height="29.8" fill="#f6d829"/>
<rect x="1890.46" y="1228.1" width="12.08" height="29.8" fill="#f6db29"/>
<rect x="1902.35" y="1228.1" width="12.08" height="29.8" fill="#f6dd29"/>
<rect x="1914.23" y="1228.1" width="12.08" height="29.8" fill="#f5e02a"/>
<rect x="1926.12" y="1228.1" width="12.08" height="29.8" fill="#f5e52a"/>
<rect x="1545.8" y="1257.9" width="392.2" height="304" fill="#ebebeb"/>
<rect x="1545.8" y="1257.9" width="11.88" height="33.78" fill="#ebebeb" stroke="#f3f3f3" stroke-width="0.8"/>
<rect x="1557.68" y="1257.9" width="11.88" height="33.78" fill="#ebebeb" stroke="#f3f3f3" stroke-width="0.8"/>
<rect x="1569.57" y="1257.9" width="11.88" height="33.78" fill="#ebebeb" stroke="#f3f3f3" stroke-width="0.8"/>
<rect x="1581.45" y="1257.9" width="11.88" height="33.78" fill="#a8a8a8" stroke="#f3f3f3" stroke-width="0.8"/>
<rect x="1593.34" y="1257.9" width="11.88" height="33.78" fill="#ebebeb" stroke="#f3f3f3" stroke-width="0.8"/>
<rect x="1605.22" y="1257.9" width="11.88" height="33.78" fill="#ebebeb" stroke="#f3f3f3" stroke-width="0.8"/>
<rect x="1617.11" y="1257.9" width="11.88" height="33.78" fill="#ebebeb" stroke="#f3f3f3" stroke-width="0.8"/>
<rect x="1628.99" y="1257.9" width="11.88" height="33.78" fill="#ebebeb" stroke="#f3f3f3" stroke-width="0.8"/>
<rect x="1640.88" y="1257.9" width="11.88" height="33.78" fill="#ebebeb" stroke="#f3f3f3" stroke-width="0.8"/>
<rect x="1652.76" y="1257.9" width="11.88" height="33.78" fill="#ebebeb" stroke="#f3f3f3" stroke-width="0.8"/>
<rect x="1664.65" y="1257.9" width="11.88" height="33.78" fill="#ebebeb" stroke="#f3f3f3" stroke-width="0.8"/>
<rect x="1676.53" y="1257.9" width="11.88" height="33.78" fill="#ebebeb" stroke="#f3f3f3" stroke-width="0.8"/>
<rect x="1688.42" y="1257.9" width="11.88" height="33.78" fill="#ebebeb" stroke="#f3f3f3" stroke-width="0.8"/>
<rect x="1700.3" y="1257.9" width="11.88" height="33.78" fill="#ebebeb" stroke="#f3f3f3" stroke-width="0.8"/>
<rect x="1712.19" y="1257.9" width="11.88" height="33.78" fill="#ebebeb" stroke="#f3f3f3" stroke-width="0.8"/>
<rect x="1724.07" y="1257.9" width="11.88" height="33.78" fill="#ebebeb" stroke="#f3f3f3" stroke-width="0.8"/>
<rect x="1735.96" y="1257.9" width="11.88" height="33.78" fill="#ebebeb" stroke="#f3f3f3" stroke-width="0.8"/>
<rect x="1747.84" y="1257.9" width="11.88" height="33.78" fill="#ebebeb" stroke="#f3f3f3" stroke-width="0.8"/>
<rect x="1759.73" y="1257.9" width="11.88" height="33.78" fill="#ebebeb" stroke="#f3f3f3" stroke-width="0.8"/>
<rect x="1771.61" y="1257.9" width="11.88" height="33.78" fill="#ebebeb" stroke="#f3f3f3" stroke-width="0.8"/>
<rect x="1783.5" y="1257.9" width="11.88" height="33.78" fill="#ebebeb" stroke="#f3f3f3" stroke-width="0.8"/>
<rect x="1795.38" y="1257.9" width="11.88" height="33.78" fill="#ebebeb" stroke="#f3f3f3" stroke-width="0.8"/>
<rect x="1807.27" y="1257.9" width="11.88" height="33.78" fill="#ebebeb" stroke="#f3f3f3" stroke-width="0.8"/>
<rect x="1819.15" y="1257.9" width="11.88" height="33.78" fill="#ebebeb" stroke="#f3f3f3" stroke-width="0.8"/>
<rect x="1831.04" y="1257.9" width="11.88" height="33.78" fill="#ebebeb" stroke="#f3f3f3" stroke-width="0.8"/>
<rect x="1842.92" y="1257.9" width="11.88" height="33.78" fill="#ebebeb" stroke="#f3f3f3" stroke-width="0.8"/>
<rect x="1854.81" y="1257.9" width="11.88" height="33.78" fill="#ebebeb" stroke="#f3f3f3" stroke-width="0.8"/>
<rect x="1866.69" y="1257.9" width="11.88" height="33.78" fill="#ebebeb" stroke="#f3f3f3" stroke-width="0.8"/>
<rect x="1878.58" y="1257.9" width="11.88" height="33.78" fill="#ebebeb" stroke="#f3f3f3" stroke-width="0.8"/>
<rect x="1890.46" y="1257.9" width="11.88" height="33.78" fill="#ebebeb" stroke="#f3f3f3" stroke-width="0.8"/>
<rect x="1902.35" y="1257.9" width="11.88" height="33.78" fill="#ebebeb" stroke="#f3f3f3" stroke-width="0.8"/>
<rect x="1914.23" y="1257.9" width="11.88" height="33.78" fill="#ebebeb" stroke="#f3f3f3" stroke-width="0.8"/>
<rect x="1926.12" y="1257.9" width="11.88" height="33.78" fill="#ebebeb" stroke="#f3f3f3" stroke-width="0.8"/>
<rect x="1545.8" y="1291.68" width="11.88" height="33.78" fill="#ebebeb" stroke="#f3f3f3" stroke-width="0.8"/>
<rect x="1557.68" y="1291.68" width="11.88" height="33.78" fill="#ebebeb" stroke="#f3f3f3" stroke-width="0.8"/>
<rect x="1569.57" y="1291.68" width="11.88" height="33.78" fill="#ebebeb" stroke="#f3f3f3" stroke-width="0.8"/>
<rect x="1581.45" y="1291.68" width="11.88" height="33.78" fill="#ebebeb" stroke="#f3f3f3" stroke-width="0.8"/>
<rect x="1593.34" y="1291.68" width="11.88" height="33.78" fill="#0d0a0a" stroke="#f3f3f3" stroke-width="0.8"/>
<rect x="1605.22" y="1291.68" width="11.88" height="33.78" fill="#ebebeb" stroke="#f3f3f3" stroke-width="0.8"/>
<rect x="1617.11" y="1291.68" width="11.88" height="33.78" fill="#ebebeb" stroke="#f3f3f3" stroke-width="0.8"/>
<rect x="1628.99" y="1291.68" width="11.88" height="33.78" fill="#ebebeb" stroke="#f3f3f3" stroke-width="0.8"/>
<rect x="1640.88" y="1291.68" width="11.88" height="33.78" fill="#ebebeb" stroke="#f3f3f3" stroke-width="0.8"/>
<rect x="1652.76" y="1291.68" width="11.88" height="33.78" fill="#ebebeb" stroke="#f3f3f3" stroke-width="0.8"/>
<rect x="1664.65" y="1291.68" width="11.88" height="33.78" fill="#ebebeb" stroke="#f3f3f3" stroke-width="0.8"/>
<rect x="1676.53" y="1291.68" width="11.88" height="33.78" fill="#ebebeb" stroke="#f3f3f3" stroke-width="0.8"/>
<rect x="1688.42" y="1291.68" width="11.88" height="33.78" fill="#a8a8a8" stroke="#f3f3f3" stroke-width="0.8"/>
<rect x="1700.3" y="1291.68" width="11.88" height="33.78" fill="#ebebeb" stroke="#f3f3f3" stroke-width="0.8"/>
<rect x="1712.19" y="1291.68" width="11.88" height="33.78" fill="#ebebeb" stroke="#f3f3f3" stroke-width="0.8"/>
<rect x="1724.07" y="1291.68" width="11.88" height="33.78" fill="#ebebeb" stroke="#f3f3f3" stroke-width="0.8"/>
<rect x="1735.96" y="1291.68" width="11.88" height="33.78" fill="#ebebeb" stroke="#f3f3f3" stroke-width="0.8"/>
<rect x="1747.84" y="1291.68" width="11.88" height="33.78" fill="#ebebeb" stroke="#f3f3f3" stroke-width="0.8"/>
<rect x="1759.73" y="1291.68" width="11.88" height="33.78" fill="#ebebeb" stroke="#f3f3f3" stroke-width="0.8"/>
<rect x="1771.61" y="1291.68" width="11.88" height="33.78" fill="#ebebeb" stroke="#f3f3f3" stroke-width="0.8"/>
<rect x="1783.5" y="1291.68" width="11.88" height="33.78" fill="#ebebeb" stroke="#f3f3f3" stroke-width="0.8"/>
<rect x="1795.38" y="1291.68" width="11.88" height="33.78" fill="#ebebeb" stroke="#f3f3f3" stroke-width="0.8"/>
<rect x="1807.27" y="1291.68" width="11.88" height="33.78" fill="#ebebeb" stroke="#f3f3f3" stroke-width="0.8"/>
<rect x="1819.15" y="1291.68" width="11.88" height="33.78" fill="#a8a8a8" stroke="#f3f3f3" stroke-width="0.8"/>
<rect x="1831.04" y="1291.68" width="11.88" height="33.78" fill="#ebebeb" stroke="#f3f3f3" stroke-width="0.8"/>
<rect x="1842.92" y="1291.68" width="11.88" height="33.78" fill="#ebebeb" stroke="#f3f3f3" stroke-width="0.8"/>
<rect x="1854.81" y="1291.68" width="11.88" height="33.78" fill="#ebebeb" stroke="#f3f3f3" stroke-width="0.8"/>
<rect x="1866.69" y="1291.68" width="11.88" height="33.78" fill="#ebebeb" stroke="#f3f3f3" stroke-width="0.8"/>
<rect x="1878.58" y="1291.68" width="11.88" height="33.78" fill="#ebebeb" stroke="#f3f3f3" stroke-width="0.8"/>
<rect x="1890.46" y="1291.68" width="11.88" height="33.78" fill="#ebebeb" stroke="#f3f3f3" stroke-width="0.8"/>
<rect x="1902.35" y="1291.68" width="11.88" height="33.78" fill="#ebebeb" stroke="#f3f3f3" stroke-width="0.8"/>
<rect x="1914.23" y="1291.68" width="11.88" height="33.78" fill="#ebebeb" stroke="#f3f3f3" stroke-width="0.8"/>
<rect x="1926.12" y="1291.68" width="11.88" height="33.78" fill="#ebebeb" stroke="#f3f3f3" stroke-width="0.8"/>
<rect x="1545.8" y="1325.46" width="11.88" height="33.78" fill="#ebebeb" stroke="#f3f3f3" stroke-width="0.8"/>
<rect x="1557.68" y="1325.46" width="11.88" height="33.78" fill="#ebebeb" stroke="#f3f3f3" stroke-width="0.8"/>
<rect x="1569.57" y="1325.46" width="11.88" height="33.78" fill="#ebebeb" stroke="#f3f3f3" stroke-width="0.8"/>
<rect x="1581.45" y="1325.46" width="11.88" height="33.78" fill="#ebebeb" stroke="#f3f3f3" stroke-width="0.8"/>
<rect x="1593.34" y="1325.46" width="11.88" height="33.78" fill="#a8a8a8" stroke="#f3f3f3" stroke-width="0.8"/>
<rect x="1605.22" y="1325.46" width="11.88" height="33.78" fill="#ebebeb" stroke="#f3f3f3" stroke-width="0.8"/>
<rect x="1617.11" y="1325.46" width="11.88" height="33.78" fill="#ebebeb" stroke="#f3f3f3" stroke-width="0.8"/>
<rect x="1628.99" y="1325.46" width="11.88" height="33.78" fill="#ebebeb" stroke="#f3f3f3" stroke-width="0.8"/>
<rect x="1640.88" y="1325.46" width="11.88" height="33.78" fill="#ebebeb" stroke="#f3f3f3" stroke-width="0.8"/>
<rect x="1652.76" y="1325.46" width="11.88" height="33.78" fill="#ebebeb" stroke="#f3f3f3" stroke-width="0.8"/>
<rect x="1664.65" y="1325.46" width="11.88" height="33.78" fill="#ebebeb" stroke="#f3f3f3" stroke-width="0.8"/>
<rect x="1676.53" y="1325.46" width="11.88" height="33.78" fill="#ebebeb" stroke="#f3f3f3" stroke-width="0.8"/>
<rect x="1688.42" y="1325.46" width="11.88" height="33.78" fill="#ebebeb" stroke="#f3f3f3" stroke-width="0.8"/>
<rect x="1700.3" y="1325.46" width="11.88" height="33.78" fill="#a8a8a8" stroke="#f3f3f3" stroke-width="0.8"/>
<rect x="1712.19" y="1325.46" width="11.88" height="33.78" fill="#ebebeb" stroke="#f3f3f3" stroke-width="0.8"/>
<rect x="1724.07" y="1325.46" width="11.88" height="33.78" fill="#ebebeb" stroke="#f3f3f3" stroke-width="0.8"/>
<rect x="1735.96" y="1325.46" width="11.88" height="33.78" fill="#ebebeb" stroke="#f3f3f3" stroke-width="0.8"/>
<rect x="1747.84" y="1325.46" width="11.88" height="33.78" fill="#ebebeb" stroke="#f3f3f3" stroke-width="0.8"/>
<rect x="1759.73" y="1325.46" width="11.88" height="33.78" fill="#ebebeb" stroke="#f3f3f3" stroke-width="0.8"/>
<rect x="1771.61" y="1325.46" width="11.88" height="33.78" fill="#ebebeb" stroke="#f3f3f3" stroke-width="0.8"/>
<rect x="1783.5" y="1325.46" width="11.88" height="33.78" fill="#ebebeb" stroke="#f3f3f3" stroke-width="0.8"/>
<rect x="1795.38" y="1325.46" width="11.88" height="33.78" fill="#ebebeb" stroke="#f3f3f3" stroke-width="0.8"/>
<rect x="1807.27" y="1325.46" width="11.88" height="33.78" fill="#ebebeb" stroke="#f3f3f3" stroke-width="0.8"/>
<rect x="1819.15" y="1325.46" width="11.88" height="33.78" fill="#ebebeb" stroke="#f3f3f3" stroke-width="0.8"/>
<rect x="1831.04" y="1325.46" width="11.88" height="33.78" fill="#ebebeb" stroke="#f3f3f3" stroke-width="0.8"/>
<rect x="1842.92" y="1325.46" width="11.88" height="33.78" fill="#ebebeb" stroke="#f3f3f3" stroke-width="0.8"/>
<rect x="1854.81" y="1325.46" width="11.88" height="33.78" fill="#ebebeb" stroke="#f3f3f3" stroke-width="0.8"/>
<rect x="1866.69" y="1325.46" width="11.88" height="33.78" fill="#ebebeb" stroke="#f3f3f3" stroke-width="0.8"/>
<rect x="1878.58" y="1325.46" width="11.88" height="33.78" fill="#ebebeb" stroke="#f3f3f3" stroke-width="0.8"/>
<rect x="1890.46" y="1325.46" width="11.88" height="33.78" fill="#ebebeb" stroke="#f3f3f3" stroke-width="0.8"/>
<rect x="1902.35" y="1325.46" width="11.88" height="33.78" fill="#ebebeb" stroke="#f3f3f3" stroke-width="0.8"/>
<rect x="1914.23" y="1325.46" width="11.88" height="33.78" fill="#ebebeb" stroke="#f3f3f3" stroke-width="0.8"/>
<rect x="1926.12" y="1325.46" width="11.88" height="33.78" fill="#ebebeb" stroke="#f3f3f3" stroke-width="0.8"/>
<rect x="1545.8" y="1359.23" width="11.88" height="33.78" fill="#ebebeb" stroke="#f3f3f3" stroke-width="0.8"/>
<rect x="1557.68" y="1359.23" width="11.88" height="33.78" fill="#ebebeb" stroke="#f3f3f3" stroke-width="0.8"/>
<rect x="1569.57" y="1359.23" width="11.88" height="33.78" fill="#0d0a0a" stroke="#f3f3f3" stroke-width="0.8"/>
<rect x="1581.45" y="1359.23" width="11.88" height="33.78" fill="#ebebeb" stroke="#f3f3f3" stroke-width="0.8"/>
<rect x="1593.34" y="1359.23" width="11.88" height="33.78" fill="#a8a8a8" stroke="#f3f3f3" stroke-width="0.8"/>
<rect x="1605.22" y="1359.23" width="11.88" height="33.78" fill="#ebebeb" stroke="#f3f3f3" stroke-width="0.8"/>
<rect x="1617.11" y="1359.23" width="11.88" height="33.78" fill="#ebebeb" stroke="#f3f3f3" stroke-width="0.8"/>
<rect x="1628.99" y="1359.23" width="11.88" height="33.78" fill="#ebebeb" stroke="#f3f3f3" stroke-width="0.8"/>
<rect x="1640.88" y="1359.23" width="11.88" height="33.78" fill="#a8a8a8" stroke="#f3f3f3" stroke-width="0.8"/>
<rect x="1652.76" y="1359.23" width="11.88" height="33.78" fill="#ebebeb" stroke="#f3f3f3" stroke-width="0.8"/>
<rect x="1664.65" y="1359.23" width="11.88" height="33.78" fill="#ebebeb" stroke="#f3f3f3" stroke-width="0.8"/>
<rect x="1676.53" y="1359.23" width="11.88" height="33.78" fill="#ebebeb" stroke="#f3f3f3" stroke-width="0.8"/>
<rect x="1688.42" y="1359.23" width="11.88" height="33.78" fill="#a8a8a8" stroke="#f3f3f3" stroke-width="0.8"/>
<rect x="1700.3" y="1359.23" width="11.88" height="33.78" fill="#ebebeb" stroke="#f3f3f3" stroke-width="0.8"/>
<rect x="1712.19" y="1359.23" width="11.88" height="33.78" fill="#ebebeb" stroke="#f3f3f3" stroke-width="0.8"/>
<rect x="1724.07" y="1359.23" width="11.88" height="33.78" fill="#ebebeb" stroke="#f3f3f3" stroke-width="0.8"/>
<rect x="1735.96" y="1359.23" width="11.88" height="33.78" fill="#ebebeb" stroke="#f3f3f3" stroke-width="0.8"/>
<rect x="1747.84" y="1359.23" width="11.88" height="33.78" fill="#ebebeb" stroke="#f3f3f3" stroke-width="0.8"/>
<rect x="1759.73" y="1359.23" width="11.88" height="33.78" fill="#ebebeb" stroke="#f3f3f3" stroke-width="0.8"/>
<rect x="1771.61" y="1359.23" width="11.88" height="33.78" fill="#ebebeb" stroke="#f3f3f3" stroke-width="0.8"/>
<rect x="1783.5" y="1359.23" width="11.88" height="33.78" fill="#ebebeb" stroke="#f3f3f3" stroke-width="0.8"/>
<rect x="1795.38" y="1359.23" width="11.88" height="33.78" fill="#ebebeb" stroke="#f3f3f3" stroke-width="0.8"/>
<rect x="1807.27" y="1359.23" width="11.88" height="33.78" fill="#ebebeb" stroke="#f3f3f3" stroke-width="0.8"/>
<rect x="1819.15" y="1359.23" width="11.88" height="33.78" fill="#ebebeb" stroke="#f3f3f3" stroke-width="0.8"/>
<rect x="1831.04" y="1359.23" width="11.88" height="33.78" fill="#ebebeb" stroke="#f3f3f3" stroke-width="0.8"/>
<rect x="1842.92" y="1359.23" width="11.88" height="33.78" fill="#ebebeb" stroke="#f3f3f3" stroke-width="0.8"/>
<rect x="1854.81" y="1359.23" width="11.88" height="33.78" fill="#ebebeb" stroke="#f3f3f3" stroke-width="0.8"/>
<rect x="1866.69" y="1359.23" width="11.88" height="33.78" fill="#ebebeb" stroke="#f3f3f3" stroke-width="0.8"/>
<rect x="1878.58" y="1359.23" width="11.88" height="33.78" fill="#ebebeb" stroke="#f3f3f3" stroke-width="0.8"/>
<rect x="1890.46" y="1359.23" width="11.88" height="33.78" fill="#ebebeb" stroke="#f3f3f3" stroke-width="0.8"/>
<rect x="1902.35" y="1359.23" width="11.88" height="33.78" fill="#ebebeb" stroke="#f3f3f3" stroke-width="0.8"/>
<rect x="1914.23" y="1359.23" width="11.88" height="33.78" fill="#ebebeb" stroke="#f3f3f3" stroke-width="0.8"/>
<rect x="1926.12" y="1359.23" width="11.88" height="33.78" fill="#ebebeb" stroke="#f3f3f3" stroke-width="0.8"/>
<rect x="1545.8" y="1393.01" width="11.88" height="33.78" fill="#a8a8a8" stroke="#f3f3f3" stroke-width="0.8"/>
<rect x="1557.68" y="1393.01" width="11.88" height="33.78" fill="#ebebeb" stroke="#f3f3f3" stroke-width="0.8"/>
<rect x="1569.57" y="1393.01" width="11.88" height="33.78" fill="#ebebeb" stroke="#f3f3f3" stroke-width="0.8"/>
<rect x="1581.45" y="1393.01" width="11.88" height="33.78" fill="#ebebeb" stroke="#f3f3f3" stroke-width="0.8"/>
<rect x="1593.34" y="1393.01" width="11.88" height="33.78" fill="#0d0a0a" stroke="#f3f3f3" stroke-width="0.8"/>
<rect x="1605.22" y="1393.01" width="11.88" height="33.78" fill="#ebebeb" stroke="#f3f3f3" stroke-width="0.8"/>
<rect x="1617.11" y="1393.01" width="11.88" height="33.78" fill="#ebebeb" stroke="#f3f3f3" stroke-width="0.8"/>
<rect x="1628.99" y="1393.01" width="11.88" height="33.78" fill="#ebebeb" stroke="#f3f3f3" stroke-width="0.8"/>
<rect x="1640.88" y="1393.01" width="11.88" height="33.78" fill="#ebebeb" stroke="#f3f3f3" stroke-width="0.8"/>
<rect x="1652.76" y="1393.01" width="11.88" height="33.78" fill="#ebebeb" stroke="#f3f3f3" stroke-width="0.8"/>
<rect x="1664.65" y="1393.01" width="11.88" height="33.78" fill="#ebebeb" stroke="#f3f3f3" stroke-width="0.8"/>
<rect x="1676.53" y="1393.01" width="11.88" height="33.78" fill="#ebebeb" stroke="#f3f3f3" stroke-width="0.8"/>
<rect x="1688.42" y="1393.01" width="11.88" height="33.78" fill="#a8a8a8" stroke="#f3f3f3" stroke-width="0.8"/>
<rect x="1700.3" y="1393.01" width="11.88" height="33.78" fill="#ebebeb" stroke="#f3f3f3" stroke-width="0.8"/>
<rect x="1712.19" y="1393.01" width="11.88" height="33.78" fill="#ebebeb" stroke="#f3f3f3" stroke-width="0.8"/>
<rect x="1724.07" y="1393.01" width="11.88" height="33.78" fill="#ebebeb" stroke="#f3f3f3" stroke-width="0.8"/>
<rect x="1735.96" y="1393.01" width="11.88" height="33.78" fill="#ebebeb" stroke="#f3f3f3" stroke-width="0.8"/>
<rect x="1747.84" y="1393.01" width="11.88" height="33.78" fill="#ebebeb" stroke="#f3f3f3" stroke-width="0.8"/>
<rect x="1759.73" y="1393.01" width="11.88" height="33.78" fill="#ebebeb" stroke="#f3f3f3" stroke-width="0.8"/>
<rect x="1771.61" y="1393.01" width="11.88" height="33.78" fill="#ebebeb" stroke="#f3f3f3" stroke-width="0.8"/>
<rect x="1783.5" y="1393.01" width="11.88" height="33.78" fill="#ebebeb" stroke="#f3f3f3" stroke-width="0.8"/>
<rect x="1795.38" y="1393.01" width="11.88" height="33.78" fill="#ebebeb" stroke="#f3f3f3" stroke-width="0.8"/>
<rect x="1807.27" y="1393.01" width="11.88" height="33.78" fill="#ebebeb" stroke="#f3f3f3" stroke-width="0.8"/>
<rect x="1819.15" y="1393.01" width="11.88" height="33.78" fill="#ebebeb" stroke="#f3f3f3" stroke-width="0.8"/>
<rect x="1831.04" y="1393.01" width="11.88" height="33.78" fill="#ebebeb" stroke="#f3f3f3" stroke-width="0.8"/>
<rect x="1842.92" y="1393.01" width="11.88" height="33.78" fill="#ebebeb" stroke="#f3f3f3" stroke-width="0.8"/>
<rect x="1854.81" y="1393.01" width="11.88" height="33.78" fill="#ebebeb" stroke="#f3f3f3" stroke-width="0.8"/>
<rect x="1866.69" y="1393.01" width="11.88" height="33.78" fill="#ebebeb" stroke="#f3f3f3" stroke-width="0.8"/>
<rect x="1878.58" y="1393.01" width="11.88" height="33.78" fill="#ebebeb" stroke="#f3f3f3" stroke-width="0.8"/>
<rect x="1890.46" y="1393.01" width="11.88" height="33.78" fill="#ebebeb" stroke="#f3f3f3" stroke-width="0.8"/>
<rect x="1902.35" y="1393.01" width="11.88" height="33.78" fill="#ebebeb" stroke="#f3f3f3" stroke-width="0.8"/>
<rect x="1914.23" y="1393.01" width="11.88" height="33.78" fill="#ebebeb" stroke="#f3f3f3" stroke-width="0.8"/>
<rect x="1926.12" y="1393.01" width="11.88" height="33.78" fill="#ebebeb" stroke="#f3f3f3" stroke-width="0.8"/>
<rect x="1545.8" y="1426.79" width="11.88" height="33.78" fill="#ebebeb" stroke="#f3f3f3" stroke-width="0.8"/>
<rect x="1557.68" y="1426.79" width="11.88" height="33.78" fill="#ebebeb" stroke="#f3f3f3" stroke-width="0.8"/>
<rect x="1569.57" y="1426.79" width="11.88" height="33.78" fill="#ebebeb" stroke="#f3f3f3" stroke-width="0.8"/>
<rect x="1581.45" y="1426.79" width="11.88" height="33.78" fill="#ebebeb" stroke="#f3f3f3" stroke-width="0.8"/>
<rect x="1593.34" y="1426.79" width="11.88" height="33.78" fill="#ebebeb" stroke="#f3f3f3" stroke-width="0.8"/>
<rect x="1605.22" y="1426.79" width="11.88" height="33.78" fill="#ebebeb" stroke="#f3f3f3" stroke-width="0.8"/>
<rect x="1617.11" y="1426.79" width="11.88" height="33.78" fill="#ebebeb" stroke="#f3f3f3" stroke-width="0.8"/>
<rect x="1628.99" y="1426.79" width="11.88" height="33.78" fill="#ebebeb" stroke="#f3f3f3" stroke-width="0.8"/>
<rect x="1640.88" y="1426.79" width="11.88" height="33.78" fill="#ebebeb" stroke="#f3f3f3" stroke-width="0.8"/>
<rect x="1652.76" y="1426.79" width="11.88" height="33.78" fill="#ebebeb" stroke="#f3f3f3" stroke-width="0.8"/>
<rect x="1664.65" y="1426.79" width="11.88" height="33.78" fill="#ebebeb" stroke="#f3f3f3" stroke-width="0.8"/>
<rect x="1676.53" y="1426.79" width="11.88" height="33.78" fill="#ebebeb" stroke="#f3f3f3" stroke-width="0.8"/>
<rect x="1688.42" y="1426.79" width="11.88" height="33.78" fill="#ebebeb" stroke="#f3f3f3" stroke-width="0.8"/>
<rect x="1700.3" y="1426.79" width="11.88" height="33.78" fill="#ebebeb" stroke="#f3f3f3" stroke-width="0.8"/>
<rect x="1712.19" y="1426.79" width="11.88" height="33.78" fill="#ebebeb" stroke="#f3f3f3" stroke-width="0.8"/>
<rect x="1724.07" y="1426.79" width="11.88" height="33.78" fill="#a8a8a8" stroke="#f3f3f3" stroke-width="0.8"/>
<rect x="1735.96" y="1426.79" width="11.88" height="33.78" fill="#ebebeb" stroke="#f3f3f3" stroke-width="0.8"/>
<rect x="1747.84" y="1426.79" width="11.88" height="33.78" fill="#ebebeb" stroke="#f3f3f3" stroke-width="0.8"/>
<rect x="1759.73" y="1426.79" width="11.88" height="33.78" fill="#ebebeb" stroke="#f3f3f3" stroke-width="0.8"/>
<rect x="1771.61" y="1426.79" width="11.88" height="33.78" fill="#ebebeb" stroke="#f3f3f3" stroke-width="0.8"/>
<rect x="1783.5" y="1426.79" width="11.88" height="33.78" fill="#ebebeb" stroke="#f3f3f3" stroke-width="0.8"/>
<rect x="1795.38" y="1426.79" width="11.88" height="33.78" fill="#ebebeb" stroke="#f3f3f3" stroke-width="0.8"/>
<rect x="1807.27" y="1426.79" width="11.88" height="33.78" fill="#a8a8a8" stroke="#f3f3f3" stroke-width="0.8"/>
<rect x="1819.15" y="1426.79" width="11.88" height="33.78" fill="#ebebeb" stroke="#f3f3f3" stroke-width="0.8"/>
<rect x="1831.04" y="1426.79" width="11.88" height="33.78" fill="#ebebeb" stroke="#f3f3f3" stroke-width="0.8"/>
<rect x="1842.92" y="1426.79" width="11.88" height="33.78" fill="#a8a8a8" stroke="#f3f3f3" stroke-width="0.8"/>
<rect x="1854.81" y="1426.79" width="11.88" height="33.78" fill="#ebebeb" stroke="#f3f3f3" stroke-width="0.8"/>
<rect x="1866.69" y="1426.79" width="11.88" height="33.78" fill="#ebebeb" stroke="#f3f3f3" stroke-width="0.8"/>
<rect x="1878.58" y="1426.79" width="11.88" height="33.78" fill="#ebebeb" stroke="#f3f3f3" stroke-width="0.8"/>
<rect x="1890.46" y="1426.79" width="11.88" height="33.78" fill="#ebebeb" stroke="#f3f3f3" stroke-width="0.8"/>
<rect x="1902.35" y="1426.79" width="11.88" height="33.78" fill="#ebebeb" stroke="#f3f3f3" stroke-width="0.8"/>
<rect x="1914.23" y="1426.79" width="11.88" height="33.78" fill="#ebebeb" stroke="#f3f3f3" stroke-width="0.8"/>
<rect x="1926.12" y="1426.79" width="11.88" height="33.78" fill="#ebebeb" stroke="#f3f3f3" stroke-width="0.8"/>
<rect x="1545.8" y="1460.57" width="11.88" height="33.78" fill="#ebebeb" stroke="#f3f3f3" stroke-width="0.8"/>
<rect x="1557.68" y="1460.57" width="11.88" height="33.78" fill="#ebebeb" stroke="#f3f3f3" stroke-width="0.8"/>
<rect x="1569.57" y="1460.57" width="11.88" height="33.78" fill="#ebebeb" stroke="#f3f3f3" stroke-width="0.8"/>
<rect x="1581.45" y="1460.57" width="11.88" height="33.78" fill="#ebebeb" stroke="#f3f3f3" stroke-width="0.8"/>
<rect x="1593.34" y="1460.57" width="11.88" height="33.78" fill="#a8a8a8" stroke="#f3f3f3" stroke-width="0.8"/>
<rect x="1605.22" y="1460.57" width="11.88" height="33.78" fill="#ebebeb" stroke="#f3f3f3" stroke-width="0.8"/>
<rect x="1617.11" y="1460.57" width="11.88" height="33.78" fill="#ebebeb" stroke="#f3f3f3" stroke-width="0.8"/>
<rect x="1628.99" y="1460.57" width="11.88" height="33.78" fill="#ebebeb" stroke="#f3f3f3" stroke-width="0.8"/>
<rect x="1640.88" y="1460.57" width="11.88" height="33.78" fill="#a8a8a8" stroke="#f3f3f3" stroke-width="0.8"/>
<rect x="1652.76" y="1460.57" width="11.88" height="33.78" fill="#ebebeb" stroke="#f3f3f3" stroke-width="0.8"/>
<rect x="1664.65" y="1460.57" width="11.88" height="33.78" fill="#ebebeb" stroke="#f3f3f3" stroke-width="0.8"/>
<rect x="1676.53" y="1460.57" width="11.88" height="33.78" fill="#ebebeb" stroke="#f3f3f3" stroke-width="0.8"/>
<rect x="1688.42" y="1460.57" width="11.88" height="33.78" fill="#ebebeb" stroke="#f3f3f3" stroke-width="0.8"/>
<rect x="1700.3" y="1460.57" width="11.88" height="33.78" fill="#ebebeb" stroke="#f3f3f3" stroke-width="0.8"/>
<rect x="1712.19" y="1460.57" width="11.88" height="33.78" fill="#ebebeb" stroke="#f3f3f3" stroke-width="0.8"/>
<rect x="1724.07" y="1460.57" width="11.88" height="33.78" fill="#ebebeb" stroke="#f3f3f3" stroke-width="0.8"/>
<rect x="1735.96" y="1460.57" width="11.88" height="33.78" fill="#ebebeb" stroke="#f3f3f3" stroke-width="0.8"/>
<rect x="1747.84" y="1460.57" width="11.88" height="33.78" fill="#ebebeb" stroke="#f3f3f3" stroke-width="0.8"/>
<rect x="1759.73" y="1460.57" width="11.88" height="33.78" fill="#ebebeb" stroke="#f3f3f3" stroke-width="0.8"/>
<rect x="1771.61" y="1460.57" width="11.88" height="33.78" fill="#ebebeb" stroke="#f3f3f3" stroke-width="0.8"/>
<rect x="1783.5" y="1460.57" width="11.88" height="33.78" fill="#ebebeb" stroke="#f3f3f3" stroke-width="0.8"/>
<rect x="1795.38" y="1460.57" width="11.88" height="33.78" fill="#ebebeb" stroke="#f3f3f3" stroke-width="0.8"/>
<rect x="1807.27" y="1460.57" width="11.88" height="33.78" fill="#ebebeb" stroke="#f3f3f3" stroke-width="0.8"/>
<rect x="1819.15" y="1460.57" width="11.88" height="33.78" fill="#ebebeb" stroke="#f3f3f3" stroke-width="0.8"/>
<rect x="1831.04" y="1460.57" width="11.88" height="33.78" fill="#ebebeb" stroke="#f3f3f3" stroke-width="0.8"/>
<rect x="1842.92" y="1460.57" width="11.88" height="33.78" fill="#ebebeb" stroke="#f3f3f3" stroke-width="0.8"/>
<rect x="1854.81" y="1460.57" width="11.88" height="33.78" fill="#ebebeb" stroke="#f3f3f3" stroke-width="0.8"/>
<rect x="1866.69" y="1460.57" width="11.88" height="33.78" fill="#ebebeb" stroke="#f3f3f3" stroke-width="0.8"/>
<rect x="1878.58" y="1460.57" width="11.88" height="33.78" fill="#ebebeb" stroke="#f3f3f3" stroke-width="0.8"/>
<rect x="1890.46" y="1460.57" width="11.88" height="33.78" fill="#ebebeb" stroke="#f3f3f3" stroke-width="0.8"/>
<rect x="1902.35" y="1460.57" width="11.88" height="33.78" fill="#ebebeb" stroke="#f3f3f3" stroke-width="0.8"/>
<rect x="1914.23" y="1460.57" width="11.88" height="33.78" fill="#ebebeb" stroke="#f3f3f3" stroke-width="0.8"/>
<rect x="1926.12" y="1460.57" width="11.88" height="33.78" fill="#ebebeb" stroke="#f3f3f3" stroke-width="0.8"/>
<rect x="1545.8" y="1494.34" width="11.88" height="33.78" fill="#ebebeb" stroke="#f3f3f3" stroke-width="0.8"/>
<rect x="1557.68" y="1494.34" width="11.88" height="33.78" fill="#ebebeb" stroke="#f3f3f3" stroke-width="0.8"/>
<rect x="1569.57" y="1494.34" width="11.88" height="33.78" fill="#ebebeb" stroke="#f3f3f3" stroke-width="0.8"/>
<rect x="1581.45" y="1494.34" width="11.88" height="33.78" fill="#ebebeb" stroke="#f3f3f3" stroke-width="0.8"/>
<rect x="1593.34" y="1494.34" width="11.88" height="33.78" fill="#ebebeb" stroke="#f3f3f3" stroke-width="0.8"/>
<rect x="1605.22" y="1494.34" width="11.88" height="33.78" fill="#ebebeb" stroke="#f3f3f3" stroke-width="0.8"/>
<rect x="1617.11" y="1494.34" width="11.88" height="33.78" fill="#ebebeb" stroke="#f3f3f3" stroke-width="0.8"/>
<rect x="1628.99" y="1494.34" width="11.88" height="33.78" fill="#ebebeb" stroke="#f3f3f3" stroke-width="0.8"/>
<rect x="1640.88" y="1494.34" width="11.88" height="33.78" fill="#ebebeb" stroke="#f3f3f3" stroke-width="0.8"/>
<rect x="1652.76" y="1494.34" width="11.88" height="33.78" fill="#a8a8a8" stroke="#f3f3f3" stroke-width="0.8"/>
<rect x="1664.65" y="1494.34" width="11.88" height="33.78" fill="#ebebeb" stroke="#f3f3f3" stroke-width="0.8"/>
<rect x="1676.53" y="1494.34" width="11.88" height="33.78" fill="#ebebeb" stroke="#f3f3f3" stroke-width="0.8"/>
<rect x="1688.42" y="1494.34" width="11.88" height="33.78" fill="#ebebeb" stroke="#f3f3f3" stroke-width="0.8"/>
<rect x="1700.3" y="1494.34" width="11.88" height="33.78" fill="#ebebeb" stroke="#f3f3f3" stroke-width="0.8"/>
<rect x="1712.19" y="1494.34" width="11.88" height="33.78" fill="#ebebeb" stroke="#f3f3f3" stroke-width="0.8"/>
<rect x="1724.07" y="1494.34" width="11.88" height="33.78" fill="#ebebeb" stroke="#f3f3f3" stroke-width="0.8"/>
<rect x="1735.96" y="1494.34" width="11.88" height="33.78" fill="#ebebeb" stroke="#f3f3f3" stroke-width="0.8"/>
<rect x="1747.84" y="1494.34" width="11.88" height="33.78" fill="#ebebeb" stroke="#f3f3f3" stroke-width="0.8"/>
<rect x="1759.73" y="1494.34" width="11.88" height="33.78" fill="#ebebeb" stroke="#f3f3f3" stroke-width="0.8"/>
<rect x="1771.61" y="1494.34" width="11.88" height="33.78" fill="#a8a8a8" stroke="#f3f3f3" stroke-width="0.8"/>
<rect x="1783.5" y="1494.34" width="11.88" height="33.78" fill="#ebebeb" stroke="#f3f3f3" stroke-width="0.8"/>
<rect x="1795.38" y="1494.34" width="11.88" height="33.78" fill="#ebebeb" stroke="#f3f3f3" stroke-width="0.8"/>
<rect x="1807.27" y="1494.34" width="11.88" height="33.78" fill="#a8a8a8" stroke="#f3f3f3" stroke-width="0.8"/>
<rect x="1819.15" y="1494.34" width="11.88" height="33.78" fill="#ebebeb" stroke="#f3f3f3" stroke-width="0.8"/>
<rect x="1831.04" y="1494.34" width="11.88" height="33.78" fill="#ebebeb" stroke="#f3f3f3" stroke-width="0.8"/>
<rect x="1842.92" y="1494.34" width="11.88" height="33.78" fill="#ebebeb" stroke="#f3f3f3" stroke-width="0.8"/>
<rect x="1854.81" y="1494.34" width="11.88" height="33.78" fill="#ebebeb" stroke="#f3f3f3" stroke-width="0.8"/>
<rect x="1866.69" y="1494.34" width="11.88" height="33.78" fill="#ebebeb" stroke="#f3f3f3" stroke-width="0.8"/>
<rect x="1878.58" y="1494.34" width="11.88" height="33.78" fill="#ebebeb" stroke="#f3f3f3" stroke-width="0.8"/>
<rect x="1890.46" y="1494.34" width="11.88" height="33.78" fill="#ebebeb" stroke="#f3f3f3" stroke-width="0.8"/>
<rect x="1902.35" y="1494.34" width="11.88" height="33.78" fill="#ebebeb" stroke="#f3f3f3" stroke-width="0.8"/>
<rect x="1914.23" y="1494.34" width="11.88" height="33.78" fill="#ebebeb" stroke="#f3f3f3" stroke-width="0.8"/>
<rect x="1926.12" y="1494.34" width="11.88" height="33.78" fill="#ebebeb" stroke="#f3f3f3" stroke-width="0.8"/>
<rect x="1545.8" y="1528.12" width="11.88" height="33.78" fill="#ebebeb" stroke="#f3f3f3" stroke-width="0.8"/>
<rect x="1557.68" y="1528.12" width="11.88" height="33.78" fill="#a8a8a8" stroke="#f3f3f3" stroke-width="0.8"/>
<rect x="1569.57" y="1528.12" width="11.88" height="33.78" fill="#ebebeb" stroke="#f3f3f3" stroke-width="0.8"/>
<rect x="1581.45" y="1528.12" width="11.88" height="33.78" fill="#ebebeb" stroke="#f3f3f3" stroke-width="0.8"/>
<rect x="1593.34" y="1528.12" width="11.88" height="33.78" fill="#ebebeb" stroke="#f3f3f3" stroke-width="0.8"/>
<rect x="1605.22" y="1528.12" width="11.88" height="33.78" fill="#ebebeb" stroke="#f3f3f3" stroke-width="0.8"/>
<rect x="1617.11" y="1528.12" width="11.88" height="33.78" fill="#ebebeb" stroke="#f3f3f3" stroke-width="0.8"/>
<rect x="1628.99" y="1528.12" width="11.88" height="33.78" fill="#ebebeb" stroke="#f3f3f3" stroke-width="0.8"/>
<rect x="1640.88" y="1528.12" width="11.88" height="33.78" fill="#ebebeb" stroke="#f3f3f3" stroke-width="0.8"/>
<rect x="1652.76" y="1528.12" width="11.88" height="33.78" fill="#ebebeb" stroke="#f3f3f3" stroke-width="0.8"/>
<rect x="1664.65" y="1528.12" width="11.88" height="33.78" fill="#ebebeb" stroke="#f3f3f3" stroke-width="0.8"/>
<rect x="1676.53" y="1528.12" width="11.88" height="33.78" fill="#ebebeb" stroke="#f3f3f3" stroke-width="0.8"/>
<rect x="1688.42" y="1528.12" width="11.88" height="33.78" fill="#ebebeb" stroke="#f3f3f3" stroke-width="0.8"/>
<rect x="1700.3" y="1528.12" width="11.88" height="33.78" fill="#ebebeb" stroke="#f3f3f3" stroke-width="0.8"/>
<rect x="1712.19" y="1528.12" width="11.88" height="33.78" fill="#ebebeb" stroke="#f3f3f3" stroke-width="0.8"/>
<rect x="1724.07" y="1528.12" width="11.88" height="33.78" fill="#ebebeb" stroke="#f3f3f3" stroke-width="0.8"/>
<rect x="1735.96" y="1528.12" width="11.88" height="33.78" fill="#ebebeb" stroke="#f3f3f3" stroke-width="0.8"/>
<rect x="1747.84" y="1528.12" width="11.88" height="33.78" fill="#ebebeb" stroke="#f3f3f3" stroke-width="0.8"/>
<rect x="1759.73" y="1528.12" width="11.88" height="33.78" fill="#ebebeb" stroke="#f3f3f3" stroke-width="0.8"/>
<rect x="1771.61" y="1528.12" width="11.88" height="33.78" fill="#ebebeb" stroke="#f3f3f3" stroke-width="0.8"/>
<rect x="1783.5" y="1528.12" width="11.88" height="33.78" fill="#ebebeb" stroke="#f3f3f3" stroke-width="0.8"/>
<rect x="1795.38" y="1528.12" width="11.88" height="33.78" fill="#ebebeb" stroke="#f3f3f3" stroke-width="0.8"/>
<rect x="1807.27" y="1528.12" width="11.88" height="33.78" fill="#ebebeb" stroke="#f3f3f3" stroke-width="0.8"/>
<rect x="1819.15" y="1528.12" width="11.88" height="33.78" fill="#ebebeb" stroke="#f3f3f3" stroke-width="0.8"/>
<rect x="1831.04" y="1528.12" width="11.88" height="33.78" fill="#ebebeb" stroke="#f3f3f3" stroke-width="0.8"/>
<rect x="1842.92" y="1528.12" width="11.88" height="33.78" fill="#ebebeb" stroke="#f3f3f3" stroke-width="0.8"/>
<rect x="1854.81" y="1528.12" width="11.88" height="33.78" fill="#ebebeb" stroke="#f3f3f3" stroke-width="0.8"/>
<rect x="1866.69" y="1528.12" width="11.88" height="33.78" fill="#ebebeb" stroke="#f3f3f3" stroke-width="0.8"/>
<rect x="1878.58" y="1528.12" width="11.88" height="33.78" fill="#ebebeb" stroke="#f3f3f3" stroke-width="0.8"/>
<rect x="1890.46" y="1528.12" width="11.88" height="33.78" fill="#ebebeb" stroke="#f3f3f3" stroke-width="0.8"/>
<rect x="1902.35" y="1528.12" width="11.88" height="33.78" fill="#ebebeb" stroke="#f3f3f3" stroke-width="0.8"/>
<rect x="1914.23" y="1528.12" width="11.88" height="33.78" fill="#ebebeb" stroke="#f3f3f3" stroke-width="0.8"/>
<rect x="1926.12" y="1528.12" width="11.88" height="33.78" fill="#ebebeb" stroke="#f3f3f3" stroke-width="0.8"/>
<line x1="1557.68" y1="1228.1" x2="1557.68" y2="1257.9" stroke="rgba(255,255,255,0.18)" stroke-width="0.6"/>
<line x1="1569.57" y1="1228.1" x2="1569.57" y2="1257.9" stroke="rgba(255,255,255,0.18)" stroke-width="0.6"/>
<line x1="1581.45" y1="1228.1" x2="1581.45" y2="1257.9" stroke="rgba(255,255,255,0.18)" stroke-width="0.6"/>
<line x1="1593.34" y1="1228.1" x2="1593.34" y2="1257.9" stroke="rgba(255,255,255,0.18)" stroke-width="0.6"/>
<line x1="1605.22" y1="1228.1" x2="1605.22" y2="1257.9" stroke="rgba(255,255,255,0.18)" stroke-width="0.6"/>
<line x1="1617.11" y1="1228.1" x2="1617.11" y2="1257.9" stroke="rgba(255,255,255,0.18)" stroke-width="0.6"/>
<line x1="1628.99" y1="1228.1" x2="1628.99" y2="1257.9" stroke="rgba(255,255,255,0.18)" stroke-width="0.6"/>
<line x1="1640.88" y1="1228.1" x2="1640.88" y2="1257.9" stroke="rgba(255,255,255,0.18)" stroke-width="0.6"/>
<line x1="1652.76" y1="1228.1" x2="1652.76" y2="1257.9" stroke="rgba(255,255,255,0.18)" stroke-width="0.6"/>
<line x1="1664.65" y1="1228.1" x2="1664.65" y2="1257.9" stroke="rgba(255,255,255,0.18)" stroke-width="0.6"/>
<line x1="1676.53" y1="1228.1" x2="1676.53" y2="1257.9" stroke="rgba(255,255,255,0.18)" stroke-width="0.6"/>
<line x1="1688.42" y1="1228.1" x2="1688.42" y2="1257.9" stroke="rgba(255,255,255,0.18)" stroke-width="0.6"/>
<line x1="1700.3" y1="1228.1" x2="1700.3" y2="1257.9" stroke="rgba(255,255,255,0.18)" stroke-width="0.6"/>
<line x1="1712.19" y1="1228.1" x2="1712.19" y2="1257.9" stroke="rgba(255,255,255,0.18)" stroke-width="0.6"/>
<line x1="1724.07" y1="1228.1" x2="1724.07" y2="1257.9" stroke="rgba(255,255,255,0.18)" stroke-width="0.6"/>
<line x1="1735.96" y1="1228.1" x2="1735.96" y2="1257.9" stroke="rgba(255,255,255,0.18)" stroke-width="0.6"/>
<line x1="1747.84" y1="1228.1" x2="1747.84" y2="1257.9" stroke="rgba(255,255,255,0.18)" stroke-width="0.6"/>
<line x1="1759.73" y1="1228.1" x2="1759.73" y2="1257.9" stroke="rgba(255,255,255,0.18)" stroke-width="0.6"/>
<line x1="1771.61" y1="1228.1" x2="1771.61" y2="1257.9" stroke="rgba(255,255,255,0.18)" stroke-width="0.6"/>
<line x1="1783.5" y1="1228.1" x2="1783.5" y2="1257.9" stroke="rgba(255,255,255,0.18)" stroke-width="0.6"/>
<line x1="1795.38" y1="1228.1" x2="1795.38" y2="1257.9" stroke="rgba(255,255,255,0.18)" stroke-width="0.6"/>
<line x1="1807.27" y1="1228.1" x2="1807.27" y2="1257.9" stroke="rgba(255,255,255,0.18)" stroke-width="0.6"/>
<line x1="1819.15" y1="1228.1" x2="1819.15" y2="1257.9" stroke="rgba(255,255,255,0.18)" stroke-width="0.6"/>
<line x1="1831.04" y1="1228.1" x2="1831.04" y2="1257.9" stroke="rgba(255,255,255,0.18)" stroke-width="0.6"/>
<line x1="1842.92" y1="1228.1" x2="1842.92" y2="1257.9" stroke="rgba(255,255,255,0.18)" stroke-width="0.6"/>
<line x1="1854.81" y1="1228.1" x2="1854.81" y2="1257.9" stroke="rgba(255,255,255,0.18)" stroke-width="0.6"/>
<line x1="1866.69" y1="1228.1" x2="1866.69" y2="1257.9" stroke="rgba(255,255,255,0.18)" stroke-width="0.6"/>
<line x1="1878.58" y1="1228.1" x2="1878.58" y2="1257.9" stroke="rgba(255,255,255,0.18)" stroke-width="0.6"/>
<line x1="1890.46" y1="1228.1" x2="1890.46" y2="1257.9" stroke="rgba(255,255,255,0.18)" stroke-width="0.6"/>
<line x1="1902.35" y1="1228.1" x2="1902.35" y2="1257.9" stroke="rgba(255,255,255,0.18)" stroke-width="0.6"/>
<line x1="1914.23" y1="1228.1" x2="1914.23" y2="1257.9" stroke="rgba(255,255,255,0.18)" stroke-width="0.6"/>
<line x1="1926.12" y1="1228.1" x2="1926.12" y2="1257.9" stroke="rgba(255,255,255,0.18)" stroke-width="0.6"/>
<text x="1536.1" y="1245.2" font-size="16.6" text-anchor="end" font-weight="bold" fill="#b5121b">HRD score</text>
<text x="1534.4" y="1281.99" font-size="16.4" text-anchor="end" fill="#111" stroke="#111" stroke-width="0.3">MUTYH</text>
<text x="1534.4" y="1315.77" font-size="16.4" text-anchor="end" fill="#111" stroke="#111" stroke-width="0.3">CHEK2</text>
<text x="1534.4" y="1349.54" font-size="16.4" text-anchor="end" fill="#111" stroke="#111" stroke-width="0.3">TP53</text>
<text x="1534.4" y="1383.32" font-size="16.4" text-anchor="end" fill="#111" stroke="#111" stroke-width="0.3">ATM</text>
<text x="1534.4" y="1417.1" font-size="16.4" text-anchor="end" fill="#111" stroke="#111" stroke-width="0.3">BRCA1</text>
<text x="1534.4" y="1450.88" font-size="16.4" text-anchor="end" fill="#111" stroke="#111" stroke-width="0.3">BRCA2</text>
<text x="1534.4" y="1484.66" font-size="16.4" text-anchor="end" fill="#111" stroke="#111" stroke-width="0.3">MLH1</text>
<text x="1534.4" y="1518.43" font-size="16.4" text-anchor="end" fill="#111" stroke="#111" stroke-width="0.3">PMS2</text>
<text x="1534.4" y="1552.21" font-size="16.4" text-anchor="end" fill="#111" stroke="#111" stroke-width="0.3">MGMT</text>
<text x="1561.7" y="1597" font-size="16.3" text-anchor="start" fill="#111" stroke="#111" stroke-width="0.3">Normal</text>
<rect x="1620.6" y="1577" width="28.5" height="28.5" fill="#ebebeb"/>
<text x="1710.6" y="1597" font-size="16.3" text-anchor="start" fill="#111" stroke="#111" stroke-width="0.3">Loss</text>
<rect x="1750.7" y="1577" width="28.5" height="28.5" fill="#a8a8a8"/>
<text x="1836" y="1598" font-size="16.3" text-anchor="start" fill="#111" stroke="#111" stroke-width="0.3">Deletion</text>
<rect x="1902" y="1577" width="28.9" height="28.9" fill="#0d0a0a"/>
</svg></body></html>
